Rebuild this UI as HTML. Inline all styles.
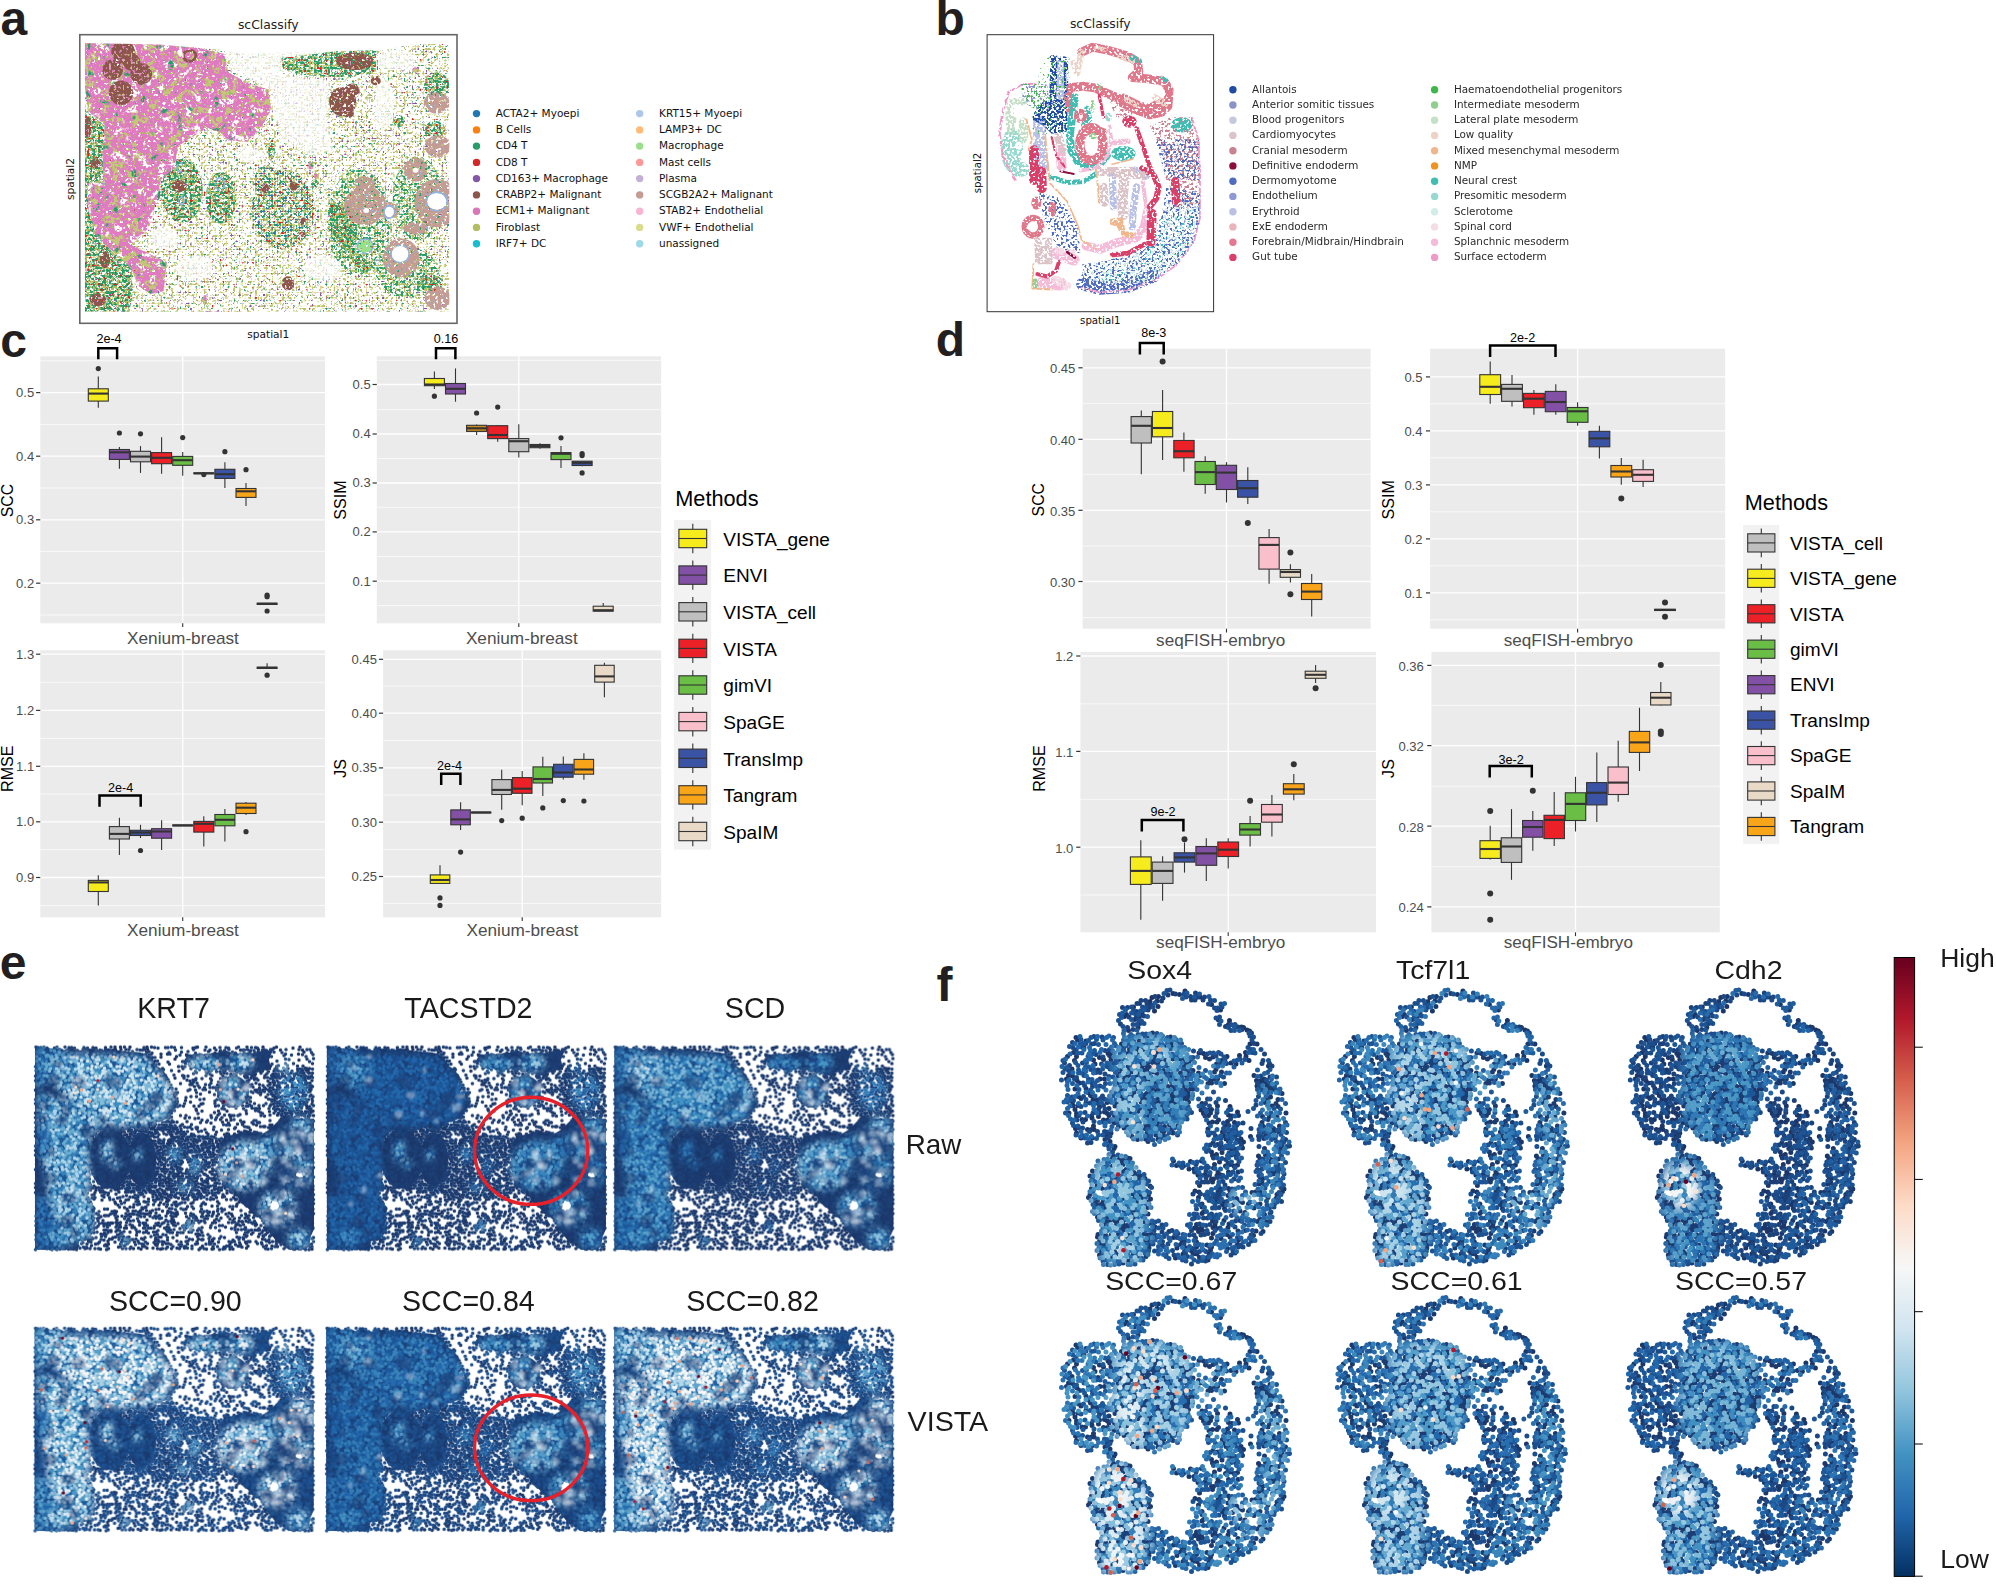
<!DOCTYPE html><html><head><meta charset="utf-8"><title>figure</title><style>html,body{margin:0;padding:0;background:#fff}svg{display:block}</style></head><body>
<svg width="1996" height="1585" viewBox="0 0 1996 1585">
<rect width="1996" height="1585" fill="#fff"/>
<defs><filter id="bl4" x="-30%" y="-30%" width="160%" height="160%"><feGaussianBlur stdDeviation="3"/></filter>
<filter id="bl2" x="-30%" y="-30%" width="160%" height="160%"><feGaussianBlur stdDeviation="1.2"/></filter>
<mask id="eM0" maskUnits="userSpaceOnUse" x="-20" y="-20" width="319" height="243"><g transform="scale(.5)"><path d="M22 5h0m2-2h0m2 2h0m13-2h0m2 3h0m12 2h0m21 0h0m32-2h0m6 2h0m6-2h0m28 1h0m11 0h0m3-6h0m1 5h0m10-5h0m1 5h0m10 0h0m8-5h0m34 0h0m1 4h0m91-2h0m5-1h0m90 5h0m45-6h0m7 7h0m28-1h0m39-6h0m5 6h0m21 9h0m-18-5h0m-11 4h0m-83 5h0m-6-4h0m-33 2h0m-4-5h0m-1 3h0m-11 1h0m-3 3h0m-5-4h0m-4-1h0m-5 2h0m-10 0h0m-2-4h0m-5 3h0m-8-6h0m-7 8h0m-37-1h0m-20 3h0m-18-5h0m-37-5h0m-14 8h0m-4-2h0m-22-1h0m-19-4h0m-3 0h0m-6 5h0m-5 1h0m-9-2h0m-8 5h0m-16-3h0m-7-4h0m-2 2h0m-3-5h0m-3 5h0m-16 0h0m-5 2h0m-11-1h0m-12 0h0m-23 4h0m-4-3h0m0-4h0m-8-2h0m-3 0h0m-8 4h0m-10 4h0m11 2h0m9 5h0m12 3h0m13-8h0m36-1h0m23 0h0m3 4h0m2 6h0m42-9h0m12 0h0m11 1h0m9 0h0m5 4h0m2-5h0m8 6h0m11-2h0m7-4h0m6 1h0m6 0h0m5 7h0m40-4h0m30 5h0m1-9h0m3 1h0m7-1h0m20 1h0m3 5h0m5-7h0m8 2h0m6-2h0m3 4h0m3-3h0m20 4h0m6 0h0m4 2h0m5-2h0m18 2h0m21-2h0m5-1h0m80 3h0m27 7h0m-30 5h0m-54 0h0m-29-5h0m-30 6h0m-8-4h0m-2-5h0m-2 8h0m-3-8h0m-6 0h0m-2 9h0m-3-1h0m-7 0h0m-3-5h0m0 6h0m-6-10h0m-2 9h0m-10 0h0m-6-9h0m-8 4h0m-11 0h0m-3 2h0m-31-6h0m-30 5h0m-28 3h0m-4-4h0m-6 2h0m-5-2h0m-2 4h0m-5-7h0m-7-1h0m-19 6h0m-3 4h0m-8-6h0m-8 5h0m-8-4h0m-3-1h0m-4-3h0m0 7h0m-4-4h0m-3-3h0m-8 9h0m-7-1h0m-7-5h0m-12 0h0m-8 5h0m-6 0h0m-6-9h0m-10 1h0m-10 7h0m-3-2h0m-7-2h0m-8 1h0m-3-5h0m-29 0h0m-11 1h0m-8 3h0m-3 15h0m10-3h0m19 2h0m11-8h0m5 8h0m16-7h0m5 9h0m28 0h0m20-7h0m14 3h0m13-3h0m4 0h0m17 0h0m3 2h0m9 4h0m11-1h0m7-3h0m3 3h0m3-2h0m3 4h0m15-6h0m1 5h0m12-9h0m2 5h0m18-1h0m33 5h0m24-5h0m20-4h0m8 4h0m4-1h0m10-3h0m48 9h0m1-4h0m8-2h0m4 2h0m5 1h0m4-6h0m3 5h0m16-1h0m5 1h0m21-2h0m30 5h0m7-4h0m37 4h0m1-4h0m2 4h0m3-4h0m0 9h0m-17 6h0m-9-5h0m-4 4h0m-7-5h0m-13 6h0m-21 0h0m-2-4h0m-42 4h0m-42-4h0m-14-2h0m-8-3h0m-16 8h0m-56 1h0m-55-5h0m-10-4h0m-1 5h0m-5-2h0m-3 6h0m-10-5h0m-27 5h0m-13-2h0m-2-3h0m-3 5h0m-3-1h0m-3-5h0m-3 6h0m-3-6h0m-18 7h0m-30-1h0m-2-5h0m-6 0h0m-17 6h0m-4-6h0m-14 5h0m-8-4h0m-25-1h0m-6-1h0m-11 0h0m-4 6h0m-11 0h0m6 8h0m2-6h0m13 3h0m1 4h0m10-2h0m14-2h0m10 4h0m8-6h0m15 1h0m13 5h0m28 1h0m10-2h0m7 1h0m11-2h0m30 0h0m5-4h0m2 5h0m3-5h0m16 0h0m5 0h0m11 0h0m2 6h0m20-6h0m23 4h0m44 3h0m11-2h0m64 2h0m40-7h0m85 7h0m1-6h0m4 4h0m2-3h0m10 3h0m13-4h0m1 5h0m13 0h0m-12 8h0m-27 0h0m-10 2h0m-17-1h0m-18-4h0m-14 5h0m-7-2h0m-23-4h0m-61 5h0m-52-3h0m-60-2h0m-9 6h0m-18-6h0m-11-1h0m-3 7h0m-17-2h0m-17-4h0m-29 4h0m-29 0h0m-39-4h0m-10-1h0m-7 0h0m-4 1h0m-5 6h0m-16 0h0m-4-2h0m-14-2h0m-20 13h0m20-6h0m3 6h0m4-2h0m3-2h0m20 3h0m5 1h0m16 0h0m37-2h0m5-4h0m3 9h0m2-9h0m10 1h0m20 4h0m3-5h0m13 5h0m7-5h0m9 5h0m6-1h0m10 2h0m51-5h0m2 3h0m2-3h0m14 4h0m4-4h0m86 0h0m20 3h0m2-3h0m7 4h0m11 0h0m12-3h0m10 5h0m22-1h0m3 3h0m1-3h0m5-4h0m7 4h0m6-2h0m9 3h0m6-2h0m13-4h0m11 0h0m13-1h0m3 1h0m6 0h0m1 8h0m12-4h0m13 0h0m3 0h0m3-6h0m-5 10h0m-13 6h0m-2 4h0m0-8h0m-7 8h0m-3-3h0m-3-2h0m-9-3h0m-30 2h0m-6 3h0m-25-5h0m-26 8h0m-22-1h0m-19-3h0m-18 3h0m-18-8h0m-70 8h0m-1-4h0m-14 5h0m-15-9h0m-21 6h0m-12-6h0m-11 8h0m0-8h0m-2 4h0m-34 2h0m-2-7h0m-35 5h0m-18 1h0m-26 1h0m-8-5h0m-2 4h0m-15-4h0m-9 0h0m-12 0h0m-1 8h0m-27-8h0m-8 5h0m-3-1h0m10 10h0m4 4h0m8-4h0m1-6h0m6 2h0m28 8h0m4-9h0m20 3h0m13-3h0m6 0h0m6 8h0m5 1h0m43-4h0m11-6h0m25 1h0m8 4h0m3 4h0m8-3h0m14-5h0m3 3h0m4 5h0m14 0h0m5-8h0m6 8h0m8-5h0m6 2h0m29 2h0m1-6h0m89 3h0m3 5h0m25-8h0m5 4h0m7-4h0m31-1h0m15 5h0m4-5h0m2 3h0m7-3h0m11-1h0m15 4h0m3-2h0m10 8h0m14 8h0m-12-3h0m-10 0h0m-16-1h0m-10 6h0m-6-6h0m-32 4h0m-33-5h0m-9 5h0m-17 0h0m-12-5h0m-10 0h0m-44 2h0m-14 4h0m-28-1h0m-11-7h0m0 7h0m-16 1h0m-22 1h0m-5-10h0m-17 5h0m-10-1h0m-6-1h0m-3-3h0m-5 5h0m-1 3h0m-11 1h0m-1-9h0m-31 10h0m-29-7h0m-19 6h0m-6 0h0m-16-8h0m-5 8h0m-10-5h0m-12 5h0m-3-4h0m-4-4h0m-8 0h0m-6 9h0m-7-1h0m-1-8h0m-17 13h0m5 0h0m9-4h0m2 5h0m2 4h0m27-1h0m13-4h0m6 0h0m11 1h0m3 5h0m1-7h0m16 7h0m1-5h0m5-1h0m9 4h0m6 0h0m3-3h0m4-2h0m4-3h0m6 0h0m4 0h0m3 4h0m9 5h0m6-4h0m3 2h0m24 1h0m5-4h0m22 5h0m14-2h0m2-2h0m16 2h0m0-4h0m18 1h0m2 4h0m54 0h0m44 1h0m17 0h0m60-5h0m25 6h0m27-1h0m13-1h0m16-5h0m4-3h0m15 3h0m3 1h0m4 3h0m5 2h0m1 9h0m-5-6h0m-6 7h0m-35-6h0m-9 3h0m-15-3h0m-2 4h0m-34-5h0m-62 5h0m-23 0h0m-14 1h0m-50 0h0m-35-5h0m-36 5h0m-1-3h0m-5-1h0m-5 5h0m-8-5h0m-2 4h0m-7-4h0m-9 3h0m-25-3h0m-26-1h0m-18 0h0m-12 4h0m-10 2h0m-12-1h0m-17-5h0m-9 4h0m-4-4h0m-7 6h0m-8-6h0m-26 1h0m-12-2h0m-7 1h0m9 14h0m9-4h0m1 3h0m9-5h0m25 5h0m1-4h0m24 0h0m19 5h0m3 1h0m3-4h0m9 3h0m22 0h0m2-5h0m9 5h0m3-3h0m7 3h0m24-6h0m6 3h0m17-1h0m32 1h0m16-2h0m120 4h0m12 1h0m8-6h0m1 6h0m101-3h0m6-3h0m7 7h0m17 0h0m6 0h0m4-2h0m7 2h0m11 8h0m-5 0h0m-9 4h0m-23-2h0m-9-7h0m-5 0h0m-26 6h0m-4 0h0m-10 3h0m-11-8h0m-6 5h0m-25-6h0m-3 5h0m-10-1h0m-18-2h0m-83-3h0m-20 1h0m-12 1h0m-33 8h0m-4-8h0m-5 0h0m-4 4h0m-17 1h0m-1-5h0m-3 4h0m-15-5h0m0 7h0m-10-6h0m-10 1h0m-24 5h0m-9-7h0m-32 0h0m-3 7h0m-6 0h0m-11-3h0m-3 2h0m-33-1h0m-29 1h0m-1-6h0m-5 0h0m-13 19h0m9-4h0m27-1h0m7 5h0m19-9h0m8 1h0m6-2h0m4 6h0m11 0h0m1 4h0m3-4h0m5 0h0m10-4h0m5-1h0m3 4h0m11-3h0m14-2h0m5 2h0m1 4h0m24 4h0m2-9h0m11 8h0m1-4h0m3-5h0m2 7h0m8 2h0m6-8h0m2 8h0m19-8h0m4 4h0m3-3h0m2 3h0m4 5h0m7-5h0m8-3h0m7 4h0m9 4h0m52-5h0m16 1h0m61-4h0m22 8h0m5-8h0m3 5h0m40-3h0m13-4h0m13 5h0m7 4h0m11-8h0m32 8h0m6 1h0m-9 5h0m-6-1h0m-8-2h0m-6 5h0m-6-2h0m-3 4h0m-20-1h0m-20-2h0m-15 4h0m-1-4h0m-3 3h0m-26-3h0m-46-2h0m-3 6h0m-54 0h0m-26-5h0m-9 1h0m-4-5h0m-14 5h0m-1 3h0m-15-5h0m-22 2h0m-12 3h0m-24-5h0m-10 6h0m-7-4h0m-11-2h0m-7 5h0m-24 0h0m-4 0h0m-3-5h0m-12 0h0m-7 6h0m-19-6h0m-32 0h0m-4 5h0m-59 0h0m5 5h0m3 1h0m21 3h0m19-2h0m5-2h0m3 4h0m2-2h0m7-6h0m18 1h0m19 7h0m15-3h0m2 4h0m11 0h0m1-9h0m4 6h0m1 3h0m9-5h0m3-3h0m17 4h0m3 5h0m2-5h0m14-4h0m4 5h0m16-1h0m3-5h0m8 4h0m15 2h0m5 3h0m3-8h0m28 7h0m12-4h0m17 1h0m49-1h0m4 0h0m5 4h0m26 0h0m8-3h0m7 5h0m5 0h0m11-5h0m26 0h0m29-5h0m1 9h0m8-4h0m28 1h0m4-1h0m2 5h0m21-2h0m8-7h0m7 3h0m7 14h0m-9 0h0m-7 2h0m-3-7h0m-19 6h0m-6-6h0m-16 2h0m-5-4h0m-13 4h0m-1 2h0m-7 1h0m-6 0h0m-1-4h0m-18 1h0m-12 2h0m-17 1h0m-6 1h0m-4 0h0m-12-8h0m0 8h0m-16-2h0m-8-2h0m-1 4h0m-9-5h0m-10 0h0m-4 4h0m-3-5h0m-15-1h0m-12 3h0m-14 0h0m-5 3h0m-22-5h0m-4 4h0m-2-3h0m-13 0h0m-4-1h0m-7 2h0m-31 0h0m-9 3h0m-1-5h0m-3 5h0m-5 1h0m-15-5h0m-5 0h0m-3 4h0m-3-4h0m-22-4h0m-8 8h0m-6-4h0m-4 3h0m-11-6h0m-5 7h0m-1-4h0m-9 5h0m-4-7h0m-3 6h0m-2-3h0m-4 3h0m-10-7h0m-21 7h0m-2-4h0m-3 5h0m-1-9h0m-4 8h0m-18 0h0m-1-3h0m-18-1h0m-3 4h0m0-8h0m-5 18h0m24 0h0m13-4h0m21-1h0m28-1h0m3 5h0m16-3h0m9 3h0m5 1h0m3-5h0m12 0h0m19 6h0m18-5h0m19 5h0m8-5h0m4 5h0m6-1h0m14 0h0m21-5h0m14-1h0m53 6h0m17 0h0m7-5h0m33 5h0m12-1h0m2-3h0m7 0h0m16-1h0m7 4h0m27 1h0m25-6h0m12 6h0m16 0h0m5-5h0m24 5h0m12-6h0m5 7h0m5-1h0m0 9h0m-7-6h0m-14 2h0m-1 4h0m-25-5h0m-2 4h0m-12 0h0m-19-5h0m-11 6h0m-5-3h0m-11-3h0m-10 1h0m-11 0h0m-16 1h0m-19 3h0m-5 2h0m-6 0h0m-10-2h0m-3-4h0m-17 0h0m-14 5h0m-3 1h0m-6 1h0m-17-2h0m-1-4h0m-68 0h0m-2 5h0m-2-4h0m-2 4h0m-5 0h0m-21-4h0m-8 4h0m-8-6h0m-11 7h0m-3-8h0m-15 5h0m-17-3h0m-4 5h0m-13-4h0m-31 5h0m-4-3h0m-13 0h0m-12-3h0m-31 3h0m-7-4h0m-3 4h0m-1-2h0m-10 4h0m-3-7h0m-1 16h0m9-1h0m22 0h0m9-3h0m5-2h0m28 2h0m27-1h0m11 4h0m25 4h0m3-5h0m4-2h0m5-1h0m7 5h0m10-4h0m8 4h0m6-1h0m1-3h0m7 0h0m7 3h0m13-3h0m12-1h0m1 5h0m8-5h0m8 5h0m4-6h0m6 9h0m5-8h0m3 4h0m36 2h0m8-7h0m9 4h0m2 5h0m11-8h0m14 4h0m19-6h0m24 7h0m3-5h0m11 1h0m8 4h0m10-1h0m31-5h0m4 2h0m3 4h0m6-2h0m5 0h0m9-2h0m41-2h0m10 6h0m2-5h0m12 0h0m3 4h0m9 2h0m6-1h0m-16 8h0m-5 1h0m-7-1h0m-9-1h0m-18 3h0m-13-5h0m-27-1h0m-8 4h0m-3-3h0m-11-1h0m-9 0h0m-9 5h0m-10 0h0m-5-4h0m-2 3h0m-2-2h0m-5 0h0m-3 4h0m-6-1h0m-13 4h0m-10-9h0m-12 1h0m-3 3h0m-22 0h0m-18-4h0m-25 4h0m-1 5h0m-22 0h0m-2-4h0m-18 0h0m-2-5h0m-3 5h0m-79-6h0m-28 5h0m-6 0h0m-10 2h0m-8-7h0m-5 2h0m-17-2h0m-5 6h0m-34-6h0m-29 5h0m-3-3h0m0 9h0m3 5h0m6-2h0m1-3h0m9 6h0m3-7h0m3 5h0m2-4h0m7 8h0m5-8h0m1 5h0m10-6h0m8 6h0m6-5h0m11 0h0m45 4h0m8 1h0m11 0h0m21 0h0m5 0h0m3-5h0m23 5h0m10-4h0m15 7h0m1-8h0m11 1h0m7 2h0m11 1h0m7 5h0m22-9h0m19 5h0m13-1h0m15-1h0m2 6h0m8-4h0m13 3h0m12-7h0m22 0h0m0 8h0m25-1h0m23 0h0m14-2h0m3-6h0m17 5h0m5-5h0m11 3h0m4-4h0m6 9h0m6 0h0m1-3h0m4-4h0m3 2h0m14 3h0m15-6h0m14 8h0m3-7h0m-18 18h0m-5-10h0m-29 6h0m-7 0h0m-31 0h0m-3 4h0m-5-10h0m-9 4h0m-2 5h0m-48-8h0m-14 4h0m-8-4h0m-5 7h0m-6 2h0m-3-6h0m-4 4h0m-10-7h0m-12 4h0m-21 4h0m-22 0h0m-7-6h0m-2 6h0m-3-4h0m-13-4h0m-12-1h0m-7 6h0m-11-1h0m-10-1h0m-4 5h0m-3-6h0m-1 6h0m-2-8h0m-11 0h0m-30 3h0m0 6h0m-7-9h0m-1 8h0m-7-3h0m-22 0h0m-34 3h0m-7-8h0m-3 3h0m-38 5h0m-8-1h0m-2-2h0m-11 4h0m-15-4h0m-6-1h0m-12-5h0m-2 8h0m0 11h0m35 0h0m8-1h0m9-5h0m2 6h0m4-4h0m44-2h0m3 2h0m13-5h0m6 7h0m12 1h0m3-5h0m1-2h0m2 6h0m10 2h0m7-6h0m14 7h0m20-7h0m1 4h0m15-3h0m10 1h0m9-4h0m10 8h0m8-6h0m2 5h0m11 2h0m3-7h0m3 5h0m27 0h0m22 2h0m27-1h0m3-6h0m12 4h0m8 0h0m18-2h0m24 3h0m9-5h0m3 6h0m49-5h0m7-1h0m2 5h0m4-4h0m1 4h0m5 1h0m15-6h0m7 6h0m7-1h0m11 1h0m9-1h0m9-5h0m-17 12h0m-2 4h0m-10-2h0m-4-4h0m-6 2h0m-5-1h0m-3 3h0m-26 0h0m-1-7h0m-4 8h0m-2-3h0m-35-1h0m-1 5h0m-3-5h0m-9 3h0m-5 1h0m-8-4h0m-23 0h0m-6 4h0m-14-5h0m-3 6h0m-18-7h0m-21 5h0m-15 1h0m-27-1h0m-6 2h0m-5 0h0m-1-6h0m-6 0h0m-13 1h0m-46-2h0m-9 5h0m-10-7h0m-10 7h0m-6 1h0m-11 0h0m-3-5h0m-36 6h0m-25-5h0m-11 0h0m-12 4h0m-5 0h0m-11-1h0m-11 2h0m-16-9h0m-3 2h0m-23 10h0m12 2h0m3 2h0m17-4h0m10 4h0m6 0h0m1-3h0m18 4h0m33-5h0m21 0h0m0 5h0m5-5h0m6 1h0m5-1h0m25 0h0m3 5h0m3-3h0m14 3h0m11 2h0m35-6h0m17 5h0m17-4h0m2 2h0m17 1h0m16-6h0m15 7h0m20-5h0m3 5h0m11-6h0m26 0h0m7 1h0m39 0h0m5 0h0m3 4h0m7-3h0m14 4h0m2-5h0m2 5h0m5-1h0m9-3h0m6-2h0m17 4h0m9-3h0m3 5h0m2-6h0m12-1h0m12 2h0m5-2h0m2 6h0m9-3h0m10-1h0m3 3h0m-4 6h0m-5 0h0m-41 4h0m-3-5h0m-32 0h0m-8 6h0m-10-1h0m-6-1h0m-2-4h0m-13 6h0m-6 0h0m-13-4h0m-5 3h0m-5 1h0m-2-5h0m-1 4h0m-16-3h0m-19-1h0m-23 0h0m-15 1h0m-19 4h0m-16 0h0m-28-2h0m-24-3h0m-4 4h0m-44-5h0m-55 0h0m-17 1h0m-24 6h0m-1-7h0m-31 5h0m-7 0h0m-4 2h0m-4-1h0m-3-4h0m-12 0h0m-5-2h0m-14 6h0m-4 0h0m17 10h0m34-7h0m8 5h0m7-5h0m26 5h0m15 0h0m52-3h0m1 7h0m16-3h0m9-5h0m10 0h0m21 4h0m10 2h0m15-6h0m15-1h0m5 2h0m33 0h0m19 3h0m33 0h0m8 5h0m32-8h0m4 4h0m9 0h0m1-5h0m21 6h0m45-7h0m21 10h0m11-3h0m9-2h0m5 2h0m6-1h0m6 1h0m3-5h0m5 0h0m14 12h0m-18 2h0m-30-4h0m-7 4h0m-2 3h0m-5-2h0m-1-5h0m-23-2h0m-8 6h0m-2-5h0m-7 1h0m0 2h0m-36-4h0m-10 1h0m-5 8h0m-35-5h0m-14 5h0m-42-5h0m-47-4h0m-14 2h0m-3 5h0m-30-7h0m-57 4h0m-1-3h0m-49 0h0m-6 8h0m-1-9h0m-19 6h0m-10 1h0m-8-6h0m-1 8h0m-31-8h0m-6 8h0m-7-4h0m-5-4h0m-8 1h0m-3 14h0m6-5h0m6 9h0m9-6h0m3 4h0m15 1h0m10-8h0m4 3h0m12 6h0m4-6h0m12-3h0m14 3h0m13 2h0m2 3h0m2-5h0m36 6h0m9 0h0m21-5h0m6-4h0m7 0h0m33 9h0m12-4h0m21-6h0m3 9h0m36-4h0m3-5h0m90 5h0m34-4h0m10 0h0m4 3h0m25-4h0m20 8h0m25-3h0m10-1h0m9 5h0m10-8h0m3 3h0m11 1h0m-4 6h0m-15 7h0m-3-3h0m-9 4h0m-4 0h0m-4-4h0m-53 0h0m-12 5h0m-8-2h0m-14-7h0m-7 8h0m-28 0h0m-2-4h0m-5-2h0m-31-2h0m-1 4h0m-25-5h0m-19 4h0m-9 6h0m-2-7h0m-70 0h0m-6 2h0m-5 0h0m-12 3h0m-1-7h0m-26 9h0m-34-2h0m-24-4h0m-8 4h0m-29-4h0m-3 4h0m-9-4h0m-3-1h0m-8 0h0m-40 7h0m-11-2h0m-2-4h0m-6 10h0m8-1h0m7 4h0m3-2h0m1 3h0m2-3h0m7-1h0m5-1h0m7 5h0m14-5h0m9 5h0m12-5h0m16 6h0m6 0h0m3-1h0m7-5h0m5 5h0m9-4h0m11 4h0m28-1h0m60 0h0m53 0h0m31-3h0m6 5h0m12-1h0m14-4h0m32-1h0m18 2h0m18 4h0m6 1h0m8-1h0m4-6h0m11-1h0m25 5h0m23-4h0m14 5h0m15 0h0m6-1h0m15-3h0m9-1h0m10 6h0m1 4h0m-16 0h0m-2 6h0m-26-2h0m-4-4h0m-1 5h0m-3-4h0m-16 3h0m-4 0h0m-40-1h0m-2-3h0m0 5h0m-34-2h0m-5 1h0m-41-5h0m-47 1h0m-10 5h0m-18-4h0m-7-2h0m-5 1h0m-27 0h0m-52 5h0m-5-2h0m-28-4h0m-7 1h0m-9 0h0m-35 5h0m-8-1h0m-1-3h0m-5-2h0m-17 1h0m-11-1h0m-1 7h0m-5-6h0m-6-1h0m-5 5h0m-9-5h0m-39 1h0m-1 14h0m1-4h0m37 5h0m9-5h0m8-1h0m7-1h0m4 0h0m5 2h0m5 3h0m11-3h0m11 5h0m5-7h0m4 5h0m42 2h0m27-5h0m4 0h0m11-1h0m44 1h0m26-2h0m26 3h0m12-1h0m23 5h0m9-6h0m66 0h0m40 5h0m5 0h0m3-3h0m11-2h0m2 5h0m2-3h0m24 3h0m13 0h0m26 0h0m20 4h0m-22 0h0m-7 2h0m-4-1h0m-6 1h0m-25 3h0m-5 0h0m-6 2h0m-6-6h0m-4 4h0m-42 0h0m-85-4h0m-7 3h0m-19-4h0m-12 1h0m-12 5h0m-9-5h0m-10-2h0m-88 10h0m-25-10h0m-15 6h0m-19-4h0m-11-1h0m-10 0h0m-6 2h0m-8 4h0m-3-6h0m-9 9h0m-21-4h0m-7-5h0m-21 6h0m-10-1h0m-3-6h0m-3 1h0m14 16h0m8-1h0m15-6h0m6 10h0m18-5h0m21 1h0m14-5h0m4 4h0m6 1h0m34 3h0m3-4h0m7-3h0m5-1h0m7 1h0m7 4h0m13-5h0m25 3h0m7-2h0m28 8h0m0-9h0m4 0h0m24 1h0m8 7h0m31-3h0m10-6h0m11 6h0m19 0h0m92-6h0m8 5h0m26-4h0m1 9h0m13-3h0m6-7h0m8 7h0m11-1h0m10 0h0m4 3h0m9-3h0m2-4h0m8 13h0m-30-4h0m-4 0h0m-3 4h0m-5 1h0m-12 0h0m-10-5h0m-15 8h0m-44-9h0m-7 4h0m-12 2h0m-10 0h0m-46-6h0m-54 10h0m-29-4h0m-10-2h0m-21 2h0m-3-4h0m-13 2h0m-8 2h0m-18-5h0m-26 0h0m-26 4h0m-5 1h0m-35-6h0m-26 1h0m-4 4h0m-6-1h0m-37 2h0m-4-5h0m0 4h0m-9 4h0m-7-5h0m-7 2h0m-2 5h0m14 2h0m11 1h0m11 0h0m2-4h0m88 5h0m16-1h0m20-3h0m4-1h0m19 4h0m7 0h0m15 1h0m12-2h0m21 1h0m10 0h0m29-1h0m44 3h0m29-2h0m128-4h0m35 5h0m7-1h0m27 1h0" fill="none" stroke="#fff" stroke-width="7.1" stroke-linecap="round"/></g></mask>
<mask id="eM1" maskUnits="userSpaceOnUse" x="-20" y="-20" width="319" height="243"><g transform="scale(.5)"><path d="M2 1h0m3 7h0m1-6h0m62 0h0m0 5h0m5-5h0m43 0h0m6 1h0m19 4h0m0-5h0m38-1h0m9 5h0m32 0h0m59-4h0m46-1h0m25 6h0m9-4h0m66 3h0m16-4h0m42-1h0m45 5h0m7 10h0m-37 2h0m-68-8h0m-4 5h0m-25 5h0m-10-1h0m-10-6h0m-11-2h0m-5 6h0m-42 0h0m-2-4h0m-53-1h0m-16 3h0m-24 1h0m-5-5h0m-2 6h0m-16-1h0m-5-1h0m-14-2h0m-13 2h0m-19-4h0m-11 2h0m-2 5h0m-10 2h0m0-10h0m-2 5h0m-7-4h0m-2 9h0m-23-5h0m-17 1h0m-2-4h0m-11 0h0m-9 5h0m-25 0h0m-24-1h0m-5 0h0m1 8h0m9-2h0m2 4h0m6 0h0m27 0h0m5 0h0m10-1h0m7-1h0m10 3h0m14-6h0m3 0h0m3 3h0m31 5h0m4-3h0m0 3h0m4-3h0m11-2h0m17 2h0m15 0h0m24-5h0m1 9h0m5-8h0m12 7h0m2-2h0m4-3h0m21-3h0m51 5h0m0 3h0m9-3h0m6-1h0m17 0h0m4 1h0m13-5h0m5 4h0m21 2h0m1-5h0m19-1h0m16 8h0m20 1h0m22-9h0m5 8h0m5-8h0m78 4h0m-27 9h0m-61-4h0m-6 1h0m-5-1h0m-13 6h0m-2 4h0m-1-9h0m-22 0h0m-1 8h0m-17-5h0m-15-4h0m-17 4h0m-8 2h0m-24-5h0m-4 8h0m-9-4h0m-11-1h0m-53 1h0m-26 0h0m-8 5h0m-7-2h0m-22 0h0m0-8h0m-4 8h0m-2-4h0m-14-3h0m-18 8h0m-3-5h0m-5 1h0m-13-5h0m-12 5h0m-8 1h0m-4-1h0m-11-1h0m-10 0h0m-10 5h0m-8-5h0m-11 6h0m-13 0h0m-10-1h0m-22-7h0m-6 8h0m5 4h0m13-3h0m5 8h0m10-8h0m4 3h0m17-1h0m2 6h0m3-9h0m15 5h0m8 4h0m1-9h0m16 1h0m1 3h0m8 4h0m13 1h0m0-6h0m5 6h0m1-5h0m5 6h0m21-1h0m8-5h0m35 5h0m13-6h0m3 6h0m28 0h0m5-1h0m11-2h0m39-2h0m27-1h0m6 3h0m21-2h0m12 0h0m11 0h0m17-1h0m9 0h0m8 5h0m4 1h0m21-3h0m6 3h0m3-8h0m23 4h0m14 4h0m58-1h0m4-5h0m7 17h0m-9-2h0m-4-5h0m-7 4h0m-32-3h0m-1 6h0m-30-6h0m-4 4h0m-19-3h0m-2 3h0m-15 1h0m-5 0h0m-17-1h0m-10-1h0m-8-3h0m-8 5h0m-4-5h0m-9-4h0m-15 0h0m-4 3h0m-38 6h0m-45-1h0m-6-1h0m-6 3h0m-3-1h0m-13-1h0m-4-1h0m-7-4h0m-16 1h0m-19-1h0m-3 0h0m-6 2h0m-26 3h0m-5 0h0m-18-5h0m-14 4h0m-38 1h0m-3-5h0m-3 0h0m-9-3h0m-15 7h0m-11-2h0m-7 3h0m-7-4h0m-11 1h0m-5-1h0m-5 14h0m14-6h0m5 7h0m11-6h0m13-1h0m61 6h0m10 0h0m4-6h0m14 1h0m10 4h0m1-4h0m8 3h0m3-4h0m16 0h0m5 6h0m2-4h0m21 0h0m9 2h0m7-4h0m19 4h0m11 2h0m15 0h0m3-6h0m17 1h0m24 4h0m107 2h0m10-7h0m11 1h0m7 3h0m4-2h0m23 5h0m15-7h0m21 1h0m44 0h0m4 10h0m-6 0h0m-11 0h0m-4-2h0m-15 1h0m-13 1h0m-6-1h0m-11 6h0m-5-6h0m-1 5h0m-2-6h0m-6 5h0m-53 1h0m-21 0h0m-17-4h0m-5 5h0m-1-5h0m-32 3h0m-24-5h0m-3 5h0m-4 0h0m-42-5h0m-19 1h0m-11 1h0m-27-1h0m-4 6h0m-2-5h0m-10 1h0m-19 1h0m-9-4h0m-9 6h0m-14-4h0m-7 5h0m-8-6h0m-6-1h0m-8 5h0m-24-5h0m-4 0h0m-5 6h0m-6-4h0m-14 5h0m-14-6h0m-10 0h0m-26 6h0m-1 5h0m8 4h0m1 3h0m7-8h0m27 1h0m9 2h0m6-4h0m13 0h0m3 2h0m2 4h0m3-6h0m13 5h0m18 1h0m2-6h0m2 5h0m6-1h0m4-3h0m26 0h0m6-1h0m2 7h0m20-7h0m5 9h0m14-3h0m2 3h0m3-3h0m14 3h0m7-4h0m8-4h0m14 4h0m2-3h0m16 0h0m8 2h0m28 1h0m9-6h0m10 2h0m7 4h0m5 0h0m26-4h0m22-2h0m14 3h0m3 2h0m30-4h0m34 2h0m15-1h0m21 0h0m11 8h0m10-3h0m23-5h0m-8 15h0m-2 2h0m-2-8h0m-8 0h0m-19 5h0m-21-4h0m-14 7h0m-25-3h0m-15-4h0m-4-2h0m-10 0h0m-9 4h0m-3-4h0m-139 5h0m-5 0h0m-9 1h0m-4-4h0m-9 3h0m-6 5h0m0-8h0m-6 8h0m-13-6h0m-3 5h0m-4-2h0m-20-1h0m-8 0h0m-19-1h0m-9-5h0m-2 6h0m-7-1h0m-10-1h0m-11 0h0m-16 2h0m-25 3h0m-33-2h0m-7-2h0m-6 2h0m-2-5h0m-6-2h0m-8 7h0m-9-2h0m-5-3h0m-6-1h0m6 18h0m1-9h0m6 1h0m2 5h0m11-2h0m10 2h0m15 3h0m14-3h0m19 3h0m3-3h0m4-2h0m3 5h0m10-8h0m8 4h0m14 4h0m6-9h0m6 10h0m3-5h0m18 5h0m2-5h0m32-1h0m24-3h0m21 9h0m15-6h0m13-3h0m54-1h0m15 5h0m26 1h0m9 2h0m3-4h0m19 2h0m5 3h0m8-5h0m5 1h0m59 1h0m29 3h0m6-9h0m26 6h0m2 3h0m4 2h0m-2 4h0m-39 1h0m-2-5h0m-11 8h0m-37-1h0m-17-8h0m-5 9h0m-49 0h0m-16 0h0m-25-5h0m-8 5h0m-31 0h0m-13-5h0m-6 0h0m-4-3h0m0 7h0m-4 2h0m-13-6h0m-8 4h0m-4-4h0m-6 0h0m-17 5h0m-8-1h0m-3 0h0m-20-5h0m-23 0h0m-2 5h0m-1-3h0m-3 3h0m-3-4h0m-11 1h0m-7-1h0m-12 6h0m-10-9h0m-7 7h0m-3-4h0m-27 4h0m-10-4h0m-1-3h0m-3 8h0m-10-4h0m-10 3h0m-6 2h0m-19-7h0m-3-3h0m-12 5h0m-2 3h0m-5-4h0m2 10h0m26-1h0m1 7h0m3-6h0m4-4h0m12 9h0m11-9h0m10 9h0m38 0h0m4-1h0m4-4h0m45 3h0m16-7h0m5 3h0m8 0h0m4 4h0m6 2h0m3-9h0m1 8h0m13-5h0m23 0h0m35 4h0m2-4h0m45 2h0m52-1h0m48 4h0m12-5h0m6 1h0m9 0h0m19 0h0m11-4h0m23 0h0m22 7h0m9 3h0m8 0h0m8-10h0m1 18h0m-17-1h0m-38 2h0m-1-5h0m-39 0h0m-32 0h0m-13 2h0m-12 2h0m-4 0h0m-68-4h0m-53-1h0m-8 4h0m-3-3h0m-7 0h0m-3-2h0m-18 0h0m-7 6h0m-10-6h0m-12 6h0m-31-5h0m-2 5h0m-9-4h0m-6 3h0m-4-4h0m-2 5h0m-11 0h0m-9-3h0m-11 2h0m-15-5h0m-11 0h0m-7 6h0m-3-4h0m-10 5h0m-19-5h0m-11 4h0m-16 0h0m-4-5h0m-10-1h0m-5 4h0m-8 6h0m7-1h0m5 0h0m13 7h0m5-2h0m7 0h0m12-5h0m9 5h0m23-3h0m8 0h0m1 4h0m37-5h0m11 6h0m22 0h0m7 0h0m6-2h0m4 0h0m19-3h0m1 6h0m29-2h0m16 1h0m22 1h0m35-6h0m20 1h0m7-1h0m36-1h0m155 4h0m37 10h0m-12-5h0m-10 9h0m-26-4h0m-132-5h0m-83 7h0m-51-2h0m-8 1h0m-14-6h0m-22 0h0m-13 5h0m-17 2h0m-3-6h0m-4 4h0m-25-1h0m-8-5h0m-19 6h0m-8-4h0m-6 0h0m-5 0h0m-6 1h0m-9 5h0m-2-5h0m-3 3h0m-9 0h0m-10-4h0m-14 6h0m-11-2h0m-2-4h0m-14 5h0m-7 5h0m16 7h0m2-4h0m3-4h0m23 1h0m3 8h0m3-8h0m4 7h0m15-5h0m13-3h0m2 5h0m14-5h0m6 4h0m17 1h0m4-5h0m3 4h0m5 0h0m4 2h0m17 0h0m9-5h0m7 5h0m25-6h0m4 5h0m12 4h0m0-9h0m4-1h0m1 10h0m51-4h0m3-5h0m4 5h0m2-4h0m3 3h0m4 1h0m42 4h0m30-4h0m30 0h0m70-6h0m15 1h0m4 1h0m5 3h0m13-3h0m7 4h0m3-5h0m17 0h0m3 4h0m9 0h0m6 2h0m12-2h0m2-3h0m-1 17h0m-15-9h0m-4 9h0m-5-3h0m-9 3h0m-8-4h0m-2 4h0m-4 1h0m-5 0h0m-1-8h0m-4 2h0m-5 2h0m-47-2h0m-15-3h0m-16 1h0m-1 4h0m-4-6h0m-5 9h0m-3-4h0m-12 0h0m-26 1h0m-77-2h0m0-2h0m-2 2h0m-15-3h0m-33 1h0m-1 2h0m-4-3h0m-3 5h0m-14 3h0m-22-4h0m-11 2h0m-14-5h0m-10 8h0m-3-10h0m-7 5h0m-7-4h0m-9 5h0m-20 2h0m-5-7h0m-3 8h0m-12-8h0m-15 4h0m-18 5h0m-5-2h0m-6 0h0m-2-2h0m-2-5h0m-8 3h0m-2-3h0m-2 9h0m-4-9h0m-5 5h0m-4-1h0m-3 4h0m-9-3h0m4 4h0m6 6h0m6-6h0m3 5h0m2-1h0m7 1h0m37 0h0m9-5h0m9 5h0m7-4h0m1 9h0m5 0h0m24-7h0m16 2h0m11 0h0m10-1h0m13 5h0m23 1h0m16-2h0m9-3h0m7-5h0m19 6h0m24 3h0m2-5h0m3-3h0m17 0h0m18 5h0m8 3h0m10-1h0m24-2h0m14 0h0m2 3h0m16 1h0m4-10h0m8 3h0m10-3h0m44 9h0m19 0h0m2-9h0m16 1h0m1 4h0m35 5h0m4-6h0m12 4h0m13-4h0m-8 13h0m-13 2h0m-13 1h0m-1-6h0m-6-1h0m-4 5h0m-11-4h0m-3 4h0m-9-4h0m-6 1h0m-2 5h0m-15-7h0m-7-2h0m-9 2h0m-9 1h0m-14-4h0m-1 7h0m-25-3h0m-15 0h0m-4 6h0m-1-6h0m-21 4h0m-16-7h0m-3-1h0m-2 7h0m-11 2h0m-14 1h0m-24-7h0m-8 5h0m-22-5h0m-12 7h0m-19-7h0m-5 0h0m-1 7h0m-1-9h0m-13 3h0m-12-2h0m-7 7h0m-3-5h0m-34-1h0m-10 2h0m-5-2h0m-11 0h0m-4 5h0m-2-3h0m-14 2h0m-1-3h0m-14-3h0m-6 7h0m-12-4h0m-4-4h0m-3 3h0m-16 1h0m-11-1h0m-2 5h0m0-8h0m-18 3h0m-11 9h0m1 7h0m16-7h0m21 5h0m7 1h0m2-5h0m4 5h0m9-1h0m16 2h0m22 0h0m5-2h0m5-5h0m29 7h0m6-2h0m36 0h0m8-2h0m24 0h0m7-5h0m1 3h0m7 1h0m17 3h0m12 1h0m16 0h0m5-2h0m32 2h0m14-4h0m17-1h0m2 5h0m9-4h0m1 3h0m3-5h0m7 0h0m4 3h0m25 4h0m10 0h0m9-6h0m4 4h0m6-3h0m5 5h0m18-6h0m11 0h0m7 5h0m22 1h0m12-1h0m1-4h0m8 3h0m5 1h0m16-5h0m0 4h0m9-5h0m14 7h0m-4 3h0m-1 6h0m-16-1h0m-20-5h0m-12 4h0m-11 2h0m-5-5h0m-4 1h0m-12 2h0m-9-2h0m-3 5h0m-25-6h0m-3 3h0m-5 0h0m-4 0h0m-9-5h0m-3 8h0m-4-5h0m-2 4h0m-11-2h0m-12-5h0m-10 0h0m-19 5h0m-8 0h0m-10 1h0m-23-6h0m-15 6h0m-1-3h0m-6-1h0m-3 5h0m-27-1h0m-16-1h0m-6 1h0m-13-4h0m-8 3h0m-2-4h0m-13 7h0m-10-8h0m-15 2h0m-7 5h0m-5-4h0m-13 2h0m-2-4h0m-20 4h0m-2-2h0m-11-1h0m-9 4h0m-19-4h0m-6 1h0m-3 4h0m-1-7h0m-7 7h0m-22-1h0m-5-5h0m-14 1h0m-14 5h0m27 9h0m11-2h0m2-2h0m9 4h0m3-5h0m6 6h0m7-3h0m7-3h0m5 1h0m5 3h0m0-4h0m17 0h0m15 4h0m7-3h0m4 3h0m1-4h0m24 4h0m14-6h0m23 1h0m8 6h0m4 0h0m25-4h0m13 3h0m16 0h0m4-3h0m5-2h0m2 7h0m9-5h0m2 4h0m17-1h0m9 1h0m4-5h0m7 6h0m9-7h0m29 4h0m9-2h0m27-1h0m8 5h0m16-1h0m17 1h0m46-4h0m3 3h0m5 2h0m14-6h0m8 4h0m9 0h0m17-1h0m14-3h0m0 10h0m-5-2h0m-6 2h0m-15 1h0m-6-1h0m-32-2h0m-9 6h0m-7 0h0m-16 0h0m-5-1h0m-10 1h0m-1-4h0m-9 5h0m-23 0h0m-2 3h0m-21-9h0m-22 1h0m-29 5h0m-19-4h0m-24-2h0m-3 4h0m-11-4h0m-6 0h0m-3 5h0m-19-4h0m-7 3h0m-17 1h0m-4-4h0m-2 4h0m-7-6h0m-12 3h0m-16-3h0m-15 2h0m-2 4h0m-4 3h0m-1-8h0m-1 6h0m-10 2h0m-22-2h0m-15-4h0m-1 2h0m-13 2h0m-5-1h0m-5-1h0m-7 0h0m-14 2h0m-15-1h0m-8 1h0m-15-2h0m-18-2h0m-11 0h0m-3 2h0m56 15h0m5-8h0m8 2h0m6 0h0m12 3h0m26 0h0m3-7h0m7 4h0m41 5h0m6-8h0m9 5h0m3-2h0m4 5h0m1-9h0m2 1h0m13-1h0m17 1h0m3 4h0m6 5h0m17-8h0m13 3h0m11-1h0m18 1h0m0-3h0m22 0h0m6-2h0m11 10h0m5-9h0m29 8h0m10 0h0m21 1h0m6-10h0m5 10h0m2-3h0m9-6h0m3 1h0m7 7h0m3-3h0m5-2h0m5 2h0m4-4h0m21-1h0m6-1h0m7 5h0m20-5h0m2 5h0m4-5h0m28 6h0m8 3h0m5-8h0m7 0h0m1 3h0m2 11h0m-4 4h0m-7-3h0m-30-5h0m-17 7h0m-12-3h0m-9 5h0m-4-5h0m-15 1h0m-3-5h0m-16 8h0m-5 0h0m-9-4h0m-8 4h0m-6-5h0m-7 1h0m-48 0h0m-9 4h0m-21-9h0m-15 4h0m-1 6h0m-27 0h0m-3-6h0m-2 5h0m-31-4h0m-2-5h0m-2 8h0m-22-2h0m-3-5h0m-17 0h0m-4 2h0m-2 7h0m0-9h0m-1 4h0m-4 4h0m-6-9h0m-13 5h0m-8-5h0m-9 8h0m-6-7h0m-5 0h0m-4 3h0m-12-3h0m-11 3h0m-18-4h0m-2 4h0m-17 0h0m-3 0h0m-9 4h0m-3-4h0m-6 0h0m-3-3h0m-18 3h0m-12 6h0m-1-10h0m-8 4h0m-11 0h0m5 12h0m37-1h0m2-4h0m7 8h0m35-4h0m1-4h0m6 7h0m2-4h0m3 4h0m1-7h0m19 2h0m4 6h0m3-4h0m6 3h0m13-5h0m29 2h0m7-4h0m7 9h0m1-7h0m11 1h0m1 6h0m3-5h0m6 3h0m20 1h0m7-5h0m17 2h0m3 3h0m3-5h0m6-4h0m6 8h0m13 0h0m3-8h0m13 1h0m4 8h0m4-9h0m9 3h0m5-3h0m8 5h0m20-1h0m5-1h0m23 0h0m11 1h0m1 4h0m18-3h0m5 4h0m8-5h0m8 4h0m6-5h0m6 2h0m8-2h0m1 5h0m4-4h0m5 1h0m1 3h0m34-1h0m1-3h0m35 5h0m5-4h0m3 0h0m3 3h0m11 2h0m2-9h0m-1 18h0m-6 0h0m-25-5h0m-5 1h0m-8 3h0m-6 1h0m-9-1h0m-10 0h0m-6-1h0m-19-5h0m-24 1h0m-27 4h0m-6 1h0m-6 1h0m-5 0h0m-4-6h0m-3 6h0m-5 0h0m-36-5h0m-11 3h0m-3-2h0m-6-1h0m-15-1h0m-5 1h0m-3 3h0m-10-3h0m-5-1h0m-31 6h0m-8-2h0m-7 2h0m-4 0h0m-11 0h0m-9-6h0m-3 5h0m-2-3h0m-8 4h0m-6-2h0m-20-5h0m-2 7h0m-5-9h0m-9 2h0m-2-2h0m-12 4h0m-40-1h0m-11 4h0m-6 0h0m-5 1h0m-7-1h0m-18-3h0m-43 10h0m4-1h0m9 3h0m4 1h0m10-3h0m6 2h0m5-4h0m23 6h0m9-6h0m6 0h0m49 0h0m17 4h0m29-3h0m30 6h0m7-2h0m4 0h0m6 2h0m7-2h0m6-3h0m9 5h0m9-7h0m3 4h0m7-2h0m6 0h0m18 3h0m22 0h0m14-3h0m30-2h0m5 5h0m11 1h0m9-2h0m5 1h0m24 2h0m22-6h0m16 0h0m9 5h0m8-5h0m7 1h0m3-1h0m8 1h0m17 3h0m12 0h0m14-4h0m2 4h0m5-1h0m5 2h0m-1 9h0m-13-4h0m-15-2h0m-4 6h0m-20-1h0m-9-4h0m-5 2h0m-15 4h0m-5-5h0m-8 0h0m-14 4h0m-1-6h0m-11 1h0m-37-1h0m-16 5h0m-8-4h0m-12 5h0m-8-4h0m-19 5h0m-28-2h0m-3 1h0m-9-4h0m-15 4h0m-14-5h0m-8 4h0m-3-3h0m-19-2h0m-15 4h0m-7-3h0m-25 6h0m-2-7h0m-40 1h0m-7 6h0m-3-7h0m-52 3h0m-3 4h0m-5 0h0m-29-1h0m-9-2h0m-12 2h0m23 9h0m0-5h0m14 5h0m6 0h0m9-3h0m19 3h0m46-5h0m19 5h0m86 0h0m1-5h0m4 4h0m7-4h0m6 1h0m2 8h0m2-5h0m22-2h0m8 0h0m1 2h0m23 1h0m44-4h0m12-1h0m4-1h0m13 6h0m29 1h0m3-6h0m3 9h0m1-9h0m11 8h0m11-7h0m4 6h0m49-2h0m2 4h0m3-9h0m22 0h0m-15 9h0m-9 4h0m-49 6h0m-15-6h0m-10 1h0m-8 4h0m-20-4h0m-63 0h0m-9 4h0m-16-7h0m-16 0h0m-18-1h0m-24 4h0m-60 1h0m-32 1h0m-73-5h0m-5-1h0m-5 1h0m-12-1h0m-6 3h0m-17 0h0m-2-2h0m-2 4h0m-12-1h0m-2-5h0m-13 4h0m-14 6h0m0 10h0m30-5h0m8-5h0m1 5h0m37-4h0m3 4h0m1 5h0m12-10h0m11 10h0m5 0h0m4-9h0m30 4h0m14 4h0m20-7h0m7 7h0m36-8h0m1 7h0m32 1h0m14-5h0m48 0h0m48 5h0m67-3h0m2 4h0m2-6h0m11 0h0m18 1h0m16 4h0m11 1h0m4-6h0m11 0h0m3 4h0m4 1h0m1-9h0m17 1h0m8 5h0m3 3h0m5 1h0m2-5h0m7 9h0m-8 1h0m-24-4h0m-38 7h0m-16-5h0m-17 1h0m-26 4h0m-7-3h0m-39 0h0m-18 4h0m-15-8h0m-2 7h0m-4 1h0m-58-4h0m-1-4h0m-2 8h0m-3-5h0m-14-1h0m-3 6h0m-13-1h0m-9 1h0m-10 0h0m-32-4h0m-24 4h0m-13-5h0m-19 4h0m-3 0h0m-31-3h0m-9 4h0m-4-9h0m-1 9h0m-14-4h0m-2-5h0m-20 0h0m-4 4h0m-19 4h0m-8-3h0m-2-4h0m27 11h0m14-2h0m10 7h0m15-2h0m7-2h0m11 2h0m17 4h0m65-9h0m21 0h0m30 3h0m24 7h0m57-7h0m9 6h0m138-6h0m0 6h0m11-4h0m7 3h0m4-6h0m3 1h0m9 5h0m20-5h0m3 4h0m10 2h0m4-7h0m6 5h0m5-3h0m-34 10h0m-26-2h0m-6 1h0m-15 4h0m-1-5h0m-12 1h0m-6 5h0m-35-2h0m-23-4h0m-25 6h0m-17 0h0m-42-2h0m-7-3h0m-5 5h0m-17 0h0m-27-4h0m-4 5h0m-5-2h0m-26 0h0m-3-4h0m-7 4h0m-27 1h0m-11-6h0m-5 1h0m-2 4h0m-24-3h0m-2 5h0m-3-6h0m-21-2h0m-39 1h0m-2 7h0m-17-1h0m-1-5h0m-8-1h0m-1 5h0m-6 2h0m-7 0h0m-5-2h0m-5 0h0m-4 0h0m-17 1h0m7 4h0m11-1h0m6 1h0m16 1h0m13 5h0m33-1h0m31-5h0m4 0h0m19 5h0m22 0h0m4-5h0m3-1h0m28 1h0m28 1h0m142 5h0m12-7h0m25 5h0m15-4h0m35 6h0m11-2h0m2-4h0m3 6h0m1-6h0m3 4h0m15-3h0m4 3h0m8 0h0m5-4h0m7 5h0m5 0h0m4-5h0m16 2h0m11-1h0m2 4h0m3-4h0m-5 9h0m-2 3h0m-10 5h0m-4-4h0m-2-4h0m-3-1h0m-19 5h0m-19-6h0m-5 6h0m-30 4h0m-3-8h0m-5 3h0m-13-3h0m-3 3h0m-7-4h0m-2 7h0m-94-1h0m-8-2h0m-9-4h0m-28 1h0m-63-1h0m-5 1h0m-8-2h0m-31 0h0m-6 2h0m-4 4h0m-3 1h0m-3-7h0m-20 6h0m-10-1h0m-20-3h0m-21 8h0m-2-3h0m-3-4h0m-15 3h0m-6 4h0m-4-5h0m-2 5h0m-23-5h0m-8-3h0m-3 8h0m-4-9h0m-2 4h0m-9 6h0m28 8h0m18-4h0m27 0h0m17 0h0m54 0h0m14 1h0m11 3h0m5 1h0m0-8h0m12 4h0m21 0h0m24-1h0m1-3h0m4 5h0m19 0h0m59 3h0m3-5h0m6 1h0m25-2h0m21-2h0m38 3h0m25 5h0m41-5h0m1 4h0m3-3h0m4-6h0m7 6h0m6-1h0m12 2h0m22 0h0m9-2h0m10-3h0m-19 13h0m-3 4h0m-6 1h0m-9-6h0m-13 5h0m-54-7h0m-8 2h0m-19 5h0m-5-8h0m-15 8h0m-7-9h0m-9 5h0m-2 4h0m-32 1h0m-4-6h0m-27 0h0m-20 1h0m-47-4h0m-13 3h0m-1 4h0m-29 2h0m-14-4h0m-22 3h0m-8-4h0m-45-1h0m-13 4h0m-9-3h0m-18 4h0m-1-8h0m-1 4h0m-4 4h0m-10-8h0m-3 4h0m-4 0h0m-4 5h0m-2-5h0m-12 0h0m-7 4h0m-7 0h0m-20-8h0m-7-1h0m22 11h0m27 0h0m7 3h0m5-3h0m45 3h0m97-1h0m13-3h0m31 5h0m14-4h0m8 3h0m16 0h0m10-1h0m55 2h0m36 0h0m33-2h0m34-3h0m23 0h0m42 0h0m19 6h0m7 0h0" fill="none" stroke="#fff" stroke-width="7.1" stroke-linecap="round"/></g></mask>
<mask id="eM2" maskUnits="userSpaceOnUse" x="-20" y="-20" width="319" height="243"><g transform="scale(.5)"><path d="M9 7h0m3-5h0m3 4h0m34 0h0m11-5h0m25 7h0m45-1h0m4 1h0m17 0h0m59-1h0m5 0h0m3-5h0m15-1h0m48 6h0m12-5h0m24 4h0m23 1h0m30-5h0m17 1h0m29 4h0m8-6h0m7 7h0m14-5h0m2 3h0m8 1h0m3-1h0m17 0h0m3-3h0m38 0h0m28 3h0m-43 9h0m-30-5h0m-3 5h0m-5 2h0m-2-7h0m-1 5h0m-9-2h0m-5-2h0m-3 6h0m-11 0h0m-11-1h0m-3-3h0m-23-2h0m-11 2h0m-9-1h0m-24 5h0m-22-1h0m-11 2h0m-12-8h0m-72 3h0m-2 3h0m-38 1h0m-15-6h0m0 4h0m-5-2h0m-8 4h0m-19-6h0m-9 0h0m-4 7h0m-8-5h0m-21 7h0m-7-10h0m-5 2h0m-4-1h0m-5 0h0m-11 1h0m-5 5h0m-7-7h0m-4 3h0m-3 3h0m-7-1h0m0-4h0m-8-1h0m-27 1h0m-4 0h0m-5 0h0m11 19h0m9-9h0m33 0h0m2 4h0m8-5h0m2 9h0m6-5h0m4 5h0m6-4h0m9 5h0m3-6h0m10 2h0m11-2h0m24-3h0m6 4h0m2-3h0m3-1h0m5 5h0m29-4h0m16 8h0m43-1h0m61-8h0m2 4h0m20-1h0m4-2h0m4 7h0m1-9h0m13 6h0m21-2h0m3-2h0m12 7h0m25-2h0m3-2h0m5-4h0m5 1h0m1 4h0m9-4h0m2 4h0m16-2h0m5 1h0m27 4h0m65 1h0m-13 9h0m-49-1h0m-13-3h0m-7 4h0m-8-5h0m-7 0h0m-2 6h0m-3-5h0m-13 4h0m-36-5h0m-40-2h0m-9 6h0m-8 2h0m-3-2h0m-6-7h0m-6 8h0m-2-5h0m-3-4h0m-11 8h0m-23 2h0m-21-9h0m-24 5h0m-8-5h0m-5 8h0m-10-1h0m-4-2h0m-6-2h0m-5 2h0m-5 0h0m-20-6h0m-7 4h0m-4-4h0m-26 1h0m-6 4h0m-16-4h0m-9 0h0m-28 0h0m-23 0h0m-10 0h0m-3 4h0m-9-2h0m-6 3h0m-9-6h0m-16 9h0m-1-3h0m-4 12h0m10 1h0m2-8h0m5 8h0m7-4h0m21 1h0m13-2h0m6 5h0m26-4h0m5 1h0m7 2h0m12 0h0m12-7h0m19 7h0m9-3h0m31 3h0m2-5h0m4 1h0m33 1h0m6 0h0m20 3h0m42-8h0m27 9h0m32-1h0m2-5h0m25 6h0m3-5h0m50 4h0m4-3h0m13 4h0m34-1h0m0-3h0m3 4h0m27 0h0m11-4h0m8 4h0m13 3h0m-5 7h0m-3-6h0m-12-3h0m-8 5h0m-8 5h0m-3-5h0m-14-5h0m-41 3h0m-15 2h0m-10-1h0m-5-4h0m-1 5h0m-17-3h0m-9 7h0m-45-4h0m-27-3h0m-105-2h0m-1 7h0m-5 0h0m-1-2h0m-12-3h0m-4 6h0m-14 0h0m-31-4h0m-5 0h0m-19 3h0m-3-3h0m-6-2h0m-12 6h0m-7-3h0m-3 2h0m-5 3h0m-4-6h0m-8-4h0m-6 7h0m-11 1h0m-7-4h0m-5 0h0m-8 6h0m-1-10h0m-6 9h0m-25 0h0m-4 3h0m9 4h0m13-4h0m23 6h0m5-4h0m6 4h0m7-1h0m2-4h0m3 3h0m12-4h0m4 6h0m19-6h0m1 6h0m17 0h0m13-6h0m10 0h0m9 7h0m2-7h0m7 2h0m3 4h0m20-1h0m12 2h0m18 0h0m12-5h0m4-1h0m13 3h0m7 3h0m2-6h0m40 0h0m36 1h0m17 0h0m2 3h0m18-3h0m5 0h0m5-2h0m9 2h0m10-1h0m4 0h0m24 4h0m10-4h0m21-1h0m12 2h0m13 4h0m6-5h0m15 4h0m30-5h0m1 5h0m16 11h0m-11-6h0m-4 5h0m-11 0h0m-39-5h0m-45 1h0m-8 3h0m-12-2h0m-12-1h0m-17-1h0m-3 0h0m-11 5h0m-9 0h0m-18-4h0m-26 5h0m-54-1h0m-13-5h0m-4 4h0m-13-4h0m-1 5h0m-13-1h0m-3 0h0m-6 0h0m-16 0h0m-15-4h0m-2 4h0m-21 1h0m-4-5h0m-4 0h0m-5 4h0m-2-5h0m-8 6h0m-2-3h0m-6-2h0m-3 6h0m-19-7h0m-5 2h0m-6 4h0m-34 1h0m-25-6h0m-14 6h0m0-6h0m-11 6h0m-13-4h0m0 7h0m4 6h0m8-6h0m19 4h0m6 1h0m1-6h0m2 7h0m14-6h0m7 1h0m11 1h0m8 3h0m14-5h0m5 0h0m5 0h0m7 5h0m30-5h0m11 0h0m3 5h0m16 1h0m7-4h0m13 0h0m7 2h0m18-4h0m4 5h0m2-3h0m6-2h0m14 4h0m28 1h0m47 1h0m18-5h0m11 0h0m11 0h0m2 5h0m8-1h0m59-6h0m29 2h0m16 0h0m8 5h0m5-1h0m7 2h0m19-1h0m6-1h0m10-1h0m14-3h0m8 15h0m-2 2h0m-34-4h0m-11 1h0m-10 3h0m-22-4h0m-7 1h0m-60 0h0m-6-1h0m0-3h0m-11 0h0m-11-2h0m-19 6h0m-78-4h0m-18-1h0m-2 5h0m-10 0h0m-3 4h0m-5-9h0m-2 4h0m-6 1h0m-12 0h0m-13 4h0m-2-3h0m-9-6h0m-19 4h0m-5 1h0m-1-6h0m-13 1h0m0 9h0m-3-3h0m-8-5h0m-11-1h0m-10 1h0m-6 0h0m-2 5h0m-9-5h0m-13 5h0m-6-3h0m0-3h0m-11 4h0m-12-4h0m-2 4h0m-19-3h0m-32 5h0m-11 2h0m-5 7h0m4 3h0m3-4h0m14-5h0m10 9h0m5-7h0m9 3h0m9-5h0m4 1h0m12 3h0m3 5h0m5-5h0m21 2h0m12-6h0m9 6h0m2-6h0m5 6h0m5-2h0m0 6h0m5-4h0m9-2h0m6 0h0m2-2h0m16-1h0m5 5h0m32-1h0m1 4h0m10-4h0m2 5h0m5-2h0m14-4h0m1-4h0m17 1h0m3 5h0m13-6h0m86 9h0m10-3h0m8-5h0m4 9h0m3-6h0m36 5h0m6-3h0m40-1h0m13 4h0m6-8h0m4 8h0m4-4h0m11 2h0m17-3h0m4 2h0m21 0h0m8 3h0m-1 6h0m-12 0h0m-17 0h0m-7-5h0m-8 6h0m-19 2h0m-5-7h0m-9 4h0m-5 1h0m-33-2h0m-34 4h0m-38 0h0m-7-4h0m-49-3h0m-39 4h0m-13 4h0m-6 0h0m-2-5h0m-17 1h0m-1 3h0m-3-4h0m-8 1h0m-32 3h0m-9-5h0m-6 3h0m-19 3h0m-6-9h0m-5 1h0m-9 2h0m-3 1h0m-8 1h0m-3-5h0m-6 3h0m-8 7h0m-14-6h0m-4-3h0m0 2h0m-6 3h0m-6-1h0m-14 3h0m-21-8h0m-8 5h0m-24 4h0m-2 8h0m13 2h0m19-6h0m5 1h0m17-1h0m13 2h0m5 3h0m9 0h0m5-4h0m2 4h0m2-4h0m22-1h0m17-1h0m31 3h0m6 0h0m12-2h0m16 1h0m5-1h0m1 6h0m13-2h0m3 2h0m5-5h0m8 4h0m3-1h0m12 2h0m9-6h0m2 6h0m8-6h0m62 6h0m83-5h0m24 4h0m42-3h0m22-3h0m8 7h0m9-6h0m11 0h0m9 10h0m-3 6h0m-3-5h0m-4-1h0m-5 5h0m-1-5h0m-2 5h0m-10-4h0m-1 3h0m-8-4h0m-5 0h0m-41 6h0m-7-1h0m-83-4h0m-10-2h0m-90 5h0m-9 0h0m-6 2h0m-5-1h0m-4-5h0m-5 0h0m-24 6h0m-21-5h0m-10 0h0m-1 4h0m-6 1h0m-10-2h0m-7 2h0m-1-6h0m-13-1h0m-14 7h0m-3-1h0m-8-1h0m-1-4h0m-4-1h0m-8 0h0m-1 5h0m-7-4h0m-3 6h0m-18-2h0m-12-4h0m-21 5h0m-9-1h0m-2-4h0m-8-1h0m-13 5h0m-11 1h0m38 10h0m5-1h0m14-6h0m4 6h0m3-5h0m6-1h0m1 6h0m5 1h0m7-2h0m30 1h0m3-3h0m5 3h0m8-6h0m9 3h0m10 2h0m2-3h0m16-2h0m5 3h0m16-3h0m2 7h0m11-2h0m2-2h0m4 4h0m6 0h0m2-4h0m2 3h0m11 1h0m6 0h0m4-5h0m3 0h0m4 5h0m5-1h0m4-4h0m16-2h0m36 1h0m25 5h0m40-5h0m96 6h0m20 0h0m12-2h0m11 0h0m2-3h0m27 1h0m3 4h0m2-6h0m2 6h0m3 3h0m-4 0h0m-18-1h0m-2 6h0m-2-4h0m0 8h0m-7-9h0m-8 9h0m-1-9h0m-7 5h0m-8 2h0m-9-2h0m-41-4h0m-31 0h0m-25 5h0m-37-4h0m-9-2h0m-12 1h0m-18 4h0m-36-5h0m-10-1h0m-4 7h0m-5 0h0m-4-1h0m-6 1h0m-27 1h0m-6-2h0m-15 1h0m-7 0h0m-9-4h0m-25 0h0m-22 7h0m-9-3h0m-3-1h0m-3-5h0m-12 0h0m-43 0h0m-2 6h0m-9-4h0m-1 3h0m-12 2h0m-3-5h0m-7 3h0m-5-3h0m-21 0h0m-2 4h0m9 5h0m13 5h0m1-7h0m7 1h0m5 0h0m13 4h0m4-2h0m1 3h0m10 4h0m8-3h0m8 3h0m11-8h0m21 8h0m6-8h0m24 4h0m7-4h0m7-1h0m3 4h0m4 2h0m3 3h0m13-6h0m4-3h0m17 6h0m11-1h0m7 0h0m21 0h0m13 3h0m5-7h0m22 0h0m9 3h0m7-4h0m6 9h0m5-9h0m4 4h0m8-3h0m97 7h0m32-9h0m16 2h0m7 5h0m13-6h0m3 6h0m18-1h0m12 3h0m9-4h0m12-2h0m11 12h0m-17-1h0m-10 6h0m-19-5h0m-14-5h0m-5 0h0m-9 8h0m-10-6h0m-20 2h0m-4-2h0m-10 7h0m-48 1h0m-7-4h0m-16-5h0m-17 4h0m-3-3h0m-26 4h0m-3 4h0m-1-5h0m-3 5h0m-12-1h0m0-8h0m-5-1h0m-6 10h0m-17-5h0m-25-3h0m-4 2h0m-18-3h0m-7 4h0m-22 1h0m-2-6h0m-13 1h0m-16 4h0m-4-4h0m-27 0h0m-10 9h0m-3-5h0m-9-4h0m-10 0h0m-10 3h0m-4 1h0m-9-4h0m-4-1h0m-5 4h0m-9 0h0m-6 1h0m-6-1h0m-10 0h0m-11 0h0m-2 6h0m-12-5h0m0-4h0m1 19h0m11-2h0m13-5h0m2-2h0m3 2h0m4 6h0m14 1h0m4-5h0m10 4h0m6-4h0m3 3h0m8-4h0m11-1h0m45 5h0m7 2h0m5-10h0m10 0h0m25 4h0m8 5h0m38 0h0m30-3h0m13-5h0m5 7h0m12 1h0m3-5h0m2 4h0m1-4h0m12 1h0m4 1h0m3 3h0m11-5h0m22-3h0m5 8h0m13 0h0m28-3h0m7 4h0m6-2h0m1-8h0m2 4h0m4-4h0m4 8h0m3-5h0m3 5h0m10-3h0m2-1h0m8 2h0m5-1h0m1 5h0m9-4h0m13 4h0m43-6h0m9 0h0m15 1h0m8 10h0m-31 4h0m-2-4h0m-18-5h0m-1 8h0m-4-6h0m-12 6h0m-21-5h0m-30 4h0m-4 1h0m-9-5h0m-5 0h0m-1 4h0m-3-2h0m-24-2h0m-5 1h0m-16 0h0m-8-2h0m-13 1h0m-2 7h0m-30-5h0m-2-5h0m-1 9h0m-15 1h0m-9-7h0m-2 4h0m-28 2h0m-10 1h0m-10-2h0m-6 1h0m-2-4h0m-3 3h0m-21 1h0m-21-5h0m-7-4h0m-1 9h0m-16-2h0m-2-2h0m-19 3h0m-16-8h0m-11 8h0m-29-5h0m-11 2h0m-2 2h0m-13 2h0m-4-5h0m-18-4h0m-7 4h0m-8 5h0m-4-6h0m-1 6h0m-14-6h0m-4 6h0m11 4h0m13 0h0m8 1h0m10-2h0m6 3h0m12 4h0m12-1h0m5 1h0m14-4h0m1 3h0m7 0h0m2-4h0m24 5h0m3-6h0m4 3h0m5 0h0m8-3h0m4 2h0m5-3h0m4 6h0m3-5h0m2 4h0m16 1h0m2-4h0m7-1h0m7 4h0m10-4h0m4 0h0m2 5h0m5 0h0m5-4h0m16 3h0m7 2h0m8-4h0m16 0h0m10 0h0m8-1h0m2 4h0m10 1h0m19-6h0m3 4h0m15 0h0m8 2h0m20 0h0m9-1h0m19 1h0m11-1h0m6-5h0m27 4h0m1-5h0m5 2h0m9 4h0m1-4h0m18-2h0m2 5h0m12-1h0m8-3h0m13 4h0m2-4h0m6-1h0m6 0h0m30 5h0m1-4h0m6 2h0m-1 6h0m-3 6h0m-6-6h0m-7 3h0m-2 4h0m-31-7h0m-30 5h0m-3-5h0m-1 6h0m-3-4h0m-9 5h0m-8-4h0m-7 3h0m-3-4h0m-2 3h0m-5 1h0m-22 0h0m-18 1h0m0-5h0m-5 0h0m-5 4h0m-13-5h0m-19 4h0m-3-5h0m-4 0h0m-10 5h0m-13-5h0m-35 7h0m-8-6h0m-4 0h0m-3 7h0m-7-3h0m-4 0h0m-12 3h0m-1-6h0m-5 3h0m-7-4h0m-33 2h0m-11-2h0m-11 6h0m-27-5h0m-18 5h0m-28 0h0m-8-1h0m-7 1h0m-24-5h0m-5 0h0m-4 4h0m-8-5h0m-4 6h0m-12-6h0m-5 1h0m-7 4h0m-24 0h0m9 6h0m5-1h0m5 0h0m7 1h0m3 4h0m8-5h0m20 0h0m9 6h0m3-6h0m17 3h0m12 1h0m7-3h0m12-2h0m4 5h0m2-4h0m5 1h0m27-2h0m29 7h0m7-1h0m3-4h0m24 5h0m6-5h0m5 5h0m4-3h0m12 0h0m38 3h0m36-2h0m21 2h0m4-6h0m9 5h0m4 0h0m3-4h0m4-2h0m9 7h0m13-6h0m10 4h0m23-4h0m7-1h0m4 2h0m5 0h0m9 4h0m8 3h0m15-5h0m7-3h0m9 5h0m16 1h0m5 0h0m41-5h0m6-2h0m-11 16h0m-2-6h0m-6 1h0m-4 7h0m-8-2h0m-2-5h0m-6 7h0m0-7h0m-6-2h0m-4 7h0m-11-1h0m-11-4h0m-7 0h0m-2 5h0m-8-5h0m-37 4h0m-4 0h0m-42 1h0m-5-5h0m-7 5h0m-12-5h0m-2 5h0m-9-5h0m-5 5h0m0-6h0m-7 1h0m-3 5h0m-4-6h0m-5-1h0m-7 5h0m-5 2h0m-18-6h0m-4 4h0m-4-4h0m-6 5h0m-12 1h0m-25-5h0m-10-1h0m-11 2h0m-3 3h0m-8-6h0m-1 7h0m-7-2h0m-3 2h0m-5-5h0m-8 3h0m-25 0h0m-12 2h0m-4-5h0m0 3h0m-11-3h0m-8-2h0m-38 2h0m-4 4h0m-9-4h0m-7 3h0m-2-3h0m-12 0h0m-7 3h0m-5 2h0m-14-5h0m-2 8h0m-16 5h0m6-4h0m10 8h0m17-7h0m26-1h0m2 9h0m9 0h0m6-1h0m5-9h0m3 5h0m6 2h0m8 2h0m1-9h0m2 4h0m10 1h0m5-4h0m10 8h0m4-8h0m7 1h0m9 7h0m3-5h0m40-4h0m7 9h0m2-3h0m11-2h0m11 1h0m5 2h0m5-3h0m13 1h0m14 1h0m8-5h0m3 5h0m7-1h0m19 4h0m3 1h0m5-4h0m8-1h0m3-4h0m5 4h0m19-4h0m12 6h0m13-2h0m8 1h0m5 4h0m1-5h0m16 0h0m8 4h0m10-4h0m4 1h0m8-5h0m1 9h0m23-4h0m3-5h0m7 3h0m8 5h0m6-9h0m28 9h0m11-8h0m6 1h0m5 8h0m5-8h0m8 4h0m-31 13h0m-5 1h0m-11-5h0m-5-5h0m-4 9h0m-9-5h0m-7 5h0m-6-9h0m-10 8h0m-6-7h0m-10 3h0m-4 2h0m-6-3h0m-7 5h0m-2-4h0m-9 6h0m-5-2h0m-23 1h0m-1-4h0m-4 5h0m-19-4h0m-17 0h0m-16-2h0m-4 1h0m-20-1h0m-6 0h0m-35 0h0m-14-4h0m-40 10h0m-5-6h0m-22-3h0m-3 3h0m-9 5h0m-6-1h0m-6-4h0m-4-3h0m-2 4h0m-17 1h0m-23 0h0m-21-3h0m-9 6h0m-3 0h0m-10-4h0m-19-4h0m-5 9h0m-2-6h0m-3-3h0m-10 8h0m-12-1h0m0-7h0m-3 9h0m-2-9h0m-2 3h0m3 10h0m4 4h0m3-3h0m3 2h0m3-2h0m16-2h0m3 6h0m8-5h0m14 3h0m2-2h0m4 3h0m3 0h0m9-4h0m2 5h0m5 0h0m5-4h0m12 4h0m28-8h0m24 4h0m8 3h0m3-5h0m16 1h0m28 5h0m5-4h0m11-2h0m4 0h0m10 2h0m5-5h0m22 5h0m9 5h0m7-6h0m6 0h0m17 1h0m4 3h0m9 1h0m2-6h0m15 6h0m23-5h0m12 0h0m23-3h0m2 9h0m1-7h0m8 0h0m16 6h0m4-5h0m14-4h0m0 7h0m6 2h0m8-8h0m12 8h0m23-6h0m30 6h0m3-5h0m27 0h0m1 11h0m-9 4h0m-2-5h0m-4 5h0m-48 0h0m-6-6h0m-13 0h0m-6 7h0m-6-1h0m-9-4h0m-28-1h0m-19-1h0m-24 1h0m-3 1h0m-16-2h0m-20 6h0m-20-5h0m-1 6h0m-21-1h0m-7-2h0m-4 1h0m-23 0h0m-9-5h0m-24 5h0m-3-4h0m-18 3h0m-4-5h0m-10 3h0m-5-1h0m-22 0h0m-25 4h0m-1-4h0m-4 5h0m-7-4h0m-15-5h0m-10 9h0m-30-4h0m-4-1h0m-13 3h0m-9-3h0m-10 0h0m-5-2h0m-27-2h0m0 4h0m-5 3h0m0 11h0m8-1h0m17-5h0m12 1h0m18 4h0m7-4h0m11-1h0m5 2h0m4 2h0m11 1h0m4 1h0m3-6h0m7 2h0m5-1h0m13 4h0m25-5h0m5 2h0m26-1h0m3 5h0m10 0h0m5-5h0m2 4h0m3-5h0m9 5h0m17-6h0m6 1h0m14 5h0m40-4h0m12 1h0m9 0h0m13 5h0m13-3h0m19 0h0m5-2h0m2 3h0m24-3h0m9-2h0m8 0h0m7 5h0m12-5h0m12 2h0m5 3h0m12-3h0m29 2h0m12 1h0m12-1h0m2-4h0m8 6h0m8-1h0m16 6h0m-9 4h0m-20-5h0m-13 4h0m-8-5h0m-1 6h0m-7-1h0m-6 0h0m-2-5h0m-2 6h0m-17 1h0m-8-5h0m-14-1h0m-12-1h0m-3 6h0m-5-2h0m-10-2h0m-45 5h0m-23-7h0m-5 7h0m-2-4h0m-7 1h0m-8-1h0m-5-2h0m-8-1h0m-8 2h0m-18-2h0m-4 0h0m-3 6h0m-11-1h0m-3-3h0m-7 4h0m-7 0h0m-29-5h0m-15-1h0m-30 0h0m-6 4h0m-15-2h0m-1 4h0m-28-1h0m-18-4h0m-10 4h0m-28-4h0m-12-1h0m-11 1h0m-1 3h0m-19-2h0m-13 4h0m-5-5h0m2 18h0m2-4h0m12-1h0m5 1h0m3-4h0m3 0h0m2 5h0m4-6h0m2 6h0m4 3h0m15-10h0m29 1h0m1 6h0m4-6h0m17 1h0m2 5h0m6-4h0m6-1h0m45 1h0m36 0h0m17-3h0m50 7h0m14-6h0m34 0h0m16 2h0m20-1h0m31 4h0m25-6h0m9 7h0m8-2h0m8-3h0m2 3h0m5-4h0m1 4h0m7 1h0m9 1h0m3-6h0m11-1h0m17 2h0m15 0h0m13-2h0m5 0h0m5 2h0m17 8h0m1-4h0m2-3h0m11 3h0m-12 8h0m-7-3h0m-7 0h0m-2 6h0m-3-6h0m-1 8h0m-6-5h0m-28 1h0m-23-4h0m-9 3h0m-8-3h0m-2 8h0m-5-7h0m-9-2h0m-10 6h0m-4 0h0m-84-4h0m-54 7h0m-2-3h0m-3-4h0m-52 4h0m-19-6h0m-2 6h0m-26-4h0m-71 5h0m-6-3h0m-6 2h0m-12 4h0m-4-4h0m-3-5h0m-6 3h0m-14-2h0m-3 4h0m-31 4h0m-12 4h0m8-2h0m3 3h0m16-1h0m2 6h0m6-10h0m15 1h0m5 8h0m8-8h0m13 5h0m10-1h0m2-5h0m13 1h0m99 7h0m3-6h0m1 3h0m5-3h0m15 6h0m13-3h0m26-1h0m23 2h0m17-6h0m19 5h0m5 5h0m28-5h0m24-5h0m49 9h0m11 0h0m12-7h0m9 7h0m28 1h0m4-8h0m19 8h0m30 8h0m-5 1h0m-6-2h0m-28-3h0m-8 4h0m-4-5h0m-3 7h0m-1-7h0m-4 7h0m-13-7h0m-19 6h0m-18-3h0m-4 2h0m-53 2h0m-19-5h0m-32-1h0m-2 6h0m-12 0h0m-4-4h0m-6 2h0m-39 0h0m-1-7h0m-26 9h0m-3-7h0m-23 7h0m-8-6h0m-7 2h0m-15-1h0m-3 3h0m-4-4h0m-17 6h0m-8-6h0m-25 6h0m-21-6h0m-2 6h0m-5-7h0m-13 1h0m-20 4h0m-14 1h0m-10-6h0m-3 1h0m-7-1h0m-16 2h0m-13 4h0m-1-9h0m-5 19h0m10-1h0m7-8h0m16 9h0m6-2h0m3-5h0m3 1h0m10 4h0m4-7h0m27 8h0m16-8h0m7 8h0m7-5h0m10 0h0m34 0h0m45 6h0m46-6h0m9 4h0m10 2h0m2-5h0m3-4h0m28 9h0m16-2h0m24-3h0m14 4h0m9 0h0m28 0h0m3-4h0m10-1h0m11 0h0m35 5h0m4-5h0m9 4h0m10-7h0m31 8h0m20-4h0m14 6h0m12-6h0m-4 15h0m-5-3h0m-24-3h0m-24 6h0m-4-1h0m-13-7h0m-3 7h0m-45-6h0m-18-1h0m-11 3h0m-29 4h0m-20-5h0m-38 0h0m-9 0h0m-13 6h0m-18-2h0m-19-5h0m-16 2h0m-33-2h0m-26 0h0m-13 5h0m-19-4h0m-7 3h0m-15-2h0m-3 5h0m-18-7h0m-13 5h0m-11-5h0m-2 7h0m-21-2h0m-28-4h0m-7 0h0m-6-1h0m-5 1h0m-6 5h0m-1 8h0m8-4h0m9 4h0m4 2h0m2-5h0m3 4h0m4-5h0m9 6h0m4-2h0m10 0h0m7 0h0m5 0h0m14-4h0m5 6h0m6-7h0m3 3h0m2 4h0m10-7h0m32 0h0m57 5h0m15-3h0m15 0h0m14 5h0m21 0h0m1-6h0m3 5h0m26-5h0m2 5h0m7-6h0m10 6h0m77-3h0m29 2h0m11 1h0m69-5h0m9 0h0m7-1h0m14 6h0m1-3h0m9 4h0m-4 4h0m-12 5h0m-7 3h0m-5-4h0m-15-1h0m-6 2h0m-8-5h0m-4 1h0m-59 7h0m-76-4h0m-90 0h0m-11 0h0m-3-5h0m-5 0h0m-33 0h0m-1 6h0m-13-6h0m-51 2h0m-35 3h0m-3-4h0m-3 3h0m-1 5h0m-22-9h0m-20 5h0m-2-5h0m-8 7h0m-4-2h0m-8-3h0m-18-2h0m-13 6h0m0 9h0m5-1h0m8 4h0m2-9h0m7 7h0m15-1h0m9-5h0m3 6h0m2-6h0m10 4h0m13-4h0m2 5h0m3-6h0m13 7h0m12-5h0m10 2h0m17-4h0m39 0h0m30 5h0m39 4h0m24-7h0m37 8h0m7-5h0m95-4h0m12 1h0m44 4h0m3 3h0m5-3h0m19-5h0m19 8h0m1-8h0m47 3h0m0 16h0m-7-4h0m-3-4h0m-1 4h0m-17-1h0m-9 5h0m-12-5h0m-2-3h0m-11 4h0m-23-4h0m-6 6h0m-9-3h0m-28-5h0m-16 9h0m-1-7h0m-16-1h0m-10 8h0m-41-4h0m-7 4h0m-14-4h0m-29-4h0m-25 3h0m-82 0h0m-4 2h0m-21-5h0m-16 8h0m-5-1h0m-10-7h0m-8 4h0m-9-4h0m-16 1h0m-3 2h0m-19 5h0m-4 0h0m-5-8h0m-14 3h0m-9-3h0m-17 0h0m-5 0h0m-3 4h0m-1 4h0m-2 4h0m10 1h0m26 1h0m17 0h0m5-1h0m5 1h0m23-1h0m20 0h0m72-3h0m44 2h0m55-3h0m7 0h0m16 4h0m17-1h0m7 1h0m31 2h0m7-1h0m2-4h0m2 3h0m16 1h0m18-4h0m47 3h0m5 1h0m7-1h0m44 1h0m20-2h0m14-2h0" fill="none" stroke="#fff" stroke-width="7.1" stroke-linecap="round"/></g></mask>
<mask id="eM3" maskUnits="userSpaceOnUse" x="-20" y="-20" width="319" height="243"><g transform="scale(.5)"><path d="M18 1h0m14 6h0m7 1h0m5-7h0m20 6h0m15-4h0m17 3h0m2-4h0m3 4h0m4-3h0m17 3h0m30-5h0m52 5h0m35-4h0m7 1h0m15-1h0m5 0h0m7-1h0m69 0h0m20 6h0m9 1h0m8 0h0m3-6h0m6 4h0m15-3h0m4-2h0m12 6h0m14-5h0m5 6h0m33-2h0m31 0h0m48 0h0m3 6h0m-40 5h0m-19-5h0m-16-1h0m-12 1h0m-4 7h0m-6-7h0m-4 5h0m-4-1h0m-8-3h0m-10 7h0m-19-5h0m-18 1h0m-49 1h0m-11 0h0m-40-6h0m-3 6h0m-20-2h0m-75-5h0m-12 6h0m-24-4h0m-8 6h0m-33-3h0m-13-4h0m-2 5h0m-54-5h0m-7 6h0m-17 0h0m-3 1h0m-5-6h0m-14 8h0m0 9h0m6-4h0m21-5h0m2 5h0m2-5h0m3 6h0m5-2h0m2-2h0m16 0h0m12-1h0m5 0h0m7 1h0m9 5h0m12 2h0m10-8h0m8 5h0m3-5h0m2 5h0m33 0h0m3-4h0m8 4h0m2-5h0m0 8h0m4-5h0m10 1h0m8 5h0m3-6h0m3-3h0m8 6h0m9-7h0m3 5h0m18-3h0m85 0h0m17 8h0m4 0h0m19-1h0m19-2h0m24-7h0m6 2h0m18 5h0m9-6h0m8 0h0m15 3h0m9-4h0m28 5h0m7 1h0m34-6h0m15 4h0m-52 14h0m-4-4h0m-18 6h0m-19-5h0m-8 4h0m-17-8h0m-2 5h0m-12 0h0m-2-4h0m-3 3h0m-4-4h0m-1 3h0m-4 2h0m-18 0h0m-9-2h0m-13 2h0m-3 0h0m-6-2h0m-23 0h0m-22 2h0m-3-6h0m-6 5h0m-13-5h0m-65 2h0m-28 8h0m-6 0h0m-6-9h0m-3 4h0m-17 5h0m-6 0h0m-12-1h0m-1-3h0m-4-5h0m-14 7h0m-8-4h0m-11 5h0m-19-3h0m-1 3h0m-7-5h0m-15-3h0m-17 8h0m-2-4h0m-7-5h0m-2 5h0m-10-4h0m-6 4h0m-5 4h0m-2-4h0m-5-1h0m-7 10h0m12 1h0m8 4h0m2-5h0m12 0h0m4 6h0m16-7h0m5 2h0m13 0h0m6-1h0m1-4h0m1 10h0m4-1h0m13-6h0m7 2h0m9-4h0m14 7h0m3-5h0m20 5h0m6 2h0m4-2h0m6 1h0m4-6h0m4 3h0m34-2h0m13 4h0m14-4h0m11 4h0m18 0h0m27-8h0m14 0h0m50 1h0m12 8h0m1-3h0m13 2h0m5-4h0m0 5h0m23 0h0m1-8h0m25 8h0m0-9h0m9 4h0m2 5h0m4-5h0m21 1h0m17-2h0m6 2h0m2 5h0m24-5h0m4 0h0m22 0h0m0 8h0m-2 6h0m-23-6h0m-28 0h0m-14 6h0m-1-4h0m-4 2h0m-2-3h0m-8 4h0m-6-8h0m-34 4h0m-3-4h0m-14 2h0m-5 2h0m-12 1h0m-57-5h0m0 8h0m-25-4h0m-22 4h0m-17-1h0m-24-3h0m-6 0h0m-8 5h0m-3-4h0m-31 3h0m-3 0h0m-9-3h0m-4 4h0m-22-5h0m-26 5h0m-1-9h0m-2 3h0m-4 1h0m-4 5h0m-10 0h0m-7-7h0m-16 7h0m-6-5h0m-26-2h0m-9 6h0m-7 0h0m-6-4h0m-20 5h0m-6-1h0m11 10h0m8-4h0m2 4h0m6 1h0m13-8h0m16 1h0m3 6h0m7-1h0m8-5h0m4 2h0m4 3h0m3-5h0m11 0h0m9 1h0m6 0h0m35 4h0m31-5h0m2 6h0m16-1h0m14-4h0m1 5h0m11 1h0m10-5h0m4 0h0m63 3h0m6-3h0m59 3h0m27 1h0m16 1h0m22-2h0m19-5h0m10 1h0m2 5h0m8-6h0m13 6h0m9-6h0m17 1h0m5 1h0m3 5h0m17-6h0m6-1h0m-7 16h0m-17-1h0m-10-1h0m-2-3h0m-29 0h0m-24 5h0m-36-1h0m-19 0h0m-9-1h0m-12 0h0m-23-5h0m-18 6h0m-25-4h0m-33 1h0m-24 3h0m-2-6h0m-3 7h0m-12 0h0m-15 0h0m-2-6h0m-11-1h0m-23 2h0m-7 4h0m-8-5h0m-4 6h0m-8-7h0m-1 7h0m-44 0h0m-8-6h0m-7 5h0m-6-1h0m-4-3h0m-4 0h0m-3 4h0m-7 0h0m-10 0h0m-4-1h0m-22-4h0m-1 6h0m-4 0h0m-15-7h0m-9 6h0m-6-6h0m-6 2h0m-4 5h0m-4-2h0m11 10h0m24-4h0m9 1h0m21 4h0m10-1h0m15 0h0m5 1h0m40 1h0m0-6h0m3 5h0m11 1h0m24 2h0m3-9h0m13 7h0m8-6h0m3-1h0m7 1h0m6-1h0m1 5h0m12 0h0m7-6h0m3 7h0m22-1h0m4-5h0m41 7h0m85-2h0m10 1h0m12 0h0m3-5h0m10-2h0m24 7h0m9 3h0m8-3h0m2 3h0m31-4h0m4 1h0m26-5h0m5-1h0m4 2h0m2 4h0m15 13h0m-10-9h0m-38 1h0m-6-1h0m-2 3h0m-13 3h0m-3-6h0m-3 0h0m-7 1h0m-27 0h0m-28 3h0m-3 5h0m-21-8h0m-5 4h0m-6-4h0m-13 8h0m-40-5h0m-8-3h0m-11 8h0m-27-8h0m-3 4h0m-7-5h0m-5 1h0m-10-1h0m-28-1h0m-11 2h0m-25 4h0m-6-4h0m-3 7h0m-4-7h0m-4 7h0m-34-8h0m-2 4h0m-3 5h0m-7-8h0m-3 7h0m-24-8h0m-2 6h0m-2-5h0m-4 0h0m-13-1h0m-9 1h0m-2 8h0m-2-5h0m-10 1h0m-3-6h0m-3 5h0m-22 2h0m-4-1h0m-3-5h0m8 13h0m12-4h0m4 5h0m4 1h0m5 0h0m4 3h0m6-8h0m11 1h0m11-1h0m9 8h0m4-4h0m5 1h0m8-5h0m26 0h0m6-1h0m7 9h0m10-1h0m3-3h0m2 4h0m7-5h0m6-3h0m0 4h0m4 4h0m3-3h0m2 3h0m5-7h0m24 2h0m12 2h0m11 0h0m3-1h0m3 4h0m12-1h0m6 2h0m8-4h0m6-2h0m1 6h0m45-4h0m48 4h0m15-9h0m18 1h0m6 3h0m57 5h0m25-4h0m12-1h0m12-4h0m12 3h0m6 1h0m13 0h0m3 13h0m-13-7h0m-10 8h0m-9 0h0m-11-4h0m-1 5h0m-19-5h0m-11-1h0m-13 5h0m-8-5h0m-29 5h0m-4-3h0m-7 3h0m-27-3h0m-3-1h0m-4 4h0m-1-8h0m-6 4h0m-82-1h0m-33 1h0m-4 1h0m-25 3h0m-11 0h0m-11-8h0m-1 2h0m-15 7h0m-12-6h0m-9-4h0m-25 5h0m-30 4h0m-5 0h0m-12-3h0m-5-3h0m-9 6h0m-5-1h0m-24-5h0m-18 3h0m-5-2h0m-12-1h0m-10 3h0m-4-2h0m-10 13h0m11-7h0m2 10h0m1-6h0m21 5h0m2 0h0m9-6h0m7 1h0m2 5h0m4 1h0m13-1h0m54-2h0m6 1h0m5 0h0m1-4h0m4 4h0m5 1h0m2-5h0m6 0h0m12-4h0m0 9h0m6 0h0m5 0h0m32-5h0m9 0h0m22 0h0m10 0h0m2 3h0m22 1h0m6-8h0m94 5h0m23-2h0m45 6h0m30-5h0m4 5h0m6-4h0m4 4h0m3-4h0m5 0h0m3 2h0m7-3h0m6 0h0m3 5h0m10-1h0m18 2h0m6-6h0m-3 11h0m-27-2h0m-15 6h0m-15-2h0m-14-4h0m-8 4h0m-64 1h0m-27-1h0m-88 1h0m-47-1h0m-6 1h0m-31-6h0m-7 6h0m-10-5h0m-1 5h0m-10-6h0m-34 6h0m-7-4h0m-49-1h0m-12 1h0m-6 5h0m-14-1h0m-6-5h0m-11 1h0m-9 4h0m-10 0h0m-16 9h0m10 1h0m9-4h0m10-3h0m5 2h0m6-2h0m24 6h0m25-4h0m5-2h0m9 6h0m2-3h0m5-3h0m13 7h0m29-5h0m6-2h0m19 6h0m6 0h0m24-6h0m12 1h0m4 2h0m40-1h0m6 5h0m71 0h0m8-6h0m8 4h0m37 0h0m13 2h0m27 0h0m4 0h0m55-2h0m7-5h0m6 1h0m10-1h0m7 0h0m30 8h0m-21 2h0m-3 5h0m-10 2h0m-5-1h0m-26-5h0m0 3h0m-4-2h0m-51 2h0m-3-3h0m-51 5h0m-6-1h0m-82 0h0m-15 2h0m-7 0h0m-3-2h0m-9-5h0m-6 0h0m-15 2h0m-3 3h0m-13 4h0m-2-7h0m-9-2h0m-12 1h0m-25 5h0m0-6h0m-5 5h0m-15 0h0m-2-4h0m-2 6h0m-3-5h0m-6-1h0m-3 5h0m-8-4h0m-14 3h0m-2-4h0m-4 4h0m-20 2h0m-14-5h0m-10 7h0m-7-8h0m-14 1h0m-11-2h0m-20 6h0m-15-5h0m5 14h0m1-4h0m0 8h0m9-5h0m2-3h0m14 5h0m10 0h0m5 0h0m18-2h0m23-3h0m17-1h0m9 6h0m8 3h0m4-1h0m21 1h0m23-10h0m7 7h0m3-6h0m30 4h0m15 1h0m21-4h0m6 4h0m0-4h0m6 3h0m9-4h0m23-1h0m15 2h0m20 0h0m8 7h0m25-8h0m15 6h0m26-3h0m20-4h0m5 1h0m52 9h0m11-5h0m13-4h0m13 4h0m5 0h0m24 4h0m4-2h0m2-6h0m9 5h0m-2 9h0m-7 3h0m-22-7h0m-12 0h0m-4 1h0m-26 4h0m-1-6h0m-11 2h0m-9 2h0m-11 0h0m-6 5h0m-7-8h0m-20 3h0m-4 2h0m-18 3h0m-51 0h0m-10 1h0m-6 0h0m-10-1h0m-25-4h0m-18-5h0m-14 6h0m-15 0h0m-15 3h0m-16 1h0m-6-5h0m-5 0h0m-4 4h0m-4 0h0m-1-8h0m-42 3h0m-3 2h0m-8-5h0m-5 4h0m-13 5h0m-13-6h0m-6 2h0m-1 3h0m-5-4h0m-20 0h0m-20-4h0m-25 0h0m0 8h0m-33 9h0m16 0h0m53-8h0m5 5h0m11-4h0m8 3h0m13 2h0m4-2h0m16 0h0m27 0h0m3 4h0m5 1h0m14-4h0m4-1h0m5 4h0m3 2h0m8-4h0m10 4h0m4-7h0m13 7h0m1-6h0m3 5h0m16-8h0m1 9h0m5-2h0m6 2h0m1-4h0m19 2h0m6 1h0m4-6h0m4 1h0m3 6h0m11-9h0m23 3h0m12 0h0m2-3h0m7 8h0m4-9h0m9 4h0m11 0h0m11 0h0m10-1h0m12 7h0m7-9h0m2 3h0m13 1h0m2-5h0m8 10h0m1-9h0m6 7h0m19-2h0m15-1h0m2-4h0m11 7h0m4-5h0m4 5h0m14 0h0m3-3h0m20 4h0m10 0h0m6 1h0m-2 2h0m-6 1h0m-6 1h0m-9 0h0m-9-4h0m-21 10h0m-18-1h0m-3-9h0m-24 10h0m-1-5h0m-2 3h0m-8 0h0m-12-3h0m-28 0h0m-8 4h0m-10 0h0m-15 0h0m-18-1h0m-18-3h0m-3 3h0m-12 0h0m-12-6h0m-2 8h0m-3-5h0m-27-1h0m-5 5h0m-14-1h0m-21-5h0m-19 2h0m-5 4h0m-36-1h0m-18 2h0m-3-6h0m-3 5h0m-3 0h0m-3-5h0m-16 4h0m-18-3h0m-1-5h0m-30 3h0m-2 6h0m-13 0h0m-22-6h0m-30 5h0m-1 10h0m3-5h0m3 6h0m11-1h0m3-1h0m7-7h0m1 7h0m23-3h0m7-1h0m5-1h0m5 2h0m17-2h0m21 0h0m21 1h0m27 0h0m3 5h0m4 0h0m5-5h0m51 4h0m3 0h0m5-2h0m19 4h0m8-7h0m1 5h0m7-3h0m19-2h0m2 6h0m2-5h0m5 1h0m5-1h0m0 6h0m19-7h0m7 6h0m8-6h0m9 1h0m29-1h0m8 6h0m9-3h0m3-2h0m23 1h0m2 3h0m8-5h0m13 6h0m12 0h0m4 0h0m63-6h0m3 6h0m20-5h0m-16 10h0m-4 3h0m-7-3h0m-4 4h0m-4 1h0m-7-1h0m-2-4h0m-12-1h0m-70 2h0m-37 0h0m-18 3h0m-37-5h0m-9-1h0m-6 1h0m-9 4h0m-1-4h0m-26 4h0m-7-4h0m-4 0h0m-8 1h0m-4 0h0m-13 0h0m-35 3h0m-5 1h0m-14 0h0m-9-6h0m-2 7h0m-18-2h0m-7-3h0m-9 3h0m-2-4h0m-10 0h0m-8 6h0m-6 1h0m-9-7h0m-4 1h0m-6 0h0m-6-1h0m-35 4h0m-9-3h0m-6 3h0m-8 2h0m-21-6h0m-7 9h0m4 5h0m8 0h0m7 1h0m8-5h0m13 6h0m10 0h0m24-5h0m5 2h0m20 3h0m5-1h0m23-2h0m17 3h0m4-2h0m9-3h0m8 2h0m3-2h0m29 4h0m1-6h0m11 0h0m35 2h0m10 0h0m1 4h0m20-6h0m12 1h0m5 0h0m10 0h0m23-1h0m11 0h0m10 0h0m20 5h0m8-4h0m5 8h0m1-2h0m5-3h0m14-4h0m5 1h0m6 1h0m4 3h0m8 1h0m7 0h0m19-6h0m6 1h0m4 0h0m8 5h0m6-1h0m4-5h0m9 2h0m7-2h0m6 1h0m6 4h0m9-3h0m12 0h0m1 3h0m8-4h0m15 15h0m-7-1h0m-36 1h0m-8-6h0m-6 2h0m-10 4h0m-18-6h0m-1 6h0m-19 3h0m-10-4h0m-6-4h0m-8 7h0m-3-6h0m-8-2h0m-3 0h0m-16 5h0m-21 0h0m-2-5h0m-13 5h0m-10 4h0m-78-9h0m-8-1h0m-3 5h0m-8 2h0m-19 3h0m-35-10h0m-6 6h0m-10-5h0m-2 5h0m-3-4h0m-3 4h0m-13-4h0m-25 2h0m-6-2h0m-18 0h0m-4 0h0m-6 8h0m-9-8h0m-24-2h0m-6 7h0m-4-6h0m-12 0h0m-8 1h0m-7-2h0m-3 7h0m-5-1h0m-4-3h0m-2 2h0m-9 0h0m-8 11h0m5-6h0m17 6h0m16-1h0m6 1h0m9-5h0m1 5h0m7-1h0m3 4h0m11 0h0m5-8h0m2 5h0m14-4h0m9 3h0m8-4h0m14-1h0m5 1h0m9 5h0m8-5h0m15 5h0m17-6h0m8 5h0m7 0h0m15 0h0m2-3h0m28 0h0m12 7h0m22 1h0m10-1h0m8-4h0m26 4h0m10-8h0m8 3h0m1-3h0m16 3h0m9 0h0m9 2h0m17 0h0m4-4h0m2 5h0m9-5h0m7 3h0m24-4h0m10 5h0m16 0h0m19 4h0m3-9h0m2 8h0m7-3h0m21-2h0m3 6h0m3-6h0m2 6h0m22-1h0m2-5h0m5 5h0m-3 5h0m-4 5h0m-7-4h0m-19 3h0m-4-4h0m-11 5h0m-13-1h0m-2-4h0m-8 6h0m-20-7h0m-16 0h0m-1-2h0m-23 0h0m-8 3h0m-16 2h0m-3 2h0m-1-3h0m-4 5h0m-15-5h0m-3 0h0m-4-4h0m-36 7h0m-14-3h0m-2-4h0m-8 3h0m-15-3h0m-19 3h0m-4 2h0m-9 4h0m-5-2h0m-16-7h0m-1 9h0m-2-5h0m-18 5h0m-4-6h0m-6 1h0m-22-2h0m-29 6h0m-17-1h0m-9-7h0m-4 3h0m-4 1h0m-3 3h0m-2-8h0m-12 5h0m-14-4h0m-6 8h0m-2-5h0m-14 6h0m-25-5h0m-13 4h0m0-8h0m-2 4h0m-26 9h0m26 1h0m2 3h0m4-5h0m37 2h0m6-1h0m4 4h0m16-8h0m32 1h0m2 4h0m6 0h0m13 3h0m29-3h0m40 3h0m7 2h0m9-3h0m12 2h0m30-6h0m13 5h0m7-3h0m8-2h0m9 1h0m19 4h0m10-3h0m11 2h0m15-3h0m6 4h0m6 0h0m7 2h0m7-6h0m9 4h0m29-4h0m4 5h0m20 0h0m30-4h0m13 4h0m7 0h0m2-6h0m5 2h0m6-2h0m11 2h0m19 4h0m-3 5h0m-11 1h0m-3 3h0m-11 0h0m-26-3h0m-4-1h0m-4 0h0m-12-2h0m-20 2h0m-3 5h0m-8 0h0m-1-7h0m-7 5h0m-12 2h0m-8-4h0m-6 0h0m-15 0h0m-28-1h0m-12 4h0m-6 1h0m-5 0h0m-9-7h0m-23 6h0m0-5h0m-31-1h0m-4 3h0m-6-1h0m-19 4h0m-13-6h0m-7 2h0m-13 4h0m-33 1h0m-1-5h0m-3 3h0m-8-5h0m-15 6h0m-3-4h0m-7 4h0m-13-3h0m-4 5h0m-7-7h0m-16 4h0m-6-3h0m-3 3h0m-1-4h0m-13 0h0m-12 5h0m-10-4h0m-9-1h0m-8 5h0m-4-6h0m-9 7h0m-5-2h0m-1-3h0m-3 6h0m-7-3h0m-3-4h0m-2 4h0m-2-4h0m-2 6h0m-10-5h0m7 8h0m14 6h0m3-1h0m38-4h0m2 5h0m8-7h0m1 6h0m16 0h0m17-1h0m4 1h0m24 1h0m17 0h0m22-5h0m7 1h0m16-1h0m13 4h0m2-4h0m5-1h0m7 2h0m47 0h0m4 2h0m14-4h0m2 5h0m5-1h0m23 1h0m2-6h0m6 0h0m14 1h0m5 6h0m8 0h0m5-4h0m31 5h0m15-2h0m5 0h0m2-6h0m19 6h0m7 2h0m25-1h0m18 0h0m66-6h0m10 14h0m-13 0h0m-3 1h0m-10-5h0m-1 6h0m-3-5h0m-3 2h0m-13 2h0m-2-5h0m-9 0h0m-33 1h0m-31 2h0m-17-4h0m-24 1h0m-35 1h0m-6 0h0m-10 4h0m-26 0h0m-4 0h0m-16-4h0m-14 0h0m-3 3h0m-35-5h0m-12 1h0m-12 0h0m-11 4h0m-6 2h0m-5-1h0m-14-6h0m-48 5h0m-24 1h0m-9-4h0m-3 5h0m-12-6h0m-5 6h0m-1-6h0m-4 6h0m-9-7h0m-3 1h0m-11 0h0m-30 6h0m-4-5h0m-11-1h0m-5 1h0m-4 9h0m5-1h0m3 6h0m1-5h0m6 0h0m22-1h0m7 6h0m2-7h0m5 5h0m13-3h0m8 4h0m6 1h0m14-6h0m1 6h0m3-5h0m2 8h0m33-3h0m15-5h0m1 4h0m26-6h0m6 7h0m8-6h0m15 5h0m22 4h0m9-9h0m18 5h0m25-6h0m21 5h0m6 1h0m14-5h0m6 0h0m12 0h0m6 4h0m7 1h0m52-1h0m16-4h0m26 2h0m10-2h0m9 4h0m3-2h0m3 5h0m11-1h0m3-6h0m6 9h0m2-4h0m2-5h0m2 6h0m3-5h0m12 4h0m28-1h0m11 1h0m2-5h0m2 10h0m-1 8h0m-5-7h0m-1 8h0m-9 0h0m-4-5h0m-11-1h0m-10 1h0m-45 1h0m-21-2h0m-9 0h0m-13-2h0m-29 8h0m-31-1h0m-31-4h0m-40-3h0m-4 2h0m-4 2h0m-12 1h0m-9-1h0m-25-6h0m-3 6h0m-15-5h0m-13 4h0m-7-5h0m-29 4h0m-60 1h0m-23 0h0m-28-4h0m-2 3h0m-10-3h0m-14 6h0m-2 2h0m-6-3h0m-4-5h0m-10 0h0m-5 5h0m-1 3h0m-2-4h0m9 9h0m34 2h0m1-6h0m0 10h0m3-4h0m9 4h0m1-5h0m6 1h0m22-2h0m8 6h0m9-4h0m31-1h0m30-4h0m27 8h0m5 0h0m80-3h0m11-2h0m52 5h0m29-5h0m1 6h0m5-4h0m33 2h0m24-8h0m9 0h0m12 9h0m5-1h0m4 1h0m25-3h0m10 0h0m8-5h0m10 3h0m3-3h0m6 5h0m6 0h0m11 7h0m-7 0h0m-2-3h0m-5 8h0m-2-3h0m-6-1h0m-7 4h0m-6 1h0m-2-4h0m-18 0h0m-4 1h0m-4 4h0m-24-6h0m-9-1h0m-3-3h0m-33 8h0m-59 1h0m-8-5h0m-10 6h0m-22-2h0m-39-5h0m-59 1h0m-22 1h0m-34 3h0m-9-3h0m-23-5h0m-1 7h0m-9-2h0m-23-1h0m-5 4h0m-1-8h0m-13 7h0m-18-2h0m-7 5h0m-6-1h0m-5 0h0m-6-8h0m-3 3h0m-3 5h0m-11-4h0m-4-5h0m-7 4h0m-4 5h0m6 8h0m7-2h0m13 3h0m22 0h0m10 2h0m5-8h0m5 0h0m2 6h0m2-6h0m11 1h0m0 4h0m19-4h0m75 1h0m6 4h0m2-4h0m4 5h0m6-1h0m8-4h0m31-2h0m13 2h0m60 5h0m8-6h0m21 5h0m25-3h0m66 2h0m10 2h0m16-9h0m7 3h0m14 1h0m2 5h0m6 0h0m8 0h0m9-5h0m7-2h0m4 0h0m5 1h0m13 5h0m20 3h0m-5 2h0m-4 6h0m-8-7h0m-1 5h0m-4-3h0m-2 3h0m-5 0h0m-6 1h0m-1-7h0m-17 1h0m-22-1h0m-9 5h0m-3-3h0m-1 5h0m-26-4h0m-9-3h0m-16 7h0m-12-7h0m-12 1h0m-47 0h0m-12 0h0m-13 7h0m-49-3h0m-27 3h0m-14-1h0m-4-5h0m-72 4h0m-29-4h0m-3 5h0m-16 0h0m-9-5h0m-4 6h0m-10-1h0m-40-4h0m-25 2h0m-2-3h0m1 14h0m6 0h0m36-4h0m28 0h0m1 3h0m33 2h0m22-1h0m9 1h0m15-7h0m7 7h0m51-6h0m3 6h0m36-5h0m4 3h0m15 0h0m33 1h0m1-5h0m16 2h0m4 4h0m19-6h0m10 0h0m39 4h0m13 0h0m6-1h0m9 3h0m21-1h0m30-6h0m5 5h0m0-3h0m13-2h0m13 5h0m18-3h0m9 5h0m9-7h0m3 7h0m-7 7h0m-12 1h0m-5 4h0m-4-4h0m-15 0h0m-4-3h0m-6-2h0m-21 1h0m-19 6h0m-35-6h0m-18 0h0m-31 8h0m-22 0h0m-14-2h0m-45-6h0m-21 0h0m-8 5h0m-23 0h0m-7 3h0m-5-7h0m-53 2h0m-28-3h0m-22-1h0m-15 6h0m-14-1h0m-18-1h0m-7-2h0m-3 3h0m-1-4h0m-6 1h0m-11-2h0m-13 9h0m0-7h0m-7 2h0m-21 1h0m-2 5h0m5 4h0m10-4h0m11 0h0m2 5h0m13 0h0m26 0h0m14-4h0m26 0h0m9 0h0m10 4h0m6 1h0m3-7h0m39 5h0m6 1h0m6 0h0m14 3h0m97-8h0m3 8h0m42-5h0m1 6h0m20-6h0m19 6h0m8-3h0m12-1h0m1-4h0m60-2h0m27 2h0m15 8h0m2-9h0m13 5h0m2-6h0m6 2h0m23 8h0m-12 9h0m-5 0h0m-9-4h0m-1-5h0m-19 8h0m-15-7h0m-13 4h0m-8-5h0m-108 1h0m-2 9h0m-6-5h0m-10 0h0m-35 4h0m-21-3h0m-5 0h0m-33 0h0m-1-6h0m-33 1h0m-7 4h0m-6-2h0m-20-2h0m-14 5h0m-99-6h0m-15 1h0m-6 0h0m-5 8h0m-9-3h0m-16-1h0m-21 1h0m-2 10h0m7-3h0m3-2h0m23 5h0m10 0h0m12-2h0m27 2h0m7-3h0m7-2h0m6 0h0m1 2h0m23 1h0m16 2h0m32-2h0m7 0h0m80 0h0m14-4h0m29 3h0m38 2h0m50-4h0m105 3h0m4-4h0m9 3h0m20 2h0" fill="none" stroke="#fff" stroke-width="7.1" stroke-linecap="round"/></g></mask>
<mask id="eMU" maskUnits="userSpaceOnUse" x="-20" y="-20" width="319" height="243">
<path d="M0 0L7.4 .4L14.7 2.2L22.2 1.3L29.5 3.5L37.1 .6L44.3 4L51.8 2.9L59.3 1.4L66.6 4.5L74.1 2.1L81.5 3.8L88.8 5.1L96.2 5.2L103.6 5.8L110.5 7.1L117.5 10.9L120.1 18.6L127.2 22.5L131.6 28.8L133.3 37.2L138.8 41.6L140.7 50.3L143.1 59.8L136.7 64.7L134.6 72.6L126.4 72.8L119.4 76.1L111.1 82.9L103.8 82.5L96.5 80.1L89.4 83.3L82.1 82.1L75 84.6L67.6 83.1L62.1 84.8L55.4 95.1L55.1 102.5L55.6 109.8L56.1 117L55.5 124.4L53.9 131.8L57.8 140.6L49.9 146.1L53.2 154.7L60.1 160.7L59.3 167.9L57.5 175.1L60.5 182.7L56.9 187.8L50.8 193.8L43.2 194L43 203L35.8 203L28.7 203L21.5 203L14.3 203L7.2 203L0 203L0 196L0 189L0 182L0 175L0 168L0 161L0 154L0 147L0 140L0 133L0 126L0 119L0 112L0 105L0 98L0 91L0 84L0 77L0 70L0 63L0 56L0 49L0 42L0 35L0 28L0 21L0 14L0 7Z" fill="#fff"/>
<ellipse cx="75" cy="112" rx="21" ry="30" fill="#fff"/>
<ellipse cx="107" cy="113" rx="14" ry="27" fill="#fff"/>
<path d="M185.1 97.1L190 89L198.4 88.4L205.7 85.4L212.9 84.9L220.2 85.4L228.1 87.4L235.2 82.3L241.4 75.9L249.3 69.7L256.7 71.2L264.1 71.8L271.6 72.6L279 72L279 79.4L279 86.7L279 94.1L279 101.5L279 108.8L279 116.2L279 123.6L279 130.9L279 138.3L279 145.7L279 153L279 160.4L279 167.8L279 175.1L279 182.5L275.9 189.2L274.7 196.6L271 203L262.3 203L253.6 203L248 198.2L241.9 194.1L236.7 188.9L231.8 183.3L229.2 175.8L223.7 170.9L217.1 166.9L212.8 161L205.7 156.5L202.1 148.2L195.3 143.4L188.2 139L186.3 131.8L188.3 124.3L184.8 117.3L185.8 109.8L185.7 102.5Z" fill="#fff"/>
<path d="M149.9 6.7L158.5 8.2L167 8.1L175.5 7.4L183.9 5.7L191.1 4.1L198.6 6.5L205.9 7.1L213.2 5.9L220.6 7L227.7 3.7L237.5 3.9L234 13.1L236.3 23.3L225.6 23.1L215.8 29.1L207.3 26.6L198.7 25.1L190.2 22.7L181.7 22.5L172.8 25.5L164.6 21.2L155.5 22.2L152.7 15.6Z" fill="#fff"/>
<ellipse cx="198" cy="45" rx="16" ry="16" fill="#fff"/>
<ellipse cx="140" cy="38" rx="9" ry="12" fill="#000"/>
<ellipse cx="170" cy="52" rx="8" ry="8" fill="#000"/>
<ellipse cx="228" cy="52" rx="9" ry="7" fill="#000"/>
<ellipse cx="239" cy="159" rx="5" ry="5" fill="#000"/>
<ellipse cx="265" cy="128" rx="4" ry="3" fill="#000"/>
<ellipse cx="128" cy="90" rx="5" ry="3" fill="#000"/>
</mask>
<g id="eTx" filter="url(#bl2)">
<ellipse cx="197" cy="45.2" rx="5.9" ry="3.9" fill="#1e3f78" opacity=".5"/>
<ellipse cx="261.2" cy="128.3" rx="3.9" ry="5.2" fill="#1e3f78" opacity=".5"/>
<ellipse cx="248.1" cy="165.6" rx="5" ry="5.3" fill="#1e3f78" opacity=".5"/>
<ellipse cx="247.4" cy="149" rx="3.1" ry="5.6" fill="#1e3f78" opacity=".5"/>
<ellipse cx="246" cy="122.6" rx="5.2" ry="7.2" fill="#1e3f78" opacity=".5"/>
<ellipse cx="252.9" cy="116.2" rx="3" ry="3.4" fill="#1e3f78" opacity=".5"/>
<ellipse cx="185.5" cy="37.6" rx="6.8" ry="5.6" fill="#1e3f78" opacity=".5"/>
<ellipse cx="246.1" cy="88.3" rx="3.3" ry="3.1" fill="#1e3f78" opacity=".5"/>
<ellipse cx="74.9" cy="79.5" rx="5" ry="3.4" fill="#1e3f78" opacity=".5"/>
<ellipse cx="231.5" cy="168.6" rx="4.7" ry="4.6" fill="#1e3f78" opacity=".5"/>
<ellipse cx="134.7" cy="62.9" rx="3.6" ry="4.2" fill="#1e3f78" opacity=".5"/>
<ellipse cx="248.8" cy="96.9" rx="5.2" ry="4" fill="#1e3f78" opacity=".5"/>
<ellipse cx="253.2" cy="158.9" rx="4.9" ry="5" fill="#1e3f78" opacity=".5"/>
<ellipse cx="43.5" cy="35.6" rx="7.3" ry="6.2" fill="#1e3f78" opacity=".5"/>
<ellipse cx="23.1" cy="17" rx="5.2" ry="3" fill="#1e3f78" opacity=".5"/>
<ellipse cx="256.2" cy="116.3" rx="3.4" ry="3.5" fill="#1e3f78" opacity=".5"/>
<ellipse cx="203.1" cy="116.7" rx="7.8" ry="5.4" fill="#1e3f78" opacity=".5"/>
<ellipse cx="249.6" cy="119.7" rx="6.1" ry="4.6" fill="#1e3f78" opacity=".5"/>
<ellipse cx="51.1" cy="83.7" rx="3.9" ry="6.7" fill="#1e3f78" opacity=".5"/>
<ellipse cx="264.9" cy="92.5" rx="3.5" ry="3.2" fill="#1e3f78" opacity=".5"/>
<ellipse cx="195.9" cy="129.2" rx="4.3" ry="7.1" fill="#1e3f78" opacity=".5"/>
<ellipse cx="261.7" cy="124.8" rx="7.6" ry="7.9" fill="#1e3f78" opacity=".5"/>
<ellipse cx="15.7" cy="131.7" rx="7.3" ry="6.1" fill="#1e3f78" opacity=".5"/>
<ellipse cx="202.9" cy="122.6" rx="3.7" ry="4.8" fill="#1e3f78" opacity=".5"/>
<ellipse cx="243.8" cy="179" rx="5.9" ry="7.6" fill="#1e3f78" opacity=".5"/>
<ellipse cx="276.6" cy="101.4" rx="7.8" ry="3.1" fill="#1e3f78" opacity=".5"/>
<ellipse cx="72.8" cy="33.6" rx="3.2" ry="7.7" fill="#1e3f78" opacity=".5"/>
<ellipse cx="250.7" cy="173.1" rx="7.6" ry="4.8" fill="#1e3f78" opacity=".5"/>
<ellipse cx="242" cy="146" rx="7.3" ry="7.7" fill="#1e3f78" opacity=".5"/>
<ellipse cx="122.5" cy="49" rx="6.1" ry="4.9" fill="#1e3f78" opacity=".5"/>
<ellipse cx="269.7" cy="91.4" rx="6.7" ry="5.9" fill="#1e3f78" opacity=".5"/>
<ellipse cx="259.6" cy="96.3" rx="5.6" ry="5.6" fill="#1e3f78" opacity=".5"/>
<ellipse cx="215.5" cy="118" rx="4.2" ry="6.5" fill="#1e3f78" opacity=".5"/>
<ellipse cx="271.6" cy="100.1" rx="5.4" ry="7.5" fill="#1e3f78" opacity=".5"/>
<ellipse cx="199.3" cy="127.9" rx="4" ry="3.8" fill="#1e3f78" opacity=".5"/>
<ellipse cx="218.6" cy="116.1" rx="7.5" ry="4.6" fill="#1e3f78" opacity=".5"/>
<ellipse cx="233.5" cy="167.1" rx="7" ry="6.8" fill="#1e3f78" opacity=".5"/>
<ellipse cx="31.8" cy="174.7" rx="7.2" ry="6.6" fill="#1e3f78" opacity=".5"/>
<ellipse cx="252.5" cy="85.9" rx="5.1" ry="6.1" fill="#1e3f78" opacity=".5"/>
<ellipse cx="267.5" cy="101.9" rx="7.2" ry="6.1" fill="#1e3f78" opacity=".5"/>
<ellipse cx="201.2" cy="50.3" rx="4.4" ry="4.8" fill="#1e3f78" opacity=".5"/>
<ellipse cx="26.3" cy="74.4" rx="6.8" ry="4.3" fill="#1e3f78" opacity=".5"/>
<ellipse cx="267.3" cy="135.7" rx="7.8" ry="6.4" fill="#1e3f78" opacity=".5"/>
<ellipse cx="51.4" cy="84.7" rx="6.6" ry="6.8" fill="#1e3f78" opacity=".5"/>
<ellipse cx="269.3" cy="111.8" rx="4.4" ry="4.7" fill="#1e3f78" opacity=".5"/>
<ellipse cx="260" cy="162" rx="8" ry="3.8" fill="#1e3f78" opacity=".5"/>
<ellipse cx="67.7" cy="72.9" rx="4.9" ry="5.3" fill="#1e3f78" opacity=".5"/>
<ellipse cx="39.5" cy="186" rx="4.9" ry="5.8" fill="#1e3f78" opacity=".5"/>
<ellipse cx="105.4" cy="67.4" rx="6.2" ry="6.6" fill="#1e3f78" opacity=".5"/>
<ellipse cx="16.5" cy="105.5" rx="3.4" ry="4.5" fill="#1e3f78" opacity=".5"/>
<ellipse cx="211" cy="37.9" rx="6.6" ry="3.1" fill="#1e3f78" opacity=".5"/>
<ellipse cx="247.8" cy="121.8" rx="5.8" ry="6.8" fill="#1e3f78" opacity=".5"/>
<ellipse cx="34" cy="151.4" rx="7.6" ry="5.4" fill="#1e3f78" opacity=".5"/>
<ellipse cx="275.6" cy="124.7" rx="6.4" ry="5.2" fill="#1e3f78" opacity=".5"/>
<ellipse cx="264" cy="101.1" rx="6.8" ry="5.2" fill="#1e3f78" opacity=".5"/>
<ellipse cx="254.9" cy="132.7" rx="6.2" ry="5.6" fill="#1e3f78" opacity=".5"/>
<ellipse cx="210.2" cy="37.7" rx="6.4" ry="7.8" fill="#1e3f78" opacity=".5"/>
<ellipse cx="210" cy="36.2" rx="7.3" ry="7.8" fill="#1e3f78" opacity=".5"/>
<ellipse cx="254.3" cy="123.9" rx="5.1" ry="3.6" fill="#1e3f78" opacity=".5"/>
<ellipse cx="80.4" cy="36" rx="7" ry="5.8" fill="#1e3f78" opacity=".5"/>
<ellipse cx="260.6" cy="140" rx="7" ry="5" fill="#1e3f78" opacity=".5"/>
<ellipse cx="30.4" cy="64.7" rx="5.2" ry="7.1" fill="#1e3f78" opacity=".5"/>
<ellipse cx="261.9" cy="82.5" rx="5.1" ry="3.1" fill="#1e3f78" opacity=".5"/>
<ellipse cx="190" cy="133" rx="3.1" ry="4" fill="#1e3f78" opacity=".5"/>
<ellipse cx="237.5" cy="166.6" rx="3.5" ry="6.7" fill="#1e3f78" opacity=".5"/>
<ellipse cx="121.1" cy="52.8" rx="6.6" ry="6.5" fill="#1e3f78" opacity=".5"/>
<ellipse cx="242.9" cy="99.3" rx="7.1" ry="6.1" fill="#1e3f78" opacity=".5"/>
<ellipse cx="251.9" cy="129" rx="6.2" ry="5.6" fill="#1e3f78" opacity=".5"/>
<ellipse cx="199.3" cy="47.6" rx="3.7" ry="7.6" fill="#1e3f78" opacity=".5"/>
<ellipse cx="215.6" cy="138.5" rx="4" ry="6.9" fill="#1e3f78" opacity=".5"/>
<ellipse cx="10" cy="58.7" rx="4.9" ry="5.2" fill="#1e3f78" opacity=".5"/>
<ellipse cx="262.6" cy="101.6" rx="4" ry="6.1" fill="#1e3f78" opacity=".5"/>
<ellipse cx="237.6" cy="174.2" rx="4.8" ry="6.5" fill="#1e3f78" opacity=".5"/>
<ellipse cx="252.8" cy="162.1" rx="6.4" ry="3.9" fill="#1e3f78" opacity=".5"/>
<ellipse cx="199.6" cy="45.4" rx="5.8" ry="3.7" fill="#1e3f78" opacity=".5"/>
<ellipse cx="8.9" cy="71.7" rx="3.8" ry="4.4" fill="#1e3f78" opacity=".5"/>
<ellipse cx="241.6" cy="172.1" rx="4.6" ry="5.3" fill="#1e3f78" opacity=".5"/>
<ellipse cx="257.1" cy="113" rx="4.9" ry="6.2" fill="#1e3f78" opacity=".5"/>
<ellipse cx="255.7" cy="90.8" rx="7.6" ry="6" fill="#1e3f78" opacity=".5"/>
<ellipse cx="115" cy="58.9" rx="7.3" ry="6.1" fill="#1e3f78" opacity=".5"/>
<ellipse cx="263.6" cy="85.1" rx="5.9" ry="4.7" fill="#1e3f78" opacity=".5"/>
<ellipse cx="190.7" cy="57.3" rx="6.7" ry="6.9" fill="#1e3f78" opacity=".5"/>
<ellipse cx="230.5" cy="128.7" rx="6.8" ry="6.8" fill="#1e3f78" opacity=".5"/>
<ellipse cx="249.9" cy="84.9" rx="7" ry="4.5" fill="#1e3f78" opacity=".5"/>
<ellipse cx="19.3" cy="32.7" rx="6.2" ry="6.1" fill="#1e3f78" opacity=".5"/>
<ellipse cx="201.2" cy="127" rx="3.4" ry="3.3" fill="#eef4f9" opacity=".4"/>
<ellipse cx="261.6" cy="94.9" rx="2.5" ry="2.3" fill="#eef4f9" opacity=".4"/>
<ellipse cx="248.7" cy="114" rx="3.1" ry="3.3" fill="#eef4f9" opacity=".4"/>
<ellipse cx="188.9" cy="41.3" rx="2.2" ry="2.6" fill="#eef4f9" opacity=".4"/>
<ellipse cx="212.7" cy="119.4" rx="4.4" ry="3.4" fill="#eef4f9" opacity=".4"/>
<ellipse cx="95.2" cy="66.7" rx="2.2" ry="3.5" fill="#eef4f9" opacity=".4"/>
<ellipse cx="211.7" cy="41.6" rx="4.3" ry="3" fill="#eef4f9" opacity=".4"/>
<ellipse cx="53.3" cy="129" rx="3.5" ry="3.1" fill="#eef4f9" opacity=".4"/>
<ellipse cx="258" cy="95.9" rx="3.5" ry="2.9" fill="#eef4f9" opacity=".4"/>
<ellipse cx="209.1" cy="107.5" rx="4.3" ry="3.7" fill="#eef4f9" opacity=".4"/>
<ellipse cx="37.1" cy="143.1" rx="3" ry="3.7" fill="#eef4f9" opacity=".4"/>
<ellipse cx="126.6" cy="62.1" rx="2.1" ry="4.5" fill="#eef4f9" opacity=".4"/>
<ellipse cx="269.3" cy="87" rx="3.9" ry="2.1" fill="#eef4f9" opacity=".4"/>
<ellipse cx="131.4" cy="60.2" rx="3.2" ry="4.4" fill="#eef4f9" opacity=".4"/>
<ellipse cx="190.4" cy="51.2" rx="2.1" ry="3" fill="#eef4f9" opacity=".4"/>
<ellipse cx="42.6" cy="9.9" rx="3.3" ry="2.3" fill="#eef4f9" opacity=".4"/>
<ellipse cx="247.3" cy="92.3" rx="3.5" ry="3.6" fill="#eef4f9" opacity=".4"/>
<ellipse cx="239.9" cy="172.6" rx="3.3" ry="4.5" fill="#eef4f9" opacity=".4"/>
<ellipse cx="222.7" cy="105.9" rx="2.3" ry="4.2" fill="#eef4f9" opacity=".4"/>
<ellipse cx="198.2" cy="55.4" rx="2.7" ry="3.5" fill="#eef4f9" opacity=".4"/>
<ellipse cx="245.5" cy="165.5" rx="3.6" ry="3.9" fill="#eef4f9" opacity=".4"/>
<ellipse cx="206" cy="125.2" rx="2.3" ry="3.4" fill="#eef4f9" opacity=".4"/>
<ellipse cx="109.5" cy="74.5" rx="2.4" ry="2.6" fill="#eef4f9" opacity=".4"/>
<ellipse cx="209.1" cy="111.7" rx="2.8" ry="3.2" fill="#eef4f9" opacity=".4"/>
<ellipse cx="72.1" cy="67.7" rx="4.1" ry="3.9" fill="#eef4f9" opacity=".4"/>
<ellipse cx="258.1" cy="87.3" rx="4" ry="2.9" fill="#eef4f9" opacity=".4"/>
<ellipse cx="255.8" cy="165.7" rx="2.7" ry="3.9" fill="#eef4f9" opacity=".4"/>
<ellipse cx="210.6" cy="42.8" rx="2.9" ry="2.2" fill="#eef4f9" opacity=".4"/>
<ellipse cx="264.3" cy="136" rx="3.2" ry="4.1" fill="#eef4f9" opacity=".4"/>
<ellipse cx="27.2" cy="22" rx="3.7" ry="2.2" fill="#eef4f9" opacity=".4"/>
<ellipse cx="209.7" cy="132.2" rx="2.8" ry="4.2" fill="#eef4f9" opacity=".4"/>
<ellipse cx="23.5" cy="157.5" rx="2.9" ry="2.3" fill="#eef4f9" opacity=".4"/>
<ellipse cx="240.8" cy="165.6" rx="4.3" ry="3.7" fill="#eef4f9" opacity=".4"/>
<ellipse cx="206.7" cy="134.2" rx="2.8" ry="2.8" fill="#eef4f9" opacity=".4"/>
<ellipse cx="253.4" cy="118.7" rx="2.9" ry="2.9" fill="#eef4f9" opacity=".4"/>
<ellipse cx="264.2" cy="104.5" rx="3.8" ry="2.9" fill="#eef4f9" opacity=".4"/>
<ellipse cx="262.5" cy="105.8" rx="3.4" ry="2.4" fill="#eef4f9" opacity=".4"/>
<ellipse cx="196.6" cy="55.6" rx="4" ry="2.6" fill="#eef4f9" opacity=".4"/>
<ellipse cx="83.8" cy="48.6" rx="4.4" ry="3.6" fill="#eef4f9" opacity=".4"/>
<ellipse cx="195.7" cy="47.5" rx="2.8" ry="3.4" fill="#eef4f9" opacity=".4"/>
<ellipse cx="187.4" cy="130.9" rx="4.2" ry="2.2" fill="#eef4f9" opacity=".4"/>
<ellipse cx="248.8" cy="146.7" rx="4" ry="3.1" fill="#eef4f9" opacity=".4"/>
<ellipse cx="232.4" cy="172.1" rx="3.3" ry="3.9" fill="#eef4f9" opacity=".4"/>
<ellipse cx="255.3" cy="104.8" rx="2.8" ry="2.3" fill="#eef4f9" opacity=".4"/>
<ellipse cx="262.4" cy="102.1" rx="3.8" ry="4.3" fill="#eef4f9" opacity=".4"/>
<ellipse cx="229.1" cy="134.3" rx="4.1" ry="4.2" fill="#eef4f9" opacity=".4"/>
<ellipse cx="266.8" cy="124.9" rx="3.8" ry="4" fill="#eef4f9" opacity=".4"/>
<ellipse cx="268" cy="89.3" rx="3" ry="3.3" fill="#eef4f9" opacity=".4"/>
<ellipse cx="222.5" cy="109.2" rx="2.4" ry="4.3" fill="#eef4f9" opacity=".4"/>
<ellipse cx="41.9" cy="32.9" rx="3.5" ry="3.5" fill="#eef4f9" opacity=".4"/>
<ellipse cx="264.6" cy="86.2" rx="2.5" ry="2.7" fill="#eef4f9" opacity=".4"/>
<ellipse cx="244.8" cy="174.1" rx="3.2" ry="2.7" fill="#eef4f9" opacity=".4"/>
<ellipse cx="276.7" cy="89.9" rx="3.4" ry="4.4" fill="#eef4f9" opacity=".4"/>
<ellipse cx="274.8" cy="91.8" rx="2.5" ry="2.3" fill="#eef4f9" opacity=".4"/>
<ellipse cx="194.5" cy="45.8" rx="3.3" ry="2.7" fill="#eef4f9" opacity=".4"/>
<ellipse cx="97.6" cy="23.8" rx="2" ry="3.2" fill="#eef4f9" opacity=".4"/>
<ellipse cx="207.3" cy="106.3" rx="3.1" ry="4.2" fill="#eef4f9" opacity=".4"/>
<ellipse cx="248" cy="89.3" rx="2.6" ry="4.2" fill="#eef4f9" opacity=".4"/>
<ellipse cx="249.5" cy="133.2" rx="3.5" ry="3.3" fill="#eef4f9" opacity=".4"/>
<ellipse cx="216.2" cy="120.4" rx="4.2" ry="3.7" fill="#eef4f9" opacity=".4"/>
<ellipse cx="133.6" cy="50" rx="4.1" ry="2.8" fill="#eef4f9" opacity=".4"/>
<ellipse cx="188.6" cy="35.8" rx="3.7" ry="4" fill="#eef4f9" opacity=".4"/>
<ellipse cx="249.9" cy="96.4" rx="3.3" ry="2.4" fill="#eef4f9" opacity=".4"/>
<ellipse cx="211.9" cy="39.5" rx="3" ry="3.4" fill="#eef4f9" opacity=".4"/>
<ellipse cx="267.4" cy="81.1" rx="2.2" ry="2.4" fill="#eef4f9" opacity=".4"/>
<ellipse cx="239" cy="160.5" rx="4.4" ry="4.1" fill="#eef4f9" opacity=".4"/>
<ellipse cx="240.9" cy="175.8" rx="3.8" ry="3.2" fill="#eef4f9" opacity=".4"/>
<ellipse cx="213.5" cy="116.9" rx="2" ry="4.5" fill="#eef4f9" opacity=".4"/>
<ellipse cx="204.6" cy="57" rx="2.4" ry="3.6" fill="#eef4f9" opacity=".4"/>
<ellipse cx="194.8" cy="50" rx="2.6" ry="2.5" fill="#eef4f9" opacity=".4"/>
</g>
</defs>
<g transform="translate(35 1046.6)">
<g mask="url(#eMU)"><rect x="-4" y="-4" width="287" height="211" fill="#1c396d"/><g filter="url(#bl4)">
<path d="M18 6L111 9L138 42L139 60L132 71L110 79L62 81L40 58L18 38Z" fill="#3e8cbf"/>
<path d="M2 45L40 58L62 82L53 96L56 139L50 146L60 160L57 190L43 196L27 200L14 150L5 100Z" fill="#3681b9"/>
<path d="M0 0L30 2L22 30L0 42Z" fill="#2265a8"/>
<ellipse cx="28" cy="25" rx="14" ry="16" fill="#327cb7"/>
<path d="M0 150L14 150L30 203L0 203Z" fill="#1d5494"/>
<ellipse cx="22" cy="190" rx="10" ry="8" fill="#266cae"/>
<ellipse cx="8" cy="95" rx="7" ry="18" fill="#205fa1"/>
<ellipse cx="72" cy="104" rx="6" ry="12" fill="#3783ba"/>
<ellipse cx="80.7" cy="118" rx="4" ry="5" fill="#3e8cbf"/>
<ellipse cx="103" cy="108" rx="5" ry="6" fill="#327cb7"/>
<ellipse cx="140" cy="108" rx="6" ry="8" fill="#2265a8"/>
<ellipse cx="160" cy="118" rx="6" ry="10" fill="#266cae"/>
<ellipse cx="150" cy="140" rx="7" ry="5" fill="#266cae"/>
<ellipse cx="210" cy="119" rx="27" ry="25" fill="#3f8ec0"/>
<ellipse cx="261" cy="95" rx="19" ry="16" fill="#3783ba"/>
<ellipse cx="262" cy="124" rx="17" ry="19" fill="#3783ba"/>
<ellipse cx="243" cy="162" rx="19" ry="19" fill="#3e8cbf"/>
<ellipse cx="264" cy="192" rx="12" ry="10" fill="#327cb7"/>
<ellipse cx="236" cy="100" rx="13" ry="11" fill="#327cb7"/>
<ellipse cx="266" cy="79" rx="11" ry="9" fill="#327cb7"/>
<ellipse cx="170" cy="17" rx="18" ry="8" fill="#3c8abe"/>
<ellipse cx="205" cy="16" rx="14" ry="9" fill="#3c8abe"/>
<ellipse cx="198" cy="45" rx="15" ry="15" fill="#4291c2"/>
<ellipse cx="249" cy="21" rx="6" ry="5" fill="#2c75b3"/>
<ellipse cx="258" cy="45" rx="14" ry="18" fill="#205fa1"/>
<ellipse cx="153.4" cy="179.6" rx="6" ry="6" fill="#3783ba"/>
<ellipse cx="89.4" cy="194" rx="5" ry="5" fill="#2c75b3"/>
</g><use href="#eTx"/></g>
<g mask="url(#eM0)"><rect x="-4" y="-4" width="287" height="211" fill="#1c3667"/><g filter="url(#bl4)">
<path d="M18 6L111 9L138 42L139 60L132 71L110 79L62 81L40 58L18 38Z" fill="#1e5798"/>
<path d="M2 45L40 58L62 82L53 96L56 139L50 146L60 160L57 190L43 196L27 200L14 150L5 100Z" fill="#1d5493"/>
<path d="M0 0L30 2L22 30L0 42Z" fill="#1b4a86"/>
<ellipse cx="28" cy="25" rx="14" ry="16" fill="#1d5291"/>
<path d="M0 150L14 150L30 203L0 203Z" fill="#1b427a"/>
<ellipse cx="22" cy="190" rx="10" ry="8" fill="#1b4c8a"/>
<ellipse cx="8" cy="95" rx="7" ry="18" fill="#1b4782"/>
<ellipse cx="72" cy="104" rx="6" ry="12" fill="#1d5494"/>
<ellipse cx="80.7" cy="118" rx="4" ry="5" fill="#1e5798"/>
<ellipse cx="103" cy="108" rx="5" ry="6" fill="#1d5291"/>
<ellipse cx="140" cy="108" rx="6" ry="8" fill="#1b4a86"/>
<ellipse cx="160" cy="118" rx="6" ry="10" fill="#1b4c8a"/>
<ellipse cx="150" cy="140" rx="7" ry="5" fill="#1b4c8a"/>
<ellipse cx="210" cy="119" rx="27" ry="25" fill="#1e5898"/>
<ellipse cx="261" cy="95" rx="19" ry="16" fill="#1d5494"/>
<ellipse cx="262" cy="124" rx="17" ry="19" fill="#1d5494"/>
<ellipse cx="243" cy="162" rx="19" ry="19" fill="#1e5798"/>
<ellipse cx="264" cy="192" rx="12" ry="10" fill="#1d5291"/>
<ellipse cx="236" cy="100" rx="13" ry="11" fill="#1d5291"/>
<ellipse cx="266" cy="79" rx="11" ry="9" fill="#1d5291"/>
<ellipse cx="170" cy="17" rx="18" ry="8" fill="#1e5797"/>
<ellipse cx="205" cy="16" rx="14" ry="9" fill="#1e5797"/>
<ellipse cx="198" cy="45" rx="15" ry="15" fill="#1f599a"/>
<ellipse cx="249" cy="21" rx="6" ry="5" fill="#1c4f8e"/>
<ellipse cx="258" cy="45" rx="14" ry="18" fill="#1b4782"/>
<ellipse cx="153.4" cy="179.6" rx="6" ry="6" fill="#1d5494"/>
<ellipse cx="89.4" cy="194" rx="5" ry="5" fill="#1c4f8e"/>
</g><use href="#eTx"/></g>
<g mask="url(#eM1)"><rect x="-4" y="-4" width="287" height="211" fill="#1c396d"/><g filter="url(#bl4)">
<path d="M18 6L111 9L138 42L139 60L132 71L110 79L62 81L40 58L18 38Z" fill="#3e8cbf"/>
<path d="M2 45L40 58L62 82L53 96L56 139L50 146L60 160L57 190L43 196L27 200L14 150L5 100Z" fill="#3681b9"/>
<path d="M0 0L30 2L22 30L0 42Z" fill="#2265a8"/>
<ellipse cx="28" cy="25" rx="14" ry="16" fill="#327cb7"/>
<path d="M0 150L14 150L30 203L0 203Z" fill="#1d5494"/>
<ellipse cx="22" cy="190" rx="10" ry="8" fill="#266cae"/>
<ellipse cx="8" cy="95" rx="7" ry="18" fill="#205fa1"/>
<ellipse cx="72" cy="104" rx="6" ry="12" fill="#3783ba"/>
<ellipse cx="80.7" cy="118" rx="4" ry="5" fill="#3e8cbf"/>
<ellipse cx="103" cy="108" rx="5" ry="6" fill="#327cb7"/>
<ellipse cx="140" cy="108" rx="6" ry="8" fill="#2265a8"/>
<ellipse cx="160" cy="118" rx="6" ry="10" fill="#266cae"/>
<ellipse cx="150" cy="140" rx="7" ry="5" fill="#266cae"/>
<ellipse cx="210" cy="119" rx="27" ry="25" fill="#3f8ec0"/>
<ellipse cx="261" cy="95" rx="19" ry="16" fill="#3783ba"/>
<ellipse cx="262" cy="124" rx="17" ry="19" fill="#3783ba"/>
<ellipse cx="243" cy="162" rx="19" ry="19" fill="#3e8cbf"/>
<ellipse cx="264" cy="192" rx="12" ry="10" fill="#327cb7"/>
<ellipse cx="236" cy="100" rx="13" ry="11" fill="#327cb7"/>
<ellipse cx="266" cy="79" rx="11" ry="9" fill="#327cb7"/>
<ellipse cx="170" cy="17" rx="18" ry="8" fill="#3c8abe"/>
<ellipse cx="205" cy="16" rx="14" ry="9" fill="#3c8abe"/>
<ellipse cx="198" cy="45" rx="15" ry="15" fill="#4291c2"/>
<ellipse cx="249" cy="21" rx="6" ry="5" fill="#2c75b3"/>
<ellipse cx="258" cy="45" rx="14" ry="18" fill="#205fa1"/>
<ellipse cx="153.4" cy="179.6" rx="6" ry="6" fill="#3783ba"/>
<ellipse cx="89.4" cy="194" rx="5" ry="5" fill="#2c75b3"/>
</g><use href="#eTx"/></g>
<g mask="url(#eM2)"><rect x="-4" y="-4" width="287" height="211" fill="#1c3c71"/><g filter="url(#bl4)">
<path d="M18 6L111 9L138 42L139 60L132 71L110 79L62 81L40 58L18 38Z" fill="#83bbd9"/>
<path d="M2 45L40 58L62 82L53 96L56 139L50 146L60 160L57 190L43 196L27 200L14 150L5 100Z" fill="#6aacd0"/>
<path d="M0 0L30 2L22 30L0 42Z" fill="#3681b9"/>
<ellipse cx="28" cy="25" rx="14" ry="16" fill="#5ea4cc"/>
<path d="M0 150L14 150L30 203L0 203Z" fill="#2264a7"/>
<ellipse cx="22" cy="190" rx="10" ry="8" fill="#3e8cbf"/>
<ellipse cx="8" cy="95" rx="7" ry="18" fill="#2d76b4"/>
<ellipse cx="72" cy="104" rx="6" ry="12" fill="#6eaed2"/>
<ellipse cx="80.7" cy="118" rx="4" ry="5" fill="#83bbd9"/>
<ellipse cx="103" cy="108" rx="5" ry="6" fill="#5ea4cc"/>
<ellipse cx="140" cy="108" rx="6" ry="8" fill="#3681b9"/>
<ellipse cx="160" cy="118" rx="6" ry="10" fill="#3e8cbf"/>
<ellipse cx="150" cy="140" rx="7" ry="5" fill="#3e8cbf"/>
<ellipse cx="210" cy="119" rx="27" ry="25" fill="#87beda"/>
<ellipse cx="261" cy="95" rx="19" ry="16" fill="#6eaed2"/>
<ellipse cx="262" cy="124" rx="17" ry="19" fill="#6eaed2"/>
<ellipse cx="243" cy="162" rx="19" ry="19" fill="#83bbd9"/>
<ellipse cx="264" cy="192" rx="12" ry="10" fill="#5ea4cc"/>
<ellipse cx="236" cy="100" rx="13" ry="11" fill="#5ea4cc"/>
<ellipse cx="266" cy="79" rx="11" ry="9" fill="#5ea4cc"/>
<ellipse cx="170" cy="17" rx="18" ry="8" fill="#7fb9d7"/>
<ellipse cx="205" cy="16" rx="14" ry="9" fill="#7fb9d7"/>
<ellipse cx="198" cy="45" rx="15" ry="15" fill="#8fc3dd"/>
<ellipse cx="249" cy="21" rx="6" ry="5" fill="#4d99c6"/>
<ellipse cx="258" cy="45" rx="14" ry="18" fill="#2d76b4"/>
<ellipse cx="153.4" cy="179.6" rx="6" ry="6" fill="#6eaed2"/>
<ellipse cx="89.4" cy="194" rx="5" ry="5" fill="#4d99c6"/>
</g><use href="#eTx"/></g>
<g mask="url(#eM3)"><rect x="-4" y="-4" width="287" height="211" fill="#1c4076"/><g filter="url(#bl4)">
<path d="M18 6L111 9L138 42L139 60L132 71L110 79L62 81L40 58L18 38Z" fill="#cee4ef"/>
<path d="M2 45L40 58L62 82L53 96L56 139L50 146L60 160L57 190L43 196L27 200L14 150L5 100Z" fill="#b0d4e7"/>
<path d="M0 0L30 2L22 30L0 42Z" fill="#59a1ca"/>
<ellipse cx="28" cy="25" rx="14" ry="16" fill="#a1cde2"/>
<path d="M0 150L14 150L30 203L0 203Z" fill="#2e77b4"/>
<ellipse cx="22" cy="190" rx="10" ry="8" fill="#70afd2"/>
<ellipse cx="8" cy="95" rx="7" ry="18" fill="#4292c2"/>
<ellipse cx="72" cy="104" rx="6" ry="12" fill="#b5d7e8"/>
<ellipse cx="80.7" cy="118" rx="4" ry="5" fill="#cee4ef"/>
<ellipse cx="103" cy="108" rx="5" ry="6" fill="#a1cde2"/>
<ellipse cx="140" cy="108" rx="6" ry="8" fill="#59a1ca"/>
<ellipse cx="160" cy="118" rx="6" ry="10" fill="#70afd2"/>
<ellipse cx="150" cy="140" rx="7" ry="5" fill="#70afd2"/>
<ellipse cx="210" cy="119" rx="27" ry="25" fill="#d3e6f0"/>
<ellipse cx="261" cy="95" rx="19" ry="16" fill="#b5d7e8"/>
<ellipse cx="262" cy="124" rx="17" ry="19" fill="#b5d7e8"/>
<ellipse cx="243" cy="162" rx="19" ry="19" fill="#cee4ef"/>
<ellipse cx="264" cy="192" rx="12" ry="10" fill="#a1cde2"/>
<ellipse cx="236" cy="100" rx="13" ry="11" fill="#a1cde2"/>
<ellipse cx="266" cy="79" rx="11" ry="9" fill="#a1cde2"/>
<ellipse cx="170" cy="17" rx="18" ry="8" fill="#c9e1ee"/>
<ellipse cx="205" cy="16" rx="14" ry="9" fill="#c9e1ee"/>
<ellipse cx="198" cy="45" rx="15" ry="15" fill="#dbeaf2"/>
<ellipse cx="249" cy="21" rx="6" ry="5" fill="#8cc1dc"/>
<ellipse cx="258" cy="45" rx="14" ry="18" fill="#4292c2"/>
<ellipse cx="153.4" cy="179.6" rx="6" ry="6" fill="#b5d7e8"/>
<ellipse cx="89.4" cy="194" rx="5" ry="5" fill="#8cc1dc"/>
</g><use href="#eTx"/></g>
<circle cx="46.5" cy="43.2" r="1.6" fill="#f4a582"/>
<circle cx="197.6" cy="102.3" r="1.6" fill="#67001f"/>
<circle cx="62.9" cy="34.1" r="1.6" fill="#b2182b"/>
<circle cx="92.9" cy="33.4" r="1.6" fill="#f7f7f7"/>
<circle cx="62.6" cy="42.8" r="1.6" fill="#fddbc7"/>
<circle cx="217.9" cy="13.2" r="1.6" fill="#fddbc7"/>
<circle cx="77.4" cy="50.8" r="1.6" fill="#f4a582"/>
<circle cx="207.3" cy="129.7" r="1.6" fill="#f4a582"/>
<circle cx="183.8" cy="17.9" r="1.6" fill="#f4a582"/>
<circle cx="201.6" cy="116" r="1.6" fill="#f4a582"/>
<circle cx="78.9" cy="10.3" r="1.6" fill="#fddbc7"/>
<circle cx="40.8" cy="40.7" r="1.6" fill="#fddbc7"/>
<circle cx="250.7" cy="166.7" r="1.6" fill="#fddbc7"/>
<circle cx="122.8" cy="29.4" r="1.6" fill="#fddbc7"/>
<circle cx="185.3" cy="43" r="1.6" fill="#f4a582"/>
<circle cx="203.2" cy="42.6" r="1.6" fill="#fbe3d4"/>
<circle cx="190.5" cy="127.5" r="1.6" fill="#fddbc7"/>
<circle cx="54.5" cy="54.7" r="1.6" fill="#f4a582"/>
<circle cx="188.9" cy="54.9" r="1.6" fill="#67001f"/>
<circle cx="197.1" cy="111.6" r="1.6" fill="#fddbc7"/>
<circle cx="40" cy="46.1" r="1.6" fill="#fbe3d4"/>
<circle cx="90.7" cy="56.6" r="1.6" fill="#f4a582"/>
</g>
<g transform="translate(326.9 1046.6)">
<g mask="url(#eMU)"><rect x="-4" y="-4" width="287" height="211" fill="#1c396d"/><g filter="url(#bl4)">
<path d="M18 6L111 9L138 42L139 60L132 71L110 79L62 81L40 58L18 38Z" fill="#1c4e8d"/>
<path d="M2 45L40 58L62 82L53 96L56 139L50 146L60 160L57 190L43 196L27 200L14 150L5 100Z" fill="#1b4d8b"/>
<path d="M0 0L30 2L22 30L0 42Z" fill="#1d5291"/>
<ellipse cx="28" cy="25" rx="14" ry="16" fill="#2265a8"/>
<path d="M0 150L14 150L30 203L0 203Z" fill="#1c4e8d"/>
<ellipse cx="22" cy="190" rx="10" ry="8" fill="#205fa1"/>
<ellipse cx="8" cy="95" rx="7" ry="18" fill="#1c4e8d"/>
<ellipse cx="72" cy="104" rx="6" ry="12" fill="#266cae"/>
<ellipse cx="80.7" cy="118" rx="4" ry="5" fill="#2b73b2"/>
<ellipse cx="103" cy="108" rx="5" ry="6" fill="#266cae"/>
<ellipse cx="140" cy="108" rx="6" ry="8" fill="#1f599a"/>
<ellipse cx="160" cy="118" rx="6" ry="10" fill="#1c4e8d"/>
<ellipse cx="150" cy="140" rx="7" ry="5" fill="#1f599a"/>
<ellipse cx="210" cy="119" rx="27" ry="25" fill="#2368ac"/>
<ellipse cx="261" cy="95" rx="19" ry="16" fill="#2368ac"/>
<ellipse cx="262" cy="124" rx="17" ry="19" fill="#205fa1"/>
<ellipse cx="243" cy="162" rx="19" ry="19" fill="#2368ac"/>
<ellipse cx="264" cy="192" rx="12" ry="10" fill="#2264a7"/>
<ellipse cx="236" cy="100" rx="13" ry="11" fill="#205fa1"/>
<ellipse cx="266" cy="79" rx="11" ry="9" fill="#266cae"/>
<ellipse cx="170" cy="17" rx="18" ry="8" fill="#266cae"/>
<ellipse cx="205" cy="16" rx="14" ry="9" fill="#307ab6"/>
<ellipse cx="198" cy="45" rx="15" ry="15" fill="#2e76b4"/>
<ellipse cx="249" cy="21" rx="6" ry="5" fill="#1c4e8d"/>
<ellipse cx="258" cy="45" rx="14" ry="18" fill="#1f599a"/>
<ellipse cx="153.4" cy="179.6" rx="6" ry="6" fill="#266cae"/>
<ellipse cx="89.4" cy="194" rx="5" ry="5" fill="#2265a8"/>
</g><use href="#eTx"/></g>
<g mask="url(#eM0)"><rect x="-4" y="-4" width="287" height="211" fill="#1c3667"/><g filter="url(#bl4)">
<path d="M18 6L111 9L138 42L139 60L132 71L110 79L62 81L40 58L18 38Z" fill="#1c3f75"/>
<path d="M2 45L40 58L62 82L53 96L56 139L50 146L60 160L57 190L43 196L27 200L14 150L5 100Z" fill="#1c3e74"/>
<path d="M0 0L30 2L22 30L0 42Z" fill="#1b4077"/>
<ellipse cx="28" cy="25" rx="14" ry="16" fill="#1b4a86"/>
<path d="M0 150L14 150L30 203L0 203Z" fill="#1c3f75"/>
<ellipse cx="22" cy="190" rx="10" ry="8" fill="#1b4782"/>
<ellipse cx="8" cy="95" rx="7" ry="18" fill="#1c3f75"/>
<ellipse cx="72" cy="104" rx="6" ry="12" fill="#1b4c8a"/>
<ellipse cx="80.7" cy="118" rx="4" ry="5" fill="#1c4f8d"/>
<ellipse cx="103" cy="108" rx="5" ry="6" fill="#1b4c8a"/>
<ellipse cx="140" cy="108" rx="6" ry="8" fill="#1b447d"/>
<ellipse cx="160" cy="118" rx="6" ry="10" fill="#1c3f75"/>
<ellipse cx="150" cy="140" rx="7" ry="5" fill="#1b447d"/>
<ellipse cx="210" cy="119" rx="27" ry="25" fill="#1b4b88"/>
<ellipse cx="261" cy="95" rx="19" ry="16" fill="#1b4b88"/>
<ellipse cx="262" cy="124" rx="17" ry="19" fill="#1b4782"/>
<ellipse cx="243" cy="162" rx="19" ry="19" fill="#1b4b88"/>
<ellipse cx="264" cy="192" rx="12" ry="10" fill="#1b4985"/>
<ellipse cx="236" cy="100" rx="13" ry="11" fill="#1b4782"/>
<ellipse cx="266" cy="79" rx="11" ry="9" fill="#1b4c8a"/>
<ellipse cx="170" cy="17" rx="18" ry="8" fill="#1b4c8a"/>
<ellipse cx="205" cy="16" rx="14" ry="9" fill="#1c5190"/>
<ellipse cx="198" cy="45" rx="15" ry="15" fill="#1c508f"/>
<ellipse cx="249" cy="21" rx="6" ry="5" fill="#1c3f75"/>
<ellipse cx="258" cy="45" rx="14" ry="18" fill="#1b447d"/>
<ellipse cx="153.4" cy="179.6" rx="6" ry="6" fill="#1b4c8a"/>
<ellipse cx="89.4" cy="194" rx="5" ry="5" fill="#1b4a86"/>
</g><use href="#eTx"/></g>
<g mask="url(#eM1)"><rect x="-4" y="-4" width="287" height="211" fill="#1c396d"/><g filter="url(#bl4)">
<path d="M18 6L111 9L138 42L139 60L132 71L110 79L62 81L40 58L18 38Z" fill="#1c4e8d"/>
<path d="M2 45L40 58L62 82L53 96L56 139L50 146L60 160L57 190L43 196L27 200L14 150L5 100Z" fill="#1b4d8b"/>
<path d="M0 0L30 2L22 30L0 42Z" fill="#1d5291"/>
<ellipse cx="28" cy="25" rx="14" ry="16" fill="#2265a8"/>
<path d="M0 150L14 150L30 203L0 203Z" fill="#1c4e8d"/>
<ellipse cx="22" cy="190" rx="10" ry="8" fill="#205fa1"/>
<ellipse cx="8" cy="95" rx="7" ry="18" fill="#1c4e8d"/>
<ellipse cx="72" cy="104" rx="6" ry="12" fill="#266cae"/>
<ellipse cx="80.7" cy="118" rx="4" ry="5" fill="#2b73b2"/>
<ellipse cx="103" cy="108" rx="5" ry="6" fill="#266cae"/>
<ellipse cx="140" cy="108" rx="6" ry="8" fill="#1f599a"/>
<ellipse cx="160" cy="118" rx="6" ry="10" fill="#1c4e8d"/>
<ellipse cx="150" cy="140" rx="7" ry="5" fill="#1f599a"/>
<ellipse cx="210" cy="119" rx="27" ry="25" fill="#2368ac"/>
<ellipse cx="261" cy="95" rx="19" ry="16" fill="#2368ac"/>
<ellipse cx="262" cy="124" rx="17" ry="19" fill="#205fa1"/>
<ellipse cx="243" cy="162" rx="19" ry="19" fill="#2368ac"/>
<ellipse cx="264" cy="192" rx="12" ry="10" fill="#2264a7"/>
<ellipse cx="236" cy="100" rx="13" ry="11" fill="#205fa1"/>
<ellipse cx="266" cy="79" rx="11" ry="9" fill="#266cae"/>
<ellipse cx="170" cy="17" rx="18" ry="8" fill="#266cae"/>
<ellipse cx="205" cy="16" rx="14" ry="9" fill="#307ab6"/>
<ellipse cx="198" cy="45" rx="15" ry="15" fill="#2e76b4"/>
<ellipse cx="249" cy="21" rx="6" ry="5" fill="#1c4e8d"/>
<ellipse cx="258" cy="45" rx="14" ry="18" fill="#1f599a"/>
<ellipse cx="153.4" cy="179.6" rx="6" ry="6" fill="#266cae"/>
<ellipse cx="89.4" cy="194" rx="5" ry="5" fill="#2265a8"/>
</g><use href="#eTx"/></g>
<g mask="url(#eM2)"><rect x="-4" y="-4" width="287" height="211" fill="#1c3c71"/><g filter="url(#bl4)">
<path d="M18 6L111 9L138 42L139 60L132 71L110 79L62 81L40 58L18 38Z" fill="#1f5a9c"/>
<path d="M2 45L40 58L62 82L53 96L56 139L50 146L60 160L57 190L43 196L27 200L14 150L5 100Z" fill="#1e5899"/>
<path d="M0 0L30 2L22 30L0 42Z" fill="#205fa1"/>
<ellipse cx="28" cy="25" rx="14" ry="16" fill="#3681b9"/>
<path d="M0 150L14 150L30 203L0 203Z" fill="#1f5a9c"/>
<ellipse cx="22" cy="190" rx="10" ry="8" fill="#2d76b4"/>
<ellipse cx="8" cy="95" rx="7" ry="18" fill="#1f5a9c"/>
<ellipse cx="72" cy="104" rx="6" ry="12" fill="#3e8cbf"/>
<ellipse cx="80.7" cy="118" rx="4" ry="5" fill="#4997c5"/>
<ellipse cx="103" cy="108" rx="5" ry="6" fill="#3e8cbf"/>
<ellipse cx="140" cy="108" rx="6" ry="8" fill="#256bae"/>
<ellipse cx="160" cy="118" rx="6" ry="10" fill="#1f5a9c"/>
<ellipse cx="150" cy="140" rx="7" ry="5" fill="#256bae"/>
<ellipse cx="210" cy="119" rx="27" ry="25" fill="#3a87bc"/>
<ellipse cx="261" cy="95" rx="19" ry="16" fill="#3a87bc"/>
<ellipse cx="262" cy="124" rx="17" ry="19" fill="#2d76b4"/>
<ellipse cx="243" cy="162" rx="19" ry="19" fill="#3a87bc"/>
<ellipse cx="264" cy="192" rx="12" ry="10" fill="#347eb8"/>
<ellipse cx="236" cy="100" rx="13" ry="11" fill="#2d76b4"/>
<ellipse cx="266" cy="79" rx="11" ry="9" fill="#3e8cbf"/>
<ellipse cx="170" cy="17" rx="18" ry="8" fill="#3e8cbf"/>
<ellipse cx="205" cy="16" rx="14" ry="9" fill="#5aa1cb"/>
<ellipse cx="198" cy="45" rx="15" ry="15" fill="#519cc8"/>
<ellipse cx="249" cy="21" rx="6" ry="5" fill="#1f5a9c"/>
<ellipse cx="258" cy="45" rx="14" ry="18" fill="#256bae"/>
<ellipse cx="153.4" cy="179.6" rx="6" ry="6" fill="#3e8cbf"/>
<ellipse cx="89.4" cy="194" rx="5" ry="5" fill="#3681b9"/>
</g><use href="#eTx"/></g>
<g mask="url(#eM3)"><rect x="-4" y="-4" width="287" height="211" fill="#1c4076"/><g filter="url(#bl4)">
<path d="M18 6L111 9L138 42L139 60L132 71L110 79L62 81L40 58L18 38Z" fill="#2368ac"/>
<path d="M2 45L40 58L62 82L53 96L56 139L50 146L60 160L57 190L43 196L27 200L14 150L5 100Z" fill="#2265a8"/>
<path d="M0 0L30 2L22 30L0 42Z" fill="#2970b0"/>
<ellipse cx="28" cy="25" rx="14" ry="16" fill="#59a1ca"/>
<path d="M0 150L14 150L30 203L0 203Z" fill="#2368ac"/>
<ellipse cx="22" cy="190" rx="10" ry="8" fill="#4292c2"/>
<ellipse cx="8" cy="95" rx="7" ry="18" fill="#2368ac"/>
<ellipse cx="72" cy="104" rx="6" ry="12" fill="#70afd2"/>
<ellipse cx="80.7" cy="118" rx="4" ry="5" fill="#87beda"/>
<ellipse cx="103" cy="108" rx="5" ry="6" fill="#70afd2"/>
<ellipse cx="140" cy="108" rx="6" ry="8" fill="#3783ba"/>
<ellipse cx="160" cy="118" rx="6" ry="10" fill="#2368ac"/>
<ellipse cx="150" cy="140" rx="7" ry="5" fill="#3783ba"/>
<ellipse cx="210" cy="119" rx="27" ry="25" fill="#64a8ce"/>
<ellipse cx="261" cy="95" rx="19" ry="16" fill="#64a8ce"/>
<ellipse cx="262" cy="124" rx="17" ry="19" fill="#4292c2"/>
<ellipse cx="243" cy="162" rx="19" ry="19" fill="#64a8ce"/>
<ellipse cx="264" cy="192" rx="12" ry="10" fill="#539dc8"/>
<ellipse cx="236" cy="100" rx="13" ry="11" fill="#4292c2"/>
<ellipse cx="266" cy="79" rx="11" ry="9" fill="#70afd2"/>
<ellipse cx="170" cy="17" rx="18" ry="8" fill="#70afd2"/>
<ellipse cx="205" cy="16" rx="14" ry="9" fill="#9ccae1"/>
<ellipse cx="198" cy="45" rx="15" ry="15" fill="#92c5de"/>
<ellipse cx="249" cy="21" rx="6" ry="5" fill="#2368ac"/>
<ellipse cx="258" cy="45" rx="14" ry="18" fill="#3783ba"/>
<ellipse cx="153.4" cy="179.6" rx="6" ry="6" fill="#70afd2"/>
<ellipse cx="89.4" cy="194" rx="5" ry="5" fill="#59a1ca"/>
</g><use href="#eTx"/></g>
</g>
<g transform="translate(614.4 1046.6)">
<g mask="url(#eMU)"><rect x="-4" y="-4" width="287" height="211" fill="#1c396d"/><g filter="url(#bl4)">
<path d="M18 6L111 9L138 42L139 60L132 71L110 79L62 81L40 58L18 38Z" fill="#286fb0"/>
<path d="M2 45L40 58L62 82L53 96L56 139L50 146L60 160L57 190L43 196L27 200L14 150L5 100Z" fill="#2265a8"/>
<path d="M0 0L30 2L22 30L0 42Z" fill="#205c9d"/>
<ellipse cx="28" cy="25" rx="14" ry="16" fill="#3885bb"/>
<path d="M0 150L14 150L30 203L0 203Z" fill="#1e5898"/>
<ellipse cx="22" cy="190" rx="10" ry="8" fill="#2265a8"/>
<ellipse cx="8" cy="95" rx="7" ry="18" fill="#1b4b89"/>
<ellipse cx="72" cy="104" rx="6" ry="12" fill="#1e5898"/>
<ellipse cx="80.7" cy="118" rx="4" ry="5" fill="#1e5898"/>
<ellipse cx="103" cy="108" rx="5" ry="6" fill="#205fa1"/>
<ellipse cx="140" cy="108" rx="6" ry="8" fill="#1d5291"/>
<ellipse cx="160" cy="118" rx="6" ry="10" fill="#1b4680"/>
<ellipse cx="150" cy="140" rx="7" ry="5" fill="#1b447e"/>
<ellipse cx="210" cy="119" rx="27" ry="25" fill="#2f78b5"/>
<ellipse cx="261" cy="95" rx="19" ry="16" fill="#327cb7"/>
<ellipse cx="262" cy="124" rx="17" ry="19" fill="#286fb0"/>
<ellipse cx="243" cy="162" rx="19" ry="19" fill="#2c75b3"/>
<ellipse cx="264" cy="192" rx="12" ry="10" fill="#2c75b3"/>
<ellipse cx="236" cy="100" rx="13" ry="11" fill="#266cae"/>
<ellipse cx="266" cy="79" rx="11" ry="9" fill="#327cb7"/>
<ellipse cx="170" cy="17" rx="18" ry="8" fill="#2160a3"/>
<ellipse cx="205" cy="16" rx="14" ry="9" fill="#2160a3"/>
<ellipse cx="198" cy="45" rx="15" ry="15" fill="#307ab6"/>
<ellipse cx="249" cy="21" rx="6" ry="5" fill="#1e5898"/>
<ellipse cx="258" cy="45" rx="14" ry="18" fill="#1e5898"/>
<ellipse cx="153.4" cy="179.6" rx="6" ry="6" fill="#1d5291"/>
<ellipse cx="89.4" cy="194" rx="5" ry="5" fill="#2265a8"/>
</g><use href="#eTx"/></g>
<g mask="url(#eM0)"><rect x="-4" y="-4" width="287" height="211" fill="#1c3667"/><g filter="url(#bl4)">
<path d="M18 6L111 9L138 42L139 60L132 71L110 79L62 81L40 58L18 38Z" fill="#1b4e8c"/>
<path d="M2 45L40 58L62 82L53 96L56 139L50 146L60 160L57 190L43 196L27 200L14 150L5 100Z" fill="#1b4a86"/>
<path d="M0 0L30 2L22 30L0 42Z" fill="#1b457f"/>
<ellipse cx="28" cy="25" rx="14" ry="16" fill="#1e5595"/>
<path d="M0 150L14 150L30 203L0 203Z" fill="#1b437c"/>
<ellipse cx="22" cy="190" rx="10" ry="8" fill="#1b4a86"/>
<ellipse cx="8" cy="95" rx="7" ry="18" fill="#1c3d73"/>
<ellipse cx="72" cy="104" rx="6" ry="12" fill="#1b437c"/>
<ellipse cx="80.7" cy="118" rx="4" ry="5" fill="#1b437c"/>
<ellipse cx="103" cy="108" rx="5" ry="6" fill="#1b4782"/>
<ellipse cx="140" cy="108" rx="6" ry="8" fill="#1b4077"/>
<ellipse cx="160" cy="118" rx="6" ry="10" fill="#1c3b6f"/>
<ellipse cx="150" cy="140" rx="7" ry="5" fill="#1c3a6e"/>
<ellipse cx="210" cy="119" rx="27" ry="25" fill="#1c5190"/>
<ellipse cx="261" cy="95" rx="19" ry="16" fill="#1d5291"/>
<ellipse cx="262" cy="124" rx="17" ry="19" fill="#1b4e8c"/>
<ellipse cx="243" cy="162" rx="19" ry="19" fill="#1c4f8e"/>
<ellipse cx="264" cy="192" rx="12" ry="10" fill="#1c4f8e"/>
<ellipse cx="236" cy="100" rx="13" ry="11" fill="#1b4c8a"/>
<ellipse cx="266" cy="79" rx="11" ry="9" fill="#1d5291"/>
<ellipse cx="170" cy="17" rx="18" ry="8" fill="#1b4783"/>
<ellipse cx="205" cy="16" rx="14" ry="9" fill="#1b4783"/>
<ellipse cx="198" cy="45" rx="15" ry="15" fill="#1c5190"/>
<ellipse cx="249" cy="21" rx="6" ry="5" fill="#1b437c"/>
<ellipse cx="258" cy="45" rx="14" ry="18" fill="#1b437c"/>
<ellipse cx="153.4" cy="179.6" rx="6" ry="6" fill="#1b4077"/>
<ellipse cx="89.4" cy="194" rx="5" ry="5" fill="#1b4a86"/>
</g><use href="#eTx"/></g>
<g mask="url(#eM1)"><rect x="-4" y="-4" width="287" height="211" fill="#1c396d"/><g filter="url(#bl4)">
<path d="M18 6L111 9L138 42L139 60L132 71L110 79L62 81L40 58L18 38Z" fill="#286fb0"/>
<path d="M2 45L40 58L62 82L53 96L56 139L50 146L60 160L57 190L43 196L27 200L14 150L5 100Z" fill="#2265a8"/>
<path d="M0 0L30 2L22 30L0 42Z" fill="#205c9d"/>
<ellipse cx="28" cy="25" rx="14" ry="16" fill="#3885bb"/>
<path d="M0 150L14 150L30 203L0 203Z" fill="#1e5898"/>
<ellipse cx="22" cy="190" rx="10" ry="8" fill="#2265a8"/>
<ellipse cx="8" cy="95" rx="7" ry="18" fill="#1b4b89"/>
<ellipse cx="72" cy="104" rx="6" ry="12" fill="#1e5898"/>
<ellipse cx="80.7" cy="118" rx="4" ry="5" fill="#1e5898"/>
<ellipse cx="103" cy="108" rx="5" ry="6" fill="#205fa1"/>
<ellipse cx="140" cy="108" rx="6" ry="8" fill="#1d5291"/>
<ellipse cx="160" cy="118" rx="6" ry="10" fill="#1b4680"/>
<ellipse cx="150" cy="140" rx="7" ry="5" fill="#1b447e"/>
<ellipse cx="210" cy="119" rx="27" ry="25" fill="#2f78b5"/>
<ellipse cx="261" cy="95" rx="19" ry="16" fill="#327cb7"/>
<ellipse cx="262" cy="124" rx="17" ry="19" fill="#286fb0"/>
<ellipse cx="243" cy="162" rx="19" ry="19" fill="#2c75b3"/>
<ellipse cx="264" cy="192" rx="12" ry="10" fill="#2c75b3"/>
<ellipse cx="236" cy="100" rx="13" ry="11" fill="#266cae"/>
<ellipse cx="266" cy="79" rx="11" ry="9" fill="#327cb7"/>
<ellipse cx="170" cy="17" rx="18" ry="8" fill="#2160a3"/>
<ellipse cx="205" cy="16" rx="14" ry="9" fill="#2160a3"/>
<ellipse cx="198" cy="45" rx="15" ry="15" fill="#307ab6"/>
<ellipse cx="249" cy="21" rx="6" ry="5" fill="#1e5898"/>
<ellipse cx="258" cy="45" rx="14" ry="18" fill="#1e5898"/>
<ellipse cx="153.4" cy="179.6" rx="6" ry="6" fill="#1d5291"/>
<ellipse cx="89.4" cy="194" rx="5" ry="5" fill="#2265a8"/>
</g><use href="#eTx"/></g>
<g mask="url(#eM2)"><rect x="-4" y="-4" width="287" height="211" fill="#1c3c71"/><g filter="url(#bl4)">
<path d="M18 6L111 9L138 42L139 60L132 71L110 79L62 81L40 58L18 38Z" fill="#4292c2"/>
<path d="M2 45L40 58L62 82L53 96L56 139L50 146L60 160L57 190L43 196L27 200L14 150L5 100Z" fill="#3681b9"/>
<path d="M0 0L30 2L22 30L0 42Z" fill="#2971b1"/>
<ellipse cx="28" cy="25" rx="14" ry="16" fill="#72b1d3"/>
<path d="M0 150L14 150L30 203L0 203Z" fill="#2368ac"/>
<ellipse cx="22" cy="190" rx="10" ry="8" fill="#3681b9"/>
<ellipse cx="8" cy="95" rx="7" ry="18" fill="#1e5696"/>
<ellipse cx="72" cy="104" rx="6" ry="12" fill="#2368ac"/>
<ellipse cx="80.7" cy="118" rx="4" ry="5" fill="#2368ac"/>
<ellipse cx="103" cy="108" rx="5" ry="6" fill="#2d76b4"/>
<ellipse cx="140" cy="108" rx="6" ry="8" fill="#205fa1"/>
<ellipse cx="160" cy="118" rx="6" ry="10" fill="#1c4f8e"/>
<ellipse cx="150" cy="140" rx="7" ry="5" fill="#1b4d8b"/>
<ellipse cx="210" cy="119" rx="27" ry="25" fill="#559fc9"/>
<ellipse cx="261" cy="95" rx="19" ry="16" fill="#5ea4cc"/>
<ellipse cx="262" cy="124" rx="17" ry="19" fill="#4292c2"/>
<ellipse cx="243" cy="162" rx="19" ry="19" fill="#4d99c6"/>
<ellipse cx="264" cy="192" rx="12" ry="10" fill="#4d99c6"/>
<ellipse cx="236" cy="100" rx="13" ry="11" fill="#3e8cbf"/>
<ellipse cx="266" cy="79" rx="11" ry="9" fill="#5ea4cc"/>
<ellipse cx="170" cy="17" rx="18" ry="8" fill="#3079b5"/>
<ellipse cx="205" cy="16" rx="14" ry="9" fill="#3079b5"/>
<ellipse cx="198" cy="45" rx="15" ry="15" fill="#5aa1cb"/>
<ellipse cx="249" cy="21" rx="6" ry="5" fill="#2368ac"/>
<ellipse cx="258" cy="45" rx="14" ry="18" fill="#2368ac"/>
<ellipse cx="153.4" cy="179.6" rx="6" ry="6" fill="#205fa1"/>
<ellipse cx="89.4" cy="194" rx="5" ry="5" fill="#3681b9"/>
</g><use href="#eTx"/></g>
<g mask="url(#eM3)"><rect x="-4" y="-4" width="287" height="211" fill="#1c4076"/><g filter="url(#bl4)">
<path d="M18 6L111 9L138 42L139 60L132 71L110 79L62 81L40 58L18 38Z" fill="#7bb6d6"/>
<path d="M2 45L40 58L62 82L53 96L56 139L50 146L60 160L57 190L43 196L27 200L14 150L5 100Z" fill="#59a1ca"/>
<path d="M0 0L30 2L22 30L0 42Z" fill="#3d8abe"/>
<ellipse cx="28" cy="25" rx="14" ry="16" fill="#bad9ea"/>
<path d="M0 150L14 150L30 203L0 203Z" fill="#347fb8"/>
<ellipse cx="22" cy="190" rx="10" ry="8" fill="#59a1ca"/>
<ellipse cx="8" cy="95" rx="7" ry="18" fill="#2162a4"/>
<ellipse cx="72" cy="104" rx="6" ry="12" fill="#347fb8"/>
<ellipse cx="80.7" cy="118" rx="4" ry="5" fill="#347fb8"/>
<ellipse cx="103" cy="108" rx="5" ry="6" fill="#4292c2"/>
<ellipse cx="140" cy="108" rx="6" ry="8" fill="#2970b0"/>
<ellipse cx="160" cy="118" rx="6" ry="10" fill="#1e5899"/>
<ellipse cx="150" cy="140" rx="7" ry="5" fill="#1e5595"/>
<ellipse cx="210" cy="119" rx="27" ry="25" fill="#97c8df"/>
<ellipse cx="261" cy="95" rx="19" ry="16" fill="#a1cde2"/>
<ellipse cx="262" cy="124" rx="17" ry="19" fill="#7bb6d6"/>
<ellipse cx="243" cy="162" rx="19" ry="19" fill="#8cc1dc"/>
<ellipse cx="264" cy="192" rx="12" ry="10" fill="#8cc1dc"/>
<ellipse cx="236" cy="100" rx="13" ry="11" fill="#70afd2"/>
<ellipse cx="266" cy="79" rx="11" ry="9" fill="#a1cde2"/>
<ellipse cx="170" cy="17" rx="18" ry="8" fill="#4796c4"/>
<ellipse cx="205" cy="16" rx="14" ry="9" fill="#4796c4"/>
<ellipse cx="198" cy="45" rx="15" ry="15" fill="#9ccae1"/>
<ellipse cx="249" cy="21" rx="6" ry="5" fill="#347fb8"/>
<ellipse cx="258" cy="45" rx="14" ry="18" fill="#347fb8"/>
<ellipse cx="153.4" cy="179.6" rx="6" ry="6" fill="#2970b0"/>
<ellipse cx="89.4" cy="194" rx="5" ry="5" fill="#59a1ca"/>
</g><use href="#eTx"/></g>
</g>
<g transform="translate(34.6 1327.8)">
<g mask="url(#eMU)"><rect x="-4" y="-4" width="287" height="211" fill="#1b427b"/><g filter="url(#bl4)">
<path d="M18 6L111 9L138 42L139 60L132 71L110 79L62 81L40 58L18 38Z" fill="#539dc9"/>
<path d="M2 45L40 58L62 82L53 96L56 139L50 146L60 160L57 190L43 196L27 200L14 150L5 100Z" fill="#4896c5"/>
<path d="M0 0L30 2L22 30L0 42Z" fill="#327cb7"/>
<ellipse cx="28" cy="25" rx="14" ry="16" fill="#4e9ac7"/>
<path d="M0 150L14 150L30 203L0 203Z" fill="#2265a8"/>
<ellipse cx="22" cy="190" rx="10" ry="8" fill="#3e8cbf"/>
<ellipse cx="8" cy="95" rx="7" ry="18" fill="#205fa1"/>
<ellipse cx="72" cy="104" rx="6" ry="12" fill="#3e8cbf"/>
<ellipse cx="80.7" cy="118" rx="4" ry="5" fill="#3e8cbf"/>
<ellipse cx="103" cy="108" rx="5" ry="6" fill="#3783ba"/>
<ellipse cx="140" cy="108" rx="6" ry="8" fill="#2c75b3"/>
<ellipse cx="160" cy="118" rx="6" ry="10" fill="#2c75b3"/>
<ellipse cx="150" cy="140" rx="7" ry="5" fill="#2c75b3"/>
<ellipse cx="210" cy="119" rx="27" ry="25" fill="#539dc9"/>
<ellipse cx="261" cy="95" rx="19" ry="16" fill="#4896c5"/>
<ellipse cx="262" cy="124" rx="17" ry="19" fill="#4896c5"/>
<ellipse cx="243" cy="162" rx="19" ry="19" fill="#4e9ac7"/>
<ellipse cx="264" cy="192" rx="12" ry="10" fill="#3783ba"/>
<ellipse cx="236" cy="100" rx="13" ry="11" fill="#3e8cbf"/>
<ellipse cx="266" cy="79" rx="11" ry="9" fill="#5ba2cb"/>
<ellipse cx="170" cy="17" rx="18" ry="8" fill="#4291c2"/>
<ellipse cx="205" cy="16" rx="14" ry="9" fill="#4e9ac7"/>
<ellipse cx="198" cy="45" rx="15" ry="15" fill="#509cc8"/>
<ellipse cx="249" cy="21" rx="6" ry="5" fill="#2c75b3"/>
<ellipse cx="258" cy="45" rx="14" ry="18" fill="#2265a8"/>
<ellipse cx="153.4" cy="179.6" rx="6" ry="6" fill="#3e8cbf"/>
<ellipse cx="89.4" cy="194" rx="5" ry="5" fill="#3783ba"/>
</g><use href="#eTx"/></g>
<g mask="url(#eM0)"><rect x="-4" y="-4" width="287" height="211" fill="#1c3a6d"/><g filter="url(#bl4)">
<path d="M18 6L111 9L138 42L139 60L132 71L110 79L62 81L40 58L18 38Z" fill="#205d9f"/>
<path d="M2 45L40 58L62 82L53 96L56 139L50 146L60 160L57 190L43 196L27 200L14 150L5 100Z" fill="#1f5b9c"/>
<path d="M0 0L30 2L22 30L0 42Z" fill="#1d5291"/>
<ellipse cx="28" cy="25" rx="14" ry="16" fill="#205c9d"/>
<path d="M0 150L14 150L30 203L0 203Z" fill="#1b4a86"/>
<ellipse cx="22" cy="190" rx="10" ry="8" fill="#1e5798"/>
<ellipse cx="8" cy="95" rx="7" ry="18" fill="#1b4782"/>
<ellipse cx="72" cy="104" rx="6" ry="12" fill="#1e5798"/>
<ellipse cx="80.7" cy="118" rx="4" ry="5" fill="#1e5798"/>
<ellipse cx="103" cy="108" rx="5" ry="6" fill="#1d5494"/>
<ellipse cx="140" cy="108" rx="6" ry="8" fill="#1c4f8e"/>
<ellipse cx="160" cy="118" rx="6" ry="10" fill="#1c4f8e"/>
<ellipse cx="150" cy="140" rx="7" ry="5" fill="#1c4f8e"/>
<ellipse cx="210" cy="119" rx="27" ry="25" fill="#205d9f"/>
<ellipse cx="261" cy="95" rx="19" ry="16" fill="#1f5b9c"/>
<ellipse cx="262" cy="124" rx="17" ry="19" fill="#1f5b9c"/>
<ellipse cx="243" cy="162" rx="19" ry="19" fill="#205c9d"/>
<ellipse cx="264" cy="192" rx="12" ry="10" fill="#1d5494"/>
<ellipse cx="236" cy="100" rx="13" ry="11" fill="#1e5798"/>
<ellipse cx="266" cy="79" rx="11" ry="9" fill="#205fa1"/>
<ellipse cx="170" cy="17" rx="18" ry="8" fill="#1f599a"/>
<ellipse cx="205" cy="16" rx="14" ry="9" fill="#205c9d"/>
<ellipse cx="198" cy="45" rx="15" ry="15" fill="#205d9e"/>
<ellipse cx="249" cy="21" rx="6" ry="5" fill="#1c4f8e"/>
<ellipse cx="258" cy="45" rx="14" ry="18" fill="#1b4a86"/>
<ellipse cx="153.4" cy="179.6" rx="6" ry="6" fill="#1e5798"/>
<ellipse cx="89.4" cy="194" rx="5" ry="5" fill="#1d5494"/>
</g><use href="#eTx"/></g>
<g mask="url(#eM1)"><rect x="-4" y="-4" width="287" height="211" fill="#1b427b"/><g filter="url(#bl4)">
<path d="M18 6L111 9L138 42L139 60L132 71L110 79L62 81L40 58L18 38Z" fill="#539dc9"/>
<path d="M2 45L40 58L62 82L53 96L56 139L50 146L60 160L57 190L43 196L27 200L14 150L5 100Z" fill="#4896c5"/>
<path d="M0 0L30 2L22 30L0 42Z" fill="#327cb7"/>
<ellipse cx="28" cy="25" rx="14" ry="16" fill="#4e9ac7"/>
<path d="M0 150L14 150L30 203L0 203Z" fill="#2265a8"/>
<ellipse cx="22" cy="190" rx="10" ry="8" fill="#3e8cbf"/>
<ellipse cx="8" cy="95" rx="7" ry="18" fill="#205fa1"/>
<ellipse cx="72" cy="104" rx="6" ry="12" fill="#3e8cbf"/>
<ellipse cx="80.7" cy="118" rx="4" ry="5" fill="#3e8cbf"/>
<ellipse cx="103" cy="108" rx="5" ry="6" fill="#3783ba"/>
<ellipse cx="140" cy="108" rx="6" ry="8" fill="#2c75b3"/>
<ellipse cx="160" cy="118" rx="6" ry="10" fill="#2c75b3"/>
<ellipse cx="150" cy="140" rx="7" ry="5" fill="#2c75b3"/>
<ellipse cx="210" cy="119" rx="27" ry="25" fill="#539dc9"/>
<ellipse cx="261" cy="95" rx="19" ry="16" fill="#4896c5"/>
<ellipse cx="262" cy="124" rx="17" ry="19" fill="#4896c5"/>
<ellipse cx="243" cy="162" rx="19" ry="19" fill="#4e9ac7"/>
<ellipse cx="264" cy="192" rx="12" ry="10" fill="#3783ba"/>
<ellipse cx="236" cy="100" rx="13" ry="11" fill="#3e8cbf"/>
<ellipse cx="266" cy="79" rx="11" ry="9" fill="#5ba2cb"/>
<ellipse cx="170" cy="17" rx="18" ry="8" fill="#4291c2"/>
<ellipse cx="205" cy="16" rx="14" ry="9" fill="#4e9ac7"/>
<ellipse cx="198" cy="45" rx="15" ry="15" fill="#509cc8"/>
<ellipse cx="249" cy="21" rx="6" ry="5" fill="#2c75b3"/>
<ellipse cx="258" cy="45" rx="14" ry="18" fill="#2265a8"/>
<ellipse cx="153.4" cy="179.6" rx="6" ry="6" fill="#3e8cbf"/>
<ellipse cx="89.4" cy="194" rx="5" ry="5" fill="#3783ba"/>
</g><use href="#eTx"/></g>
<g mask="url(#eM2)"><rect x="-4" y="-4" width="287" height="211" fill="#1b4a87"/><g filter="url(#bl4)">
<path d="M18 6L111 9L138 42L139 60L132 71L110 79L62 81L40 58L18 38Z" fill="#a9d1e5"/>
<path d="M2 45L40 58L62 82L53 96L56 139L50 146L60 160L57 190L43 196L27 200L14 150L5 100Z" fill="#9bc9e0"/>
<path d="M0 0L30 2L22 30L0 42Z" fill="#5ea4cc"/>
<ellipse cx="28" cy="25" rx="14" ry="16" fill="#a2cde2"/>
<path d="M0 150L14 150L30 203L0 203Z" fill="#3681b9"/>
<ellipse cx="22" cy="190" rx="10" ry="8" fill="#83bbd9"/>
<ellipse cx="8" cy="95" rx="7" ry="18" fill="#2d76b4"/>
<ellipse cx="72" cy="104" rx="6" ry="12" fill="#83bbd9"/>
<ellipse cx="80.7" cy="118" rx="4" ry="5" fill="#83bbd9"/>
<ellipse cx="103" cy="108" rx="5" ry="6" fill="#6eaed2"/>
<ellipse cx="140" cy="108" rx="6" ry="8" fill="#4d99c6"/>
<ellipse cx="160" cy="118" rx="6" ry="10" fill="#4d99c6"/>
<ellipse cx="150" cy="140" rx="7" ry="5" fill="#4d99c6"/>
<ellipse cx="210" cy="119" rx="27" ry="25" fill="#a9d1e5"/>
<ellipse cx="261" cy="95" rx="19" ry="16" fill="#9bc9e0"/>
<ellipse cx="262" cy="124" rx="17" ry="19" fill="#9bc9e0"/>
<ellipse cx="243" cy="162" rx="19" ry="19" fill="#a2cde2"/>
<ellipse cx="264" cy="192" rx="12" ry="10" fill="#6eaed2"/>
<ellipse cx="236" cy="100" rx="13" ry="11" fill="#83bbd9"/>
<ellipse cx="266" cy="79" rx="11" ry="9" fill="#b4d6e8"/>
<ellipse cx="170" cy="17" rx="18" ry="8" fill="#8fc3dd"/>
<ellipse cx="205" cy="16" rx="14" ry="9" fill="#a2cde2"/>
<ellipse cx="198" cy="45" rx="15" ry="15" fill="#a5cfe4"/>
<ellipse cx="249" cy="21" rx="6" ry="5" fill="#4d99c6"/>
<ellipse cx="258" cy="45" rx="14" ry="18" fill="#3681b9"/>
<ellipse cx="153.4" cy="179.6" rx="6" ry="6" fill="#83bbd9"/>
<ellipse cx="89.4" cy="194" rx="5" ry="5" fill="#6eaed2"/>
</g><use href="#eTx"/></g>
<g mask="url(#eM3)"><rect x="-4" y="-4" width="287" height="211" fill="#1d5291"/><g filter="url(#bl4)">
<path d="M18 6L111 9L138 42L139 60L132 71L110 79L62 81L40 58L18 38Z" fill="#f5f6f7"/>
<path d="M2 45L40 58L62 82L53 96L56 139L50 146L60 160L57 190L43 196L27 200L14 150L5 100Z" fill="#e6eff4"/>
<path d="M0 0L30 2L22 30L0 42Z" fill="#a1cde2"/>
<ellipse cx="28" cy="25" rx="14" ry="16" fill="#eef2f5"/>
<path d="M0 150L14 150L30 203L0 203Z" fill="#59a1ca"/>
<ellipse cx="22" cy="190" rx="10" ry="8" fill="#cee4ef"/>
<ellipse cx="8" cy="95" rx="7" ry="18" fill="#4292c2"/>
<ellipse cx="72" cy="104" rx="6" ry="12" fill="#cee4ef"/>
<ellipse cx="80.7" cy="118" rx="4" ry="5" fill="#cee4ef"/>
<ellipse cx="103" cy="108" rx="5" ry="6" fill="#b5d7e8"/>
<ellipse cx="140" cy="108" rx="6" ry="8" fill="#8cc1dc"/>
<ellipse cx="160" cy="118" rx="6" ry="10" fill="#8cc1dc"/>
<ellipse cx="150" cy="140" rx="7" ry="5" fill="#8cc1dc"/>
<ellipse cx="210" cy="119" rx="27" ry="25" fill="#f5f6f7"/>
<ellipse cx="261" cy="95" rx="19" ry="16" fill="#e6eff4"/>
<ellipse cx="262" cy="124" rx="17" ry="19" fill="#e6eff4"/>
<ellipse cx="243" cy="162" rx="19" ry="19" fill="#eef2f5"/>
<ellipse cx="264" cy="192" rx="12" ry="10" fill="#b5d7e8"/>
<ellipse cx="236" cy="100" rx="13" ry="11" fill="#cee4ef"/>
<ellipse cx="266" cy="79" rx="11" ry="9" fill="#f7f7f7"/>
<ellipse cx="170" cy="17" rx="18" ry="8" fill="#dbeaf2"/>
<ellipse cx="205" cy="16" rx="14" ry="9" fill="#eef2f5"/>
<ellipse cx="198" cy="45" rx="15" ry="15" fill="#f1f4f6"/>
<ellipse cx="249" cy="21" rx="6" ry="5" fill="#8cc1dc"/>
<ellipse cx="258" cy="45" rx="14" ry="18" fill="#59a1ca"/>
<ellipse cx="153.4" cy="179.6" rx="6" ry="6" fill="#cee4ef"/>
<ellipse cx="89.4" cy="194" rx="5" ry="5" fill="#b5d7e8"/>
</g><use href="#eTx"/></g>
<circle cx="63.4" cy="62.5" r="1.6" fill="#d6604d"/>
<circle cx="89.1" cy="12.2" r="1.6" fill="#fbe3d4"/>
<circle cx="84.6" cy="43.8" r="1.6" fill="#67001f"/>
<circle cx="73.1" cy="78.9" r="1.6" fill="#fddbc7"/>
<circle cx="37.6" cy="195.2" r="1.6" fill="#f4a582"/>
<circle cx="82.8" cy="58.9" r="1.6" fill="#fddbc7"/>
<circle cx="90.3" cy="42.8" r="1.6" fill="#fddbc7"/>
<circle cx="219" cy="138.7" r="1.6" fill="#fddbc7"/>
<circle cx="264.6" cy="82.3" r="1.6" fill="#fddbc7"/>
<circle cx="16" cy="83.5" r="1.6" fill="#fddbc7"/>
<circle cx="32.6" cy="82.3" r="1.6" fill="#f4a582"/>
<circle cx="219.9" cy="113.3" r="1.6" fill="#d6604d"/>
<circle cx="98.6" cy="71.4" r="1.6" fill="#f4a582"/>
<circle cx="29.5" cy="45.2" r="1.6" fill="#f7f7f7"/>
<circle cx="27.9" cy="10.3" r="1.6" fill="#67001f"/>
<circle cx="28.8" cy="165.2" r="1.6" fill="#67001f"/>
<circle cx="192" cy="115" r="1.6" fill="#f4a582"/>
<circle cx="6.5" cy="61.9" r="1.6" fill="#d6604d"/>
<circle cx="263" cy="108.2" r="1.6" fill="#fddbc7"/>
<circle cx="51.2" cy="119.9" r="1.6" fill="#d6604d"/>
<circle cx="34.7" cy="78.2" r="1.6" fill="#fbe3d4"/>
<circle cx="196.8" cy="139.3" r="1.6" fill="#f4a582"/>
<circle cx="197.9" cy="42.8" r="1.6" fill="#fbe3d4"/>
<circle cx="95.1" cy="15.6" r="1.6" fill="#fddbc7"/>
<circle cx="254.6" cy="94.9" r="1.6" fill="#fddbc7"/>
<circle cx="19.6" cy="95.1" r="1.6" fill="#fddbc7"/>
<circle cx="57.1" cy="48.1" r="1.6" fill="#f7f7f7"/>
<circle cx="202.4" cy="8.8" r="1.6" fill="#67001f"/>
<circle cx="169.4" cy="17.2" r="1.6" fill="#fddbc7"/>
<circle cx="51.2" cy="190.7" r="1.6" fill="#fbe3d4"/>
<circle cx="52" cy="113.9" r="1.6" fill="#b2182b"/>
<circle cx="67.5" cy="41" r="1.6" fill="#d6604d"/>
<circle cx="244.6" cy="90.7" r="1.6" fill="#f4a582"/>
<circle cx="9.9" cy="120.7" r="1.6" fill="#f4a582"/>
<circle cx="31.2" cy="127.1" r="1.6" fill="#f4a582"/>
<circle cx="138.8" cy="56.9" r="1.6" fill="#f4a582"/>
<circle cx="70.8" cy="112.6" r="1.6" fill="#fddbc7"/>
<circle cx="256.6" cy="82.3" r="1.6" fill="#fddbc7"/>
<circle cx="50.2" cy="94.9" r="1.6" fill="#67001f"/>
<circle cx="93.7" cy="49.5" r="1.6" fill="#fddbc7"/>
</g>
<g transform="translate(326.2 1327.8)">
<g mask="url(#eMU)"><rect x="-4" y="-4" width="287" height="211" fill="#1b4178"/><g filter="url(#bl4)">
<path d="M18 6L111 9L138 42L139 60L132 71L110 79L62 81L40 58L18 38Z" fill="#1f599a"/>
<path d="M2 45L40 58L62 82L53 96L56 139L50 146L60 160L57 190L43 196L27 200L14 150L5 100Z" fill="#1e5696"/>
<path d="M0 0L30 2L22 30L0 42Z" fill="#1f5a9c"/>
<ellipse cx="28" cy="25" rx="14" ry="16" fill="#266cae"/>
<path d="M0 150L14 150L30 203L0 203Z" fill="#1d5494"/>
<ellipse cx="22" cy="190" rx="10" ry="8" fill="#2160a3"/>
<ellipse cx="8" cy="95" rx="7" ry="18" fill="#1c4e8d"/>
<ellipse cx="72" cy="104" rx="6" ry="12" fill="#266cae"/>
<ellipse cx="80.7" cy="118" rx="4" ry="5" fill="#266cae"/>
<ellipse cx="103" cy="108" rx="5" ry="6" fill="#266cae"/>
<ellipse cx="140" cy="108" rx="6" ry="8" fill="#1f5a9c"/>
<ellipse cx="160" cy="118" rx="6" ry="10" fill="#1d5494"/>
<ellipse cx="150" cy="140" rx="7" ry="5" fill="#1f5a9c"/>
<ellipse cx="210" cy="119" rx="27" ry="25" fill="#2e76b4"/>
<ellipse cx="261" cy="95" rx="19" ry="16" fill="#2b73b2"/>
<ellipse cx="262" cy="124" rx="17" ry="19" fill="#266cae"/>
<ellipse cx="243" cy="162" rx="19" ry="19" fill="#2b73b2"/>
<ellipse cx="264" cy="192" rx="12" ry="10" fill="#2265a8"/>
<ellipse cx="236" cy="100" rx="13" ry="11" fill="#2368ac"/>
<ellipse cx="266" cy="79" rx="11" ry="9" fill="#307ab6"/>
<ellipse cx="170" cy="17" rx="18" ry="8" fill="#276daf"/>
<ellipse cx="205" cy="16" rx="14" ry="9" fill="#307ab6"/>
<ellipse cx="198" cy="45" rx="15" ry="15" fill="#337eb8"/>
<ellipse cx="249" cy="21" rx="6" ry="5" fill="#1d5494"/>
<ellipse cx="258" cy="45" rx="14" ry="18" fill="#2160a3"/>
<ellipse cx="153.4" cy="179.6" rx="6" ry="6" fill="#266cae"/>
<ellipse cx="89.4" cy="194" rx="5" ry="5" fill="#2265a8"/>
</g><use href="#eTx"/></g>
<g mask="url(#eM0)"><rect x="-4" y="-4" width="287" height="211" fill="#1c396c"/><g filter="url(#bl4)">
<path d="M18 6L111 9L138 42L139 60L132 71L110 79L62 81L40 58L18 38Z" fill="#1b447d"/>
<path d="M2 45L40 58L62 82L53 96L56 139L50 146L60 160L57 190L43 196L27 200L14 150L5 100Z" fill="#1b427b"/>
<path d="M0 0L30 2L22 30L0 42Z" fill="#1b457e"/>
<ellipse cx="28" cy="25" rx="14" ry="16" fill="#1b4c8a"/>
<path d="M0 150L14 150L30 203L0 203Z" fill="#1b427a"/>
<ellipse cx="22" cy="190" rx="10" ry="8" fill="#1b4783"/>
<ellipse cx="8" cy="95" rx="7" ry="18" fill="#1c3f75"/>
<ellipse cx="72" cy="104" rx="6" ry="12" fill="#1b4c8a"/>
<ellipse cx="80.7" cy="118" rx="4" ry="5" fill="#1b4c8a"/>
<ellipse cx="103" cy="108" rx="5" ry="6" fill="#1b4c8a"/>
<ellipse cx="140" cy="108" rx="6" ry="8" fill="#1b457e"/>
<ellipse cx="160" cy="118" rx="6" ry="10" fill="#1b427a"/>
<ellipse cx="150" cy="140" rx="7" ry="5" fill="#1b457e"/>
<ellipse cx="210" cy="119" rx="27" ry="25" fill="#1c508f"/>
<ellipse cx="261" cy="95" rx="19" ry="16" fill="#1c4f8d"/>
<ellipse cx="262" cy="124" rx="17" ry="19" fill="#1b4c8a"/>
<ellipse cx="243" cy="162" rx="19" ry="19" fill="#1c4f8d"/>
<ellipse cx="264" cy="192" rx="12" ry="10" fill="#1b4a86"/>
<ellipse cx="236" cy="100" rx="13" ry="11" fill="#1b4b88"/>
<ellipse cx="266" cy="79" rx="11" ry="9" fill="#1c5190"/>
<ellipse cx="170" cy="17" rx="18" ry="8" fill="#1b4d8b"/>
<ellipse cx="205" cy="16" rx="14" ry="9" fill="#1c5190"/>
<ellipse cx="198" cy="45" rx="15" ry="15" fill="#1d5292"/>
<ellipse cx="249" cy="21" rx="6" ry="5" fill="#1b427a"/>
<ellipse cx="258" cy="45" rx="14" ry="18" fill="#1b4783"/>
<ellipse cx="153.4" cy="179.6" rx="6" ry="6" fill="#1b4c8a"/>
<ellipse cx="89.4" cy="194" rx="5" ry="5" fill="#1b4a86"/>
</g><use href="#eTx"/></g>
<g mask="url(#eM1)"><rect x="-4" y="-4" width="287" height="211" fill="#1b4178"/><g filter="url(#bl4)">
<path d="M18 6L111 9L138 42L139 60L132 71L110 79L62 81L40 58L18 38Z" fill="#1f599a"/>
<path d="M2 45L40 58L62 82L53 96L56 139L50 146L60 160L57 190L43 196L27 200L14 150L5 100Z" fill="#1e5696"/>
<path d="M0 0L30 2L22 30L0 42Z" fill="#1f5a9c"/>
<ellipse cx="28" cy="25" rx="14" ry="16" fill="#266cae"/>
<path d="M0 150L14 150L30 203L0 203Z" fill="#1d5494"/>
<ellipse cx="22" cy="190" rx="10" ry="8" fill="#2160a3"/>
<ellipse cx="8" cy="95" rx="7" ry="18" fill="#1c4e8d"/>
<ellipse cx="72" cy="104" rx="6" ry="12" fill="#266cae"/>
<ellipse cx="80.7" cy="118" rx="4" ry="5" fill="#266cae"/>
<ellipse cx="103" cy="108" rx="5" ry="6" fill="#266cae"/>
<ellipse cx="140" cy="108" rx="6" ry="8" fill="#1f5a9c"/>
<ellipse cx="160" cy="118" rx="6" ry="10" fill="#1d5494"/>
<ellipse cx="150" cy="140" rx="7" ry="5" fill="#1f5a9c"/>
<ellipse cx="210" cy="119" rx="27" ry="25" fill="#2e76b4"/>
<ellipse cx="261" cy="95" rx="19" ry="16" fill="#2b73b2"/>
<ellipse cx="262" cy="124" rx="17" ry="19" fill="#266cae"/>
<ellipse cx="243" cy="162" rx="19" ry="19" fill="#2b73b2"/>
<ellipse cx="264" cy="192" rx="12" ry="10" fill="#2265a8"/>
<ellipse cx="236" cy="100" rx="13" ry="11" fill="#2368ac"/>
<ellipse cx="266" cy="79" rx="11" ry="9" fill="#307ab6"/>
<ellipse cx="170" cy="17" rx="18" ry="8" fill="#276daf"/>
<ellipse cx="205" cy="16" rx="14" ry="9" fill="#307ab6"/>
<ellipse cx="198" cy="45" rx="15" ry="15" fill="#337eb8"/>
<ellipse cx="249" cy="21" rx="6" ry="5" fill="#1d5494"/>
<ellipse cx="258" cy="45" rx="14" ry="18" fill="#2160a3"/>
<ellipse cx="153.4" cy="179.6" rx="6" ry="6" fill="#266cae"/>
<ellipse cx="89.4" cy="194" rx="5" ry="5" fill="#2265a8"/>
</g><use href="#eTx"/></g>
<g mask="url(#eM2)"><rect x="-4" y="-4" width="287" height="211" fill="#1b4783"/><g filter="url(#bl4)">
<path d="M18 6L111 9L138 42L139 60L132 71L110 79L62 81L40 58L18 38Z" fill="#256bae"/>
<path d="M2 45L40 58L62 82L53 96L56 139L50 146L60 160L57 190L43 196L27 200L14 150L5 100Z" fill="#2266aa"/>
<path d="M0 0L30 2L22 30L0 42Z" fill="#276eaf"/>
<ellipse cx="28" cy="25" rx="14" ry="16" fill="#3e8cbf"/>
<path d="M0 150L14 150L30 203L0 203Z" fill="#2264a7"/>
<ellipse cx="22" cy="190" rx="10" ry="8" fill="#3079b5"/>
<ellipse cx="8" cy="95" rx="7" ry="18" fill="#1f5a9c"/>
<ellipse cx="72" cy="104" rx="6" ry="12" fill="#3e8cbf"/>
<ellipse cx="80.7" cy="118" rx="4" ry="5" fill="#3e8cbf"/>
<ellipse cx="103" cy="108" rx="5" ry="6" fill="#3e8cbf"/>
<ellipse cx="140" cy="108" rx="6" ry="8" fill="#276eaf"/>
<ellipse cx="160" cy="118" rx="6" ry="10" fill="#2264a7"/>
<ellipse cx="150" cy="140" rx="7" ry="5" fill="#276eaf"/>
<ellipse cx="210" cy="119" rx="27" ry="25" fill="#519cc8"/>
<ellipse cx="261" cy="95" rx="19" ry="16" fill="#4997c5"/>
<ellipse cx="262" cy="124" rx="17" ry="19" fill="#3e8cbf"/>
<ellipse cx="243" cy="162" rx="19" ry="19" fill="#4997c5"/>
<ellipse cx="264" cy="192" rx="12" ry="10" fill="#3681b9"/>
<ellipse cx="236" cy="100" rx="13" ry="11" fill="#3a87bc"/>
<ellipse cx="266" cy="79" rx="11" ry="9" fill="#5aa1cb"/>
<ellipse cx="170" cy="17" rx="18" ry="8" fill="#408fc1"/>
<ellipse cx="205" cy="16" rx="14" ry="9" fill="#5aa1cb"/>
<ellipse cx="198" cy="45" rx="15" ry="15" fill="#62a7ce"/>
<ellipse cx="249" cy="21" rx="6" ry="5" fill="#2264a7"/>
<ellipse cx="258" cy="45" rx="14" ry="18" fill="#3079b5"/>
<ellipse cx="153.4" cy="179.6" rx="6" ry="6" fill="#3e8cbf"/>
<ellipse cx="89.4" cy="194" rx="5" ry="5" fill="#3681b9"/>
</g><use href="#eTx"/></g>
<g mask="url(#eM3)"><rect x="-4" y="-4" width="287" height="211" fill="#1c4e8d"/><g filter="url(#bl4)">
<path d="M18 6L111 9L138 42L139 60L132 71L110 79L62 81L40 58L18 38Z" fill="#3783ba"/>
<path d="M2 45L40 58L62 82L53 96L56 139L50 146L60 160L57 190L43 196L27 200L14 150L5 100Z" fill="#317bb6"/>
<path d="M0 0L30 2L22 30L0 42Z" fill="#3a87bc"/>
<ellipse cx="28" cy="25" rx="14" ry="16" fill="#70afd2"/>
<path d="M0 150L14 150L30 203L0 203Z" fill="#2e77b4"/>
<ellipse cx="22" cy="190" rx="10" ry="8" fill="#4796c4"/>
<ellipse cx="8" cy="95" rx="7" ry="18" fill="#2368ac"/>
<ellipse cx="72" cy="104" rx="6" ry="12" fill="#70afd2"/>
<ellipse cx="80.7" cy="118" rx="4" ry="5" fill="#70afd2"/>
<ellipse cx="103" cy="108" rx="5" ry="6" fill="#70afd2"/>
<ellipse cx="140" cy="108" rx="6" ry="8" fill="#3a87bc"/>
<ellipse cx="160" cy="118" rx="6" ry="10" fill="#2e77b4"/>
<ellipse cx="150" cy="140" rx="7" ry="5" fill="#3a87bc"/>
<ellipse cx="210" cy="119" rx="27" ry="25" fill="#92c5de"/>
<ellipse cx="261" cy="95" rx="19" ry="16" fill="#87beda"/>
<ellipse cx="262" cy="124" rx="17" ry="19" fill="#70afd2"/>
<ellipse cx="243" cy="162" rx="19" ry="19" fill="#87beda"/>
<ellipse cx="264" cy="192" rx="12" ry="10" fill="#59a1ca"/>
<ellipse cx="236" cy="100" rx="13" ry="11" fill="#64a8ce"/>
<ellipse cx="266" cy="79" rx="11" ry="9" fill="#9ccae1"/>
<ellipse cx="170" cy="17" rx="18" ry="8" fill="#75b3d4"/>
<ellipse cx="205" cy="16" rx="14" ry="9" fill="#9ccae1"/>
<ellipse cx="198" cy="45" rx="15" ry="15" fill="#a6cfe4"/>
<ellipse cx="249" cy="21" rx="6" ry="5" fill="#2e77b4"/>
<ellipse cx="258" cy="45" rx="14" ry="18" fill="#4796c4"/>
<ellipse cx="153.4" cy="179.6" rx="6" ry="6" fill="#70afd2"/>
<ellipse cx="89.4" cy="194" rx="5" ry="5" fill="#59a1ca"/>
</g><use href="#eTx"/></g>
</g>
<g transform="translate(614.2 1327.8)">
<g mask="url(#eMU)"><rect x="-4" y="-4" width="287" height="211" fill="#1b427b"/><g filter="url(#bl4)">
<path d="M18 6L111 9L138 42L139 60L132 71L110 79L62 81L40 58L18 38Z" fill="#5ea4cc"/>
<path d="M2 45L40 58L62 82L53 96L56 139L50 146L60 160L57 190L43 196L27 200L14 150L5 100Z" fill="#69abd0"/>
<path d="M0 0L30 2L22 30L0 42Z" fill="#3885bb"/>
<ellipse cx="28" cy="25" rx="14" ry="16" fill="#3f8ec0"/>
<path d="M0 150L14 150L30 203L0 203Z" fill="#276daf"/>
<ellipse cx="22" cy="190" rx="10" ry="8" fill="#3f8ec0"/>
<ellipse cx="8" cy="95" rx="7" ry="18" fill="#2e76b4"/>
<ellipse cx="72" cy="104" rx="6" ry="12" fill="#337eb8"/>
<ellipse cx="80.7" cy="118" rx="4" ry="5" fill="#337eb8"/>
<ellipse cx="103" cy="108" rx="5" ry="6" fill="#276daf"/>
<ellipse cx="140" cy="108" rx="6" ry="8" fill="#2366aa"/>
<ellipse cx="160" cy="118" rx="6" ry="10" fill="#205fa1"/>
<ellipse cx="150" cy="140" rx="7" ry="5" fill="#1f599a"/>
<ellipse cx="210" cy="119" rx="27" ry="25" fill="#4e9ac7"/>
<ellipse cx="261" cy="95" rx="19" ry="16" fill="#4896c5"/>
<ellipse cx="262" cy="124" rx="17" ry="19" fill="#4896c5"/>
<ellipse cx="243" cy="162" rx="19" ry="19" fill="#4695c4"/>
<ellipse cx="264" cy="192" rx="12" ry="10" fill="#3885bb"/>
<ellipse cx="236" cy="100" rx="13" ry="11" fill="#3885bb"/>
<ellipse cx="266" cy="79" rx="11" ry="9" fill="#539dc9"/>
<ellipse cx="170" cy="17" rx="18" ry="8" fill="#266cae"/>
<ellipse cx="205" cy="16" rx="14" ry="9" fill="#3885bb"/>
<ellipse cx="198" cy="45" rx="15" ry="15" fill="#509cc8"/>
<ellipse cx="249" cy="21" rx="6" ry="5" fill="#2366aa"/>
<ellipse cx="258" cy="45" rx="14" ry="18" fill="#2366aa"/>
<ellipse cx="153.4" cy="179.6" rx="6" ry="6" fill="#337eb8"/>
<ellipse cx="89.4" cy="194" rx="5" ry="5" fill="#337eb8"/>
</g><use href="#eTx"/></g>
<g mask="url(#eM0)"><rect x="-4" y="-4" width="287" height="211" fill="#1c3a6d"/><g filter="url(#bl4)">
<path d="M18 6L111 9L138 42L139 60L132 71L110 79L62 81L40 58L18 38Z" fill="#2160a2"/>
<path d="M2 45L40 58L62 82L53 96L56 139L50 146L60 160L57 190L43 196L27 200L14 150L5 100Z" fill="#2162a5"/>
<path d="M0 0L30 2L22 30L0 42Z" fill="#1e5595"/>
<ellipse cx="28" cy="25" rx="14" ry="16" fill="#1e5898"/>
<path d="M0 150L14 150L30 203L0 203Z" fill="#1b4d8b"/>
<ellipse cx="22" cy="190" rx="10" ry="8" fill="#1e5898"/>
<ellipse cx="8" cy="95" rx="7" ry="18" fill="#1c508f"/>
<ellipse cx="72" cy="104" rx="6" ry="12" fill="#1d5292"/>
<ellipse cx="80.7" cy="118" rx="4" ry="5" fill="#1d5292"/>
<ellipse cx="103" cy="108" rx="5" ry="6" fill="#1b4d8b"/>
<ellipse cx="140" cy="108" rx="6" ry="8" fill="#1b4a87"/>
<ellipse cx="160" cy="118" rx="6" ry="10" fill="#1b4782"/>
<ellipse cx="150" cy="140" rx="7" ry="5" fill="#1b447d"/>
<ellipse cx="210" cy="119" rx="27" ry="25" fill="#205c9d"/>
<ellipse cx="261" cy="95" rx="19" ry="16" fill="#1f5b9c"/>
<ellipse cx="262" cy="124" rx="17" ry="19" fill="#1f5b9c"/>
<ellipse cx="243" cy="162" rx="19" ry="19" fill="#1f5a9b"/>
<ellipse cx="264" cy="192" rx="12" ry="10" fill="#1e5595"/>
<ellipse cx="236" cy="100" rx="13" ry="11" fill="#1e5595"/>
<ellipse cx="266" cy="79" rx="11" ry="9" fill="#205d9f"/>
<ellipse cx="170" cy="17" rx="18" ry="8" fill="#1b4c8a"/>
<ellipse cx="205" cy="16" rx="14" ry="9" fill="#1e5595"/>
<ellipse cx="198" cy="45" rx="15" ry="15" fill="#205d9e"/>
<ellipse cx="249" cy="21" rx="6" ry="5" fill="#1b4a87"/>
<ellipse cx="258" cy="45" rx="14" ry="18" fill="#1b4a87"/>
<ellipse cx="153.4" cy="179.6" rx="6" ry="6" fill="#1d5292"/>
<ellipse cx="89.4" cy="194" rx="5" ry="5" fill="#1d5292"/>
</g><use href="#eTx"/></g>
<g mask="url(#eM1)"><rect x="-4" y="-4" width="287" height="211" fill="#1b427b"/><g filter="url(#bl4)">
<path d="M18 6L111 9L138 42L139 60L132 71L110 79L62 81L40 58L18 38Z" fill="#5ea4cc"/>
<path d="M2 45L40 58L62 82L53 96L56 139L50 146L60 160L57 190L43 196L27 200L14 150L5 100Z" fill="#69abd0"/>
<path d="M0 0L30 2L22 30L0 42Z" fill="#3885bb"/>
<ellipse cx="28" cy="25" rx="14" ry="16" fill="#3f8ec0"/>
<path d="M0 150L14 150L30 203L0 203Z" fill="#276daf"/>
<ellipse cx="22" cy="190" rx="10" ry="8" fill="#3f8ec0"/>
<ellipse cx="8" cy="95" rx="7" ry="18" fill="#2e76b4"/>
<ellipse cx="72" cy="104" rx="6" ry="12" fill="#337eb8"/>
<ellipse cx="80.7" cy="118" rx="4" ry="5" fill="#337eb8"/>
<ellipse cx="103" cy="108" rx="5" ry="6" fill="#276daf"/>
<ellipse cx="140" cy="108" rx="6" ry="8" fill="#2366aa"/>
<ellipse cx="160" cy="118" rx="6" ry="10" fill="#205fa1"/>
<ellipse cx="150" cy="140" rx="7" ry="5" fill="#1f599a"/>
<ellipse cx="210" cy="119" rx="27" ry="25" fill="#4e9ac7"/>
<ellipse cx="261" cy="95" rx="19" ry="16" fill="#4896c5"/>
<ellipse cx="262" cy="124" rx="17" ry="19" fill="#4896c5"/>
<ellipse cx="243" cy="162" rx="19" ry="19" fill="#4695c4"/>
<ellipse cx="264" cy="192" rx="12" ry="10" fill="#3885bb"/>
<ellipse cx="236" cy="100" rx="13" ry="11" fill="#3885bb"/>
<ellipse cx="266" cy="79" rx="11" ry="9" fill="#539dc9"/>
<ellipse cx="170" cy="17" rx="18" ry="8" fill="#266cae"/>
<ellipse cx="205" cy="16" rx="14" ry="9" fill="#3885bb"/>
<ellipse cx="198" cy="45" rx="15" ry="15" fill="#509cc8"/>
<ellipse cx="249" cy="21" rx="6" ry="5" fill="#2366aa"/>
<ellipse cx="258" cy="45" rx="14" ry="18" fill="#2366aa"/>
<ellipse cx="153.4" cy="179.6" rx="6" ry="6" fill="#337eb8"/>
<ellipse cx="89.4" cy="194" rx="5" ry="5" fill="#337eb8"/>
</g><use href="#eTx"/></g>
<g mask="url(#eM2)"><rect x="-4" y="-4" width="287" height="211" fill="#1b4a87"/><g filter="url(#bl4)">
<path d="M18 6L111 9L138 42L139 60L132 71L110 79L62 81L40 58L18 38Z" fill="#b7d8e9"/>
<path d="M2 45L40 58L62 82L53 96L56 139L50 146L60 160L57 190L43 196L27 200L14 150L5 100Z" fill="#c6dfed"/>
<path d="M0 0L30 2L22 30L0 42Z" fill="#72b1d3"/>
<ellipse cx="28" cy="25" rx="14" ry="16" fill="#87beda"/>
<path d="M0 150L14 150L30 203L0 203Z" fill="#408fc1"/>
<ellipse cx="22" cy="190" rx="10" ry="8" fill="#87beda"/>
<ellipse cx="8" cy="95" rx="7" ry="18" fill="#519cc8"/>
<ellipse cx="72" cy="104" rx="6" ry="12" fill="#62a7ce"/>
<ellipse cx="80.7" cy="118" rx="4" ry="5" fill="#62a7ce"/>
<ellipse cx="103" cy="108" rx="5" ry="6" fill="#408fc1"/>
<ellipse cx="140" cy="108" rx="6" ry="8" fill="#3884bb"/>
<ellipse cx="160" cy="118" rx="6" ry="10" fill="#2d76b4"/>
<ellipse cx="150" cy="140" rx="7" ry="5" fill="#256bae"/>
<ellipse cx="210" cy="119" rx="27" ry="25" fill="#a2cde2"/>
<ellipse cx="261" cy="95" rx="19" ry="16" fill="#9bc9e0"/>
<ellipse cx="262" cy="124" rx="17" ry="19" fill="#9bc9e0"/>
<ellipse cx="243" cy="162" rx="19" ry="19" fill="#97c7df"/>
<ellipse cx="264" cy="192" rx="12" ry="10" fill="#72b1d3"/>
<ellipse cx="236" cy="100" rx="13" ry="11" fill="#72b1d3"/>
<ellipse cx="266" cy="79" rx="11" ry="9" fill="#a9d1e5"/>
<ellipse cx="170" cy="17" rx="18" ry="8" fill="#3e8cbf"/>
<ellipse cx="205" cy="16" rx="14" ry="9" fill="#72b1d3"/>
<ellipse cx="198" cy="45" rx="15" ry="15" fill="#a5cfe4"/>
<ellipse cx="249" cy="21" rx="6" ry="5" fill="#3884bb"/>
<ellipse cx="258" cy="45" rx="14" ry="18" fill="#3884bb"/>
<ellipse cx="153.4" cy="179.6" rx="6" ry="6" fill="#62a7ce"/>
<ellipse cx="89.4" cy="194" rx="5" ry="5" fill="#62a7ce"/>
</g><use href="#eTx"/></g>
<g mask="url(#eM3)"><rect x="-4" y="-4" width="287" height="211" fill="#1d5291"/><g filter="url(#bl4)">
<path d="M18 6L111 9L138 42L139 60L132 71L110 79L62 81L40 58L18 38Z" fill="#f7f7f7"/>
<path d="M2 45L40 58L62 82L53 96L56 139L50 146L60 160L57 190L43 196L27 200L14 150L5 100Z" fill="#f7f7f7"/>
<path d="M0 0L30 2L22 30L0 42Z" fill="#bad9ea"/>
<ellipse cx="28" cy="25" rx="14" ry="16" fill="#d3e6f0"/>
<path d="M0 150L14 150L30 203L0 203Z" fill="#75b3d4"/>
<ellipse cx="22" cy="190" rx="10" ry="8" fill="#d3e6f0"/>
<ellipse cx="8" cy="95" rx="7" ry="18" fill="#92c5de"/>
<ellipse cx="72" cy="104" rx="6" ry="12" fill="#a6cfe4"/>
<ellipse cx="80.7" cy="118" rx="4" ry="5" fill="#a6cfe4"/>
<ellipse cx="103" cy="108" rx="5" ry="6" fill="#75b3d4"/>
<ellipse cx="140" cy="108" rx="6" ry="8" fill="#5ea4cc"/>
<ellipse cx="160" cy="118" rx="6" ry="10" fill="#4292c2"/>
<ellipse cx="150" cy="140" rx="7" ry="5" fill="#3783ba"/>
<ellipse cx="210" cy="119" rx="27" ry="25" fill="#eef2f5"/>
<ellipse cx="261" cy="95" rx="19" ry="16" fill="#e6eff4"/>
<ellipse cx="262" cy="124" rx="17" ry="19" fill="#e6eff4"/>
<ellipse cx="243" cy="162" rx="19" ry="19" fill="#e2edf3"/>
<ellipse cx="264" cy="192" rx="12" ry="10" fill="#bad9ea"/>
<ellipse cx="236" cy="100" rx="13" ry="11" fill="#bad9ea"/>
<ellipse cx="266" cy="79" rx="11" ry="9" fill="#f5f6f7"/>
<ellipse cx="170" cy="17" rx="18" ry="8" fill="#70afd2"/>
<ellipse cx="205" cy="16" rx="14" ry="9" fill="#bad9ea"/>
<ellipse cx="198" cy="45" rx="15" ry="15" fill="#f1f4f6"/>
<ellipse cx="249" cy="21" rx="6" ry="5" fill="#5ea4cc"/>
<ellipse cx="258" cy="45" rx="14" ry="18" fill="#5ea4cc"/>
<ellipse cx="153.4" cy="179.6" rx="6" ry="6" fill="#a6cfe4"/>
<ellipse cx="89.4" cy="194" rx="5" ry="5" fill="#a6cfe4"/>
</g><use href="#eTx"/></g>
<circle cx="186.5" cy="36.3" r="1.6" fill="#fbe3d4"/>
<circle cx="52.1" cy="140.8" r="1.6" fill="#f4a582"/>
<circle cx="207.9" cy="49.9" r="1.6" fill="#f4a582"/>
<circle cx="50.6" cy="74.1" r="1.6" fill="#b2182b"/>
<circle cx="37.1" cy="69.6" r="1.6" fill="#fddbc7"/>
<circle cx="42.4" cy="120.3" r="1.6" fill="#fddbc7"/>
<circle cx="85.9" cy="12.9" r="1.6" fill="#fddbc7"/>
<circle cx="58.1" cy="80.6" r="1.6" fill="#f4a582"/>
<circle cx="8.9" cy="84.5" r="1.6" fill="#d6604d"/>
<circle cx="222.5" cy="136.1" r="1.6" fill="#fddbc7"/>
<circle cx="78.2" cy="45.1" r="1.6" fill="#f7f7f7"/>
<circle cx="14.3" cy="127.4" r="1.6" fill="#d6604d"/>
<circle cx="106.9" cy="56.6" r="1.6" fill="#fddbc7"/>
<circle cx="137.1" cy="50.1" r="1.6" fill="#d6604d"/>
<circle cx="111.7" cy="24.7" r="1.6" fill="#f7f7f7"/>
<circle cx="207.9" cy="120.6" r="1.6" fill="#f4a582"/>
<circle cx="91.3" cy="13" r="1.6" fill="#fddbc7"/>
<circle cx="21.6" cy="88.2" r="1.6" fill="#67001f"/>
<circle cx="258.7" cy="171.4" r="1.6" fill="#d6604d"/>
<circle cx="65.4" cy="33.4" r="1.6" fill="#f4a582"/>
<circle cx="33.9" cy="43.3" r="1.6" fill="#f7f7f7"/>
<circle cx="54.5" cy="54.7" r="1.6" fill="#d6604d"/>
<circle cx="111.8" cy="71.2" r="1.6" fill="#fddbc7"/>
<circle cx="31.3" cy="61.7" r="1.6" fill="#fbe3d4"/>
<circle cx="36.9" cy="87.6" r="1.6" fill="#f4a582"/>
<circle cx="29.2" cy="181" r="1.6" fill="#b2182b"/>
<circle cx="192.4" cy="43.2" r="1.6" fill="#fbe3d4"/>
<circle cx="22" cy="84.8" r="1.6" fill="#f4a582"/>
<circle cx="230.7" cy="169.3" r="1.6" fill="#fddbc7"/>
<circle cx="244.7" cy="143.1" r="1.6" fill="#fddbc7"/>
<circle cx="78.5" cy="26.3" r="1.6" fill="#fddbc7"/>
<circle cx="24.2" cy="97.2" r="1.6" fill="#f4a582"/>
<circle cx="98.5" cy="43.4" r="1.6" fill="#f7f7f7"/>
<circle cx="91.7" cy="59.4" r="1.6" fill="#b2182b"/>
<circle cx="194.4" cy="40.2" r="1.6" fill="#fbe3d4"/>
<circle cx="76.2" cy="10.6" r="1.6" fill="#f4a582"/>
<circle cx="53.6" cy="185.4" r="1.6" fill="#f7f7f7"/>
<circle cx="206" cy="103.3" r="1.6" fill="#f4a582"/>
<circle cx="105.1" cy="21.6" r="1.6" fill="#67001f"/>
<circle cx="60.8" cy="80.8" r="1.6" fill="#fddbc7"/>
<circle cx="122.9" cy="53.2" r="1.6" fill="#fddbc7"/>
<circle cx="53.6" cy="139.5" r="1.6" fill="#67001f"/>
<circle cx="205.6" cy="95" r="1.6" fill="#67001f"/>
<circle cx="84.3" cy="48.6" r="1.6" fill="#67001f"/>
<circle cx="20.4" cy="173.6" r="1.6" fill="#b2182b"/>
<circle cx="209.6" cy="141.6" r="1.6" fill="#fddbc7"/>
<circle cx="123.9" cy="27.2" r="1.6" fill="#f7f7f7"/>
<circle cx="65.2" cy="63.7" r="1.6" fill="#f4a582"/>
<circle cx="19.5" cy="53.2" r="1.6" fill="#f7f7f7"/>
<circle cx="60.8" cy="75.3" r="1.6" fill="#f4a582"/>
<circle cx="16.5" cy="59.8" r="1.6" fill="#fddbc7"/>
<circle cx="17.9" cy="66.3" r="1.6" fill="#fbe3d4"/>
<circle cx="254.2" cy="134.7" r="1.6" fill="#d6604d"/>
<circle cx="107" cy="62" r="1.6" fill="#f4a582"/>
<circle cx="77" cy="75.9" r="1.6" fill="#f4a582"/>
<circle cx="62.9" cy="10.5" r="1.6" fill="#d6604d"/>
<circle cx="83.8" cy="68.7" r="1.6" fill="#fddbc7"/>
<circle cx="258.3" cy="92.5" r="1.6" fill="#fddbc7"/>
<circle cx="216.8" cy="99.1" r="1.6" fill="#f4a582"/>
<circle cx="127.4" cy="38" r="1.6" fill="#f4a582"/>
</g>
<ellipse cx="531.2" cy="1150.8" rx="56.6" ry="53.6" fill="none" stroke="#E8202A" stroke-width="3.4"/>
<ellipse cx="531.2" cy="1447.8" rx="56.6" ry="52.8" fill="none" stroke="#E8202A" stroke-width="3.4"/>
<defs><filter id="bl5" x="-30%" y="-30%" width="160%" height="160%"><feGaussianBlur stdDeviation="4"/></filter>
<mask id="fM0" maskUnits="userSpaceOnUse" x="-20" y="-20" width="280" height="326"><g transform="scale(.5)"><path d="M256 10h0m-11 7h0m-13-2h0m-42 8h0m13-2h0m83 1h0m23 15h0m-109-7h0m-14 1h0m-33 11h0m34 0h0m15-1h0m125 7h0m-132 2h0m-25 4h0m-31 3h0m-4 4h0m20 6h0m10-6h0m158 7h0m22 1h0m-2 8h0m-200 12h0m19-6h0m207-1h0m4 1h0m7 5h0m5 2h0m-194 4h0m-9 6h0m-144 3h0m3 5h0m123 1h0m63-7h0m173 14h0m-14 0h0m-157-1h0m-57 1h0m-9 4h0m-34-4h0m-71-6h0m-4 13h0m79 0h0m12 4h0m15 1h0m12-1h0m29-4h0m14-2h0m17 0h0m145 12h0m-12 6h0m-72-4h0m-9-1h0m-84 0h0m-5 6h0m-33-4h0m-20-1h0m-31-2h0m-6 6h0m-3-4h0m-69-2h0m-12 8h0m14 8h0m4-8h0m34 7h0m12-5h0m8 4h0m15 0h0m17 0h0m55-7h0m13 6h0m14 1h0m10 1h0m15-2h0m14 0h0m9 0h0m42-3h0m8 3h0m7-4h0m17 7h0m11-8h0m38 0h0m6 8h0m39 11h0m-65-4h0m-10-2h0m-29 2h0m-55-3h0m-6 0h0m-54 1h0m-6-1h0m-7 0h0m-9 0h0m-3 6h0m-14-5h0m-89 2h0m-46 10h0m52 2h0m46-2h0m14-5h0m0 5h0m28-5h0m5 8h0m5-2h0m4-5h0m10-1h0m19 8h0m9-9h0m32 0h0m5 8h0m13 1h0m46-2h0m76 12h0m-65-7h0m-14 0h0m-29 7h0m-3-5h0m-22-2h0m-2 8h0m-12-6h0m-24 1h0m-8-1h0m-15 2h0m-8-4h0m-30 1h0m-13-1h0m-6 7h0m-8 1h0m-9-5h0m-72 1h0m-31 3h0m-4 7h0m12-6h0m9 9h0m46-3h0m9 0h0m27-6h0m10 8h0m23 1h0m4-8h0m15 0h0m2 6h0m9 0h0m25-1h0m18-6h0m10 9h0m68 0h0m9-3h0m6 0h0m78 3h0m9 0h0m6-3h0m12-4h0m-6 17h0m-3-7h0m-9 1h0m-8 7h0m-65-5h0m-26-1h0m-7 1h0m-38 1h0m-11 3h0m-22 0h0m-34-5h0m-52-1h0m-24 1h0m-76 0h0m-9 12h0m22-1h0m71 4h0m26-7h0m5 4h0m31-1h0m8 4h0m6-2h0m17-6h0m14 5h0m21 1h0m10-1h0m5 0h0m152-1h0m5-3h0m4 5h0m17 8h0m-188-1h0m-3 5h0m-25 1h0m-2-6h0m-6 6h0m-11-7h0m-36 2h0m-6 4h0m-19-5h0m-11 6h0m-76-1h0m-5-6h0m-19 8h0m5 4h0m24 2h0m8 1h0m47-7h0m5 5h0m17-6h0m22 6h0m8 1h0m22-1h0m29 2h0m23-3h0m7 2h0m4-5h0m157 3h0m6-3h0m15 5h0m-4 8h0m-22-2h0m-126 2h0m-27-3h0m-28 2h0m-8-1h0m-24 0h0m-6 1h0m-29-2h0m-13 8h0m-36-5h0m-3 5h0m-16-7h0m-42 1h0m-16 5h0m-10 0h0m-1-7h0m5 15h0m49-5h0m19 3h0m62 1h0m14 0h0m8 2h0m22-7h0m0 7h0m78 0h0m16 0h0m5-1h0m12-7h0m25 1h0m84-1h0m12 1h0m16 13h0m-95 5h0m-2-7h0m-11 8h0m-7-2h0m-36-4h0m-4 5h0m-10-4h0m-69-2h0m-7 0h0m-14 5h0m-17-3h0m-22-4h0m-16 4h0m-44 4h0m-3-4h0m-6-3h0m-10 1h0m-46 2h0m-15-1h0m15 6h0m11 7h0m7 0h0m12-7h0m1 4h0m13-3h0m10 7h0m8 0h0m14-8h0m11 6h0m13-1h0m41-4h0m12 7h0m131 0h0m88-7h0m11 6h0m3-6h0m15 1h0m5 18h0m-35-7h0m-51 6h0m-4-6h0m-14-2h0m-5 8h0m-16-7h0m-9 0h0m-7 2h0m-63 6h0m-16-2h0m-21-7h0m-4 8h0m-23 0h0m-63-5h0m-41 6h0m-36 5h0m24 2h0m8 0h0m5 0h0m49-6h0m11 3h0m7-4h0m34 5h0m10-5h0m30 1h0m14 6h0m73-1h0m111-5h0m20 4h0m11 7h0m-10 0h0m-16 7h0m-87-7h0m-99 2h0m-18-3h0m-1 9h0m-3-9h0m-12 7h0m-18-4h0m-72 0h0m-9 4h0m-60-4h0m9 10h0m23 0h0m25 3h0m54-6h0m11 6h0m16-1h0m6-5h0m19 6h0m133-7h0m3 6h0m6-1h0m24 1h0m19-5h0m27 4h0m22-1h0m21 3h0m-84 5h0m-52 5h0m-9-3h0m-130-3h0m-76 0h0m8 14h0m2-4h0m233 6h0m22-3h0m44 1h0m32 0h0m3-5h0m-33 18h0m-14 2h0m-73-7h0m-11 4h0m-8 2h0m-2-7h0m-196 8h0m-2 4h0m14 2h0m8-1h0m8-1h0m5 1h0m212-5h0m48 5h0m22 2h0m15-1h0m0 12h0m-16-6h0m-66 6h0m-7 2h0m-8-3h0m-21-5h0m-10 5h0m-26-7h0m-22 1h0m-28 8h0m-6-9h0m-101 7h0m-2-6h0m-19 9h0m-13-8h0m-5 6h0m45 9h0m115-7h0m11 6h0m10 0h0m39-2h0m24-4h0m99 12h0m-4 4h0m-3-4h0m-67 0h0m-19 0h0m-15 6h0m-6-6h0m-2 7h0m-24-2h0m-14 1h0m-123-1h0m-5-4h0m-2 3h0m-19-5h0m-35 8h0m-27-9h0m-5 10h0m22 6h0m29-3h0m24 3h0m23-1h0m3-5h0m9 5h0m133 1h0m4 0h0m94 0h0m5-1h0m28 7h0m-30 1h0m-6 3h0m-93-4h0m-26 7h0m-99 1h0m-43-9h0m-13 0h0m-23 2h0m-12 5h0m-15 1h0m-11 6h0m22 0h0m16-2h0m43 2h0m176 0h0m17 0h0m63 5h0m48-4h0m-3 5h0m-11 6h0m-43-5h0m-7 1h0m-44-3h0m-4 9h0m-20-7h0m-38 0h0m-8-2h0m-93 8h0m-16 1h0m-15-3h0m-86 1h0m-3 6h0m12 6h0m6 0h0m53-4h0m21 0h0m16-1h0m16 2h0m96-3h0m76 2h0m63-2h0m16 2h0m-32 11h0m-23 0h0m-12-3h0m-5-3h0m-15 8h0m-16-6h0m-4 5h0m-13-5h0m-28 4h0m-108-4h0m-22 0h0m-44 7h0m-23-1h0m-1-6h0m-4 5h0m-9 0h0m18 8h0m37 4h0m14 0h0m33-6h0m109-1h0m45 3h0m31 5h0m28-6h0m21 13h0m-39-4h0m-83-1h0m-3 3h0m-108 1h0m-25-6h0m-7 8h0m-69 4h0m19 0h0m15 7h0m10-6h0m6 2h0m3 3h0m21-5h0m179 6h0m32 0h0m40-3h0m13 6h0m-18-1h0m-57 5h0m-28 1h0m-5-7h0m-32 7h0m-95-2h0m-8-3h0m-36 7h0m-8-3h0m-10-5h0m-4 7h0m-13-7h0m-7 0h0m-5 6h0m36 6h0m4 5h0m2-3h0m7-1h0m54-2h0m79 2h0m5 1h0m9-2h0m2 6h0m21-6h0m7 2h0m23-2h0m20 7h0m14-1h0m22 1h0m14 1h0m-19 8h0m-53-2h0m-28-2h0m-29-4h0m-59 0h0m-36 5h0m-7 2h0m-7-2h0m-19-5h0m-13 7h0m-19-2h0m-15 2h0m-11 0h0m-15-1h0m-1 5h0m60 0h0m33 8h0m8-2h0m51-5h0m17 6h0m6 0h0m53-5h0m19 1h0m18-3h0m17 6h0m-2 9h0m-61 1h0m-21-6h0m-32 5h0m-37 0h0m-25 0h0m-39 1h0m-51 0h0m-8-3h0m-2-4h0m3 18h0m96-5h0m56 0h0m18 0h0m21-2h0m28 6h0m2-6h0m32 3h0m-37 10h0m-24 1h0m-8 0h0m-3-6h0m-17 6h0m-34 2h0m-66 0h0m-31-2h0m-6-5h0m-30 7h0m24 6h0m52-3h0m17 0h0m59 3h0m48-1h0m17 5h0m-159 2h0m-11 4h0" fill="none" stroke="#fff" stroke-width="10" stroke-linecap="round"/></g></mask>
<mask id="fM1" maskUnits="userSpaceOnUse" x="-20" y="-20" width="280" height="326"><g transform="scale(.5)"><path d="M277 14h0m-40 2h0m-15 2h0m-54 11h0m9 0h0m19-8h0m16 3h0m55-3h0m2 7h0m7 0h0m6-6h0m10 6h0m3-6h0m-86 8h0m-21 8h0m-8-2h0m-15-1h0m-5 0h0m-29 8h0m10 0h0m41 5h0m-23 3h0m-15 11h0m15 0h0m15-2h0m-8 15h0m-39 1h0m14 7h0m11 4h0m185-6h0m25 1h0m8 5h0m19 7h0m-189 1h0m-22 1h0m-7 0h0m-9 1h0m-88 4h0m16 1h0m63 8h0m23-8h0m20 1h0m25 0h0m173 12h0m-145 0h0m-8-2h0m-20 1h0m-10 3h0m-8-2h0m-14 1h0m-9 0h0m-35 0h0m-7 4h0m-63-5h0m-6 1h0m-11-1h0m-27-2h0m1 10h0m6 5h0m11-6h0m47 7h0m9-2h0m24-1h0m5 4h0m15-8h0m39 7h0m39-3h0m46 4h0m142 6h0m-115 0h0m-67 4h0m-2-4h0m-23-1h0m-22 1h0m-38-1h0m-22-1h0m-48 3h0m14 5h0m26 7h0m15-3h0m21 2h0m3-7h0m5 8h0m9 0h0m13 0h0m17 0h0m41-9h0m27 7h0m3-4h0m46-3h0m94 9h0m13 6h0m-15 0h0m-71 0h0m-13-1h0m-108 2h0m-4 4h0m-54-4h0m-10-2h0m-31-1h0m-6 2h0m-24 1h0m-38-2h0m-26 5h0m-10-5h0m1 12h0m7 3h0m45-2h0m32-6h0m6 5h0m15 1h0m28-4h0m5-2h0m46 1h0m4 5h0m3-7h0m33 7h0m12-1h0m13 0h0m32 3h0m133-9h0m-103 19h0m-57-4h0m-5 5h0m-15 0h0m-19-5h0m-10 4h0m-36-4h0m-68-2h0m-21 3h0m-10-3h0m-8 0h0m-24 6h0m-27-5h0m8 12h0m4-3h0m24 3h0m41-5h0m8 1h0m37 6h0m3-6h0m15-1h0m5 7h0m51-2h0m30 3h0m8-3h0m72-4h0m75-2h0m11 8h0m20-6h0m-12 12h0m-26 0h0m-82-1h0m-46 2h0m-4 4h0m-21-4h0m-9 4h0m-10-7h0m-27 8h0m-34-5h0m-11-2h0m-10 6h0m-11-5h0m-8-2h0m-31 3h0m-27-1h0m-15 5h0m-3-5h0m19 7h0m15-1h0m40 2h0m11 4h0m28 3h0m20-7h0m9-2h0m56 8h0m155-7h0m6 7h0m24-8h0m5 8h0m-19 6h0m-108-2h0m-58 3h0m-8-3h0m-25 3h0m-8 4h0m-27-6h0m-19 2h0m-1 4h0m-42-5h0m-9 0h0m-4 6h0m-21 0h0m-61 2h0m3 7h0m20-8h0m34 4h0m8 1h0m23 2h0m21-3h0m50-3h0m5 6h0m47-8h0m7 0h0m53 6h0m36 3h0m66-8h0m-5 17h0m-80-5h0m-21 2h0m-73 4h0m-12-6h0m-18 6h0m-5-5h0m-32 1h0m-13-1h0m-37-2h0m-14 7h0m-11-4h0m-16-1h0m-18 7h0m35 5h0m13 0h0m46 1h0m16-2h0m4-4h0m14-1h0m20 6h0m33 2h0m19-6h0m2 6h0m8-2h0m4-5h0m172 4h0m13 1h0m-19 8h0m-108-1h0m-24 7h0m-27-7h0m-10 5h0m-24 1h0m-80-5h0m-23-2h0m-5 8h0m-4-8h0m-13 2h0m-38 0h0m-16-1h0m-12 6h0m-4 9h0m135-7h0m50-1h0m5 6h0m9 0h0m21 0h0m87 0h0m110 7h0m-85 1h0m-28 5h0m-134-7h0m-45 0h0m-7 0h0m-6 1h0m-30 2h0m-31-3h0m-17-1h0m-22 1h0m-21 2h0m13 10h0m7 0h0m130 4h0m6-1h0m17-1h0m3-5h0m5 6h0m23-3h0m153 1h0m53 3h0m5-2h0m13 7h0m-11 4h0m-21-5h0m-14 0h0m-10 8h0m-47-1h0m-12-4h0m-27 5h0m-14-2h0m-62 0h0m-16-5h0m-5 7h0m-32-1h0m-27-6h0m-61-1h0m-5-1h0m-14 0h0m-16 0h0m37 13h0m4-4h0m78 7h0m8 1h0m16-4h0m152 4h0m44-1h0m5-7h0m20 7h0m24 6h0m-4-2h0m-10 0h0m-70 8h0m-5-7h0m-21-1h0m-37 7h0m-203 2h0m-35-7h0m-7 1h0m265 11h0m3-5h0m13 4h0m15 2h0m47-5h0m56 0h0m5-1h0m-16 20h0m-4-8h0m-96 6h0m-227 0h0m-11-6h0m202 12h0m25 3h0m74-1h0m45 7h0m-19 6h0m-96-5h0m-64 3h0m-31 2h0m-103-7h0m-40 0h0m-3 7h0m-3 6h0m47 0h0m153 5h0m103-3h0m9-1h0m30-1h0m7 1h0m7 10h0m-12-2h0m-19-3h0m-19 8h0m-99-1h0m-30-6h0m-101 5h0m-10-5h0m-34 7h0m-21-6h0m-5 6h0m-2-6h0m-11 4h0m-20 6h0m27 7h0m11-5h0m16 1h0m173-3h0m23 0h0m33 3h0m77 14h0m-7-9h0m-10 8h0m-78-1h0m-4-7h0m-30 1h0m-7 0h0m-5 0h0m-107-2h0m-4 6h0m-11-3h0m-6 4h0m-4-7h0m-4 9h0m-3-6h0m-31-2h0m-5 1h0m-4 7h0m-11 0h0m-24-8h0m24 15h0m13 0h0m76-3h0m139 7h0m22-4h0m21-3h0m45 1h0m32-1h0m-4 10h0m-36 5h0m-31-6h0m-6 7h0m-46 0h0m-5-2h0m-33-1h0m-15 0h0m-87-3h0m-6-3h0m-15 2h0m-9-1h0m-36 7h0m-2-8h0m-2 8h0m-43-7h0m1 15h0m7-3h0m21 0h0m15 0h0m11 6h0m50-6h0m138 0h0m6 2h0m30-1h0m68 6h0m30 1h0m-14 5h0m-15 2h0m-21-1h0m-13-5h0m-46-1h0m-162 5h0m-10 2h0m-29 1h0m-19-9h0m-48 7h0m3 7h0m14 0h0m23-1h0m6 6h0m1-6h0m24 0h0m15 2h0m166-2h0m13 6h0m88-5h0m9-2h0m-6 10h0m-2 3h0m-53 3h0m-19-8h0m-5 9h0m-40-3h0m-136 2h0m-11-8h0m-17 6h0m-9 0h0m-12-6h0m-39 9h0m-2 10h0m10-4h0m68-1h0m10-2h0m104 2h0m18 0h0m8 0h0m56 6h0m30-1h0m7 0h0m32 2h0m-51 7h0m-57-7h0m-12 6h0m-21-1h0m-75 2h0m-18-2h0m-37 3h0m-2-7h0m-5 4h0m-45 2h0m-11 6h0m9 5h0m16 0h0m6 0h0m27-5h0m15-2h0m12 7h0m17 0h0m36 0h0m39 0h0m57-5h0m30-2h0m35 7h0m17 6h0m-20 3h0m-86-3h0m-7 2h0m-7 1h0m-14 0h0m-9 0h0m-23-3h0m-32-3h0m-14 6h0m-45-2h0m-21 0h0m-36 9h0m9-1h0m22-1h0m4 7h0m32-7h0m25-1h0m15 0h0m13-1h0m26 2h0m37 1h0m84-1h0m28 7h0m-6 7h0m-16 1h0m-21-3h0m-92 1h0m-32 0h0m-11-5h0m-19 5h0m-13 1h0m-15-2h0m-4-4h0m-20 5h0m-6-5h0m-22 0h0m-12 0h0m-10 13h0m8 0h0m3 4h0m18-6h0m29 7h0m10-5h0m3 5h0m9-1h0m8 1h0m17 1h0m18-9h0m18 8h0m40-4h0m34-4h0m47 8h0m11-7h0m9 0h0m-16 12h0m-8 4h0m-50-7h0m-13 0h0m-8 0h0m-20 3h0m-2-3h0m-21 7h0m-51-8h0m-7 4h0m-18 2h0m-16 1h0m-28 0h0m-22-1h0m7 12h0m50-5h0m20 1h0m3 4h0m89-7h0m36 9h0m3-7h0m-31 13h0m-113 0h0m-29-6h0m-3 6h0m-4-5h0m-19 6h0m-9-7h0" fill="none" stroke="#fff" stroke-width="10" stroke-linecap="round"/></g></mask>
<mask id="fM2" maskUnits="userSpaceOnUse" x="-20" y="-20" width="280" height="326"><g transform="scale(.5)"><path d="M220 9h0m6-1h0m28 8h0m4 6h0m49 6h0m8 1h0m13 7h0m-25 0h0m-154 6h0m4 7h0m18-7h0m7 1h0m14-1h0m123 2h0m5 5h0m1-5h0m9-2h0m-174 13h0m-31 2h0m-2 12h0m40-1h0m6 2h0m149-6h0m7-2h0m31 15h0m-8 0h0m-23 0h0m-151-2h0m-15 2h0m-7 0h0m-20 4h0m28 7h0m183-5h0m5 6h0m36 5h0m-173 6h0m-63-3h0m-100 10h0m15 2h0m5-6h0m11 4h0m13 1h0m21-5h0m20 5h0m8 1h0m4-8h0m4 9h0m4-9h0m25 7h0m8 1h0m8-3h0m14 2h0m9 0h0m6 1h0m9-1h0m6-1h0m148-7h0m4 8h0m3-6h0m-228 15h0m-7-1h0m-43-1h0m-32 2h0m-29-2h0m-8 1h0m-21 5h0m50 8h0m43-9h0m32 8h0m5-5h0m14-3h0m12 8h0m3-6h0m12 4h0m14-4h0m13-2h0m16 1h0m3 9h0m5-8h0m8 1h0m32 6h0m95-6h0m6 4h0m20 0h0m-12 7h0m-6-1h0m-62 3h0m-5-3h0m-10 1h0m-7 0h0m-59 1h0m-7-1h0m-17 1h0m-44 0h0m-13 5h0m-33-4h0m-62 0h0m-21-2h0m-8 0h0m-30 15h0m50-8h0m77 8h0m49-7h0m22 1h0m17-3h0m12 7h0m28-4h0m67-1h0m2 5h0m30-1h0m10 1h0m47 2h0m-173 5h0m-76 1h0m-45-1h0m-24 1h0m-5-1h0m-41-1h0m-17 6h0m-5-6h0m-18 10h0m24 5h0m14-6h0m7 0h0m10 5h0m17-1h0m17-3h0m4 4h0m4-4h0m16-1h0m19 4h0m7 1h0m9 2h0m54-1h0m5-2h0m19-4h0m39 1h0m38-2h0m104 6h0m-5 6h0m-82 1h0m-65 5h0m-65-6h0m-68 0h0m-13 6h0m-80-5h0m-5 0h0m-31-1h0m-3 15h0m61-1h0m11 2h0m36-2h0m23 1h0m49-6h0m13 7h0m27-1h0m6-7h0m10 6h0m23-1h0m15 3h0m12-7h0m4 3h0m20-3h0m110 4h0m10 8h0m-163 5h0m-16 0h0m-48-5h0m-6 2h0m-54-2h0m-18 5h0m-18 0h0m-1-6h0m-9 2h0m-30-1h0m-45 1h0m13 12h0m23 1h0m13-7h0m13 1h0m45-1h0m15 5h0m19 0h0m5-6h0m5 6h0m30 0h0m16 2h0m14-3h0m38 2h0m121 0h0m45-1h0m-2 8h0m-16-1h0m-157 6h0m-61-7h0m-8 3h0m-10 0h0m-28-3h0m-18 2h0m-10 5h0m-3-5h0m-11 5h0m-101 0h0m6 8h0m31 0h0m18-7h0m24 8h0m8 0h0m75-7h0m2 7h0m38-3h0m24 2h0m36-1h0m23 0h0m92 3h0m20-9h0m32 7h0m7 8h0m-213-2h0m-25 1h0m-38-2h0m-10 8h0m-60-7h0m-22 0h0m-68-1h0m107 16h0m48-2h0m8-5h0m32 0h0m3 6h0m15-1h0m7 0h0m13-5h0m11 6h0m26-7h0m4 5h0m10-5h0m38 8h0m5-1h0m45-2h0m52 9h0m-38 0h0m-25-3h0m-120 4h0m-21 4h0m-2-7h0m-7 1h0m-22 7h0m-16-9h0m-5 8h0m-10-6h0m-40 0h0m-4 7h0m-118-6h0m102 14h0m1-7h0m13 4h0m11-5h0m5 1h0m6 7h0m5-7h0m1 6h0m18 0h0m6 1h0m13-7h0m2 6h0m47-2h0m7 1h0m63-5h0m98 5h0m13 14h0m-5-2h0m-16 1h0m-44-4h0m-30-1h0m-91-3h0m-9 1h0m-15 0h0m-23 2h0m-5 0h0m-8-3h0m-28 7h0m-17-4h0m-6 5h0m-26-8h0m-72 8h0m9 1h0m68 1h0m33 5h0m5-5h0m3 3h0m41-3h0m29 6h0m23-2h0m89 0h0m17 3h0m7-1h0m47 0h0m18 4h0m-17 2h0m-41 5h0m-2-4h0m-26-3h0m-22 3h0m-6 0h0m-68 1h0m-41-4h0m-7 0h0m-6 1h0m-10 8h0m-27-9h0m-57 7h0m-9 0h0m-32 1h0m-13-1h0m18 6h0m23 1h0m249 0h0m91-1h0m6-4h0m13 0h0m14 4h0m-6 13h0m-118-3h0m-12 5h0m-121-2h0m-91 9h0m199 1h0m30-2h0m105-4h0m1 3h0m-15 14h0m-3-6h0m-59 5h0m-3-5h0m-15 2h0m-45-3h0m-205 16h0m7-1h0m11 4h0m3-4h0m22-5h0m193 4h0m29-1h0m62 0h0m16 1h0m-18 7h0m-6 5h0m-6 0h0m-5-5h0m-2 6h0m-36-7h0m-15 1h0m-49 8h0m-20-8h0m-28 2h0m-101 0h0m-2 5h0m-7 1h0m-4-8h0m-15 7h0m-41-9h0m10 14h0m12 3h0m46-2h0m100-2h0m38 1h0m9-1h0m6 0h0m53 0h0m13 7h0m55-4h0m8 0h0m-6 12h0m-17 0h0m-3-5h0m-8-2h0m-46 1h0m-5 5h0m-4 0h0m-11 2h0m-43 0h0m-149-7h0m-3 6h0m-15-1h0m-26-6h0m-8 1h0m-15 7h0m22 6h0m18-5h0m33 6h0m26 0h0m157-3h0m10 0h0m24 6h0m56-5h0m24 3h0m9-3h0m1 14h0m-6-6h0m-11 5h0m-17 0h0m-15-7h0m-8 7h0m-115-4h0m-133 4h0m-12-5h0m-3 7h0m-17 0h0m-31-1h0m-1-5h0m-16-3h0m6 16h0m9-2h0m40-1h0m23 0h0m210 3h0m7-3h0m39 3h0m46 11h0m-32 1h0m-14-1h0m-24 1h0m-66-2h0m-10 2h0m-6 0h0m-124-5h0m-13 7h0m-16-2h0m-36-2h0m-31 3h0m-10-8h0m19 13h0m8 0h0m16 1h0m16 0h0m21 0h0m17 0h0m141 4h0m2-5h0m23 2h0m17 0h0m97-2h0m-3 8h0m-101 6h0m-14-6h0m-9 4h0m-30 1h0m-123 2h0m-10-9h0m-5 9h0m-4-6h0m-6-2h0m-7 6h0m-26-7h0m-6 3h0m-16 11h0m4 5h0m78-5h0m114 2h0m32-2h0m6 0h0m28 5h0m19-5h0m16-1h0m8-1h0m15 0h0m9 3h0m7 1h0m-6 4h0m-2 6h0m-92 2h0m-14 0h0m-25-1h0m-6-1h0m-108 0h0m-24-6h0m-13 8h0m-17-1h0m-7 0h0m-7-1h0m-3-4h0m-20 3h0m33 8h0m10 1h0m20 1h0m4 4h0m34-4h0m27 5h0m68-4h0m43-3h0m46 0h0m10 0h0m7 0h0m3 6h0m2-3h0m32-2h0m-30 14h0m-14-7h0m-72 8h0m-37-1h0m-65-6h0m-6-2h0m-10 8h0m-56 1h0m-33-9h0m-2 20h0m7-5h0m10-2h0m35 6h0m7-1h0m26-6h0m6 3h0m6 4h0m17-5h0m9 0h0m88 5h0m16 0h0m65-1h0m-30 9h0m-99 0h0m-16-1h0m-17 0h0m-54 0h0m-55-4h0m-21 3h0m28 9h0m14 0h0m12 4h0m4-5h0m4 6h0m2-6h0m16 0h0m10 2h0m17 3h0m28-4h0m2 5h0m20-4h0m9-1h0m19 5h0m45 0h0m49-5h0m17 0h0m4 0h0m-16 8h0m-58 3h0m-30 2h0m-8 0h0m-39 0h0m-48-6h0m-19 4h0m-15 0h0m-23 2h0m-10-2h0m-15-1h0m-6 3h0m-22-2h0m4 8h0m9 6h0m13-5h0m27 4h0m1-4h0m31 0h0m11-2h0m26 7h0m1-8h0m62 0h0m28 7h0m57-4h0m5-2h0m-16 9h0m-28 5h0m-69 2h0m-60-1h0m-28-6h0m-14-1h0m-2 4h0m-34 2h0m0 12h0m9 1h0m19-5h0m7-3h0m12 8h0m15-1h0m52-7h0m6 4h0m27 3h0m7 2h0m16-2h0m16 1h0m15-7h0m-23 9h0m-135 6h0m-5 0h0m-27 0h0" fill="none" stroke="#fff" stroke-width="10" stroke-linecap="round"/></g></mask>
<mask id="fM3" maskUnits="userSpaceOnUse" x="-20" y="-20" width="280" height="326"><g transform="scale(.5)"><path d="M285 16h0m-25-2h0m-46 1h0m37 10h0m24-3h0m29-1h0m31 14h0m-139-1h0m-59 14h0m37 0h0m-7 2h0m-4 7h0m-14-3h0m-18 0h0m-2 9h0m20 4h0m32-6h0m147 9h0m-194 19h0m220-8h0m1 8h0m10 0h0m-157 8h0m-23-1h0m-52-1h0m-87 6h0m35 0h0m18 2h0m5-3h0m7 8h0m24-6h0m23 1h0m7-2h0m7 8h0m17-8h0m11 7h0m4-7h0m31 2h0m12 5h0m-10 9h0m-39-2h0m-47-1h0m-16 2h0m-37 1h0m-62-2h0m7 7h0m11 5h0m11-4h0m2 6h0m22-2h0m20-5h0m3 8h0m11-2h0m1-5h0m43 7h0m10-7h0m14-1h0m14 5h0m8 0h0m6 1h0m17-2h0m13 4h0m7-3h0m7 0h0m130 0h0m-10 6h0m-123 4h0m-8-4h0m-32 7h0m-3-6h0m-12 6h0m-12-7h0m-23 3h0m-14-2h0m-22 5h0m-19-5h0m-29-1h0m-22 3h0m-38 0h0m-9 10h0m40 3h0m9-3h0m1-5h0m47 1h0m8 0h0m6 0h0m16-2h0m4 7h0m2-5h0m25 0h0m5 4h0m43 3h0m25-9h0m10 3h0m2 5h0m21-6h0m41 6h0m32 2h0m7-2h0m9 6h0m-35-1h0m-4 7h0m-56-7h0m-8 6h0m-26-5h0m-2 6h0m-3-4h0m-10 0h0m-15-1h0m-67-1h0m-7-1h0m-11 7h0m-34-1h0m-20 0h0m-62 2h0m44 6h0m4 3h0m78-2h0m26-8h0m29 8h0m4 1h0m35-7h0m4 5h0m28-5h0m51-2h0m41 2h0m47 6h0m14 7h0m-70-1h0m-39-1h0m-15 3h0m-11 3h0m-24-4h0m-19 0h0m-58 1h0m-9 0h0m-13-3h0m-24 2h0m-60-1h0m-41-1h0m-8 15h0m35-8h0m44 6h0m23 2h0m36-1h0m21-4h0m8 5h0m6-5h0m9-1h0m5-2h0m6 7h0m24-6h0m37 6h0m32-6h0m91 0h0m30-1h0m0 16h0m-20 3h0m-83 0h0m-1-4h0m-38-3h0m-9 3h0m-21-1h0m-13 5h0m-4-5h0m-8 0h0m-16-2h0m-4 7h0m-25-4h0m-7 0h0m-8 1h0m-112-4h0m-22 7h0m-19-7h0m-1 7h0m2 8h0m60 1h0m16 0h0m16-2h0m6 0h0m25 2h0m19-6h0m6 0h0m38-1h0m11 7h0m81-6h0m117 5h0m21 6h0m-23 0h0m-11 1h0m-114 0h0m-19 1h0m-33-1h0m-17 5h0m-15-1h0m-8 0h0m-60-3h0m-29-3h0m-4 8h0m-34-7h0m-13-1h0m-16 3h0m-23 12h0m17-6h0m88 7h0m22-3h0m10 3h0m2-7h0m4 7h0m48-2h0m6-1h0m23 3h0m31-3h0m53 1h0m89 1h0m11 5h0m-2 7h0m-13-4h0m-150 0h0m-8-1h0m-20 5h0m-28 0h0m-28-7h0m-21 3h0m-7 4h0m-8-1h0m-2-5h0m-8 1h0m-54 1h0m-1 4h0m-16-1h0m-14-3h0m-17 5h0m-12-8h0m7 13h0m53 2h0m49-1h0m1-6h0m8 2h0m4 5h0m16 0h0m54-1h0m33-5h0m45-1h0m36 8h0m91 0h0m13-3h0m14 8h0m-5 7h0m-13-5h0m-19 5h0m-45 0h0m-17-7h0m-40-2h0m-45 1h0m-4 6h0m-2-5h0m-40 1h0m-8-2h0m-29 0h0m-3 6h0m-51-4h0m-37 0h0m-33 0h0m-24 5h0m4 7h0m7 2h0m27-8h0m49 7h0m39 1h0m23 0h0m35-1h0m7-1h0m6-6h0m4 6h0m75 2h0m139-1h0m5 1h0m10-3h0m7 13h0m-28-6h0m-183 0h0m-16 8h0m-5-5h0m-52-3h0m-13 7h0m-18-6h0m-16 0h0m-32 1h0m-1 6h0m-11-7h0m23 15h0m12-2h0m40-1h0m7 0h0m2-4h0m28 4h0m48-4h0m62-1h0m13 7h0m22-1h0m12-5h0m55 6h0m10-1h0m6 2h0m28-7h0m0 4h0m0 6h0m-19 7h0m-66-5h0m-13 0h0m-7 4h0m-21 3h0m-26-8h0m-56 0h0m-39 6h0m-36-5h0m-4 5h0m-6 2h0m-6-9h0m-11 7h0m-4-6h0m-80 6h0m-11-7h0m-1 10h0m16 5h0m6-5h0m84 5h0m16 0h0m47 1h0m7-3h0m91 3h0m7-2h0m20-4h0m10 4h0m39 2h0m74 5h0m-41 2h0m-66 0h0m-10-2h0m-48 6h0m-94-7h0m-96 8h0m-11-5h0m-3 3h0m200 8h0m43-5h0m6 0h0m7 1h0m13 3h0m70 2h0m22-1h0m5 9h0m-8-2h0m-15-1h0m-5 7h0m-20-6h0m-62 2h0m-10 5h0m-212 1h0m-25-3h0m127 9h0m60 0h0m30-2h0m22 0h0m26 0h0m83 2h0m-2 13h0m-12-6h0m-6-2h0m-23 0h0m-115 2h0m-22 0h0m-10 5h0m-18-4h0m-14 4h0m-109-6h0m-6 6h0m-23-4h0m-6 3h0m-7 3h0m3 6h0m30 1h0m10-1h0m6-3h0m30 0h0m121 3h0m37-1h0m11 1h0m13-3h0m77 1h0m6-4h0m30 7h0m-1 5h0m-11 7h0m-83 0h0m-52-6h0m-22 0h0m-136 1h0m-4 6h0m-20-10h0m-6 2h0m-37 5h0m-2-7h0m2 13h0m20 3h0m31-1h0m24-1h0m130 0h0m81 0h0m70 2h0m6 11h0m-12-6h0m-82-1h0m-25 2h0m-1 6h0m-150-6h0m-1 6h0m-32 0h0m-14 0h0m-36-8h0m-20 7h0m57 9h0m7 3h0m3-5h0m12 5h0m11-5h0m5-1h0m8 2h0m136 2h0m9-3h0m16 1h0m76-1h0m22-1h0m-3 8h0m-6 8h0m-8-6h0m-21 5h0m-38-2h0m-5-5h0m-4 6h0m-14-1h0m-26-4h0m-6 0h0m-126 5h0m-34-6h0m-6 8h0m-5 0h0m-3-7h0m-17-2h0m-8 2h0m-3 6h0m-5-5h0m-26 16h0m45 0h0m26-6h0m143 6h0m17-5h0m70 2h0m15-3h0m24 3h0m25 3h0m-4 9h0m-35-6h0m-34 4h0m-4-4h0m-10 7h0m-35-8h0m-33 8h0m-7-8h0m-87 5h0m-9-5h0m-7 1h0m-12 6h0m-30 0h0m-17-2h0m-7 3h0m2 6h0m4 5h0m21-7h0m6 2h0m16-1h0m22-1h0m15 0h0m107 0h0m111 9h0m-2 6h0m-24-2h0m-22-5h0m-2 6h0m-30 0h0m-27-6h0m-34 6h0m-88-5h0m-6-1h0m-13 6h0m-37 1h0m-21-7h0m-8 7h0m-13-7h0m-8 0h0m14 11h0m63 0h0m19 8h0m116-7h0m23 0h0m16 1h0m16-1h0m84 0h0m8-1h0m-10 16h0m-5-2h0m-6-5h0m-3 7h0m-15-1h0m-40 1h0m-1-6h0m-19 3h0m-39 3h0m-25-2h0m-49 1h0m-37-6h0m-13 7h0m-6-1h0m-3-7h0m-30 2h0m-21 5h0m-19 1h0m24 4h0m6 3h0m38-1h0m4 5h0m9-1h0m21-6h0m75 0h0m63 6h0m8 1h0m35-7h0m37 0h0m-39 10h0m-8 4h0m-19-5h0m-10 6h0m-6 1h0m-71 0h0m-17-7h0m-36 8h0m-44-2h0m-22 1h0m-24-1h0m-17-6h0m-9 13h0m5 6h0m16-6h0m60 4h0m23-5h0m17 0h0m113-2h0m14 9h0m14-1h0m6 1h0m23 0h0m18-1h0m-57 9h0m-8-3h0m-8 2h0m-16 1h0m-16 0h0m-28-8h0m-58 2h0m-83-1h0m-7 6h0m-9-6h0m-26 18h0m33-6h0m13 7h0m4-6h0m15-1h0m6 1h0m56 4h0m11 0h0m1-4h0m32-1h0m10 5h0m29-4h0m37 0h0m7-2h0m25 9h0m-34 7h0m-5-1h0m-98-6h0m-9 6h0m-10-1h0m-37 0h0m-39 2h0m-17-6h0m-12 3h0m-12 9h0m6-1h0m10-2h0m14 1h0m10 0h0m8 7h0m22-6h0m3 5h0m86-5h0m9 0h0m15-1h0m23 0h0m23-1h0m5 1h0m-213 16h0m-14-1h0" fill="none" stroke="#fff" stroke-width="10" stroke-linecap="round"/></g></mask>
</defs>
<g transform="translate(1057 986)">
<g mask="url(#fM0)"><rect x="-4" y="-4" width="248" height="294" fill="#1c3769"/><g filter="url(#bl5)">
<path d="M68.8 49.8L94.5 45.5L120.2 49.8L133.1 64.8L137.4 92.7L133.1 127L120.2 148.4L98.8 157L77.4 154.9L60.2 139.9L53.8 114.1L54.8 84.1L58.1 62.6Z" fill="#1c3b6f"/>
<ellipse cx="72" cy="110" rx="14" ry="40" fill="#1c3e74"/>
<ellipse cx="95" cy="70" rx="20" ry="16" fill="#1c3e74"/>
<path d="M13 54L38.8 45.5L58 49.8L56 84L54.8 114L60.2 139.9L53.8 152.7L25.9 157L10.9 135.6L4.4 103.4L5.5 71.2Z" fill="#1c386a"/>
<path d="M53.8 167.7L73.1 169.9L88.1 189.2L94.5 210.6L90.2 232.1L94.5 253.5L90.2 275L73.1 280.3L47.3 279.3L38.8 264.2L43 238.5L34.5 225.6L29.1 206.3L34.5 189.2L40.9 174.2Z" fill="#1c3d72"/>
<ellipse cx="55" cy="200" rx="18" ry="20" fill="#1c3e74"/>
<ellipse cx="68" cy="262" rx="16" ry="16" fill="#1c3f75"/>
<path d="M215 100L218 157L212 205L195 240" fill="none" stroke="#1c3a6d" stroke-width="22" stroke-linecap="round" stroke-linejoin="round"/>
<path d="M185 250L150 264L112 258" fill="none" stroke="#1c386a" stroke-width="20" stroke-linecap="round" stroke-linejoin="round"/>
<path d="M150 118L168 140L160 175L150 200L150 240" fill="none" stroke="#1c3768" stroke-width="18" stroke-linecap="round" stroke-linejoin="round"/>
<ellipse cx="185" cy="215" rx="14" ry="14" fill="#1c3d72"/>
<path d="M70 35L109.5 5.5L154.6 14.8L163 30" fill="none" stroke="#1c3667" stroke-width="10" stroke-linecap="round" stroke-linejoin="round"/>
<path d="M171.7 39L193 56L176 75.5L141.7 64.8" fill="none" stroke="#1c3667" stroke-width="10" stroke-linecap="round" stroke-linejoin="round"/>
<ellipse cx="152" cy="90" rx="18" ry="20" fill="#1c3a6d"/>
</g></g>
<g mask="url(#fM1)"><rect x="-4" y="-4" width="248" height="294" fill="#1b457f"/><g filter="url(#bl5)">
<path d="M68.8 49.8L94.5 45.5L120.2 49.8L133.1 64.8L137.4 92.7L133.1 127L120.2 148.4L98.8 157L77.4 154.9L60.2 139.9L53.8 114.1L54.8 84.1L58.1 62.6Z" fill="#205c9d"/>
<ellipse cx="72" cy="110" rx="14" ry="40" fill="#2469ad"/>
<ellipse cx="95" cy="70" rx="20" ry="16" fill="#2469ad"/>
<path d="M13 54L38.8 45.5L58 49.8L56 84L54.8 114L60.2 139.9L53.8 152.7L25.9 157L10.9 135.6L4.4 103.4L5.5 71.2Z" fill="#1b4a86"/>
<path d="M53.8 167.7L73.1 169.9L88.1 189.2L94.5 210.6L90.2 232.1L94.5 253.5L90.2 275L73.1 280.3L47.3 279.3L38.8 264.2L43 238.5L34.5 225.6L29.1 206.3L34.5 189.2L40.9 174.2Z" fill="#2266a9"/>
<ellipse cx="55" cy="200" rx="18" ry="20" fill="#2469ad"/>
<ellipse cx="68" cy="262" rx="16" ry="16" fill="#286fb0"/>
<path d="M215 100L218 157L212 205L195 240" fill="none" stroke="#1d5493" stroke-width="22" stroke-linecap="round" stroke-linejoin="round"/>
<path d="M185 250L150 264L112 258" fill="none" stroke="#1b4c8a" stroke-width="20" stroke-linecap="round" stroke-linejoin="round"/>
<path d="M150 118L168 140L160 175L150 200L150 240" fill="none" stroke="#1b447d" stroke-width="18" stroke-linecap="round" stroke-linejoin="round"/>
<ellipse cx="185" cy="215" rx="14" ry="14" fill="#2266a9"/>
<path d="M70 35L109.5 5.5L154.6 14.8L163 30" fill="none" stroke="#1b4179" stroke-width="10" stroke-linecap="round" stroke-linejoin="round"/>
<path d="M171.7 39L193 56L176 75.5L141.7 64.8" fill="none" stroke="#1b4179" stroke-width="10" stroke-linecap="round" stroke-linejoin="round"/>
<ellipse cx="152" cy="90" rx="18" ry="20" fill="#1d5493"/>
</g></g>
<g mask="url(#fM2)"><rect x="-4" y="-4" width="248" height="294" fill="#1d5292"/><g filter="url(#bl5)">
<path d="M68.8 49.8L94.5 45.5L120.2 49.8L133.1 64.8L137.4 92.7L133.1 127L120.2 148.4L98.8 157L77.4 154.9L60.2 139.9L53.8 114.1L54.8 84.1L58.1 62.6Z" fill="#337eb8"/>
<ellipse cx="72" cy="110" rx="14" ry="40" fill="#4e9ac7"/>
<ellipse cx="95" cy="70" rx="20" ry="16" fill="#4e9ac7"/>
<path d="M13 54L38.8 45.5L58 49.8L56 84L54.8 114L60.2 139.9L53.8 152.7L25.9 157L10.9 135.6L4.4 103.4L5.5 71.2Z" fill="#1f599a"/>
<path d="M53.8 167.7L73.1 169.9L88.1 189.2L94.5 210.6L90.2 232.1L94.5 253.5L90.2 275L73.1 280.3L47.3 279.3L38.8 264.2L43 238.5L34.5 225.6L29.1 206.3L34.5 189.2L40.9 174.2Z" fill="#4393c3"/>
<ellipse cx="55" cy="200" rx="18" ry="20" fill="#4e9ac7"/>
<ellipse cx="68" cy="262" rx="16" ry="16" fill="#5ea4cc"/>
<path d="M215 100L218 157L212 205L195 240" fill="none" stroke="#256bae" stroke-width="22" stroke-linecap="round" stroke-linejoin="round"/>
<path d="M185 250L150 264L112 258" fill="none" stroke="#205d9f" stroke-width="20" stroke-linecap="round" stroke-linejoin="round"/>
<path d="M150 118L168 140L160 175L150 200L150 240" fill="none" stroke="#1c508f" stroke-width="18" stroke-linecap="round" stroke-linejoin="round"/>
<ellipse cx="185" cy="215" rx="14" ry="14" fill="#4393c3"/>
<path d="M70 35L109.5 5.5L154.6 14.8L163 30" fill="none" stroke="#1b4c8a" stroke-width="10" stroke-linecap="round" stroke-linejoin="round"/>
<path d="M171.7 39L193 56L176 75.5L141.7 64.8" fill="none" stroke="#1b4c8a" stroke-width="10" stroke-linecap="round" stroke-linejoin="round"/>
<ellipse cx="152" cy="90" rx="18" ry="20" fill="#256bae"/>
</g></g>
<g mask="url(#fM3)"><rect x="-4" y="-4" width="248" height="294" fill="#205ea0"/><g filter="url(#bl5)">
<path d="M68.8 49.8L94.5 45.5L120.2 49.8L133.1 64.8L137.4 92.7L133.1 127L120.2 148.4L98.8 157L77.4 154.9L60.2 139.9L53.8 114.1L54.8 84.1L58.1 62.6Z" fill="#59a1ca"/>
<ellipse cx="72" cy="110" rx="14" ry="40" fill="#97c8df"/>
<ellipse cx="95" cy="70" rx="20" ry="16" fill="#97c8df"/>
<path d="M13 54L38.8 45.5L58 49.8L56 84L54.8 114L60.2 139.9L53.8 152.7L25.9 157L10.9 135.6L4.4 103.4L5.5 71.2Z" fill="#2368ac"/>
<path d="M53.8 167.7L73.1 169.9L88.1 189.2L94.5 210.6L90.2 232.1L94.5 253.5L90.2 275L73.1 280.3L47.3 279.3L38.8 264.2L43 238.5L34.5 225.6L29.1 206.3L34.5 189.2L40.9 174.2Z" fill="#87beda"/>
<ellipse cx="55" cy="200" rx="18" ry="20" fill="#97c8df"/>
<ellipse cx="68" cy="262" rx="16" ry="16" fill="#abd2e5"/>
<path d="M215 100L218 157L212 205L195 240" fill="none" stroke="#3a87bc" stroke-width="22" stroke-linecap="round" stroke-linejoin="round"/>
<path d="M185 250L150 264L112 258" fill="none" stroke="#2970b0" stroke-width="20" stroke-linecap="round" stroke-linejoin="round"/>
<path d="M150 118L168 140L160 175L150 200L150 240" fill="none" stroke="#1f5b9c" stroke-width="18" stroke-linecap="round" stroke-linejoin="round"/>
<ellipse cx="185" cy="215" rx="14" ry="14" fill="#87beda"/>
<path d="M70 35L109.5 5.5L154.6 14.8L163 30" fill="none" stroke="#1e5595" stroke-width="10" stroke-linecap="round" stroke-linejoin="round"/>
<path d="M171.7 39L193 56L176 75.5L141.7 64.8" fill="none" stroke="#1e5595" stroke-width="10" stroke-linecap="round" stroke-linejoin="round"/>
<ellipse cx="152" cy="90" rx="18" ry="20" fill="#3a87bc"/>
</g></g>
<circle cx="61.1" cy="188.6" r="2.3" fill="#b2182b"/>
<circle cx="77.2" cy="80.4" r="2.3" fill="#fbe3d4"/>
<circle cx="96.4" cy="66.4" r="2.3" fill="#fddbc7"/>
<circle cx="47.7" cy="199.1" r="2.3" fill="#fbe3d4"/>
<circle cx="76" cy="136.3" r="2.3" fill="#fbe3d4"/>
<circle cx="65.3" cy="252.1" r="2.3" fill="#fbe3d4"/>
<circle cx="57.4" cy="195.9" r="2.3" fill="#f4a582"/>
<circle cx="102.4" cy="63.6" r="2.3" fill="#f4a582"/>
<circle cx="66.5" cy="264.2" r="2.3" fill="#b2182b"/>
<circle cx="97.1" cy="80.6" r="2.3" fill="#fddbc7"/>
</g>
<g transform="translate(1334.9 986)">
<g mask="url(#fM0)"><rect x="-4" y="-4" width="248" height="294" fill="#1c386a"/><g filter="url(#bl5)">
<path d="M68.8 49.8L94.5 45.5L120.2 49.8L133.1 64.8L137.4 92.7L133.1 127L120.2 148.4L98.8 157L77.4 154.9L60.2 139.9L53.8 114.1L54.8 84.1L58.1 62.6Z" fill="#1c3e73"/>
<ellipse cx="72" cy="110" rx="14" ry="40" fill="#1c3f76"/>
<ellipse cx="95" cy="70" rx="20" ry="16" fill="#1c3f75"/>
<path d="M13 54L38.8 45.5L58 49.8L56 84L54.8 114L60.2 139.9L53.8 152.7L25.9 157L10.9 135.6L4.4 103.4L5.5 71.2Z" fill="#1c3a6d"/>
<path d="M53.8 167.7L73.1 169.9L88.1 189.2L94.5 210.6L90.2 232.1L94.5 253.5L90.2 275L73.1 280.3L47.3 279.3L38.8 264.2L43 238.5L34.5 225.6L29.1 206.3L34.5 189.2L40.9 174.2Z" fill="#1c3f75"/>
<ellipse cx="55" cy="200" rx="18" ry="20" fill="#1b4078"/>
<ellipse cx="68" cy="262" rx="16" ry="16" fill="#1c3e74"/>
<path d="M215 100L218 157L212 205L195 240" fill="none" stroke="#1c3c71" stroke-width="22" stroke-linecap="round" stroke-linejoin="round"/>
<path d="M185 250L150 264L112 258" fill="none" stroke="#1c3a6d" stroke-width="20" stroke-linecap="round" stroke-linejoin="round"/>
<path d="M150 118L168 140L160 175L150 200L150 240" fill="none" stroke="#1c3a6d" stroke-width="18" stroke-linecap="round" stroke-linejoin="round"/>
<ellipse cx="185" cy="215" rx="14" ry="14" fill="#1c3c71"/>
<path d="M70 35L109.5 5.5L154.6 14.8L163 30" fill="none" stroke="#1c3a6d" stroke-width="10" stroke-linecap="round" stroke-linejoin="round"/>
<path d="M171.7 39L193 56L176 75.5L141.7 64.8" fill="none" stroke="#1c3a6d" stroke-width="10" stroke-linecap="round" stroke-linejoin="round"/>
<ellipse cx="152" cy="90" rx="18" ry="20" fill="#1c3b70"/>
</g></g>
<g mask="url(#fM1)"><rect x="-4" y="-4" width="248" height="294" fill="#1b4c8a"/><g filter="url(#bl5)">
<path d="M68.8 49.8L94.5 45.5L120.2 49.8L133.1 64.8L137.4 92.7L133.1 127L120.2 148.4L98.8 157L77.4 154.9L60.2 139.9L53.8 114.1L54.8 84.1L58.1 62.6Z" fill="#2368ac"/>
<ellipse cx="72" cy="110" rx="14" ry="40" fill="#2a72b1"/>
<ellipse cx="95" cy="70" rx="20" ry="16" fill="#286fb0"/>
<path d="M13 54L38.8 45.5L58 49.8L56 84L54.8 114L60.2 139.9L53.8 152.7L25.9 157L10.9 135.6L4.4 103.4L5.5 71.2Z" fill="#1e5595"/>
<path d="M53.8 167.7L73.1 169.9L88.1 189.2L94.5 210.6L90.2 232.1L94.5 253.5L90.2 275L73.1 280.3L47.3 279.3L38.8 264.2L43 238.5L34.5 225.6L29.1 206.3L34.5 189.2L40.9 174.2Z" fill="#286fb0"/>
<ellipse cx="55" cy="200" rx="18" ry="20" fill="#3079b5"/>
<ellipse cx="68" cy="262" rx="16" ry="16" fill="#266cae"/>
<path d="M215 100L218 157L212 205L195 240" fill="none" stroke="#2160a2" stroke-width="22" stroke-linecap="round" stroke-linejoin="round"/>
<path d="M185 250L150 264L112 258" fill="none" stroke="#1e5595" stroke-width="20" stroke-linecap="round" stroke-linejoin="round"/>
<path d="M150 118L168 140L160 175L150 200L150 240" fill="none" stroke="#1e5595" stroke-width="18" stroke-linecap="round" stroke-linejoin="round"/>
<ellipse cx="185" cy="215" rx="14" ry="14" fill="#2162a5"/>
<path d="M70 35L109.5 5.5L154.6 14.8L163 30" fill="none" stroke="#1e5595" stroke-width="10" stroke-linecap="round" stroke-linejoin="round"/>
<path d="M171.7 39L193 56L176 75.5L141.7 64.8" fill="none" stroke="#1e5595" stroke-width="10" stroke-linecap="round" stroke-linejoin="round"/>
<ellipse cx="152" cy="90" rx="18" ry="20" fill="#205d9f"/>
</g></g>
<g mask="url(#fM2)"><rect x="-4" y="-4" width="248" height="294" fill="#205d9f"/><g filter="url(#bl5)">
<path d="M68.8 49.8L94.5 45.5L120.2 49.8L133.1 64.8L137.4 92.7L133.1 127L120.2 148.4L98.8 157L77.4 154.9L60.2 139.9L53.8 114.1L54.8 84.1L58.1 62.6Z" fill="#4a98c5"/>
<ellipse cx="72" cy="110" rx="14" ry="40" fill="#66a9cf"/>
<ellipse cx="95" cy="70" rx="20" ry="16" fill="#5ea4cc"/>
<path d="M13 54L38.8 45.5L58 49.8L56 84L54.8 114L60.2 139.9L53.8 152.7L25.9 157L10.9 135.6L4.4 103.4L5.5 71.2Z" fill="#276eaf"/>
<path d="M53.8 167.7L73.1 169.9L88.1 189.2L94.5 210.6L90.2 232.1L94.5 253.5L90.2 275L73.1 280.3L47.3 279.3L38.8 264.2L43 238.5L34.5 225.6L29.1 206.3L34.5 189.2L40.9 174.2Z" fill="#5ea4cc"/>
<ellipse cx="55" cy="200" rx="18" ry="20" fill="#7ab6d6"/>
<ellipse cx="68" cy="262" rx="16" ry="16" fill="#569fca"/>
<path d="M215 100L218 157L212 205L195 240" fill="none" stroke="#3985bc" stroke-width="22" stroke-linecap="round" stroke-linejoin="round"/>
<path d="M185 250L150 264L112 258" fill="none" stroke="#276eaf" stroke-width="20" stroke-linecap="round" stroke-linejoin="round"/>
<path d="M150 118L168 140L160 175L150 200L150 240" fill="none" stroke="#276eaf" stroke-width="18" stroke-linecap="round" stroke-linejoin="round"/>
<ellipse cx="185" cy="215" rx="14" ry="14" fill="#3d8bbf"/>
<path d="M70 35L109.5 5.5L154.6 14.8L163 30" fill="none" stroke="#276eaf" stroke-width="10" stroke-linecap="round" stroke-linejoin="round"/>
<path d="M171.7 39L193 56L176 75.5L141.7 64.8" fill="none" stroke="#276eaf" stroke-width="10" stroke-linecap="round" stroke-linejoin="round"/>
<ellipse cx="152" cy="90" rx="18" ry="20" fill="#3580b9"/>
</g></g>
<g mask="url(#fM3)"><rect x="-4" y="-4" width="248" height="294" fill="#2970b0"/><g filter="url(#bl5)">
<path d="M68.8 49.8L94.5 45.5L120.2 49.8L133.1 64.8L137.4 92.7L133.1 127L120.2 148.4L98.8 157L77.4 154.9L60.2 139.9L53.8 114.1L54.8 84.1L58.1 62.6Z" fill="#92c5de"/>
<ellipse cx="72" cy="110" rx="14" ry="40" fill="#b5d7e8"/>
<ellipse cx="95" cy="70" rx="20" ry="16" fill="#abd2e5"/>
<path d="M13 54L38.8 45.5L58 49.8L56 84L54.8 114L60.2 139.9L53.8 152.7L25.9 157L10.9 135.6L4.4 103.4L5.5 71.2Z" fill="#3d8abe"/>
<path d="M53.8 167.7L73.1 169.9L88.1 189.2L94.5 210.6L90.2 232.1L94.5 253.5L90.2 275L73.1 280.3L47.3 279.3L38.8 264.2L43 238.5L34.5 225.6L29.1 206.3L34.5 189.2L40.9 174.2Z" fill="#abd2e5"/>
<ellipse cx="55" cy="200" rx="18" ry="20" fill="#cee4ef"/>
<ellipse cx="68" cy="262" rx="16" ry="16" fill="#a1cde2"/>
<path d="M215 100L218 157L212 205L195 240" fill="none" stroke="#6aacd0" stroke-width="22" stroke-linecap="round" stroke-linejoin="round"/>
<path d="M185 250L150 264L112 258" fill="none" stroke="#3d8abe" stroke-width="20" stroke-linecap="round" stroke-linejoin="round"/>
<path d="M150 118L168 140L160 175L150 200L150 240" fill="none" stroke="#3d8abe" stroke-width="18" stroke-linecap="round" stroke-linejoin="round"/>
<ellipse cx="185" cy="215" rx="14" ry="14" fill="#75b3d4"/>
<path d="M70 35L109.5 5.5L154.6 14.8L163 30" fill="none" stroke="#3d8abe" stroke-width="10" stroke-linecap="round" stroke-linejoin="round"/>
<path d="M171.7 39L193 56L176 75.5L141.7 64.8" fill="none" stroke="#3d8abe" stroke-width="10" stroke-linecap="round" stroke-linejoin="round"/>
<ellipse cx="152" cy="90" rx="18" ry="20" fill="#5ea4cc"/>
</g></g>
<circle cx="63.8" cy="83" r="2.3" fill="#f4a582"/>
<circle cx="50.6" cy="264.2" r="2.3" fill="#f4a582"/>
<circle cx="121" cy="64.8" r="2.3" fill="#f7f7f7"/>
<circle cx="120.9" cy="96.8" r="2.3" fill="#f7f7f7"/>
<circle cx="79" cy="261.8" r="2.3" fill="#fbe3d4"/>
<circle cx="94.2" cy="123.9" r="2.3" fill="#f4a582"/>
<circle cx="100" cy="67" r="2.3" fill="#f4a582"/>
<circle cx="43.1" cy="178.4" r="2.3" fill="#d6604d"/>
<circle cx="46.2" cy="275" r="2.3" fill="#d6604d"/>
<circle cx="61.4" cy="201.4" r="2.3" fill="#f4a582"/>
<circle cx="86.7" cy="109.3" r="2.3" fill="#f4a582"/>
<circle cx="111.3" cy="67.6" r="2.3" fill="#b2182b"/>
<circle cx="69.6" cy="132.3" r="2.3" fill="#fbe3d4"/>
<circle cx="90" cy="123.2" r="2.3" fill="#f4a582"/>
<circle cx="117.6" cy="142.1" r="2.3" fill="#f4a582"/>
<circle cx="103.5" cy="140.6" r="2.3" fill="#fddbc7"/>
<circle cx="86.2" cy="58" r="2.3" fill="#f7f7f7"/>
<circle cx="66.6" cy="107.2" r="2.3" fill="#f7f7f7"/>
<circle cx="114.9" cy="81" r="2.3" fill="#f4a582"/>
<circle cx="51.6" cy="252.2" r="2.3" fill="#f7f7f7"/>
<circle cx="55.9" cy="174.9" r="2.3" fill="#fddbc7"/>
<circle cx="132.5" cy="123.4" r="2.3" fill="#d6604d"/>
</g>
<g transform="translate(1625.8 986)">
<g mask="url(#fM0)"><rect x="-4" y="-4" width="248" height="294" fill="#1c3668"/><g filter="url(#bl5)">
<path d="M68.8 49.8L94.5 45.5L120.2 49.8L133.1 64.8L137.4 92.7L133.1 127L120.2 148.4L98.8 157L77.4 154.9L60.2 139.9L53.8 114.1L54.8 84.1L58.1 62.6Z" fill="#1c3a6e"/>
<ellipse cx="72" cy="110" rx="14" ry="40" fill="#1c3b6f"/>
<ellipse cx="95" cy="70" rx="20" ry="16" fill="#1c3c71"/>
<path d="M13 54L38.8 45.5L58 49.8L56 84L54.8 114L60.2 139.9L53.8 152.7L25.9 157L10.9 135.6L4.4 103.4L5.5 71.2Z" fill="#1c3667"/>
<path d="M53.8 167.7L73.1 169.9L88.1 189.2L94.5 210.6L90.2 232.1L94.5 253.5L90.2 275L73.1 280.3L47.3 279.3L38.8 264.2L43 238.5L34.5 225.6L29.1 206.3L34.5 189.2L40.9 174.2Z" fill="#1c3b70"/>
<ellipse cx="55" cy="200" rx="18" ry="20" fill="#1b437c"/>
<ellipse cx="68" cy="262" rx="16" ry="16" fill="#1c3a6e"/>
<path d="M215 100L218 157L212 205L195 240" fill="none" stroke="#1c3769" stroke-width="22" stroke-linecap="round" stroke-linejoin="round"/>
<path d="M185 250L150 264L112 258" fill="none" stroke="#1c3768" stroke-width="20" stroke-linecap="round" stroke-linejoin="round"/>
<path d="M150 118L168 140L160 175L150 200L150 240" fill="none" stroke="#1c3667" stroke-width="18" stroke-linecap="round" stroke-linejoin="round"/>
<ellipse cx="185" cy="215" rx="14" ry="14" fill="#1c386a"/>
<path d="M70 35L109.5 5.5L154.6 14.8L163 30" fill="none" stroke="#1c386b" stroke-width="10" stroke-linecap="round" stroke-linejoin="round"/>
<path d="M171.7 39L193 56L176 75.5L141.7 64.8" fill="none" stroke="#1c386a" stroke-width="10" stroke-linecap="round" stroke-linejoin="round"/>
<ellipse cx="152" cy="90" rx="18" ry="20" fill="#1c386a"/>
</g></g>
<g mask="url(#fM1)"><rect x="-4" y="-4" width="248" height="294" fill="#1b427b"/><g filter="url(#bl5)">
<path d="M68.8 49.8L94.5 45.5L120.2 49.8L133.1 64.8L137.4 92.7L133.1 127L120.2 148.4L98.8 157L77.4 154.9L60.2 139.9L53.8 114.1L54.8 84.1L58.1 62.6Z" fill="#1f5899"/>
<ellipse cx="72" cy="110" rx="14" ry="40" fill="#1f5b9c"/>
<ellipse cx="95" cy="70" rx="20" ry="16" fill="#2160a2"/>
<path d="M13 54L38.8 45.5L58 49.8L56 84L54.8 114L60.2 139.9L53.8 152.7L25.9 157L10.9 135.6L4.4 103.4L5.5 71.2Z" fill="#1b4179"/>
<path d="M53.8 167.7L73.1 169.9L88.1 189.2L94.5 210.6L90.2 232.1L94.5 253.5L90.2 275L73.1 280.3L47.3 279.3L38.8 264.2L43 238.5L34.5 225.6L29.1 206.3L34.5 189.2L40.9 174.2Z" fill="#205d9f"/>
<ellipse cx="55" cy="200" rx="18" ry="20" fill="#3a88bd"/>
<ellipse cx="68" cy="262" rx="16" ry="16" fill="#1e5798"/>
<path d="M215 100L218 157L212 205L195 240" fill="none" stroke="#1b4782" stroke-width="22" stroke-linecap="round" stroke-linejoin="round"/>
<path d="M185 250L150 264L112 258" fill="none" stroke="#1b447d" stroke-width="20" stroke-linecap="round" stroke-linejoin="round"/>
<path d="M150 118L168 140L160 175L150 200L150 240" fill="none" stroke="#1c3e74" stroke-width="18" stroke-linecap="round" stroke-linejoin="round"/>
<ellipse cx="185" cy="215" rx="14" ry="14" fill="#1b4a86"/>
<path d="M70 35L109.5 5.5L154.6 14.8L163 30" fill="none" stroke="#1b4e8c" stroke-width="10" stroke-linecap="round" stroke-linejoin="round"/>
<path d="M171.7 39L193 56L176 75.5L141.7 64.8" fill="none" stroke="#1b4a86" stroke-width="10" stroke-linecap="round" stroke-linejoin="round"/>
<ellipse cx="152" cy="90" rx="18" ry="20" fill="#1b4c8a"/>
</g></g>
<g mask="url(#fM2)"><rect x="-4" y="-4" width="248" height="294" fill="#1c4e8c"/><g filter="url(#bl5)">
<path d="M68.8 49.8L94.5 45.5L120.2 49.8L133.1 64.8L137.4 92.7L133.1 127L120.2 148.4L98.8 157L77.4 154.9L60.2 139.9L53.8 114.1L54.8 84.1L58.1 62.6Z" fill="#2d76b3"/>
<ellipse cx="72" cy="110" rx="14" ry="40" fill="#317bb6"/>
<ellipse cx="95" cy="70" rx="20" ry="16" fill="#3985bc"/>
<path d="M13 54L38.8 45.5L58 49.8L56 84L54.8 114L60.2 139.9L53.8 152.7L25.9 157L10.9 135.6L4.4 103.4L5.5 71.2Z" fill="#1b4c8a"/>
<path d="M53.8 167.7L73.1 169.9L88.1 189.2L94.5 210.6L90.2 232.1L94.5 253.5L90.2 275L73.1 280.3L47.3 279.3L38.8 264.2L43 238.5L34.5 225.6L29.1 206.3L34.5 189.2L40.9 174.2Z" fill="#3580b9"/>
<ellipse cx="55" cy="200" rx="18" ry="20" fill="#9fcce2"/>
<ellipse cx="68" cy="262" rx="16" ry="16" fill="#2b73b2"/>
<path d="M215 100L218 157L212 205L195 240" fill="none" stroke="#1d5594" stroke-width="22" stroke-linecap="round" stroke-linejoin="round"/>
<path d="M185 250L150 264L112 258" fill="none" stroke="#1c508f" stroke-width="20" stroke-linecap="round" stroke-linejoin="round"/>
<path d="M150 118L168 140L160 175L150 200L150 240" fill="none" stroke="#1b4681" stroke-width="18" stroke-linecap="round" stroke-linejoin="round"/>
<ellipse cx="185" cy="215" rx="14" ry="14" fill="#1f599a"/>
<path d="M70 35L109.5 5.5L154.6 14.8L163 30" fill="none" stroke="#2160a2" stroke-width="10" stroke-linecap="round" stroke-linejoin="round"/>
<path d="M171.7 39L193 56L176 75.5L141.7 64.8" fill="none" stroke="#1f599a" stroke-width="10" stroke-linecap="round" stroke-linejoin="round"/>
<ellipse cx="152" cy="90" rx="18" ry="20" fill="#205d9f"/>
</g></g>
<g mask="url(#fM3)"><rect x="-4" y="-4" width="248" height="294" fill="#1e5899"/><g filter="url(#bl5)">
<path d="M68.8 49.8L94.5 45.5L120.2 49.8L133.1 64.8L137.4 92.7L133.1 127L120.2 148.4L98.8 157L77.4 154.9L60.2 139.9L53.8 114.1L54.8 84.1L58.1 62.6Z" fill="#4796c4"/>
<ellipse cx="72" cy="110" rx="14" ry="40" fill="#539dc8"/>
<ellipse cx="95" cy="70" rx="20" ry="16" fill="#6aacd0"/>
<path d="M13 54L38.8 45.5L58 49.8L56 84L54.8 114L60.2 139.9L53.8 152.7L25.9 157L10.9 135.6L4.4 103.4L5.5 71.2Z" fill="#1e5595"/>
<path d="M53.8 167.7L73.1 169.9L88.1 189.2L94.5 210.6L90.2 232.1L94.5 253.5L90.2 275L73.1 280.3L47.3 279.3L38.8 264.2L43 238.5L34.5 225.6L29.1 206.3L34.5 189.2L40.9 174.2Z" fill="#5ea4cc"/>
<ellipse cx="55" cy="200" rx="18" ry="20" fill="#f5f6f7"/>
<ellipse cx="68" cy="262" rx="16" ry="16" fill="#4292c2"/>
<path d="M215 100L218 157L212 205L195 240" fill="none" stroke="#2162a4" stroke-width="22" stroke-linecap="round" stroke-linejoin="round"/>
<path d="M185 250L150 264L112 258" fill="none" stroke="#1f5b9c" stroke-width="20" stroke-linecap="round" stroke-linejoin="round"/>
<path d="M150 118L168 140L160 175L150 200L150 240" fill="none" stroke="#1c4e8d" stroke-width="18" stroke-linecap="round" stroke-linejoin="round"/>
<ellipse cx="185" cy="215" rx="14" ry="14" fill="#2368ac"/>
<path d="M70 35L109.5 5.5L154.6 14.8L163 30" fill="none" stroke="#2c73b2" stroke-width="10" stroke-linecap="round" stroke-linejoin="round"/>
<path d="M171.7 39L193 56L176 75.5L141.7 64.8" fill="none" stroke="#2368ac" stroke-width="10" stroke-linecap="round" stroke-linejoin="round"/>
<ellipse cx="152" cy="90" rx="18" ry="20" fill="#2970b0"/>
</g></g>
<circle cx="58.2" cy="219.7" r="2.3" fill="#fddbc7"/>
<circle cx="68.4" cy="189.2" r="2.3" fill="#f4a582"/>
<circle cx="70.4" cy="205.5" r="2.3" fill="#fbe3d4"/>
<circle cx="42.6" cy="199.1" r="2.3" fill="#f4a582"/>
<circle cx="60.2" cy="195.6" r="2.3" fill="#67001f"/>
<circle cx="47.6" cy="192.4" r="2.3" fill="#fddbc7"/>
</g>
<g transform="translate(1057 1293.5)">
<g mask="url(#fM0)"><rect x="-4" y="-4" width="248" height="294" fill="#1c396c"/><g filter="url(#bl5)">
<path d="M68.8 49.8L94.5 45.5L120.2 49.8L133.1 64.8L137.4 92.7L133.1 127L120.2 148.4L98.8 157L77.4 154.9L60.2 139.9L53.8 114.1L54.8 84.1L58.1 62.6Z" fill="#1c3f75"/>
<ellipse cx="72" cy="110" rx="14" ry="40" fill="#1b427a"/>
<ellipse cx="95" cy="70" rx="20" ry="16" fill="#1b4178"/>
<path d="M13 54L38.8 45.5L58 49.8L56 84L54.8 114L60.2 139.9L53.8 152.7L25.9 157L10.9 135.6L4.4 103.4L5.5 71.2Z" fill="#1c3a6e"/>
<path d="M53.8 167.7L73.1 169.9L88.1 189.2L94.5 210.6L90.2 232.1L94.5 253.5L90.2 275L73.1 280.3L47.3 279.3L38.8 264.2L43 238.5L34.5 225.6L29.1 206.3L34.5 189.2L40.9 174.2Z" fill="#1b4179"/>
<ellipse cx="55" cy="200" rx="18" ry="20" fill="#1b437b"/>
<ellipse cx="68" cy="262" rx="16" ry="16" fill="#1b437b"/>
<path d="M215 100L218 157L212 205L195 240" fill="none" stroke="#1c3c71" stroke-width="22" stroke-linecap="round" stroke-linejoin="round"/>
<path d="M185 250L150 264L112 258" fill="none" stroke="#1c3b6f" stroke-width="20" stroke-linecap="round" stroke-linejoin="round"/>
<path d="M150 118L168 140L160 175L150 200L150 240" fill="none" stroke="#1c3a6e" stroke-width="18" stroke-linecap="round" stroke-linejoin="round"/>
<ellipse cx="185" cy="215" rx="14" ry="14" fill="#1c3e74"/>
<path d="M70 35L109.5 5.5L154.6 14.8L163 30" fill="none" stroke="#1c3a6e" stroke-width="10" stroke-linecap="round" stroke-linejoin="round"/>
<path d="M171.7 39L193 56L176 75.5L141.7 64.8" fill="none" stroke="#1c3a6d" stroke-width="10" stroke-linecap="round" stroke-linejoin="round"/>
<ellipse cx="152" cy="90" rx="18" ry="20" fill="#1c3c71"/>
</g></g>
<g mask="url(#fM1)"><rect x="-4" y="-4" width="248" height="294" fill="#1c508f"/><g filter="url(#bl5)">
<path d="M68.8 49.8L94.5 45.5L120.2 49.8L133.1 64.8L137.4 92.7L133.1 127L120.2 148.4L98.8 157L77.4 154.9L60.2 139.9L53.8 114.1L54.8 84.1L58.1 62.6Z" fill="#276eaf"/>
<ellipse cx="72" cy="110" rx="14" ry="40" fill="#3580b9"/>
<ellipse cx="95" cy="70" rx="20" ry="16" fill="#317bb6"/>
<path d="M13 54L38.8 45.5L58 49.8L56 84L54.8 114L60.2 139.9L53.8 152.7L25.9 157L10.9 135.6L4.4 103.4L5.5 71.2Z" fill="#1f5899"/>
<path d="M53.8 167.7L73.1 169.9L88.1 189.2L94.5 210.6L90.2 232.1L94.5 253.5L90.2 275L73.1 280.3L47.3 279.3L38.8 264.2L43 238.5L34.5 225.6L29.1 206.3L34.5 189.2L40.9 174.2Z" fill="#337eb8"/>
<ellipse cx="55" cy="200" rx="18" ry="20" fill="#3986bc"/>
<ellipse cx="68" cy="262" rx="16" ry="16" fill="#3986bc"/>
<path d="M215 100L218 157L212 205L195 240" fill="none" stroke="#2161a3" stroke-width="22" stroke-linecap="round" stroke-linejoin="round"/>
<path d="M185 250L150 264L112 258" fill="none" stroke="#1f5a9b" stroke-width="20" stroke-linecap="round" stroke-linejoin="round"/>
<path d="M150 118L168 140L160 175L150 200L150 240" fill="none" stroke="#1f5899" stroke-width="18" stroke-linecap="round" stroke-linejoin="round"/>
<ellipse cx="185" cy="215" rx="14" ry="14" fill="#256bae"/>
<path d="M70 35L109.5 5.5L154.6 14.8L163 30" fill="none" stroke="#1f5899" stroke-width="10" stroke-linecap="round" stroke-linejoin="round"/>
<path d="M171.7 39L193 56L176 75.5L141.7 64.8" fill="none" stroke="#1d5493" stroke-width="10" stroke-linecap="round" stroke-linejoin="round"/>
<ellipse cx="152" cy="90" rx="18" ry="20" fill="#2161a3"/>
</g></g>
<g mask="url(#fM2)"><rect x="-4" y="-4" width="248" height="294" fill="#2264a7"/><g filter="url(#bl5)">
<path d="M68.8 49.8L94.5 45.5L120.2 49.8L133.1 64.8L137.4 92.7L133.1 127L120.2 148.4L98.8 157L77.4 154.9L60.2 139.9L53.8 114.1L54.8 84.1L58.1 62.6Z" fill="#5aa2cb"/>
<ellipse cx="72" cy="110" rx="14" ry="40" fill="#8dc2dc"/>
<ellipse cx="95" cy="70" rx="20" ry="16" fill="#7eb8d7"/>
<path d="M13 54L38.8 45.5L58 49.8L56 84L54.8 114L60.2 139.9L53.8 152.7L25.9 157L10.9 135.6L4.4 103.4L5.5 71.2Z" fill="#2d76b3"/>
<path d="M53.8 167.7L73.1 169.9L88.1 189.2L94.5 210.6L90.2 232.1L94.5 253.5L90.2 275L73.1 280.3L47.3 279.3L38.8 264.2L43 238.5L34.5 225.6L29.1 206.3L34.5 189.2L40.9 174.2Z" fill="#85bdda"/>
<ellipse cx="55" cy="200" rx="18" ry="20" fill="#9ccae1"/>
<ellipse cx="68" cy="262" rx="16" ry="16" fill="#9ccae1"/>
<path d="M215 100L218 157L212 205L195 240" fill="none" stroke="#3b88bd" stroke-width="22" stroke-linecap="round" stroke-linejoin="round"/>
<path d="M185 250L150 264L112 258" fill="none" stroke="#2f78b5" stroke-width="20" stroke-linecap="round" stroke-linejoin="round"/>
<path d="M150 118L168 140L160 175L150 200L150 240" fill="none" stroke="#2d76b3" stroke-width="18" stroke-linecap="round" stroke-linejoin="round"/>
<ellipse cx="185" cy="215" rx="14" ry="14" fill="#529dc8"/>
<path d="M70 35L109.5 5.5L154.6 14.8L163 30" fill="none" stroke="#2d76b3" stroke-width="10" stroke-linecap="round" stroke-linejoin="round"/>
<path d="M171.7 39L193 56L176 75.5L141.7 64.8" fill="none" stroke="#256bae" stroke-width="10" stroke-linecap="round" stroke-linejoin="round"/>
<ellipse cx="152" cy="90" rx="18" ry="20" fill="#3b88bd"/>
</g></g>
<g mask="url(#fM3)"><rect x="-4" y="-4" width="248" height="294" fill="#317bb6"/><g filter="url(#bl5)">
<path d="M68.8 49.8L94.5 45.5L120.2 49.8L133.1 64.8L137.4 92.7L133.1 127L120.2 148.4L98.8 157L77.4 154.9L60.2 139.9L53.8 114.1L54.8 84.1L58.1 62.6Z" fill="#a6cfe4"/>
<ellipse cx="72" cy="110" rx="14" ry="40" fill="#e2edf3"/>
<ellipse cx="95" cy="70" rx="20" ry="16" fill="#d3e6f0"/>
<path d="M13 54L38.8 45.5L58 49.8L56 84L54.8 114L60.2 139.9L53.8 152.7L25.9 157L10.9 135.6L4.4 103.4L5.5 71.2Z" fill="#4796c4"/>
<path d="M53.8 167.7L73.1 169.9L88.1 189.2L94.5 210.6L90.2 232.1L94.5 253.5L90.2 275L73.1 280.3L47.3 279.3L38.8 264.2L43 238.5L34.5 225.6L29.1 206.3L34.5 189.2L40.9 174.2Z" fill="#dbeaf2"/>
<ellipse cx="55" cy="200" rx="18" ry="20" fill="#f1f4f6"/>
<ellipse cx="68" cy="262" rx="16" ry="16" fill="#f1f4f6"/>
<path d="M215 100L218 157L212 205L195 240" fill="none" stroke="#70afd2" stroke-width="22" stroke-linecap="round" stroke-linejoin="round"/>
<path d="M185 250L150 264L112 258" fill="none" stroke="#4d99c6" stroke-width="20" stroke-linecap="round" stroke-linejoin="round"/>
<path d="M150 118L168 140L160 175L150 200L150 240" fill="none" stroke="#4796c4" stroke-width="18" stroke-linecap="round" stroke-linejoin="round"/>
<ellipse cx="185" cy="215" rx="14" ry="14" fill="#9ccae1"/>
<path d="M70 35L109.5 5.5L154.6 14.8L163 30" fill="none" stroke="#4796c4" stroke-width="10" stroke-linecap="round" stroke-linejoin="round"/>
<path d="M171.7 39L193 56L176 75.5L141.7 64.8" fill="none" stroke="#3a87bc" stroke-width="10" stroke-linecap="round" stroke-linejoin="round"/>
<ellipse cx="152" cy="90" rx="18" ry="20" fill="#70afd2"/>
</g></g>
<circle cx="76.7" cy="54.9" r="2.3" fill="#fddbc7"/>
<circle cx="66.4" cy="185.6" r="2.3" fill="#b2182b"/>
<circle cx="56.2" cy="221.7" r="2.3" fill="#d6604d"/>
<circle cx="83" cy="267.9" r="2.3" fill="#f4a582"/>
<circle cx="57.7" cy="265.7" r="2.3" fill="#fddbc7"/>
<circle cx="127.9" cy="63.7" r="2.3" fill="#67001f"/>
<circle cx="69.2" cy="60" r="2.3" fill="#67001f"/>
<circle cx="60.8" cy="235.6" r="2.3" fill="#f7f7f7"/>
<circle cx="78.9" cy="222.5" r="2.3" fill="#67001f"/>
<circle cx="83.7" cy="84.3" r="2.3" fill="#f4a582"/>
<circle cx="95.6" cy="102.6" r="2.3" fill="#fddbc7"/>
<circle cx="74" cy="244.2" r="2.3" fill="#d6604d"/>
<circle cx="53.7" cy="278.9" r="2.3" fill="#d6604d"/>
<circle cx="79.7" cy="274.1" r="2.3" fill="#67001f"/>
<circle cx="100.9" cy="94.5" r="2.3" fill="#67001f"/>
<circle cx="73.8" cy="186.8" r="2.3" fill="#fddbc7"/>
<circle cx="63.2" cy="199" r="2.3" fill="#fddbc7"/>
<circle cx="77.4" cy="94.6" r="2.3" fill="#fddbc7"/>
<circle cx="63.3" cy="206.1" r="2.3" fill="#fddbc7"/>
<circle cx="86.2" cy="58" r="2.3" fill="#fddbc7"/>
<circle cx="95.9" cy="86.2" r="2.3" fill="#fddbc7"/>
<circle cx="71.7" cy="275" r="2.3" fill="#f7f7f7"/>
<circle cx="60.6" cy="175.8" r="2.3" fill="#f4a582"/>
<circle cx="75.9" cy="123.3" r="2.3" fill="#f7f7f7"/>
<circle cx="92.5" cy="48.2" r="2.3" fill="#f4a582"/>
<circle cx="98.3" cy="97.2" r="2.3" fill="#d6604d"/>
<circle cx="52" cy="189.4" r="2.3" fill="#fddbc7"/>
<circle cx="80.1" cy="142.5" r="2.3" fill="#f4a582"/>
<circle cx="62.6" cy="212.4" r="2.3" fill="#67001f"/>
<circle cx="95.2" cy="137.2" r="2.3" fill="#f4a582"/>
<circle cx="49.5" cy="273.9" r="2.3" fill="#b2182b"/>
<circle cx="76.7" cy="251.7" r="2.3" fill="#fddbc7"/>
<circle cx="119.7" cy="99.5" r="2.3" fill="#f4a582"/>
<circle cx="52" cy="176" r="2.3" fill="#fbe3d4"/>
<circle cx="129.3" cy="97.2" r="2.3" fill="#fddbc7"/>
<circle cx="81.3" cy="219.4" r="2.3" fill="#f4a582"/>
<circle cx="52.3" cy="215" r="2.3" fill="#b2182b"/>
<circle cx="79.3" cy="90.7" r="2.3" fill="#d6604d"/>
<circle cx="83.8" cy="254.2" r="2.3" fill="#fddbc7"/>
<circle cx="99.9" cy="133.4" r="2.3" fill="#fddbc7"/>
</g>
<g transform="translate(1332.9 1293.5)">
<g mask="url(#fM0)"><rect x="-4" y="-4" width="248" height="294" fill="#1c386a"/><g filter="url(#bl5)">
<path d="M68.8 49.8L94.5 45.5L120.2 49.8L133.1 64.8L137.4 92.7L133.1 127L120.2 148.4L98.8 157L77.4 154.9L60.2 139.9L53.8 114.1L54.8 84.1L58.1 62.6Z" fill="#1c3e73"/>
<ellipse cx="72" cy="110" rx="14" ry="40" fill="#1c3e74"/>
<ellipse cx="95" cy="70" rx="20" ry="16" fill="#1c3f75"/>
<path d="M13 54L38.8 45.5L58 49.8L56 84L54.8 114L60.2 139.9L53.8 152.7L25.9 157L10.9 135.6L4.4 103.4L5.5 71.2Z" fill="#1c3a6d"/>
<path d="M53.8 167.7L73.1 169.9L88.1 189.2L94.5 210.6L90.2 232.1L94.5 253.5L90.2 275L73.1 280.3L47.3 279.3L38.8 264.2L43 238.5L34.5 225.6L29.1 206.3L34.5 189.2L40.9 174.2Z" fill="#1c3f75"/>
<ellipse cx="55" cy="200" rx="18" ry="20" fill="#1b4178"/>
<ellipse cx="68" cy="262" rx="16" ry="16" fill="#1c3f75"/>
<path d="M215 100L218 157L212 205L195 240" fill="none" stroke="#1c3a6e" stroke-width="22" stroke-linecap="round" stroke-linejoin="round"/>
<path d="M185 250L150 264L112 258" fill="none" stroke="#1c3a6d" stroke-width="20" stroke-linecap="round" stroke-linejoin="round"/>
<path d="M150 118L168 140L160 175L150 200L150 240" fill="none" stroke="#1c386a" stroke-width="18" stroke-linecap="round" stroke-linejoin="round"/>
<ellipse cx="185" cy="215" rx="14" ry="14" fill="#1c3b6f"/>
<path d="M70 35L109.5 5.5L154.6 14.8L163 30" fill="none" stroke="#1c3a6d" stroke-width="10" stroke-linecap="round" stroke-linejoin="round"/>
<path d="M171.7 39L193 56L176 75.5L141.7 64.8" fill="none" stroke="#1c396b" stroke-width="10" stroke-linecap="round" stroke-linejoin="round"/>
<ellipse cx="152" cy="90" rx="18" ry="20" fill="#1c3a6e"/>
</g></g>
<g mask="url(#fM1)"><rect x="-4" y="-4" width="248" height="294" fill="#1b4b88"/><g filter="url(#bl5)">
<path d="M68.8 49.8L94.5 45.5L120.2 49.8L133.1 64.8L137.4 92.7L133.1 127L120.2 148.4L98.8 157L77.4 154.9L60.2 139.9L53.8 114.1L54.8 84.1L58.1 62.6Z" fill="#2368ac"/>
<ellipse cx="72" cy="110" rx="14" ry="40" fill="#256bae"/>
<ellipse cx="95" cy="70" rx="20" ry="16" fill="#2971b1"/>
<path d="M13 54L38.8 45.5L58 49.8L56 84L54.8 114L60.2 139.9L53.8 152.7L25.9 157L10.9 135.6L4.4 103.4L5.5 71.2Z" fill="#1d5493"/>
<path d="M53.8 167.7L73.1 169.9L88.1 189.2L94.5 210.6L90.2 232.1L94.5 253.5L90.2 275L73.1 280.3L47.3 279.3L38.8 264.2L43 238.5L34.5 225.6L29.1 206.3L34.5 189.2L40.9 174.2Z" fill="#2971b1"/>
<ellipse cx="55" cy="200" rx="18" ry="20" fill="#317bb6"/>
<ellipse cx="68" cy="262" rx="16" ry="16" fill="#2971b1"/>
<path d="M215 100L218 157L212 205L195 240" fill="none" stroke="#1f5899" stroke-width="22" stroke-linecap="round" stroke-linejoin="round"/>
<path d="M185 250L150 264L112 258" fill="none" stroke="#1d5493" stroke-width="20" stroke-linecap="round" stroke-linejoin="round"/>
<path d="M150 118L168 140L160 175L150 200L150 240" fill="none" stroke="#1b4c8a" stroke-width="18" stroke-linecap="round" stroke-linejoin="round"/>
<ellipse cx="185" cy="215" rx="14" ry="14" fill="#205c9d"/>
<path d="M70 35L109.5 5.5L154.6 14.8L163 30" fill="none" stroke="#1d5493" stroke-width="10" stroke-linecap="round" stroke-linejoin="round"/>
<path d="M171.7 39L193 56L176 75.5L141.7 64.8" fill="none" stroke="#1c4f8d" stroke-width="10" stroke-linecap="round" stroke-linejoin="round"/>
<ellipse cx="152" cy="90" rx="18" ry="20" fill="#1f5899"/>
</g></g>
<g mask="url(#fM2)"><rect x="-4" y="-4" width="248" height="294" fill="#1f5b9c"/><g filter="url(#bl5)">
<path d="M68.8 49.8L94.5 45.5L120.2 49.8L133.1 64.8L137.4 92.7L133.1 127L120.2 148.4L98.8 157L77.4 154.9L60.2 139.9L53.8 114.1L54.8 84.1L58.1 62.6Z" fill="#4a98c5"/>
<ellipse cx="72" cy="110" rx="14" ry="40" fill="#529dc8"/>
<ellipse cx="95" cy="70" rx="20" ry="16" fill="#62a7ce"/>
<path d="M13 54L38.8 45.5L58 49.8L56 84L54.8 114L60.2 139.9L53.8 152.7L25.9 157L10.9 135.6L4.4 103.4L5.5 71.2Z" fill="#256bae"/>
<path d="M53.8 167.7L73.1 169.9L88.1 189.2L94.5 210.6L90.2 232.1L94.5 253.5L90.2 275L73.1 280.3L47.3 279.3L38.8 264.2L43 238.5L34.5 225.6L29.1 206.3L34.5 189.2L40.9 174.2Z" fill="#62a7ce"/>
<ellipse cx="55" cy="200" rx="18" ry="20" fill="#7eb8d7"/>
<ellipse cx="68" cy="262" rx="16" ry="16" fill="#62a7ce"/>
<path d="M215 100L218 157L212 205L195 240" fill="none" stroke="#2d76b3" stroke-width="22" stroke-linecap="round" stroke-linejoin="round"/>
<path d="M185 250L150 264L112 258" fill="none" stroke="#256bae" stroke-width="20" stroke-linecap="round" stroke-linejoin="round"/>
<path d="M150 118L168 140L160 175L150 200L150 240" fill="none" stroke="#205d9f" stroke-width="18" stroke-linecap="round" stroke-linejoin="round"/>
<ellipse cx="185" cy="215" rx="14" ry="14" fill="#337eb8"/>
<path d="M70 35L109.5 5.5L154.6 14.8L163 30" fill="none" stroke="#256bae" stroke-width="10" stroke-linecap="round" stroke-linejoin="round"/>
<path d="M171.7 39L193 56L176 75.5L141.7 64.8" fill="none" stroke="#2162a4" stroke-width="10" stroke-linecap="round" stroke-linejoin="round"/>
<ellipse cx="152" cy="90" rx="18" ry="20" fill="#2d76b3"/>
</g></g>
<g mask="url(#fM3)"><rect x="-4" y="-4" width="248" height="294" fill="#266cae"/><g filter="url(#bl5)">
<path d="M68.8 49.8L94.5 45.5L120.2 49.8L133.1 64.8L137.4 92.7L133.1 127L120.2 148.4L98.8 157L77.4 154.9L60.2 139.9L53.8 114.1L54.8 84.1L58.1 62.6Z" fill="#92c5de"/>
<ellipse cx="72" cy="110" rx="14" ry="40" fill="#9ccae1"/>
<ellipse cx="95" cy="70" rx="20" ry="16" fill="#b0d4e7"/>
<path d="M13 54L38.8 45.5L58 49.8L56 84L54.8 114L60.2 139.9L53.8 152.7L25.9 157L10.9 135.6L4.4 103.4L5.5 71.2Z" fill="#3a87bc"/>
<path d="M53.8 167.7L73.1 169.9L88.1 189.2L94.5 210.6L90.2 232.1L94.5 253.5L90.2 275L73.1 280.3L47.3 279.3L38.8 264.2L43 238.5L34.5 225.6L29.1 206.3L34.5 189.2L40.9 174.2Z" fill="#b0d4e7"/>
<ellipse cx="55" cy="200" rx="18" ry="20" fill="#d3e6f0"/>
<ellipse cx="68" cy="262" rx="16" ry="16" fill="#b0d4e7"/>
<path d="M215 100L218 157L212 205L195 240" fill="none" stroke="#4796c4" stroke-width="22" stroke-linecap="round" stroke-linejoin="round"/>
<path d="M185 250L150 264L112 258" fill="none" stroke="#3a87bc" stroke-width="20" stroke-linecap="round" stroke-linejoin="round"/>
<path d="M150 118L168 140L160 175L150 200L150 240" fill="none" stroke="#2970b0" stroke-width="18" stroke-linecap="round" stroke-linejoin="round"/>
<ellipse cx="185" cy="215" rx="14" ry="14" fill="#59a1ca"/>
<path d="M70 35L109.5 5.5L154.6 14.8L163 30" fill="none" stroke="#3a87bc" stroke-width="10" stroke-linecap="round" stroke-linejoin="round"/>
<path d="M171.7 39L193 56L176 75.5L141.7 64.8" fill="none" stroke="#2e77b4" stroke-width="10" stroke-linecap="round" stroke-linejoin="round"/>
<ellipse cx="152" cy="90" rx="18" ry="20" fill="#4796c4"/>
</g></g>
<circle cx="120.6" cy="56.6" r="2.3" fill="#b2182b"/>
<circle cx="47.9" cy="245.3" r="2.3" fill="#fddbc7"/>
<circle cx="100" cy="126.1" r="2.3" fill="#fbe3d4"/>
<circle cx="120.2" cy="83.7" r="2.3" fill="#fddbc7"/>
<circle cx="125.9" cy="82.9" r="2.3" fill="#fbe3d4"/>
<circle cx="63" cy="219" r="2.3" fill="#f7f7f7"/>
<circle cx="68" cy="116.5" r="2.3" fill="#fddbc7"/>
<circle cx="92.6" cy="114" r="2.3" fill="#f7f7f7"/>
</g>
<g transform="translate(1623.4 1293.5)">
<g mask="url(#fM0)"><rect x="-4" y="-4" width="248" height="294" fill="#1c3769"/><g filter="url(#bl5)">
<path d="M68.8 49.8L94.5 45.5L120.2 49.8L133.1 64.8L137.4 92.7L133.1 127L120.2 148.4L98.8 157L77.4 154.9L60.2 139.9L53.8 114.1L54.8 84.1L58.1 62.6Z" fill="#1c3c71"/>
<ellipse cx="72" cy="110" rx="14" ry="40" fill="#1c3d72"/>
<ellipse cx="95" cy="70" rx="20" ry="16" fill="#1c3d73"/>
<path d="M13 54L38.8 45.5L58 49.8L56 84L54.8 114L60.2 139.9L53.8 152.7L25.9 157L10.9 135.6L4.4 103.4L5.5 71.2Z" fill="#1c386a"/>
<path d="M53.8 167.7L73.1 169.9L88.1 189.2L94.5 210.6L90.2 232.1L94.5 253.5L90.2 275L73.1 280.3L47.3 279.3L38.8 264.2L43 238.5L34.5 225.6L29.1 206.3L34.5 189.2L40.9 174.2Z" fill="#1c3e74"/>
<ellipse cx="55" cy="200" rx="18" ry="20" fill="#1b427b"/>
<ellipse cx="68" cy="262" rx="16" ry="16" fill="#1c3d72"/>
<path d="M215 100L218 157L212 205L195 240" fill="none" stroke="#1c396b" stroke-width="22" stroke-linecap="round" stroke-linejoin="round"/>
<path d="M185 250L150 264L112 258" fill="none" stroke="#1c396b" stroke-width="20" stroke-linecap="round" stroke-linejoin="round"/>
<path d="M150 118L168 140L160 175L150 200L150 240" fill="none" stroke="#1c386a" stroke-width="18" stroke-linecap="round" stroke-linejoin="round"/>
<ellipse cx="185" cy="215" rx="14" ry="14" fill="#1c396c"/>
<path d="M70 35L109.5 5.5L154.6 14.8L163 30" fill="none" stroke="#1c396c" stroke-width="10" stroke-linecap="round" stroke-linejoin="round"/>
<path d="M171.7 39L193 56L176 75.5L141.7 64.8" fill="none" stroke="#1c396c" stroke-width="10" stroke-linecap="round" stroke-linejoin="round"/>
<ellipse cx="152" cy="90" rx="18" ry="20" fill="#1c396c"/>
</g></g>
<g mask="url(#fM1)"><rect x="-4" y="-4" width="248" height="294" fill="#1b4884"/><g filter="url(#bl5)">
<path d="M68.8 49.8L94.5 45.5L120.2 49.8L133.1 64.8L137.4 92.7L133.1 127L120.2 148.4L98.8 157L77.4 154.9L60.2 139.9L53.8 114.1L54.8 84.1L58.1 62.6Z" fill="#2162a5"/>
<ellipse cx="72" cy="110" rx="14" ry="40" fill="#2264a8"/>
<ellipse cx="95" cy="70" rx="20" ry="16" fill="#2367ab"/>
<path d="M13 54L38.8 45.5L58 49.8L56 84L54.8 114L60.2 139.9L53.8 152.7L25.9 157L10.9 135.6L4.4 103.4L5.5 71.2Z" fill="#1b4a86"/>
<path d="M53.8 167.7L73.1 169.9L88.1 189.2L94.5 210.6L90.2 232.1L94.5 253.5L90.2 275L73.1 280.3L47.3 279.3L38.8 264.2L43 238.5L34.5 225.6L29.1 206.3L34.5 189.2L40.9 174.2Z" fill="#2469ad"/>
<ellipse cx="55" cy="200" rx="18" ry="20" fill="#3885bb"/>
<ellipse cx="68" cy="262" rx="16" ry="16" fill="#2264a8"/>
<path d="M215 100L218 157L212 205L195 240" fill="none" stroke="#1c4f8d" stroke-width="22" stroke-linecap="round" stroke-linejoin="round"/>
<path d="M185 250L150 264L112 258" fill="none" stroke="#1c4f8d" stroke-width="20" stroke-linecap="round" stroke-linejoin="round"/>
<path d="M150 118L168 140L160 175L150 200L150 240" fill="none" stroke="#1b4a86" stroke-width="18" stroke-linecap="round" stroke-linejoin="round"/>
<ellipse cx="185" cy="215" rx="14" ry="14" fill="#1d5292"/>
<path d="M70 35L109.5 5.5L154.6 14.8L163 30" fill="none" stroke="#1d5292" stroke-width="10" stroke-linecap="round" stroke-linejoin="round"/>
<path d="M171.7 39L193 56L176 75.5L141.7 64.8" fill="none" stroke="#1d5292" stroke-width="10" stroke-linecap="round" stroke-linejoin="round"/>
<ellipse cx="152" cy="90" rx="18" ry="20" fill="#1d5292"/>
</g></g>
<g mask="url(#fM2)"><rect x="-4" y="-4" width="248" height="294" fill="#1e5797"/><g filter="url(#bl5)">
<path d="M68.8 49.8L94.5 45.5L120.2 49.8L133.1 64.8L137.4 92.7L133.1 127L120.2 148.4L98.8 157L77.4 154.9L60.2 139.9L53.8 114.1L54.8 84.1L58.1 62.6Z" fill="#3d8bbf"/>
<ellipse cx="72" cy="110" rx="14" ry="40" fill="#4190c1"/>
<ellipse cx="95" cy="70" rx="20" ry="16" fill="#4695c4"/>
<path d="M13 54L38.8 45.5L58 49.8L56 84L54.8 114L60.2 139.9L53.8 152.7L25.9 157L10.9 135.6L4.4 103.4L5.5 71.2Z" fill="#1f599a"/>
<path d="M53.8 167.7L73.1 169.9L88.1 189.2L94.5 210.6L90.2 232.1L94.5 253.5L90.2 275L73.1 280.3L47.3 279.3L38.8 264.2L43 238.5L34.5 225.6L29.1 206.3L34.5 189.2L40.9 174.2Z" fill="#4e9ac7"/>
<ellipse cx="55" cy="200" rx="18" ry="20" fill="#98c8e0"/>
<ellipse cx="68" cy="262" rx="16" ry="16" fill="#4190c1"/>
<path d="M215 100L218 157L212 205L195 240" fill="none" stroke="#2162a4" stroke-width="22" stroke-linecap="round" stroke-linejoin="round"/>
<path d="M185 250L150 264L112 258" fill="none" stroke="#2162a4" stroke-width="20" stroke-linecap="round" stroke-linejoin="round"/>
<path d="M150 118L168 140L160 175L150 200L150 240" fill="none" stroke="#1f599a" stroke-width="18" stroke-linecap="round" stroke-linejoin="round"/>
<ellipse cx="185" cy="215" rx="14" ry="14" fill="#2368ac"/>
<path d="M70 35L109.5 5.5L154.6 14.8L163 30" fill="none" stroke="#2368ac" stroke-width="10" stroke-linecap="round" stroke-linejoin="round"/>
<path d="M171.7 39L193 56L176 75.5L141.7 64.8" fill="none" stroke="#2368ac" stroke-width="10" stroke-linecap="round" stroke-linejoin="round"/>
<ellipse cx="152" cy="90" rx="18" ry="20" fill="#2368ac"/>
</g></g>
<g mask="url(#fM3)"><rect x="-4" y="-4" width="248" height="294" fill="#2265a8"/><g filter="url(#bl5)">
<path d="M68.8 49.8L94.5 45.5L120.2 49.8L133.1 64.8L137.4 92.7L133.1 127L120.2 148.4L98.8 157L77.4 154.9L60.2 139.9L53.8 114.1L54.8 84.1L58.1 62.6Z" fill="#75b3d4"/>
<ellipse cx="72" cy="110" rx="14" ry="40" fill="#81bad8"/>
<ellipse cx="95" cy="70" rx="20" ry="16" fill="#8cc1dc"/>
<path d="M13 54L38.8 45.5L58 49.8L56 84L54.8 114L60.2 139.9L53.8 152.7L25.9 157L10.9 135.6L4.4 103.4L5.5 71.2Z" fill="#2368ac"/>
<path d="M53.8 167.7L73.1 169.9L88.1 189.2L94.5 210.6L90.2 232.1L94.5 253.5L90.2 275L73.1 280.3L47.3 279.3L38.8 264.2L43 238.5L34.5 225.6L29.1 206.3L34.5 189.2L40.9 174.2Z" fill="#97c8df"/>
<ellipse cx="55" cy="200" rx="18" ry="20" fill="#eef2f5"/>
<ellipse cx="68" cy="262" rx="16" ry="16" fill="#81bad8"/>
<path d="M215 100L218 157L212 205L195 240" fill="none" stroke="#2e77b4" stroke-width="22" stroke-linecap="round" stroke-linejoin="round"/>
<path d="M185 250L150 264L112 258" fill="none" stroke="#2e77b4" stroke-width="20" stroke-linecap="round" stroke-linejoin="round"/>
<path d="M150 118L168 140L160 175L150 200L150 240" fill="none" stroke="#2368ac" stroke-width="18" stroke-linecap="round" stroke-linejoin="round"/>
<ellipse cx="185" cy="215" rx="14" ry="14" fill="#3783ba"/>
<path d="M70 35L109.5 5.5L154.6 14.8L163 30" fill="none" stroke="#3783ba" stroke-width="10" stroke-linecap="round" stroke-linejoin="round"/>
<path d="M171.7 39L193 56L176 75.5L141.7 64.8" fill="none" stroke="#3783ba" stroke-width="10" stroke-linecap="round" stroke-linejoin="round"/>
<ellipse cx="152" cy="90" rx="18" ry="20" fill="#3783ba"/>
</g></g>
<circle cx="50.9" cy="186.6" r="2.3" fill="#f4a582"/>
<circle cx="46.2" cy="275" r="2.3" fill="#67001f"/>
<circle cx="39.9" cy="211.4" r="2.3" fill="#d6604d"/>
</g>
<defs><filter id="Fn1r20" x="0" y="0" width="100%" height="100%" color-interpolation-filters="sRGB"><feTurbulence type="fractalNoise" baseFrequency="0.37" numOctaves="1" seed="1"/><feColorMatrix type="matrix" values="0 0 0 0 1 0 0 0 0 1 0 0 0 0 1 14 0 0 0 -8.05"/></filter><mask id="n1r20" maskUnits="userSpaceOnUse" x="-5" y="-5" width="390" height="300"><rect x="-5" y="-5" width="390" height="300" filter="url(#Fn1r20)"/></mask><filter id="Fn1g6" x="0" y="0" width="100%" height="100%" color-interpolation-filters="sRGB"><feTurbulence type="fractalNoise" baseFrequency="0.37" numOctaves="1" seed="1"/><feColorMatrix type="matrix" values="0 0 0 0 1 0 0 0 0 1 0 0 0 0 1 0 14 0 0 -9.24"/></filter><mask id="n1g6" maskUnits="userSpaceOnUse" x="-5" y="-5" width="390" height="300"><rect x="-5" y="-5" width="390" height="300" filter="url(#Fn1g6)"/></mask><filter id="Fn1b6" x="0" y="0" width="100%" height="100%" color-interpolation-filters="sRGB"><feTurbulence type="fractalNoise" baseFrequency="0.37" numOctaves="1" seed="1"/><feColorMatrix type="matrix" values="0 0 0 0 1 0 0 0 0 1 0 0 0 0 1 0 0 14 0 -9.24"/></filter><mask id="n1b6" maskUnits="userSpaceOnUse" x="-5" y="-5" width="390" height="300"><rect x="-5" y="-5" width="390" height="300" filter="url(#Fn1b6)"/></mask><filter id="Fn1a3" x="0" y="0" width="100%" height="100%" color-interpolation-filters="sRGB"><feTurbulence type="fractalNoise" baseFrequency="0.37" numOctaves="1" seed="1"/><feColorMatrix type="matrix" values="0 0 0 0 1 0 0 0 0 1 0 0 0 0 1 0 0 0 14 -9.66"/></filter><mask id="n1a3" maskUnits="userSpaceOnUse" x="-5" y="-5" width="390" height="300"><rect x="-5" y="-5" width="390" height="300" filter="url(#Fn1a3)"/></mask><filter id="Fn2r10" x="0" y="0" width="100%" height="100%" color-interpolation-filters="sRGB"><feTurbulence type="fractalNoise" baseFrequency="0.37" numOctaves="1" seed="2"/><feColorMatrix type="matrix" values="0 0 0 0 1 0 0 0 0 1 0 0 0 0 1 14 0 0 0 -8.82"/></filter><mask id="n2r10" maskUnits="userSpaceOnUse" x="-5" y="-5" width="390" height="300"><rect x="-5" y="-5" width="390" height="300" filter="url(#Fn2r10)"/></mask><filter id="Fn2g26" x="0" y="0" width="100%" height="100%" color-interpolation-filters="sRGB"><feTurbulence type="fractalNoise" baseFrequency="0.37" numOctaves="1" seed="2"/><feColorMatrix type="matrix" values="0 0 0 0 1 0 0 0 0 1 0 0 0 0 1 0 14 0 0 -7.70"/></filter><mask id="n2g26" maskUnits="userSpaceOnUse" x="-5" y="-5" width="390" height="300"><rect x="-5" y="-5" width="390" height="300" filter="url(#Fn2g26)"/></mask><filter id="Fn2b26" x="0" y="0" width="100%" height="100%" color-interpolation-filters="sRGB"><feTurbulence type="fractalNoise" baseFrequency="0.37" numOctaves="1" seed="2"/><feColorMatrix type="matrix" values="0 0 0 0 1 0 0 0 0 1 0 0 0 0 1 0 0 14 0 -7.70"/></filter><mask id="n2b26" maskUnits="userSpaceOnUse" x="-5" y="-5" width="390" height="300"><rect x="-5" y="-5" width="390" height="300" filter="url(#Fn2b26)"/></mask><filter id="Fn2a10" x="0" y="0" width="100%" height="100%" color-interpolation-filters="sRGB"><feTurbulence type="fractalNoise" baseFrequency="0.37" numOctaves="1" seed="2"/><feColorMatrix type="matrix" values="0 0 0 0 1 0 0 0 0 1 0 0 0 0 1 0 0 0 14 -8.82"/></filter><mask id="n2a10" maskUnits="userSpaceOnUse" x="-5" y="-5" width="390" height="300"><rect x="-5" y="-5" width="390" height="300" filter="url(#Fn2a10)"/></mask><filter id="Fn3r10" x="0" y="0" width="100%" height="100%" color-interpolation-filters="sRGB"><feTurbulence type="fractalNoise" baseFrequency="0.37" numOctaves="1" seed="3"/><feColorMatrix type="matrix" values="0 0 0 0 1 0 0 0 0 1 0 0 0 0 1 14 0 0 0 -8.82"/></filter><mask id="n3r10" maskUnits="userSpaceOnUse" x="-5" y="-5" width="390" height="300"><rect x="-5" y="-5" width="390" height="300" filter="url(#Fn3r10)"/></mask><filter id="Fn2g35" x="0" y="0" width="100%" height="100%" color-interpolation-filters="sRGB"><feTurbulence type="fractalNoise" baseFrequency="0.37" numOctaves="1" seed="2"/><feColorMatrix type="matrix" values="0 0 0 0 1 0 0 0 0 1 0 0 0 0 1 0 14 0 0 -7.35"/></filter><mask id="n2g35" maskUnits="userSpaceOnUse" x="-5" y="-5" width="390" height="300"><rect x="-5" y="-5" width="390" height="300" filter="url(#Fn2g35)"/></mask><filter id="Fn2b20" x="0" y="0" width="100%" height="100%" color-interpolation-filters="sRGB"><feTurbulence type="fractalNoise" baseFrequency="0.37" numOctaves="1" seed="2"/><feColorMatrix type="matrix" values="0 0 0 0 1 0 0 0 0 1 0 0 0 0 1 0 0 14 0 -8.05"/></filter><mask id="n2b20" maskUnits="userSpaceOnUse" x="-5" y="-5" width="390" height="300"><rect x="-5" y="-5" width="390" height="300" filter="url(#Fn2b20)"/></mask><filter id="Fn3g55" x="0" y="0" width="100%" height="100%" color-interpolation-filters="sRGB"><feTurbulence type="fractalNoise" baseFrequency="0.37" numOctaves="1" seed="3"/><feColorMatrix type="matrix" values="0 0 0 0 1 0 0 0 0 1 0 0 0 0 1 0 14 0 0 -6.55"/></filter><mask id="n3g55" maskUnits="userSpaceOnUse" x="-5" y="-5" width="390" height="300"><rect x="-5" y="-5" width="390" height="300" filter="url(#Fn3g55)"/></mask><filter id="Fn3b26" x="0" y="0" width="100%" height="100%" color-interpolation-filters="sRGB"><feTurbulence type="fractalNoise" baseFrequency="0.37" numOctaves="1" seed="3"/><feColorMatrix type="matrix" values="0 0 0 0 1 0 0 0 0 1 0 0 0 0 1 0 0 14 0 -7.70"/></filter><mask id="n3b26" maskUnits="userSpaceOnUse" x="-5" y="-5" width="390" height="300"><rect x="-5" y="-5" width="390" height="300" filter="url(#Fn3b26)"/></mask><filter id="Fn3a10" x="0" y="0" width="100%" height="100%" color-interpolation-filters="sRGB"><feTurbulence type="fractalNoise" baseFrequency="0.37" numOctaves="1" seed="3"/><feColorMatrix type="matrix" values="0 0 0 0 1 0 0 0 0 1 0 0 0 0 1 0 0 0 14 -8.82"/></filter><mask id="n3a10" maskUnits="userSpaceOnUse" x="-5" y="-5" width="390" height="300"><rect x="-5" y="-5" width="390" height="300" filter="url(#Fn3a10)"/></mask><filter id="Fn4r85" x="0" y="0" width="100%" height="100%" color-interpolation-filters="sRGB"><feTurbulence type="fractalNoise" baseFrequency="0.37" numOctaves="1" seed="4"/><feColorMatrix type="matrix" values="0 0 0 0 1 0 0 0 0 1 0 0 0 0 1 14 0 0 0 -5.25"/></filter><mask id="n4r85" maskUnits="userSpaceOnUse" x="-5" y="-5" width="390" height="300"><rect x="-5" y="-5" width="390" height="300" filter="url(#Fn4r85)"/></mask><filter id="Fn4a6" x="0" y="0" width="100%" height="100%" color-interpolation-filters="sRGB"><feTurbulence type="fractalNoise" baseFrequency="0.37" numOctaves="1" seed="4"/><feColorMatrix type="matrix" values="0 0 0 0 1 0 0 0 0 1 0 0 0 0 1 0 0 0 14 -9.24"/></filter><mask id="n4a6" maskUnits="userSpaceOnUse" x="-5" y="-5" width="390" height="300"><rect x="-5" y="-5" width="390" height="300" filter="url(#Fn4a6)"/></mask><filter id="Fn4g90" x="0" y="0" width="100%" height="100%" color-interpolation-filters="sRGB"><feTurbulence type="fractalNoise" baseFrequency="0.37" numOctaves="1" seed="4"/><feColorMatrix type="matrix" values="0 0 0 0 1 0 0 0 0 1 0 0 0 0 1 0 14 0 0 -4.97"/></filter><mask id="n4g90" maskUnits="userSpaceOnUse" x="-5" y="-5" width="390" height="300"><rect x="-5" y="-5" width="390" height="300" filter="url(#Fn4g90)"/></mask><filter id="Fn4b85" x="0" y="0" width="100%" height="100%" color-interpolation-filters="sRGB"><feTurbulence type="fractalNoise" baseFrequency="0.37" numOctaves="1" seed="4"/><feColorMatrix type="matrix" values="0 0 0 0 1 0 0 0 0 1 0 0 0 0 1 0 0 14 0 -5.25"/></filter><mask id="n4b85" maskUnits="userSpaceOnUse" x="-5" y="-5" width="390" height="300"><rect x="-5" y="-5" width="390" height="300" filter="url(#Fn4b85)"/></mask><filter id="Fn5r88" x="0" y="0" width="100%" height="100%" color-interpolation-filters="sRGB"><feTurbulence type="fractalNoise" baseFrequency="0.37" numOctaves="1" seed="5"/><feColorMatrix type="matrix" values="0 0 0 0 1 0 0 0 0 1 0 0 0 0 1 14 0 0 0 -5.11"/></filter><mask id="n5r88" maskUnits="userSpaceOnUse" x="-5" y="-5" width="390" height="300"><rect x="-5" y="-5" width="390" height="300" filter="url(#Fn5r88)"/></mask><filter id="Fn7r26f11" x="0" y="0" width="100%" height="100%" color-interpolation-filters="sRGB"><feTurbulence type="fractalNoise" baseFrequency="0.11" numOctaves="1" seed="7"/><feColorMatrix type="matrix" values="0 0 0 0 1 0 0 0 0 1 0 0 0 0 1 14 0 0 0 -7.70"/></filter><mask id="n7r26f11" maskUnits="userSpaceOnUse" x="-5" y="-5" width="390" height="300"><rect x="-5" y="-5" width="390" height="300" filter="url(#Fn7r26f11)"/></mask><filter id="Fn7g15f11" x="0" y="0" width="100%" height="100%" color-interpolation-filters="sRGB"><feTurbulence type="fractalNoise" baseFrequency="0.11" numOctaves="1" seed="7"/><feColorMatrix type="matrix" values="0 0 0 0 1 0 0 0 0 1 0 0 0 0 1 0 14 0 0 -8.40"/></filter><mask id="n7g15f11" maskUnits="userSpaceOnUse" x="-5" y="-5" width="390" height="300"><rect x="-5" y="-5" width="390" height="300" filter="url(#Fn7g15f11)"/></mask><filter id="Fn7b6f11" x="0" y="0" width="100%" height="100%" color-interpolation-filters="sRGB"><feTurbulence type="fractalNoise" baseFrequency="0.11" numOctaves="1" seed="7"/><feColorMatrix type="matrix" values="0 0 0 0 1 0 0 0 0 1 0 0 0 0 1 0 0 14 0 -9.24"/></filter><mask id="n7b6f11" maskUnits="userSpaceOnUse" x="-5" y="-5" width="390" height="300"><rect x="-5" y="-5" width="390" height="300" filter="url(#Fn7b6f11)"/></mask><filter id="Fn5g35" x="0" y="0" width="100%" height="100%" color-interpolation-filters="sRGB"><feTurbulence type="fractalNoise" baseFrequency="0.37" numOctaves="1" seed="5"/><feColorMatrix type="matrix" values="0 0 0 0 1 0 0 0 0 1 0 0 0 0 1 0 14 0 0 -7.35"/></filter><mask id="n5g35" maskUnits="userSpaceOnUse" x="-5" y="-5" width="390" height="300"><rect x="-5" y="-5" width="390" height="300" filter="url(#Fn5g35)"/></mask><filter id="Fn5b10" x="0" y="0" width="100%" height="100%" color-interpolation-filters="sRGB"><feTurbulence type="fractalNoise" baseFrequency="0.37" numOctaves="1" seed="5"/><feColorMatrix type="matrix" values="0 0 0 0 1 0 0 0 0 1 0 0 0 0 1 0 0 14 0 -8.82"/></filter><mask id="n5b10" maskUnits="userSpaceOnUse" x="-5" y="-5" width="390" height="300"><rect x="-5" y="-5" width="390" height="300" filter="url(#Fn5b10)"/></mask><filter id="Fn6r90" x="0" y="0" width="100%" height="100%" color-interpolation-filters="sRGB"><feTurbulence type="fractalNoise" baseFrequency="0.37" numOctaves="1" seed="6"/><feColorMatrix type="matrix" values="0 0 0 0 1 0 0 0 0 1 0 0 0 0 1 14 0 0 0 -4.97"/></filter><mask id="n6r90" maskUnits="userSpaceOnUse" x="-5" y="-5" width="390" height="300"><rect x="-5" y="-5" width="390" height="300" filter="url(#Fn6r90)"/></mask><filter id="Fn6g90" x="0" y="0" width="100%" height="100%" color-interpolation-filters="sRGB"><feTurbulence type="fractalNoise" baseFrequency="0.37" numOctaves="1" seed="6"/><feColorMatrix type="matrix" values="0 0 0 0 1 0 0 0 0 1 0 0 0 0 1 0 14 0 0 -4.97"/></filter><mask id="n6g90" maskUnits="userSpaceOnUse" x="-5" y="-5" width="390" height="300"><rect x="-5" y="-5" width="390" height="300" filter="url(#Fn6g90)"/></mask><filter id="Fn6b10" x="0" y="0" width="100%" height="100%" color-interpolation-filters="sRGB"><feTurbulence type="fractalNoise" baseFrequency="0.37" numOctaves="1" seed="6"/><feColorMatrix type="matrix" values="0 0 0 0 1 0 0 0 0 1 0 0 0 0 1 0 0 14 0 -8.82"/></filter><mask id="n6b10" maskUnits="userSpaceOnUse" x="-5" y="-5" width="390" height="300"><rect x="-5" y="-5" width="390" height="300" filter="url(#Fn6b10)"/></mask><clipPath id="aC"><rect x="0" y="0" width="364.5" height="268.8"/></clipPath></defs>
<g transform="translate(84.8 43)"><g clip-path="url(#aC)"><g mask="url(#n1r20)" fill="#bcc46c"><rect x="0" y="0" width="364.5" height="268.8"/></g><g mask="url(#n1g6)" fill="#8556a8"><rect x="0" y="0" width="364.5" height="268.8"/></g><g mask="url(#n1b6)" fill="#279e68"><rect x="0" y="0" width="364.5" height="268.8"/></g><g mask="url(#n1a3)" fill="#d62728"><rect x="0" y="0" width="364.5" height="268.8"/></g><g mask="url(#n2r10)" fill="#dbdb8d"><rect x="0" y="0" width="364.5" height="268.8"/></g><g fill="#fff" opacity=".7" filter="url(#bl2)"><path d="M185.6 1.8L248.8 1.8L246.7 10.7L198.3 14.9L198.3 31.7L244.6 38L242.5 78L248.8 107.5L223.5 111.7L198.3 94.8L187.7 67.5L185.6 46.4L147.8 27.5L143.6 11.7Z"/><ellipse cx="299.3" cy="61.2" rx="10.5" ry="25.3"/><ellipse cx="79.4" cy="194.8" rx="14.7" ry="10.5"/><ellipse cx="109.9" cy="225.3" rx="18.9" ry="12.6"/><ellipse cx="238.2" cy="225.3" rx="18.9" ry="12.6"/><ellipse cx="311.9" cy="17" rx="18.9" ry="10.5"/><ellipse cx="164.6" cy="111.7" rx="12.6" ry="8.4"/></g><g mask="url(#n2g26)" fill="#279e68"><ellipse cx="198.3" cy="166.4" rx="31.6" ry="40"/><ellipse cx="181.4" cy="141.1" rx="12.6" ry="18.9"/></g><g mask="url(#n2b26)" fill="#b5bd61"><ellipse cx="198.3" cy="166.4" rx="31.6" ry="40"/><ellipse cx="181.4" cy="141.1" rx="12.6" ry="18.9"/></g><g mask="url(#n2a10)" fill="#d62728"><ellipse cx="198.3" cy="166.4" rx="31.6" ry="40"/><ellipse cx="181.4" cy="141.1" rx="12.6" ry="18.9"/></g><g mask="url(#n3r10)" fill="#1f77b4"><ellipse cx="198.3" cy="166.4" rx="31.6" ry="40"/><ellipse cx="181.4" cy="141.1" rx="12.6" ry="18.9"/></g><g mask="url(#n2g35)" fill="#279e68"><ellipse cx="274" cy="179" rx="31.6" ry="52.6"/><ellipse cx="332.9" cy="155.9" rx="25.3" ry="42.1"/><ellipse cx="322.4" cy="229.5" rx="31.6" ry="25.3"/></g><g mask="url(#n2b20)" fill="#b5bd61"><ellipse cx="274" cy="179" rx="31.6" ry="52.6"/><ellipse cx="332.9" cy="155.9" rx="25.3" ry="42.1"/><ellipse cx="322.4" cy="229.5" rx="31.6" ry="25.3"/></g><g mask="url(#n3g55)" fill="#279e68"><path d="M196.2 15.3L248.8 8.6L291.3 1.8L291.3 29.6L259.3 34.2L217.2 32.1L198.3 25.8Z"/><path d="M0 67.5L19.8 82.2L18.3 111.7L19.8 166.4L4.7 166.4L11 191.6L27.8 208.5L46.7 225.3L47.8 250.6L44.6 268.5L0 268.5Z"/><ellipse cx="97.3" cy="147.9" rx="20.6" ry="32"/><ellipse cx="136.2" cy="155" rx="15.2" ry="25.7"/><path d="M243.5 155.9L269.8 166.4L270.9 208.5L290.9 225.3L278.2 230.6L265.6 215.8L245.6 187.4Z"/><ellipse cx="351.9" cy="42.2" rx="12.6" ry="12.6"/><ellipse cx="186.7" cy="107.5" rx="3.4" ry="8.8"/><ellipse cx="230.3" cy="140.3" rx="3.8" ry="3.8"/><ellipse cx="72" cy="149.6" rx="3.8" ry="8.4"/><ellipse cx="349.8" cy="86.4" rx="10.5" ry="8.4"/><ellipse cx="314" cy="78" rx="5.3" ry="6.3"/><ellipse cx="345.6" cy="240" rx="12.6" ry="8.4"/></g><g mask="url(#n3b26)" fill="#b5bd61"><path d="M196.2 15.3L248.8 8.6L291.3 1.8L291.3 29.6L259.3 34.2L217.2 32.1L198.3 25.8Z"/><path d="M0 67.5L19.8 82.2L18.3 111.7L19.8 166.4L4.7 166.4L11 191.6L27.8 208.5L46.7 225.3L47.8 250.6L44.6 268.5L0 268.5Z"/><ellipse cx="97.3" cy="147.9" rx="20.6" ry="32"/><ellipse cx="136.2" cy="155" rx="15.2" ry="25.7"/><path d="M243.5 155.9L269.8 166.4L270.9 208.5L290.9 225.3L278.2 230.6L265.6 215.8L245.6 187.4Z"/><ellipse cx="351.9" cy="42.2" rx="12.6" ry="12.6"/><ellipse cx="186.7" cy="107.5" rx="3.4" ry="8.8"/><ellipse cx="230.3" cy="140.3" rx="3.8" ry="3.8"/><ellipse cx="72" cy="149.6" rx="3.8" ry="8.4"/><ellipse cx="349.8" cy="86.4" rx="10.5" ry="8.4"/><ellipse cx="314" cy="78" rx="5.3" ry="6.3"/><ellipse cx="345.6" cy="240" rx="12.6" ry="8.4"/></g><g mask="url(#n3a10)" fill="#d62728"><path d="M196.2 15.3L248.8 8.6L291.3 1.8L291.3 29.6L259.3 34.2L217.2 32.1L198.3 25.8Z"/><path d="M0 67.5L19.8 82.2L18.3 111.7L19.8 166.4L4.7 166.4L11 191.6L27.8 208.5L46.7 225.3L47.8 250.6L44.6 268.5L0 268.5Z"/><ellipse cx="97.3" cy="147.9" rx="20.6" ry="32"/><ellipse cx="136.2" cy="155" rx="15.2" ry="25.7"/><path d="M243.5 155.9L269.8 166.4L270.9 208.5L290.9 225.3L278.2 230.6L265.6 215.8L245.6 187.4Z"/><ellipse cx="351.9" cy="42.2" rx="12.6" ry="12.6"/><ellipse cx="186.7" cy="107.5" rx="3.4" ry="8.8"/><ellipse cx="230.3" cy="140.3" rx="3.8" ry="3.8"/><ellipse cx="72" cy="149.6" rx="3.8" ry="8.4"/><ellipse cx="349.8" cy="86.4" rx="10.5" ry="8.4"/><ellipse cx="314" cy="78" rx="5.3" ry="6.3"/><ellipse cx="345.6" cy="240" rx="12.6" ry="8.4"/></g><g mask="url(#n4r85)" fill="#c49c94"><ellipse cx="330.8" cy="126.8" rx="12.2" ry="11.8"/><ellipse cx="351.9" cy="160.1" rx="22.1" ry="24.2"/><ellipse cx="280.3" cy="162.6" rx="21" ry="19.4"/><ellipse cx="303.5" cy="167.4" rx="10.5" ry="8.4"/><ellipse cx="316.1" cy="214.8" rx="18.5" ry="19.4"/><ellipse cx="351.9" cy="60.1" rx="13" ry="10.5"/><ellipse cx="352.9" cy="103.3" rx="13" ry="10.9"/><ellipse cx="352.9" cy="255.2" rx="13" ry="11.8"/><ellipse cx="330.8" cy="185.3" rx="12.6" ry="6.3"/><ellipse cx="280.3" cy="141.1" rx="10.5" ry="8.4"/></g><g mask="url(#n4a6)" fill="#8fb4e0"><ellipse cx="330.8" cy="126.8" rx="12.2" ry="11.8"/><ellipse cx="351.9" cy="160.1" rx="22.1" ry="24.2"/><ellipse cx="280.3" cy="162.6" rx="21" ry="19.4"/><ellipse cx="303.5" cy="167.4" rx="10.5" ry="8.4"/><ellipse cx="316.1" cy="214.8" rx="18.5" ry="19.4"/><ellipse cx="351.9" cy="60.1" rx="13" ry="10.5"/><ellipse cx="352.9" cy="103.3" rx="13" ry="10.9"/><ellipse cx="352.9" cy="255.2" rx="13" ry="11.8"/><ellipse cx="330.8" cy="185.3" rx="12.6" ry="6.3"/><ellipse cx="280.3" cy="141.1" rx="10.5" ry="8.4"/></g><g fill="#fff"><ellipse cx="351.9" cy="158.4" rx="9.7" ry="8.4"/><ellipse cx="315.3" cy="211" rx="8.4" ry="8"/><ellipse cx="304.5" cy="168.9" rx="4.6" ry="5.5"/><ellipse cx="330.8" cy="127.3" rx="2.9" ry="2.5"/><ellipse cx="281.4" cy="167.4" rx="2.9" ry="2.5"/></g><g mask="url(#n4g90)" fill="#98df8a"><ellipse cx="280.3" cy="203.2" rx="7.2" ry="6.3"/></g><g mask="url(#n4b85)" fill="none" stroke="#8fb4e0" stroke-width="1.6"><ellipse cx="351.9" cy="158.4" rx="10.5" ry="9.3"/><ellipse cx="315.3" cy="211" rx="9.3" ry="8.8"/><ellipse cx="304.5" cy="168.9" rx="5.5" ry="6.3"/><ellipse cx="280.3" cy="203.2" rx="8" ry="7.2"/><ellipse cx="95.1" cy="124.3" rx="2.9" ry="4.6"/><ellipse cx="135.1" cy="141.1" rx="4.6" ry="6.3"/><ellipse cx="96.8" cy="158" rx="2.5" ry="3.4"/></g><g mask="url(#n5r88)" fill="#e07ac2"><path d="M0 -.3L93 .1L109.9 3.9L139.3 11.1L143.6 29.6L162.5 40.1L183.5 46.4L186.1 65.4L176.2 86.4L161.4 98.6L143.6 97.4L135.1 89L122.5 84.7L105.7 94.8L93 103.3L89.9 124.3L76.2 136.9L70.3 162.2L65.7 179L44.6 179.4L19.8 166.4L17.7 111.7L20.4 82.2L3 67.5L0 40.1Z"/><path d="M2.6 140.1L69.9 139L65.7 179L61.5 187.4L46.7 202.2L63.6 210.6L81.9 219L78.7 248L65.7 251L53.1 242.6L46.7 225.3L27.8 208.5L11 191.6L3.6 166.4Z"/><ellipse cx="330.8" cy="26.9" rx="3.4" ry="2.5"/><ellipse cx="226" cy="122.6" rx="2.5" ry="3.8"/><ellipse cx="120" cy="256.9" rx="1.9" ry="4.6"/><ellipse cx="230.9" cy="132.7" rx="1.7" ry="2.9"/></g><g mask="url(#n7r26f11)" fill="#c3c878"><path d="M0 -.3L93 .1L109.9 3.9L139.3 11.1L143.6 29.6L162.5 40.1L183.5 46.4L186.1 65.4L176.2 86.4L161.4 98.6L143.6 97.4L135.1 89L122.5 84.7L105.7 94.8L93 103.3L89.9 124.3L76.2 136.9L70.3 162.2L65.7 179L44.6 179.4L19.8 166.4L17.7 111.7L20.4 82.2L3 67.5L0 40.1Z"/><path d="M2.6 140.1L69.9 139L65.7 179L61.5 187.4L46.7 202.2L63.6 210.6L81.9 219L78.7 248L65.7 251L53.1 242.6L46.7 225.3L27.8 208.5L11 191.6L3.6 166.4Z"/><ellipse cx="330.8" cy="26.9" rx="3.4" ry="2.5"/><ellipse cx="226" cy="122.6" rx="2.5" ry="3.8"/><ellipse cx="120" cy="256.9" rx="1.9" ry="4.6"/><ellipse cx="230.9" cy="132.7" rx="1.7" ry="2.9"/></g><g mask="url(#n7g15f11)" fill="#ffffff"><path d="M0 -.3L93 .1L109.9 3.9L139.3 11.1L143.6 29.6L162.5 40.1L183.5 46.4L186.1 65.4L176.2 86.4L161.4 98.6L143.6 97.4L135.1 89L122.5 84.7L105.7 94.8L93 103.3L89.9 124.3L76.2 136.9L70.3 162.2L65.7 179L44.6 179.4L19.8 166.4L17.7 111.7L20.4 82.2L3 67.5L0 40.1Z"/><path d="M2.6 140.1L69.9 139L65.7 179L61.5 187.4L46.7 202.2L63.6 210.6L81.9 219L78.7 248L65.7 251L53.1 242.6L46.7 225.3L27.8 208.5L11 191.6L3.6 166.4Z"/><ellipse cx="330.8" cy="26.9" rx="3.4" ry="2.5"/><ellipse cx="226" cy="122.6" rx="2.5" ry="3.8"/><ellipse cx="120" cy="256.9" rx="1.9" ry="4.6"/><ellipse cx="230.9" cy="132.7" rx="1.7" ry="2.9"/></g><g mask="url(#n7b6f11)" fill="#279e68"><path d="M0 -.3L93 .1L109.9 3.9L139.3 11.1L143.6 29.6L162.5 40.1L183.5 46.4L186.1 65.4L176.2 86.4L161.4 98.6L143.6 97.4L135.1 89L122.5 84.7L105.7 94.8L93 103.3L89.9 124.3L76.2 136.9L70.3 162.2L65.7 179L44.6 179.4L19.8 166.4L17.7 111.7L20.4 82.2L3 67.5L0 40.1Z"/><path d="M2.6 140.1L69.9 139L65.7 179L61.5 187.4L46.7 202.2L63.6 210.6L81.9 219L78.7 248L65.7 251L53.1 242.6L46.7 225.3L27.8 208.5L11 191.6L3.6 166.4Z"/><ellipse cx="330.8" cy="26.9" rx="3.4" ry="2.5"/><ellipse cx="226" cy="122.6" rx="2.5" ry="3.8"/><ellipse cx="120" cy="256.9" rx="1.9" ry="4.6"/><ellipse cx="230.9" cy="132.7" rx="1.7" ry="2.9"/></g><g mask="url(#n5g35)" fill="#e07ac2"><path d="M0 -.3L93 .1L109.9 3.9L139.3 11.1L143.6 29.6L162.5 40.1L183.5 46.4L186.1 65.4L176.2 86.4L161.4 98.6L143.6 97.4L135.1 89L122.5 84.7L105.7 94.8L93 103.3L89.9 124.3L76.2 136.9L70.3 162.2L65.7 179L44.6 179.4L19.8 166.4L17.7 111.7L20.4 82.2L3 67.5L0 40.1Z"/><path d="M2.6 140.1L69.9 139L65.7 179L61.5 187.4L46.7 202.2L63.6 210.6L81.9 219L78.7 248L65.7 251L53.1 242.6L46.7 225.3L27.8 208.5L11 191.6L3.6 166.4Z"/><ellipse cx="330.8" cy="26.9" rx="3.4" ry="2.5"/><ellipse cx="226" cy="122.6" rx="2.5" ry="3.8"/><ellipse cx="120" cy="256.9" rx="1.9" ry="4.6"/><ellipse cx="230.9" cy="132.7" rx="1.7" ry="2.9"/></g><g mask="url(#n5b10)" fill="#b5bd61"><path d="M0 -.3L93 .1L109.9 3.9L139.3 11.1L143.6 29.6L162.5 40.1L183.5 46.4L186.1 65.4L176.2 86.4L161.4 98.6L143.6 97.4L135.1 89L122.5 84.7L105.7 94.8L93 103.3L89.9 124.3L76.2 136.9L70.3 162.2L65.7 179L44.6 179.4L19.8 166.4L17.7 111.7L20.4 82.2L3 67.5L0 40.1Z"/><path d="M2.6 140.1L69.9 139L65.7 179L61.5 187.4L46.7 202.2L63.6 210.6L81.9 219L78.7 248L65.7 251L53.1 242.6L46.7 225.3L27.8 208.5L11 191.6L3.6 166.4Z"/><ellipse cx="330.8" cy="26.9" rx="3.4" ry="2.5"/><ellipse cx="226" cy="122.6" rx="2.5" ry="3.8"/><ellipse cx="120" cy="256.9" rx="1.9" ry="4.6"/><ellipse cx="230.9" cy="132.7" rx="1.7" ry="2.9"/></g><g mask="url(#n6r90)" fill="#8c564b"><ellipse cx="38.3" cy="9" rx="11.8" ry="11.8"/><ellipse cx="27.8" cy="26.7" rx="10.5" ry="10.5"/><ellipse cx="56.4" cy="30.9" rx="10.9" ry="10.9"/><ellipse cx="36.2" cy="49.8" rx="12.2" ry="12.2"/><ellipse cx="46.7" cy="19.1" rx="8.8" ry="8.8"/><ellipse cx="269.8" cy="18.2" rx="18.5" ry="8.8"/><ellipse cx="257.8" cy="58.6" rx="13.5" ry="14.7"/><ellipse cx="267.3" cy="48.1" rx="7.6" ry="7.6"/><ellipse cx="263.9" cy="70" rx="5.1" ry="5.1"/><ellipse cx="290.9" cy="38" rx="5.1" ry="4.2"/><ellipse cx="3.2" cy="84.3" rx="3.4" ry="10.9"/><ellipse cx="94.3" cy="143.2" rx="7.6" ry="5.9"/><ellipse cx="203.1" cy="240.5" rx="6.3" ry="7.2"/><ellipse cx="208.8" cy="143.2" rx="4.2" ry="4.2"/><ellipse cx="20.2" cy="216.9" rx="5.1" ry="8.4"/><ellipse cx="10.6" cy="120.5" rx="5.1" ry="5.1"/><ellipse cx="180.4" cy="145.4" rx="3.8" ry="5.1"/><ellipse cx="13.1" cy="256.9" rx="8.4" ry="6.3"/><ellipse cx="218.3" cy="179" rx="2.5" ry="4.6"/><ellipse cx="218.3" cy="191.6" rx="2.5" ry="2.5"/></g><g mask="url(#n6g90)" fill="none" stroke="#8c564b" stroke-width="3"><ellipse cx="104.8" cy="12.8" rx="6.3" ry="5.5"/></g><g mask="url(#n6b10)" fill="#d9a0c0"><ellipse cx="38.3" cy="9" rx="11.8" ry="11.8"/><ellipse cx="27.8" cy="26.7" rx="10.5" ry="10.5"/><ellipse cx="56.4" cy="30.9" rx="10.9" ry="10.9"/><ellipse cx="36.2" cy="49.8" rx="12.2" ry="12.2"/><ellipse cx="46.7" cy="19.1" rx="8.8" ry="8.8"/><ellipse cx="269.8" cy="18.2" rx="18.5" ry="8.8"/><ellipse cx="257.8" cy="58.6" rx="13.5" ry="14.7"/><ellipse cx="267.3" cy="48.1" rx="7.6" ry="7.6"/><ellipse cx="263.9" cy="70" rx="5.1" ry="5.1"/><ellipse cx="290.9" cy="38" rx="5.1" ry="4.2"/><ellipse cx="3.2" cy="84.3" rx="3.4" ry="10.9"/><ellipse cx="94.3" cy="143.2" rx="7.6" ry="5.9"/><ellipse cx="203.1" cy="240.5" rx="6.3" ry="7.2"/><ellipse cx="208.8" cy="143.2" rx="4.2" ry="4.2"/><ellipse cx="20.2" cy="216.9" rx="5.1" ry="8.4"/><ellipse cx="10.6" cy="120.5" rx="5.1" ry="5.1"/><ellipse cx="180.4" cy="145.4" rx="3.8" ry="5.1"/><ellipse cx="13.1" cy="256.9" rx="8.4" ry="6.3"/><ellipse cx="218.3" cy="179" rx="2.5" ry="4.6"/><ellipse cx="218.3" cy="191.6" rx="2.5" ry="2.5"/></g><path d="M-1 -1H366V1L330 1L300 7L180 10L150 10L138 7L75 1.5L-1 0Z" fill="#fff"/></g></g>
<defs><filter id="Fn20r35f43" x="0" y="0" width="100%" height="100%" color-interpolation-filters="sRGB"><feTurbulence type="fractalNoise" baseFrequency="0.43" numOctaves="1" seed="20"/><feColorMatrix type="matrix" values="0 0 0 0 1 0 0 0 0 1 0 0 0 0 1 14 0 0 0 -7.35"/></filter><mask id="n20r35f43" maskUnits="userSpaceOnUse" x="-5" y="-5" width="240" height="290"><rect x="-5" y="-5" width="240" height="290" filter="url(#Fn20r35f43)"/></mask><filter id="Fn20g35f43" x="0" y="0" width="100%" height="100%" color-interpolation-filters="sRGB"><feTurbulence type="fractalNoise" baseFrequency="0.43" numOctaves="1" seed="20"/><feColorMatrix type="matrix" values="0 0 0 0 1 0 0 0 0 1 0 0 0 0 1 0 14 0 0 -7.35"/></filter><mask id="n20g35f43" maskUnits="userSpaceOnUse" x="-5" y="-5" width="240" height="290"><rect x="-5" y="-5" width="240" height="290" filter="url(#Fn20g35f43)"/></mask><filter id="Fn20b55f43" x="0" y="0" width="100%" height="100%" color-interpolation-filters="sRGB"><feTurbulence type="fractalNoise" baseFrequency="0.43" numOctaves="1" seed="20"/><feColorMatrix type="matrix" values="0 0 0 0 1 0 0 0 0 1 0 0 0 0 1 0 0 14 0 -6.55"/></filter><mask id="n20b55f43" maskUnits="userSpaceOnUse" x="-5" y="-5" width="240" height="290"><rect x="-5" y="-5" width="240" height="290" filter="url(#Fn20b55f43)"/></mask><filter id="Fn20a26f43" x="0" y="0" width="100%" height="100%" color-interpolation-filters="sRGB"><feTurbulence type="fractalNoise" baseFrequency="0.43" numOctaves="1" seed="20"/><feColorMatrix type="matrix" values="0 0 0 0 1 0 0 0 0 1 0 0 0 0 1 0 0 0 14 -7.70"/></filter><mask id="n20a26f43" maskUnits="userSpaceOnUse" x="-5" y="-5" width="240" height="290"><rect x="-5" y="-5" width="240" height="290" filter="url(#Fn20a26f43)"/></mask><filter id="Fn21r10f43" x="0" y="0" width="100%" height="100%" color-interpolation-filters="sRGB"><feTurbulence type="fractalNoise" baseFrequency="0.43" numOctaves="1" seed="21"/><feColorMatrix type="matrix" values="0 0 0 0 1 0 0 0 0 1 0 0 0 0 1 14 0 0 0 -8.82"/></filter><mask id="n21r10f43" maskUnits="userSpaceOnUse" x="-5" y="-5" width="240" height="290"><rect x="-5" y="-5" width="240" height="290" filter="url(#Fn21r10f43)"/></mask><filter id="Fn21g70f43" x="0" y="0" width="100%" height="100%" color-interpolation-filters="sRGB"><feTurbulence type="fractalNoise" baseFrequency="0.43" numOctaves="1" seed="21"/><feColorMatrix type="matrix" values="0 0 0 0 1 0 0 0 0 1 0 0 0 0 1 0 14 0 0 -5.99"/></filter><mask id="n21g70f43" maskUnits="userSpaceOnUse" x="-5" y="-5" width="240" height="290"><rect x="-5" y="-5" width="240" height="290" filter="url(#Fn21g70f43)"/></mask><filter id="Fn21b70f43" x="0" y="0" width="100%" height="100%" color-interpolation-filters="sRGB"><feTurbulence type="fractalNoise" baseFrequency="0.43" numOctaves="1" seed="21"/><feColorMatrix type="matrix" values="0 0 0 0 1 0 0 0 0 1 0 0 0 0 1 0 0 14 0 -5.99"/></filter><mask id="n21b70f43" maskUnits="userSpaceOnUse" x="-5" y="-5" width="240" height="290"><rect x="-5" y="-5" width="240" height="290" filter="url(#Fn21b70f43)"/></mask><filter id="Fn21a96f43" x="0" y="0" width="100%" height="100%" color-interpolation-filters="sRGB"><feTurbulence type="fractalNoise" baseFrequency="0.43" numOctaves="1" seed="21"/><feColorMatrix type="matrix" values="0 0 0 0 1 0 0 0 0 1 0 0 0 0 1 0 0 0 14 -4.20"/></filter><mask id="n21a96f43" maskUnits="userSpaceOnUse" x="-5" y="-5" width="240" height="290"><rect x="-5" y="-5" width="240" height="290" filter="url(#Fn21a96f43)"/></mask><filter id="Fn22r70f43" x="0" y="0" width="100%" height="100%" color-interpolation-filters="sRGB"><feTurbulence type="fractalNoise" baseFrequency="0.43" numOctaves="1" seed="22"/><feColorMatrix type="matrix" values="0 0 0 0 1 0 0 0 0 1 0 0 0 0 1 14 0 0 0 -5.99"/></filter><mask id="n22r70f43" maskUnits="userSpaceOnUse" x="-5" y="-5" width="240" height="290"><rect x="-5" y="-5" width="240" height="290" filter="url(#Fn22r70f43)"/></mask><filter id="Fn22g20f43" x="0" y="0" width="100%" height="100%" color-interpolation-filters="sRGB"><feTurbulence type="fractalNoise" baseFrequency="0.43" numOctaves="1" seed="22"/><feColorMatrix type="matrix" values="0 0 0 0 1 0 0 0 0 1 0 0 0 0 1 0 14 0 0 -8.05"/></filter><mask id="n22g20f43" maskUnits="userSpaceOnUse" x="-5" y="-5" width="240" height="290"><rect x="-5" y="-5" width="240" height="290" filter="url(#Fn22g20f43)"/></mask><filter id="Fn22b20f43" x="0" y="0" width="100%" height="100%" color-interpolation-filters="sRGB"><feTurbulence type="fractalNoise" baseFrequency="0.43" numOctaves="1" seed="22"/><feColorMatrix type="matrix" values="0 0 0 0 1 0 0 0 0 1 0 0 0 0 1 0 0 14 0 -8.05"/></filter><mask id="n22b20f43" maskUnits="userSpaceOnUse" x="-5" y="-5" width="240" height="290"><rect x="-5" y="-5" width="240" height="290" filter="url(#Fn22b20f43)"/></mask><filter id="Fn22a78f43" x="0" y="0" width="100%" height="100%" color-interpolation-filters="sRGB"><feTurbulence type="fractalNoise" baseFrequency="0.43" numOctaves="1" seed="22"/><feColorMatrix type="matrix" values="0 0 0 0 1 0 0 0 0 1 0 0 0 0 1 0 0 0 14 -5.60"/></filter><mask id="n22a78f43" maskUnits="userSpaceOnUse" x="-5" y="-5" width="240" height="290"><rect x="-5" y="-5" width="240" height="290" filter="url(#Fn22a78f43)"/></mask><filter id="Fn23r62f43" x="0" y="0" width="100%" height="100%" color-interpolation-filters="sRGB"><feTurbulence type="fractalNoise" baseFrequency="0.43" numOctaves="1" seed="23"/><feColorMatrix type="matrix" values="0 0 0 0 1 0 0 0 0 1 0 0 0 0 1 14 0 0 0 -6.30"/></filter><mask id="n23r62f43" maskUnits="userSpaceOnUse" x="-5" y="-5" width="240" height="290"><rect x="-5" y="-5" width="240" height="290" filter="url(#Fn23r62f43)"/></mask><filter id="Fn23g10f43" x="0" y="0" width="100%" height="100%" color-interpolation-filters="sRGB"><feTurbulence type="fractalNoise" baseFrequency="0.43" numOctaves="1" seed="23"/><feColorMatrix type="matrix" values="0 0 0 0 1 0 0 0 0 1 0 0 0 0 1 0 14 0 0 -8.82"/></filter><mask id="n23g10f43" maskUnits="userSpaceOnUse" x="-5" y="-5" width="240" height="290"><rect x="-5" y="-5" width="240" height="290" filter="url(#Fn23g10f43)"/></mask><filter id="Fn23b85f43" x="0" y="0" width="100%" height="100%" color-interpolation-filters="sRGB"><feTurbulence type="fractalNoise" baseFrequency="0.43" numOctaves="1" seed="23"/><feColorMatrix type="matrix" values="0 0 0 0 1 0 0 0 0 1 0 0 0 0 1 0 0 14 0 -5.25"/></filter><mask id="n23b85f43" maskUnits="userSpaceOnUse" x="-5" y="-5" width="240" height="290"><rect x="-5" y="-5" width="240" height="290" filter="url(#Fn23b85f43)"/></mask><filter id="Fn23a70f43" x="0" y="0" width="100%" height="100%" color-interpolation-filters="sRGB"><feTurbulence type="fractalNoise" baseFrequency="0.43" numOctaves="1" seed="23"/><feColorMatrix type="matrix" values="0 0 0 0 1 0 0 0 0 1 0 0 0 0 1 0 0 0 14 -5.99"/></filter><mask id="n23a70f43" maskUnits="userSpaceOnUse" x="-5" y="-5" width="240" height="290"><rect x="-5" y="-5" width="240" height="290" filter="url(#Fn23a70f43)"/></mask><filter id="Fn24r85f43" x="0" y="0" width="100%" height="100%" color-interpolation-filters="sRGB"><feTurbulence type="fractalNoise" baseFrequency="0.43" numOctaves="1" seed="24"/><feColorMatrix type="matrix" values="0 0 0 0 1 0 0 0 0 1 0 0 0 0 1 14 0 0 0 -5.25"/></filter><mask id="n24r85f43" maskUnits="userSpaceOnUse" x="-5" y="-5" width="240" height="290"><rect x="-5" y="-5" width="240" height="290" filter="url(#Fn24r85f43)"/></mask><filter id="Fn24g80f43" x="0" y="0" width="100%" height="100%" color-interpolation-filters="sRGB"><feTurbulence type="fractalNoise" baseFrequency="0.43" numOctaves="1" seed="24"/><feColorMatrix type="matrix" values="0 0 0 0 1 0 0 0 0 1 0 0 0 0 1 0 14 0 0 -5.49"/></filter><mask id="n24g80f43" maskUnits="userSpaceOnUse" x="-5" y="-5" width="240" height="290"><rect x="-5" y="-5" width="240" height="290" filter="url(#Fn24g80f43)"/></mask><filter id="Fn24b80f43" x="0" y="0" width="100%" height="100%" color-interpolation-filters="sRGB"><feTurbulence type="fractalNoise" baseFrequency="0.43" numOctaves="1" seed="24"/><feColorMatrix type="matrix" values="0 0 0 0 1 0 0 0 0 1 0 0 0 0 1 0 0 14 0 -5.49"/></filter><mask id="n24b80f43" maskUnits="userSpaceOnUse" x="-5" y="-5" width="240" height="290"><rect x="-5" y="-5" width="240" height="290" filter="url(#Fn24b80f43)"/></mask><filter id="Fn24a85f43" x="0" y="0" width="100%" height="100%" color-interpolation-filters="sRGB"><feTurbulence type="fractalNoise" baseFrequency="0.43" numOctaves="1" seed="24"/><feColorMatrix type="matrix" values="0 0 0 0 1 0 0 0 0 1 0 0 0 0 1 0 0 0 14 -5.25"/></filter><mask id="n24a85f43" maskUnits="userSpaceOnUse" x="-5" y="-5" width="240" height="290"><rect x="-5" y="-5" width="240" height="290" filter="url(#Fn24a85f43)"/></mask><filter id="Fn25r96f43" x="0" y="0" width="100%" height="100%" color-interpolation-filters="sRGB"><feTurbulence type="fractalNoise" baseFrequency="0.43" numOctaves="1" seed="25"/><feColorMatrix type="matrix" values="0 0 0 0 1 0 0 0 0 1 0 0 0 0 1 14 0 0 0 -4.20"/></filter><mask id="n25r96f43" maskUnits="userSpaceOnUse" x="-5" y="-5" width="240" height="290"><rect x="-5" y="-5" width="240" height="290" filter="url(#Fn25r96f43)"/></mask><filter id="Fn25g62f43" x="0" y="0" width="100%" height="100%" color-interpolation-filters="sRGB"><feTurbulence type="fractalNoise" baseFrequency="0.43" numOctaves="1" seed="25"/><feColorMatrix type="matrix" values="0 0 0 0 1 0 0 0 0 1 0 0 0 0 1 0 14 0 0 -6.30"/></filter><mask id="n25g62f43" maskUnits="userSpaceOnUse" x="-5" y="-5" width="240" height="290"><rect x="-5" y="-5" width="240" height="290" filter="url(#Fn25g62f43)"/></mask><filter id="Fn25b85f43" x="0" y="0" width="100%" height="100%" color-interpolation-filters="sRGB"><feTurbulence type="fractalNoise" baseFrequency="0.43" numOctaves="1" seed="25"/><feColorMatrix type="matrix" values="0 0 0 0 1 0 0 0 0 1 0 0 0 0 1 0 0 14 0 -5.25"/></filter><mask id="n25b85f43" maskUnits="userSpaceOnUse" x="-5" y="-5" width="240" height="290"><rect x="-5" y="-5" width="240" height="290" filter="url(#Fn25b85f43)"/></mask><filter id="Fn25a80f43" x="0" y="0" width="100%" height="100%" color-interpolation-filters="sRGB"><feTurbulence type="fractalNoise" baseFrequency="0.43" numOctaves="1" seed="25"/><feColorMatrix type="matrix" values="0 0 0 0 1 0 0 0 0 1 0 0 0 0 1 0 0 0 14 -5.49"/></filter><mask id="n25a80f43" maskUnits="userSpaceOnUse" x="-5" y="-5" width="240" height="290"><rect x="-5" y="-5" width="240" height="290" filter="url(#Fn25a80f43)"/></mask><filter id="Fn26r88f43" x="0" y="0" width="100%" height="100%" color-interpolation-filters="sRGB"><feTurbulence type="fractalNoise" baseFrequency="0.43" numOctaves="1" seed="26"/><feColorMatrix type="matrix" values="0 0 0 0 1 0 0 0 0 1 0 0 0 0 1 14 0 0 0 -5.11"/></filter><mask id="n26r88f43" maskUnits="userSpaceOnUse" x="-5" y="-5" width="240" height="290"><rect x="-5" y="-5" width="240" height="290" filter="url(#Fn26r88f43)"/></mask><filter id="Fn26g85f43" x="0" y="0" width="100%" height="100%" color-interpolation-filters="sRGB"><feTurbulence type="fractalNoise" baseFrequency="0.43" numOctaves="1" seed="26"/><feColorMatrix type="matrix" values="0 0 0 0 1 0 0 0 0 1 0 0 0 0 1 0 14 0 0 -5.25"/></filter><mask id="n26g85f43" maskUnits="userSpaceOnUse" x="-5" y="-5" width="240" height="290"><rect x="-5" y="-5" width="240" height="290" filter="url(#Fn26g85f43)"/></mask><filter id="Fn26b88f43" x="0" y="0" width="100%" height="100%" color-interpolation-filters="sRGB"><feTurbulence type="fractalNoise" baseFrequency="0.43" numOctaves="1" seed="26"/><feColorMatrix type="matrix" values="0 0 0 0 1 0 0 0 0 1 0 0 0 0 1 0 0 14 0 -5.11"/></filter><mask id="n26b88f43" maskUnits="userSpaceOnUse" x="-5" y="-5" width="240" height="290"><rect x="-5" y="-5" width="240" height="290" filter="url(#Fn26b88f43)"/></mask><filter id="Fn26a96f43" x="0" y="0" width="100%" height="100%" color-interpolation-filters="sRGB"><feTurbulence type="fractalNoise" baseFrequency="0.43" numOctaves="1" seed="26"/><feColorMatrix type="matrix" values="0 0 0 0 1 0 0 0 0 1 0 0 0 0 1 0 0 0 14 -4.20"/></filter><mask id="n26a96f43" maskUnits="userSpaceOnUse" x="-5" y="-5" width="240" height="290"><rect x="-5" y="-5" width="240" height="290" filter="url(#Fn26a96f43)"/></mask><filter id="Fn27r75f43" x="0" y="0" width="100%" height="100%" color-interpolation-filters="sRGB"><feTurbulence type="fractalNoise" baseFrequency="0.43" numOctaves="1" seed="27"/><feColorMatrix type="matrix" values="0 0 0 0 1 0 0 0 0 1 0 0 0 0 1 14 0 0 0 -5.74"/></filter><mask id="n27r75f43" maskUnits="userSpaceOnUse" x="-5" y="-5" width="240" height="290"><rect x="-5" y="-5" width="240" height="290" filter="url(#Fn27r75f43)"/></mask><filter id="Fn27g90f43" x="0" y="0" width="100%" height="100%" color-interpolation-filters="sRGB"><feTurbulence type="fractalNoise" baseFrequency="0.43" numOctaves="1" seed="27"/><feColorMatrix type="matrix" values="0 0 0 0 1 0 0 0 0 1 0 0 0 0 1 0 14 0 0 -4.97"/></filter><mask id="n27g90f43" maskUnits="userSpaceOnUse" x="-5" y="-5" width="240" height="290"><rect x="-5" y="-5" width="240" height="290" filter="url(#Fn27g90f43)"/></mask><filter id="Fn27b85f43" x="0" y="0" width="100%" height="100%" color-interpolation-filters="sRGB"><feTurbulence type="fractalNoise" baseFrequency="0.43" numOctaves="1" seed="27"/><feColorMatrix type="matrix" values="0 0 0 0 1 0 0 0 0 1 0 0 0 0 1 0 0 14 0 -5.25"/></filter><mask id="n27b85f43" maskUnits="userSpaceOnUse" x="-5" y="-5" width="240" height="290"><rect x="-5" y="-5" width="240" height="290" filter="url(#Fn27b85f43)"/></mask><filter id="Fn27a80f43" x="0" y="0" width="100%" height="100%" color-interpolation-filters="sRGB"><feTurbulence type="fractalNoise" baseFrequency="0.43" numOctaves="1" seed="27"/><feColorMatrix type="matrix" values="0 0 0 0 1 0 0 0 0 1 0 0 0 0 1 0 0 0 14 -5.49"/></filter><mask id="n27a80f43" maskUnits="userSpaceOnUse" x="-5" y="-5" width="240" height="290"><rect x="-5" y="-5" width="240" height="290" filter="url(#Fn27a80f43)"/></mask><filter id="Fn28r70f43" x="0" y="0" width="100%" height="100%" color-interpolation-filters="sRGB"><feTurbulence type="fractalNoise" baseFrequency="0.43" numOctaves="1" seed="28"/><feColorMatrix type="matrix" values="0 0 0 0 1 0 0 0 0 1 0 0 0 0 1 14 0 0 0 -5.99"/></filter><mask id="n28r70f43" maskUnits="userSpaceOnUse" x="-5" y="-5" width="240" height="290"><rect x="-5" y="-5" width="240" height="290" filter="url(#Fn28r70f43)"/></mask></defs>
<g transform="translate(987 35)"><g mask="url(#n20r35f43)" fill="#c9828f"><path d="M162.8 91L183.8 82.2L204.7 82.2L212.4 104.2L212.4 145L179.3 145L174.9 115.2Z"/><path d="M118.7 60.1L140.8 62.3L146.3 82.2L129.7 82.2Z"/><path d="M179.3 130L213.5 130L213.5 171.9L190.4 176.3L183.8 157.6Z"/></g><g mask="url(#n20g35f43)" fill="#4f6cc0"><path d="M179.3 152L213.5 157.6L213.5 185.1L206.9 207.2L190.4 229.2L168.3 244.6L140.8 254.5L113.2 256.7L94.5 252.3L94.5 229.2L113.2 227L135.3 221.5L157.3 213.8L170.5 201.6L174.9 179.6Z"/><path d="M51.5 157.6L73.5 163.1L91.2 191.7L93.4 218.2L73.5 220.4L64.7 200.5L55.9 182.9Z"/><path d="M168.3 104.2L212.4 104.2L212.4 145L179.3 145Z"/></g><g mask="url(#n20b55f43)" fill="#4f6cc0"><path d="M95.6 249L113.2 253.4L140.8 251.2L166.1 241.3" fill="none" stroke="#4f6cc0" stroke-width="12.9" stroke-linecap="round" stroke-linejoin="round"/></g><g mask="url(#n20a26f43)" fill="#d2ece8"><path d="M179.3 163.1L213.5 168.6L206.9 207.2L190.4 229.2L168.3 244.6L140.8 251.2L102.2 245.7L100 231.4L135.3 223.7L157.3 216L172.7 201.6Z"/></g><g mask="url(#n21r10f43)" fill="#3fbdb3"><path d="M168.3 185.1L206.9 174.1L201.4 218.2L168.3 240.2L113.2 251.2L113.2 234.7L157.3 218.2Z"/></g><g mask="url(#n21g70f43)" fill="#97d9cf"><ellipse cx="25" cy="115.2" rx="11" ry="22"/><ellipse cx="32.8" cy="134.4" rx="9.9" ry="7.7"/></g><g mask="url(#n21b70f43)" fill="#c5e0c6"><ellipse cx="23.9" cy="82.2" rx="5.5" ry="18.7"/><ellipse cx="36.1" cy="95.4" rx="5.5" ry="13.2"/><ellipse cx="31.7" cy="66.7" rx="8.8" ry="4.4"/></g><g mask="url(#n21a96f43)" fill="#ffffff"><ellipse cx="29.5" cy="75.5" rx="6.1" ry="6.6"/><ellipse cx="31.7" cy="110.8" rx="3.3" ry="4.4"/><ellipse cx="36.1" cy="121.8" rx="2.8" ry="3.3"/></g><g mask="url(#n22r70f43)" fill="#ee9ac6"><path d="M21.7 56.8L15.7 76.6L12.4 98.7L16.2 120.7L23.4 137.3L28.3 145" fill="none" stroke="#ee9ac6" stroke-width="2.6" stroke-linecap="round" stroke-linejoin="round"/><path d="M21.7 56.8L36.1 49.1L49.3 49.1" fill="none" stroke="#ee9ac6" stroke-width="2" stroke-linecap="round" stroke-linejoin="round"/></g><g mask="url(#n22g20f43)" fill="#3fb54a"><path d="M33.9 49.1L60.3 49.1L62.5 71.1L49.3 75.5L36.1 66.7Z"/></g><g mask="url(#n22b20f43)" fill="#8a93c9"><path d="M33.9 49.1L60.3 49.1L62.5 71.1L49.3 75.5L36.1 66.7Z"/></g><g mask="url(#n22a78f43)" fill="#b9c0e6"><path d="M73.5 30.3L74.6 62.3" fill="none" stroke="#b9c0e6" stroke-width="11.5" stroke-linecap="round" stroke-linejoin="round"/><path d="M52.6 86.6L52.6 115.2L55.9 131.7" fill="none" stroke="#b9c0e6" stroke-width="12.9" stroke-linecap="round" stroke-linejoin="round"/><path d="M149.6 152L146.3 174.1L145.2 191.7" fill="none" stroke="#b9c0e6" stroke-width="7.2" stroke-linecap="round" stroke-linejoin="round"/><path d="M125.3 137.7L126.4 171.9" fill="none" stroke="#b9c0e6" stroke-width="7.2" stroke-linecap="round" stroke-linejoin="round"/><path d="M148.5 134.4L159.5 142.1" fill="none" stroke="#b9c0e6" stroke-width="5.7" stroke-linecap="round" stroke-linejoin="round"/></g><g mask="url(#n23r62f43)" fill="#1f4ba5"><path d="M66.9 23.7L65.8 64.5" fill="none" stroke="#1f4ba5" stroke-width="7.2" stroke-linecap="round" stroke-linejoin="round"/><path d="M79 27L79 62.3" fill="none" stroke="#1f4ba5" stroke-width="4.3" stroke-linecap="round" stroke-linejoin="round"/><path d="M55.9 66.7L80.2 62.3L80.7 96.5L64.7 98.7L55.9 89.9L44.9 84.4L47.1 77.7Z"/><path d="M64.7 22.6L77.9 23.7" fill="none" stroke="#1f4ba5" stroke-width="4.3" stroke-linecap="round" stroke-linejoin="round"/></g><g mask="url(#n23g10f43)" fill="#3fb54a"><path d="M55.9 22.6L82.4 22.6L82.4 98.7L44.9 98.7L44.9 66.7Z"/></g><g mask="url(#n23b85f43)" fill="#e0788c"><path d="M94.5 17.1L105.5 12.2L122 15.5L140.8 21L150.7 27L151.8 37L145.2 42.5L159.5 43.6L177.1 46.3L182.1 54.6L181 71.1L174.9 77.2L162.8 79.9L151.8 75.5L140.8 68.9L129.7 62.3L118.7 57.9L107.7 52.9L96.7 51.3L84.6 52.4" fill="none" stroke="#e0788c" stroke-width="8.9" stroke-linecap="round" stroke-linejoin="round"/><path d="M83.5 52.4L80.7 62.3L82.9 75.5" fill="none" stroke="#e0788c" stroke-width="7.2" stroke-linecap="round" stroke-linejoin="round"/><path d="M135.3 65.1L151.8 73.3L162.8 75.5L174.9 70" fill="none" stroke="#e0788c" stroke-width="13.6" stroke-linecap="round" stroke-linejoin="round"/></g><g mask="url(#n23a70f43)" fill="#ecd3c7"><path d="M86.8 28.1L90.1 38.1L94.5 17.1" fill="none" stroke="#ecd3c7" stroke-width="6.4" stroke-linecap="round" stroke-linejoin="round"/><path d="M133.1 21.5L145.2 25.9" fill="none" stroke="#ecd3c7" stroke-width="5.7" stroke-linecap="round" stroke-linejoin="round"/><path d="M139.7 64.5L149.6 70" fill="none" stroke="#ecd3c7" stroke-width="5.7" stroke-linecap="round" stroke-linejoin="round"/><path d="M168.3 62.3L178.2 68.9" fill="none" stroke="#ecd3c7" stroke-width="6.4" stroke-linecap="round" stroke-linejoin="round"/><path d="M108.8 12.7L118.7 14.9" fill="none" stroke="#ecd3c7" stroke-width="4.3" stroke-linecap="round" stroke-linejoin="round"/></g><g mask="url(#n24r85f43)" fill="#3fbdb3"><path d="M145.2 22.6L151.8 25.9" fill="none" stroke="#3fbdb3" stroke-width="5.7" stroke-linecap="round" stroke-linejoin="round"/><path d="M174.9 42.5L179.3 45.8" fill="none" stroke="#3fbdb3" stroke-width="3.6" stroke-linecap="round" stroke-linejoin="round"/></g><g mask="url(#n24g80f43)" fill="#3fbdb3"><path d="M87.9 62.3L85.1 82.2L82.9 99.8L84 115.2L91.2 127.3L102.2 131.7L113.2 128.4L119.8 120.7" fill="none" stroke="#3fbdb3" stroke-width="7.9" stroke-linecap="round" stroke-linejoin="round"/><path d="M100 73.3L102.7 84.4L96.7 89.9" fill="none" stroke="#3fbdb3" stroke-width="5.2" stroke-linecap="round" stroke-linejoin="round"/><ellipse cx="136.4" cy="118.5" rx="12.1" ry="7.5"/><ellipse cx="194.8" cy="89.9" rx="10.5" ry="7.7"/><path d="M64.7 142.1L80.2 147.6L96.7 146.5L108.8 138.8" fill="none" stroke="#3fbdb3" stroke-width="5" stroke-linecap="round" stroke-linejoin="round"/></g><g mask="url(#n24b80f43)" fill="#97d9cf"><ellipse cx="121.5" cy="82.2" rx="3.3" ry="4.4"/></g><g mask="url(#n24a85f43)" fill="#e0788c"><path d="M116 109.2L115.6 113.4L114.4 117.4L112.6 120.8L110.2 123.5L107.4 125.1L104.4 125.7L101.4 125.1L98.6 123.5L96.2 120.8L94.4 117.4L93.2 113.4L92.8 109.2L93.2 104.9L94.4 100.9L96.2 97.5L98.6 94.8L101.4 93.2L104.4 92.6L107.4 93.2L110.2 94.8L112.6 97.5L114.4 100.9L115.6 104.9L116 109.2" fill="none" stroke="#e0788c" stroke-width="9.4" stroke-linecap="round" stroke-linejoin="round"/><ellipse cx="93.4" cy="81" rx="6.6" ry="7.2"/><path d="M97.8 98.7L108.8 93.2L117.6 96.5" fill="none" stroke="#e0788c" stroke-width="5.7" stroke-linecap="round" stroke-linejoin="round"/></g><g mask="url(#n25r96f43)" fill="#ffffff"><ellipse cx="103.3" cy="108.1" rx="3.5" ry="5"/><ellipse cx="93.9" cy="81" rx="2" ry="2.8"/></g><g mask="url(#n25g62f43)" fill="#8fd08e"><ellipse cx="105.5" cy="100.9" rx="4.4" ry="3.3"/><ellipse cx="112.1" cy="51.3" rx="2.8" ry="3.3"/><ellipse cx="105.5" cy="71.1" rx="2.2" ry="6.6"/></g><g mask="url(#n25b85f43)" fill="#f5bcd9"><path d="M122.6 91L124.2 104.2L120.4 120.7L108.8 132.9L93.4 135.6" fill="none" stroke="#f5bcd9" stroke-width="3.7" stroke-linecap="round" stroke-linejoin="round"/><path d="M73.5 115.2L74.6 131.7" fill="none" stroke="#f5bcd9" stroke-width="10" stroke-linecap="round" stroke-linejoin="round"/><path d="M127.5 107.5L140.8 106.4" fill="none" stroke="#f5bcd9" stroke-width="5.7" stroke-linecap="round" stroke-linejoin="round"/><path d="M160.6 176.3L157.3 191.7L149.6 202.7L129.7 207.7L113.2 214.3L98.9 211" fill="none" stroke="#f5bcd9" stroke-width="8.9" stroke-linecap="round" stroke-linejoin="round"/><path d="M155.7 146.5L157.9 163.1L160.1 176.3" fill="none" stroke="#f5bcd9" stroke-width="4" stroke-linecap="round" stroke-linejoin="round"/><path d="M55.9 247.9L73.5 249" fill="none" stroke="#f5bcd9" stroke-width="12.9" stroke-linecap="round" stroke-linejoin="round"/><path d="M69.1 218.2L86.8 224.8" fill="none" stroke="#f5bcd9" stroke-width="11.5" stroke-linecap="round" stroke-linejoin="round"/></g><g mask="url(#n25a80f43)" fill="#f5dde8"><path d="M69.1 244.6L80.2 251.2" fill="none" stroke="#f5dde8" stroke-width="8.6" stroke-linecap="round" stroke-linejoin="round"/><path d="M71.3 216L86.8 218.2" fill="none" stroke="#f5dde8" stroke-width="7.2" stroke-linecap="round" stroke-linejoin="round"/></g><g mask="url(#n26r88f43)" fill="#d93f68"><path d="M47.1 115.2L47.1 145" fill="none" stroke="#d93f68" stroke-width="10" stroke-linecap="round" stroke-linejoin="round"/><ellipse cx="142.4" cy="86.6" rx="7.2" ry="6.1"/><path d="M149.6 93.2L157.3 115.2L162.8 131.7L168.3 145" fill="none" stroke="#d93f68" stroke-width="4.6" stroke-linecap="round" stroke-linejoin="round"/><path d="M112.1 60.1L116.5 82.2" fill="none" stroke="#d93f68" stroke-width="3.2" stroke-linecap="round" stroke-linejoin="round"/><path d="M64.7 102L69.1 120.7L77.9 131.7" fill="none" stroke="#d93f68" stroke-width="2.3" stroke-linecap="round" stroke-linejoin="round"/><path d="M54.3 136.6L54.8 153.1" fill="none" stroke="#d93f68" stroke-width="10" stroke-linecap="round" stroke-linejoin="round"/><path d="M50.4 239.1L60.3 241.5L69.1 235.8L71.9 227" fill="none" stroke="#d93f68" stroke-width="4" stroke-linecap="round" stroke-linejoin="round"/><path d="M155.1 133.3L167.2 141L171.6 152L169.4 163.1L162.8 171.9" fill="none" stroke="#d93f68" stroke-width="6" stroke-linecap="round" stroke-linejoin="round"/><path d="M165 178.5L163.9 207.2" fill="none" stroke="#d93f68" stroke-width="9.3" stroke-linecap="round" stroke-linejoin="round"/><path d="M125.3 219.8L140.8 218.2L157.3 209.4" fill="none" stroke="#d93f68" stroke-width="4.9" stroke-linecap="round" stroke-linejoin="round"/><path d="M188.2 146.5L189.3 167.5" fill="none" stroke="#d93f68" stroke-width="8.6" stroke-linecap="round" stroke-linejoin="round"/></g><g mask="url(#n26g85f43)" fill="#8e0c3c"><path d="M80.2 217.1L87.9 222.6" fill="none" stroke="#8e0c3c" stroke-width="2.6" stroke-linecap="round" stroke-linejoin="round"/><path d="M73.5 136.2L86.8 138.9" fill="none" stroke="#8e0c3c" stroke-width="2" stroke-linecap="round" stroke-linejoin="round"/></g><g mask="url(#n26b88f43)" fill="#e0788c"><path d="M54.3 191.7L53.8 194.4L52.7 196.9L50.8 198.9L48.5 200.1L46 200.5L43.4 200.1L41.1 198.9L39.3 196.9L38.1 194.4L37.7 191.7L38.1 189L39.3 186.5L41.1 184.6L43.4 183.3L46 182.9L48.5 183.3L50.8 184.6L52.7 186.5L53.8 189L54.3 191.7" fill="none" stroke="#e0788c" stroke-width="6.4" stroke-linecap="round" stroke-linejoin="round"/><ellipse cx="49.3" cy="168" rx="5" ry="6.6"/><ellipse cx="65.3" cy="174.1" rx="3.9" ry="7.7"/></g><g mask="url(#n26a96f43)" fill="#ffffff"><ellipse cx="45.4" cy="191.7" rx="5.3" ry="4.4"/></g><g mask="url(#n27r75f43)" fill="#dcc3c8"><path d="M47.1 202.7L64.7 202.7L65.8 229.2L48.2 229.2Z"/><path d="M113.2 136.6L146.3 136.1" fill="none" stroke="#dcc3c8" stroke-width="8.6" stroke-linecap="round" stroke-linejoin="round"/><path d="M137.5 141L135.3 163.1L136.4 179.6" fill="none" stroke="#dcc3c8" stroke-width="10.7" stroke-linecap="round" stroke-linejoin="round"/><path d="M116.5 152L117.6 167.5" fill="none" stroke="#dcc3c8" stroke-width="8.6" stroke-linecap="round" stroke-linejoin="round"/><path d="M113.2 136.2L157.3 140.6" fill="none" stroke="#dcc3c8" stroke-width="8.6" stroke-linecap="round" stroke-linejoin="round"/><path d="M71.3 102L75.7 115.2" fill="none" stroke="#dcc3c8" stroke-width="8.6" stroke-linecap="round" stroke-linejoin="round"/></g><g mask="url(#n27g90f43)" fill="#ffffff"><ellipse cx="55.9" cy="207.2" rx="2.2" ry="2.8"/><ellipse cx="58.1" cy="217.1" rx="2" ry="2.2"/></g><g mask="url(#n27b85f43)" fill="#f0b78c"><path d="M123.1 184L135.3 181.8L138.6 196.1L148.5 198.3L145.2 203.3L135.3 201.6L129.7 191.7L123.1 189.5Z"/><path d="M108.8 134.4L111 152L112.1 167.5" fill="none" stroke="#f0b78c" stroke-width="2" stroke-linecap="round" stroke-linejoin="round"/><path d="M62.5 147.6L80.2 166.4L91.2 191.7L94.5 204.9L108.8 213.8" fill="none" stroke="#f0b78c" stroke-width="1.7" stroke-linecap="round" stroke-linejoin="round"/><path d="M39.4 84.4L44.9 104.2L41.6 115.2" fill="none" stroke="#f0b78c" stroke-width="2" stroke-linecap="round" stroke-linejoin="round"/><path d="M58.1 99.8L60.3 126.2L62.5 145" fill="none" stroke="#f0b78c" stroke-width="2" stroke-linecap="round" stroke-linejoin="round"/><path d="M46.5 229.2L45.4 253.4L64.7 254.5" fill="none" stroke="#f0b78c" stroke-width="2" stroke-linecap="round" stroke-linejoin="round"/><path d="M124.2 129.5L146.3 124" fill="none" stroke="#f0b78c" stroke-width="1.7" stroke-linecap="round" stroke-linejoin="round"/></g><g mask="url(#n27a80f43)" fill="#8fd08e"><ellipse cx="48.2" cy="248.5" rx="2.8" ry="5"/></g><g mask="url(#n28r70f43)" fill="#ee9ac6"><path d="M204.7 82.2L211.3 104.2L213 145" fill="none" stroke="#ee9ac6" stroke-width="2" stroke-linecap="round" stroke-linejoin="round"/><path d="M213 130L213 182.9L206.9 207.2L190.4 229.2L168.3 245.2L140.8 255.1L113.2 257.3L94.5 252.9" fill="none" stroke="#ee9ac6" stroke-width="1.7" stroke-linecap="round" stroke-linejoin="round"/></g></g>
<text x="0.5" y="35.3" font-size="48" fill="#231F20" style="font-family:'Liberation Sans',sans-serif" font-weight="bold">a</text>
<text x="935.5" y="35.3" font-size="48" fill="#231F20" style="font-family:'Liberation Sans',sans-serif" font-weight="bold">b</text>
<text x="0.2" y="357.3" font-size="48" fill="#231F20" style="font-family:'Liberation Sans',sans-serif" font-weight="bold">c</text>
<text x="935.8" y="356.3" font-size="48" fill="#231F20" style="font-family:'Liberation Sans',sans-serif" font-weight="bold">d</text>
<text x="-0.3" y="979.3" font-size="48" fill="#231F20" style="font-family:'Liberation Sans',sans-serif" font-weight="bold">e</text>
<text x="936.5" y="1001.2" font-size="48" fill="#231F20" style="font-family:'Liberation Sans',sans-serif" font-weight="bold">f</text>
<rect x="40.3" y="356.3" width="284.7" height="267" fill="#EBEBEB"/><path d="M40.3 360.8H325" stroke="#fff" stroke-width="0.7"/><path d="M40.3 424.4H325" stroke="#fff" stroke-width="0.7"/><path d="M40.3 488H325" stroke="#fff" stroke-width="0.7"/><path d="M40.3 551.5H325" stroke="#fff" stroke-width="0.7"/><path d="M40.3 615H325" stroke="#fff" stroke-width="0.7"/><path d="M40.3 392.6H325" stroke="#fff" stroke-width="1.3"/><path d="M40.3 456.2H325" stroke="#fff" stroke-width="1.3"/><path d="M40.3 519.8H325" stroke="#fff" stroke-width="1.3"/><path d="M40.3 583.2H325" stroke="#fff" stroke-width="1.3"/><path d="M182.7 356.3V623.3" stroke="#fff" stroke-width="1.3"/><path d="M36.1 392.6H40.3" stroke="#333" stroke-width="1.2"/><text x="34.2" y="397" font-size="12.3" fill="#4D4D4D" style="font-family:'Liberation Sans',sans-serif" text-anchor="end" textLength="18.1" lengthAdjust="spacingAndGlyphs">0.5</text><path d="M36.1 456.2H40.3" stroke="#333" stroke-width="1.2"/><text x="34.2" y="460.6" font-size="12.3" fill="#4D4D4D" style="font-family:'Liberation Sans',sans-serif" text-anchor="end" textLength="18.1" lengthAdjust="spacingAndGlyphs">0.4</text><path d="M36.1 519.8H40.3" stroke="#333" stroke-width="1.2"/><text x="34.2" y="524.2" font-size="12.3" fill="#4D4D4D" style="font-family:'Liberation Sans',sans-serif" text-anchor="end" textLength="18.1" lengthAdjust="spacingAndGlyphs">0.3</text><path d="M36.1 583.2H40.3" stroke="#333" stroke-width="1.2"/><text x="34.2" y="587.6" font-size="12.3" fill="#4D4D4D" style="font-family:'Liberation Sans',sans-serif" text-anchor="end" textLength="18.1" lengthAdjust="spacingAndGlyphs">0.2</text><path d="M182.7 623.3V627.1" stroke="#333" stroke-width="1.1"/>
<path d="M98.3 376.4V388.8" stroke="#333333" stroke-width="1.1"/><path d="M98.3 401.1V407.7" stroke="#333333" stroke-width="1.1"/><rect x="88.3" y="388.8" width="20" height="12.3" fill="#F6EB1C" stroke="#333333" stroke-width="1.1"/><path d="M88.3 393.6H108.3" stroke="#333333" stroke-width="2.1"/><circle cx="98.3" cy="368.6" r="2.6" fill="#333333"/>
<path d="M119.4 447.1V449.5" stroke="#333333" stroke-width="1.1"/><path d="M119.4 459.4V468.7" stroke="#333333" stroke-width="1.1"/><rect x="109.4" y="449.5" width="20" height="9.9" fill="#8250A4" stroke="#333333" stroke-width="1.1"/><path d="M109.4 452.3H129.4" stroke="#333333" stroke-width="2.1"/><circle cx="119.4" cy="433" r="2.6" fill="#333333"/>
<path d="M140.5 446.1V451.3" stroke="#333333" stroke-width="1.1"/><path d="M140.5 461.8V472.9" stroke="#333333" stroke-width="1.1"/><rect x="130.5" y="451.3" width="20" height="10.5" fill="#BFBFBF" stroke="#333333" stroke-width="1.1"/><path d="M130.5 456.6H150.5" stroke="#333333" stroke-width="2.1"/><circle cx="140.5" cy="433.8" r="2.6" fill="#333333"/>
<path d="M161.6 437.2V452.6" stroke="#333333" stroke-width="1.1"/><path d="M161.6 463.7V473.8" stroke="#333333" stroke-width="1.1"/><rect x="151.6" y="452.6" width="20" height="11.1" fill="#EC2027" stroke="#333333" stroke-width="1.1"/><path d="M151.6 457.8H171.6" stroke="#333333" stroke-width="2.1"/>
<path d="M182.7 452.1V456.4" stroke="#333333" stroke-width="1.1"/><path d="M182.7 465.3V475.8" stroke="#333333" stroke-width="1.1"/><rect x="172.7" y="456.4" width="20" height="8.9" fill="#6ABD45" stroke="#333333" stroke-width="1.1"/><path d="M172.7 460.2H192.7" stroke="#333333" stroke-width="2.1"/><circle cx="182.7" cy="437.6" r="2.6" fill="#333333"/>
<rect x="193.8" y="472.9" width="20" height="0.8" fill="#F9BFCB" stroke="#333333" stroke-width="1.1"/><path d="M193.8 473.3H213.8" stroke="#333333" stroke-width="2.1"/><circle cx="203.8" cy="474.6" r="2.6" fill="#333333"/>
<path d="M224.9 462.2V469.3" stroke="#333333" stroke-width="1.1"/><path d="M224.9 478.4V487.9" stroke="#333333" stroke-width="1.1"/><rect x="214.9" y="469.3" width="20" height="9.1" fill="#3A53A4" stroke="#333333" stroke-width="1.1"/><path d="M214.9 474.2H234.9" stroke="#333333" stroke-width="2.1"/><circle cx="224.9" cy="451.7" r="2.6" fill="#333333"/>
<path d="M246 483V488.5" stroke="#333333" stroke-width="1.1"/><path d="M246 497.4V505.9" stroke="#333333" stroke-width="1.1"/><rect x="236" y="488.5" width="20" height="8.9" fill="#F9A51A" stroke="#333333" stroke-width="1.1"/><path d="M236 491.3H256" stroke="#333333" stroke-width="2.1"/><circle cx="246" cy="469.7" r="2.6" fill="#333333"/>
<rect x="257.1" y="603.2" width="20" height="1.2" fill="#E9D9C7" stroke="#333333" stroke-width="1.1"/><path d="M257.1 603.8H277.1" stroke="#333333" stroke-width="2.1"/><circle cx="267.1" cy="595.1" r="2.6" fill="#333333"/><circle cx="267.1" cy="596.7" r="2.6" fill="#333333"/><circle cx="267.1" cy="611" r="2.6" fill="#333333"/>
<path d="M98.3 359.3V348.2H117.1V359.3" fill="none" stroke="#000" stroke-width="2.5"/><text x="109" y="342.6" font-size="12" fill="#000" style="font-family:'Liberation Sans',sans-serif" text-anchor="middle" textLength="25.2" lengthAdjust="spacingAndGlyphs">2e-4</text>
<text x="12.6" y="500.6" font-size="15.8" fill="#000" style="font-family:'Liberation Sans',sans-serif" text-anchor="middle" transform="rotate(-90 12.6 500.6)">SCC</text>
<text x="183" y="644.2" font-size="16.6" fill="#4D4D4D" style="font-family:'Liberation Sans',sans-serif" text-anchor="middle" textLength="111.8" lengthAdjust="spacingAndGlyphs">Xenium-breast</text>
<rect x="376.8" y="356.3" width="284.3" height="267" fill="#EBEBEB"/><path d="M376.8 360.3H661.1" stroke="#fff" stroke-width="0.7"/><path d="M376.8 409.7H661.1" stroke="#fff" stroke-width="0.7"/><path d="M376.8 458.6H661.1" stroke="#fff" stroke-width="0.7"/><path d="M376.8 507.3H661.1" stroke="#fff" stroke-width="0.7"/><path d="M376.8 556.5H661.1" stroke="#fff" stroke-width="0.7"/><path d="M376.8 605.6H661.1" stroke="#fff" stroke-width="0.7"/><path d="M376.8 384.5H661.1" stroke="#fff" stroke-width="1.3"/><path d="M376.8 434H661.1" stroke="#fff" stroke-width="1.3"/><path d="M376.8 483H661.1" stroke="#fff" stroke-width="1.3"/><path d="M376.8 531.9H661.1" stroke="#fff" stroke-width="1.3"/><path d="M376.8 581.2H661.1" stroke="#fff" stroke-width="1.3"/><path d="M518.8 356.3V623.3" stroke="#fff" stroke-width="1.3"/><path d="M372.6 384.5H376.8" stroke="#333" stroke-width="1.2"/><text x="370.7" y="388.9" font-size="12.3" fill="#4D4D4D" style="font-family:'Liberation Sans',sans-serif" text-anchor="end" textLength="18.1" lengthAdjust="spacingAndGlyphs">0.5</text><path d="M372.6 434H376.8" stroke="#333" stroke-width="1.2"/><text x="370.7" y="438.4" font-size="12.3" fill="#4D4D4D" style="font-family:'Liberation Sans',sans-serif" text-anchor="end" textLength="18.1" lengthAdjust="spacingAndGlyphs">0.4</text><path d="M372.6 483H376.8" stroke="#333" stroke-width="1.2"/><text x="370.7" y="487.4" font-size="12.3" fill="#4D4D4D" style="font-family:'Liberation Sans',sans-serif" text-anchor="end" textLength="18.1" lengthAdjust="spacingAndGlyphs">0.3</text><path d="M372.6 531.9H376.8" stroke="#333" stroke-width="1.2"/><text x="370.7" y="536.3" font-size="12.3" fill="#4D4D4D" style="font-family:'Liberation Sans',sans-serif" text-anchor="end" textLength="18.1" lengthAdjust="spacingAndGlyphs">0.2</text><path d="M372.6 581.2H376.8" stroke="#333" stroke-width="1.2"/><text x="370.7" y="585.6" font-size="12.3" fill="#4D4D4D" style="font-family:'Liberation Sans',sans-serif" text-anchor="end" textLength="18.1" lengthAdjust="spacingAndGlyphs">0.1</text><path d="M518.8 623.3V627.1" stroke="#333" stroke-width="1.1"/>
<path d="M434.4 371.4V378.5" stroke="#333333" stroke-width="1.1"/><path d="M434.4 385.7V389" stroke="#333333" stroke-width="1.1"/><rect x="424.4" y="378.5" width="20" height="7.2" fill="#F6EB1C" stroke="#333333" stroke-width="1.1"/><path d="M424.4 384.5H444.4" stroke="#333333" stroke-width="2.1"/><circle cx="434.4" cy="396.2" r="2.6" fill="#333333"/>
<path d="M455.5 368.4V383.5" stroke="#333333" stroke-width="1.1"/><path d="M455.5 394V401.7" stroke="#333333" stroke-width="1.1"/><rect x="445.5" y="383.5" width="20" height="10.5" fill="#8250A4" stroke="#333333" stroke-width="1.1"/><path d="M445.5 388.8H465.5" stroke="#333333" stroke-width="2.1"/>
<path d="M476.6 424.5V425.3" stroke="#333333" stroke-width="1.1"/><path d="M476.6 431.4V435" stroke="#333333" stroke-width="1.1"/><rect x="466.6" y="425.3" width="20" height="6.1" fill="#C98A1E" stroke="#333333" stroke-width="1.1"/><path d="M466.6 428.3H486.6" stroke="#333333" stroke-width="2.1"/><circle cx="476.6" cy="413" r="2.6" fill="#333333"/>
<path d="M497.7 424.9V425.7" stroke="#333333" stroke-width="1.1"/><path d="M497.7 438.6V441.7" stroke="#333333" stroke-width="1.1"/><rect x="487.7" y="425.7" width="20" height="12.9" fill="#EC2027" stroke="#333333" stroke-width="1.1"/><path d="M487.7 435H507.7" stroke="#333333" stroke-width="2.1"/><circle cx="497.7" cy="407.1" r="2.6" fill="#333333"/>
<path d="M518.8 424.3V438.6" stroke="#333333" stroke-width="1.1"/><path d="M518.8 451.7V457.6" stroke="#333333" stroke-width="1.1"/><rect x="508.8" y="438.6" width="20" height="13.1" fill="#BFBFBF" stroke="#333333" stroke-width="1.1"/><path d="M508.8 441.2H528.8" stroke="#333333" stroke-width="2.1"/>
<path d="M539.9 443.3V444.5" stroke="#333333" stroke-width="1.1"/><path d="M539.9 447.7V448.7" stroke="#333333" stroke-width="1.1"/><rect x="529.9" y="444.5" width="20" height="3.2" fill="#B9A9AF" stroke="#333333" stroke-width="1.1"/><path d="M529.9 446.1H549.9" stroke="#333333" stroke-width="2.1"/>
<path d="M561 446.1V452.6" stroke="#333333" stroke-width="1.1"/><path d="M561 459.6V468.1" stroke="#333333" stroke-width="1.1"/><rect x="551" y="452.6" width="20" height="7" fill="#6ABD45" stroke="#333333" stroke-width="1.1"/><path d="M551 453.8H571" stroke="#333333" stroke-width="2.1"/><circle cx="561" cy="437.8" r="2.6" fill="#333333"/>
<path d="M582.1 465.5V466.3" stroke="#333333" stroke-width="1.1"/><rect x="572.1" y="461.2" width="20" height="4.3" fill="#3A53A4" stroke="#333333" stroke-width="1.1"/><path d="M572.1 462.8H592.1" stroke="#333333" stroke-width="2.1"/><circle cx="582.1" cy="453.6" r="2.6" fill="#333333"/><circle cx="582.1" cy="455.6" r="2.6" fill="#333333"/><circle cx="582.1" cy="472.9" r="2.6" fill="#333333"/>
<path d="M603.2 603V606.2" stroke="#333333" stroke-width="1.1"/><rect x="593.2" y="606.2" width="20" height="5" fill="#E9D9C7" stroke="#333333" stroke-width="1.1"/><path d="M593.2 610.2H613.2" stroke="#333333" stroke-width="2.1"/>
<path d="M436 359.3V348.2H455.4V359.3" fill="none" stroke="#000" stroke-width="2.5"/><text x="445.9" y="342.6" font-size="12" fill="#000" style="font-family:'Liberation Sans',sans-serif" text-anchor="middle" textLength="24.5" lengthAdjust="spacingAndGlyphs">0.16</text>
<text x="345.6" y="500" font-size="16.1" fill="#000" style="font-family:'Liberation Sans',sans-serif" text-anchor="middle" transform="rotate(-90 345.6 500)">SSIM</text>
<text x="521.8" y="644.2" font-size="16.6" fill="#4D4D4D" style="font-family:'Liberation Sans',sans-serif" text-anchor="middle" textLength="111.8" lengthAdjust="spacingAndGlyphs">Xenium-breast</text>
<rect x="40.3" y="650.3" width="284.7" height="267" fill="#EBEBEB"/><path d="M40.3 682.3H325" stroke="#fff" stroke-width="0.7"/><path d="M40.3 738.4H325" stroke="#fff" stroke-width="0.7"/><path d="M40.3 794.1H325" stroke="#fff" stroke-width="0.7"/><path d="M40.3 849.7H325" stroke="#fff" stroke-width="0.7"/><path d="M40.3 905.6H325" stroke="#fff" stroke-width="0.7"/><path d="M40.3 654.2H325" stroke="#fff" stroke-width="1.3"/><path d="M40.3 710.4H325" stroke="#fff" stroke-width="1.3"/><path d="M40.3 766.3H325" stroke="#fff" stroke-width="1.3"/><path d="M40.3 821.8H325" stroke="#fff" stroke-width="1.3"/><path d="M40.3 877.5H325" stroke="#fff" stroke-width="1.3"/><path d="M182.7 650.3V917.3" stroke="#fff" stroke-width="1.3"/><path d="M36.1 654.2H40.3" stroke="#333" stroke-width="1.2"/><text x="34.2" y="658.6" font-size="12.3" fill="#4D4D4D" style="font-family:'Liberation Sans',sans-serif" text-anchor="end" textLength="18.1" lengthAdjust="spacingAndGlyphs">1.3</text><path d="M36.1 710.4H40.3" stroke="#333" stroke-width="1.2"/><text x="34.2" y="714.8" font-size="12.3" fill="#4D4D4D" style="font-family:'Liberation Sans',sans-serif" text-anchor="end" textLength="18.1" lengthAdjust="spacingAndGlyphs">1.2</text><path d="M36.1 766.3H40.3" stroke="#333" stroke-width="1.2"/><text x="34.2" y="770.7" font-size="12.3" fill="#4D4D4D" style="font-family:'Liberation Sans',sans-serif" text-anchor="end" textLength="18.1" lengthAdjust="spacingAndGlyphs">1.1</text><path d="M36.1 821.8H40.3" stroke="#333" stroke-width="1.2"/><text x="34.2" y="826.2" font-size="12.3" fill="#4D4D4D" style="font-family:'Liberation Sans',sans-serif" text-anchor="end" textLength="18.1" lengthAdjust="spacingAndGlyphs">1.0</text><path d="M36.1 877.5H40.3" stroke="#333" stroke-width="1.2"/><text x="34.2" y="881.9" font-size="12.3" fill="#4D4D4D" style="font-family:'Liberation Sans',sans-serif" text-anchor="end" textLength="18.1" lengthAdjust="spacingAndGlyphs">0.9</text><path d="M182.7 917.3V921.1" stroke="#333" stroke-width="1.1"/>
<path d="M98.3 875.3V880.4" stroke="#333333" stroke-width="1.1"/><path d="M98.3 891.5V905.6" stroke="#333333" stroke-width="1.1"/><rect x="88.3" y="880.4" width="20" height="11.1" fill="#F6EB1C" stroke="#333333" stroke-width="1.1"/><path d="M88.3 882.4H108.3" stroke="#333333" stroke-width="2.1"/>
<path d="M119.4 817.8V826.6" stroke="#333333" stroke-width="1.1"/><path d="M119.4 839V855.1" stroke="#333333" stroke-width="1.1"/><rect x="109.4" y="826.6" width="20" height="12.4" fill="#BFBFBF" stroke="#333333" stroke-width="1.1"/><path d="M109.4 833.9H129.4" stroke="#333333" stroke-width="2.1"/>
<path d="M140.5 824.8V830.3" stroke="#333333" stroke-width="1.1"/><path d="M140.5 835.5V838" stroke="#333333" stroke-width="1.1"/><rect x="130.5" y="830.3" width="20" height="5.2" fill="#3A53A4" stroke="#333333" stroke-width="1.1"/><path d="M130.5 832.5H150.5" stroke="#333333" stroke-width="2.1"/><circle cx="140.5" cy="850.5" r="2.6" fill="#333333"/>
<path d="M161.6 820.2V828.7" stroke="#333333" stroke-width="1.1"/><path d="M161.6 838.2V850.1" stroke="#333333" stroke-width="1.1"/><rect x="151.6" y="828.7" width="20" height="9.5" fill="#8250A4" stroke="#333333" stroke-width="1.1"/><path d="M151.6 831.5H171.6" stroke="#333333" stroke-width="2.1"/>
<rect x="172.7" y="825" width="20" height="0.8" fill="#F9BFCB" stroke="#333333" stroke-width="1.1"/><path d="M172.7 825.4H192.7" stroke="#333333" stroke-width="2.1"/>
<path d="M203.8 816.2V821.4" stroke="#333333" stroke-width="1.1"/><path d="M203.8 832.1V846.6" stroke="#333333" stroke-width="1.1"/><rect x="193.8" y="821.4" width="20" height="10.7" fill="#EC2027" stroke="#333333" stroke-width="1.1"/><path d="M193.8 823.8H213.8" stroke="#333333" stroke-width="2.1"/>
<path d="M224.9 809.1V814.5" stroke="#333333" stroke-width="1.1"/><path d="M224.9 825.8V841.6" stroke="#333333" stroke-width="1.1"/><rect x="214.9" y="814.5" width="20" height="11.3" fill="#6ABD45" stroke="#333333" stroke-width="1.1"/><path d="M214.9 819.8H234.9" stroke="#333333" stroke-width="2.1"/>
<path d="M246 802V803.2" stroke="#333333" stroke-width="1.1"/><path d="M246 813.5V814.9" stroke="#333333" stroke-width="1.1"/><rect x="236" y="803.2" width="20" height="10.3" fill="#F9A51A" stroke="#333333" stroke-width="1.1"/><path d="M236 807.7H256" stroke="#333333" stroke-width="2.1"/><circle cx="246" cy="831.7" r="2.6" fill="#333333"/>
<path d="M267.1 663.3V667.2" stroke="#333333" stroke-width="1.1"/><rect x="257.1" y="667.2" width="20" height="1.2" fill="#E9D9C7" stroke="#333333" stroke-width="1.1"/><path d="M257.1 667.8H277.1" stroke="#333333" stroke-width="2.1"/><circle cx="267.1" cy="675.2" r="2.6" fill="#333333"/>
<path d="M99.5 806.7V795.6H140.7V806.7" fill="none" stroke="#000" stroke-width="2.5"/><text x="120.7" y="791.5" font-size="12" fill="#000" style="font-family:'Liberation Sans',sans-serif" text-anchor="middle" textLength="25.2" lengthAdjust="spacingAndGlyphs">2e-4</text>
<text x="12.6" y="768.7" font-size="16.1" fill="#000" style="font-family:'Liberation Sans',sans-serif" text-anchor="middle" transform="rotate(-90 12.6 768.7)">RMSE</text>
<text x="183" y="935.6" font-size="16.6" fill="#4D4D4D" style="font-family:'Liberation Sans',sans-serif" text-anchor="middle" textLength="111.8" lengthAdjust="spacingAndGlyphs">Xenium-breast</text>
<rect x="383.1" y="650.3" width="278" height="267" fill="#EBEBEB"/><path d="M383.1 686.1H661.1" stroke="#fff" stroke-width="0.7"/><path d="M383.1 740.4H661.1" stroke="#fff" stroke-width="0.7"/><path d="M383.1 795H661.1" stroke="#fff" stroke-width="0.7"/><path d="M383.1 849.5H661.1" stroke="#fff" stroke-width="0.7"/><path d="M383.1 903.6H661.1" stroke="#fff" stroke-width="0.7"/><path d="M383.1 659.3H661.1" stroke="#fff" stroke-width="1.3"/><path d="M383.1 713.2H661.1" stroke="#fff" stroke-width="1.3"/><path d="M383.1 767.9H661.1" stroke="#fff" stroke-width="1.3"/><path d="M383.1 822.2H661.1" stroke="#fff" stroke-width="1.3"/><path d="M383.1 876.5H661.1" stroke="#fff" stroke-width="1.3"/><path d="M522.2 650.3V917.3" stroke="#fff" stroke-width="1.3"/><path d="M378.9 659.3H383.1" stroke="#333" stroke-width="1.2"/><text x="377" y="663.7" font-size="12.3" fill="#4D4D4D" style="font-family:'Liberation Sans',sans-serif" text-anchor="end" textLength="25.4" lengthAdjust="spacingAndGlyphs">0.45</text><path d="M378.9 713.2H383.1" stroke="#333" stroke-width="1.2"/><text x="377" y="717.6" font-size="12.3" fill="#4D4D4D" style="font-family:'Liberation Sans',sans-serif" text-anchor="end" textLength="25.4" lengthAdjust="spacingAndGlyphs">0.40</text><path d="M378.9 767.9H383.1" stroke="#333" stroke-width="1.2"/><text x="377" y="772.3" font-size="12.3" fill="#4D4D4D" style="font-family:'Liberation Sans',sans-serif" text-anchor="end" textLength="25.4" lengthAdjust="spacingAndGlyphs">0.35</text><path d="M378.9 822.2H383.1" stroke="#333" stroke-width="1.2"/><text x="377" y="826.6" font-size="12.3" fill="#4D4D4D" style="font-family:'Liberation Sans',sans-serif" text-anchor="end" textLength="25.4" lengthAdjust="spacingAndGlyphs">0.30</text><path d="M378.9 876.5H383.1" stroke="#333" stroke-width="1.2"/><text x="377" y="880.9" font-size="12.3" fill="#4D4D4D" style="font-family:'Liberation Sans',sans-serif" text-anchor="end" textLength="25.4" lengthAdjust="spacingAndGlyphs">0.25</text><path d="M522.2 917.3V921.1" stroke="#333" stroke-width="1.1"/>
<path d="M440 865.2V874.9" stroke="#333333" stroke-width="1.1"/><rect x="430.3" y="874.9" width="19.5" height="8.5" fill="#F6EB1C" stroke="#333333" stroke-width="1.1"/><path d="M430.3 880H449.8" stroke="#333333" stroke-width="2.1"/><circle cx="440" cy="897.9" r="2.6" fill="#333333"/><circle cx="440" cy="905.4" r="2.6" fill="#333333"/>
<path d="M460.6 802.2V809.9" stroke="#333333" stroke-width="1.1"/><path d="M460.6 824.8V829.9" stroke="#333333" stroke-width="1.1"/><rect x="450.8" y="809.9" width="19.5" height="14.9" fill="#8250A4" stroke="#333333" stroke-width="1.1"/><path d="M450.8 819.4H470.3" stroke="#333333" stroke-width="2.1"/><circle cx="460.6" cy="852.1" r="2.6" fill="#333333"/>
<rect x="471.4" y="812.1" width="19.5" height="0.8" fill="#F9BFCB" stroke="#333333" stroke-width="1.1"/><path d="M471.4 812.5H490.9" stroke="#333333" stroke-width="2.1"/>
<path d="M501.7 769.7V779.6" stroke="#333333" stroke-width="1.1"/><path d="M501.7 794.5V809.7" stroke="#333333" stroke-width="1.1"/><rect x="491.9" y="779.6" width="19.5" height="14.9" fill="#BFBFBF" stroke="#333333" stroke-width="1.1"/><path d="M491.9 789.9H511.4" stroke="#333333" stroke-width="2.1"/><circle cx="501.7" cy="820.6" r="2.6" fill="#333333"/>
<path d="M522.2 770.9V777.6" stroke="#333333" stroke-width="1.1"/><path d="M522.2 793.3V805.2" stroke="#333333" stroke-width="1.1"/><rect x="512.5" y="777.6" width="19.5" height="15.7" fill="#EC2027" stroke="#333333" stroke-width="1.1"/><path d="M512.5 788.7H532" stroke="#333333" stroke-width="2.1"/><circle cx="522.2" cy="818.2" r="2.6" fill="#333333"/>
<path d="M542.8 756.8V766.9" stroke="#333333" stroke-width="1.1"/><path d="M542.8 783V796" stroke="#333333" stroke-width="1.1"/><rect x="533" y="766.9" width="19.5" height="16.1" fill="#6ABD45" stroke="#333333" stroke-width="1.1"/><path d="M533 779H552.5" stroke="#333333" stroke-width="2.1"/><circle cx="542.8" cy="807.9" r="2.6" fill="#333333"/>
<path d="M563.3 756.6V764.3" stroke="#333333" stroke-width="1.1"/><path d="M563.3 777.2V779.4" stroke="#333333" stroke-width="1.1"/><rect x="553.6" y="764.3" width="19.5" height="12.9" fill="#3A53A4" stroke="#333333" stroke-width="1.1"/><path d="M553.6 772.5H573.1" stroke="#333333" stroke-width="2.1"/><circle cx="563.3" cy="800.6" r="2.6" fill="#333333"/>
<path d="M583.9 753.2V759.4" stroke="#333333" stroke-width="1.1"/><path d="M583.9 774.2V779.8" stroke="#333333" stroke-width="1.1"/><rect x="574.1" y="759.4" width="19.5" height="14.8" fill="#F9A51A" stroke="#333333" stroke-width="1.1"/><path d="M574.1 769.5H593.6" stroke="#333333" stroke-width="2.1"/><circle cx="583.9" cy="801" r="2.6" fill="#333333"/>
<path d="M604.4 662.7V665.3" stroke="#333333" stroke-width="1.1"/><path d="M604.4 682.1V697.2" stroke="#333333" stroke-width="1.1"/><rect x="594.7" y="665.3" width="19.5" height="16.8" fill="#E9D9C7" stroke="#333333" stroke-width="1.1"/><path d="M594.7 676.4H614.2" stroke="#333333" stroke-width="2.1"/>
<path d="M441.2 785.1V773.8H460.4V785.1" fill="none" stroke="#000" stroke-width="2.5"/><text x="449.5" y="769.9" font-size="12" fill="#000" style="font-family:'Liberation Sans',sans-serif" text-anchor="middle" textLength="25.2" lengthAdjust="spacingAndGlyphs">2e-4</text>
<text x="345.6" y="768.3" font-size="16.1" fill="#000" style="font-family:'Liberation Sans',sans-serif" text-anchor="middle" transform="rotate(-90 345.6 768.3)">JS</text>
<text x="522.4" y="935.6" font-size="16.6" fill="#4D4D4D" style="font-family:'Liberation Sans',sans-serif" text-anchor="middle" textLength="111.8" lengthAdjust="spacingAndGlyphs">Xenium-breast</text>
<text x="675.2" y="505.7" font-size="21.8" fill="#000" style="font-family:'Liberation Sans',sans-serif" textLength="83.4" lengthAdjust="spacingAndGlyphs">Methods</text>
<rect x="673.9" y="520" width="37.3" height="329.7" fill="#F2F2F2"/>
<path d="M692.8 523.8V553.2" stroke="#333" stroke-width="1.1"/>
<rect x="678.9" y="529.3" width="27.8" height="18.4" fill="#F6EB1C" stroke="#333" stroke-width="1.1"/>
<path d="M678.9 538.5H706.7" stroke="#333" stroke-width="1.1"/>
<text x="723.3" y="545.7" font-size="18" fill="#000" style="font-family:'Liberation Sans',sans-serif" textLength="106.6" lengthAdjust="spacingAndGlyphs">VISTA_gene</text>
<path d="M692.8 560.4V589.8" stroke="#333" stroke-width="1.1"/>
<rect x="678.9" y="565.9" width="27.8" height="18.4" fill="#8250A4" stroke="#333" stroke-width="1.1"/>
<path d="M678.9 575.1H706.7" stroke="#333" stroke-width="1.1"/>
<text x="723.3" y="582.3" font-size="18" fill="#000" style="font-family:'Liberation Sans',sans-serif" textLength="44.4" lengthAdjust="spacingAndGlyphs">ENVI</text>
<path d="M692.8 597.1V626.5" stroke="#333" stroke-width="1.1"/>
<rect x="678.9" y="602.6" width="27.8" height="18.4" fill="#BFBFBF" stroke="#333" stroke-width="1.1"/>
<path d="M678.9 611.8H706.7" stroke="#333" stroke-width="1.1"/>
<text x="723.3" y="619" font-size="18" fill="#000" style="font-family:'Liberation Sans',sans-serif" textLength="92.8" lengthAdjust="spacingAndGlyphs">VISTA_cell</text>
<path d="M692.8 633.7V663.1" stroke="#333" stroke-width="1.1"/>
<rect x="678.9" y="639.2" width="27.8" height="18.4" fill="#EC2027" stroke="#333" stroke-width="1.1"/>
<path d="M678.9 648.4H706.7" stroke="#333" stroke-width="1.1"/>
<text x="723.3" y="655.6" font-size="18" fill="#000" style="font-family:'Liberation Sans',sans-serif" textLength="53.6" lengthAdjust="spacingAndGlyphs">VISTA</text>
<path d="M692.8 670.3V699.7" stroke="#333" stroke-width="1.1"/>
<rect x="678.9" y="675.8" width="27.8" height="18.4" fill="#6ABD45" stroke="#333" stroke-width="1.1"/>
<path d="M678.9 685H706.7" stroke="#333" stroke-width="1.1"/>
<text x="723.3" y="692.2" font-size="18" fill="#000" style="font-family:'Liberation Sans',sans-serif" textLength="48.7" lengthAdjust="spacingAndGlyphs">gimVI</text>
<path d="M692.8 706.9V736.4" stroke="#333" stroke-width="1.1"/>
<rect x="678.9" y="712.4" width="27.8" height="18.4" fill="#F9BFCB" stroke="#333" stroke-width="1.1"/>
<path d="M678.9 721.6H706.7" stroke="#333" stroke-width="1.1"/>
<text x="723.3" y="728.9" font-size="18" fill="#000" style="font-family:'Liberation Sans',sans-serif" textLength="61.4" lengthAdjust="spacingAndGlyphs">SpaGE</text>
<path d="M692.8 743.6V773" stroke="#333" stroke-width="1.1"/>
<rect x="678.9" y="749.1" width="27.8" height="18.4" fill="#3A53A4" stroke="#333" stroke-width="1.1"/>
<path d="M678.9 758.3H706.7" stroke="#333" stroke-width="1.1"/>
<text x="723.3" y="765.5" font-size="18" fill="#000" style="font-family:'Liberation Sans',sans-serif" textLength="79.7" lengthAdjust="spacingAndGlyphs">TransImp</text>
<path d="M692.8 780.2V809.6" stroke="#333" stroke-width="1.1"/>
<rect x="678.9" y="785.7" width="27.8" height="18.4" fill="#F9A51A" stroke="#333" stroke-width="1.1"/>
<path d="M678.9 794.9H706.7" stroke="#333" stroke-width="1.1"/>
<text x="723.3" y="802.1" font-size="18" fill="#000" style="font-family:'Liberation Sans',sans-serif" textLength="74.1" lengthAdjust="spacingAndGlyphs">Tangram</text>
<path d="M692.8 816.8V846.2" stroke="#333" stroke-width="1.1"/>
<rect x="678.9" y="822.3" width="27.8" height="18.4" fill="#E9D9C7" stroke="#333" stroke-width="1.1"/>
<path d="M678.9 831.5H706.7" stroke="#333" stroke-width="1.1"/>
<text x="723.3" y="838.7" font-size="18" fill="#000" style="font-family:'Liberation Sans',sans-serif" textLength="55" lengthAdjust="spacingAndGlyphs">SpaIM</text>
<rect x="1082.6" y="348.7" width="288" height="280" fill="#EBEBEB"/><path d="M1082.6 403.3H1370.6" stroke="#fff" stroke-width="0.7"/><path d="M1082.6 474.3H1370.6" stroke="#fff" stroke-width="0.7"/><path d="M1082.6 546H1370.6" stroke="#fff" stroke-width="0.7"/><path d="M1082.6 617.6H1370.6" stroke="#fff" stroke-width="0.7"/><path d="M1082.6 367.8H1370.6" stroke="#fff" stroke-width="1.3"/><path d="M1082.6 439.3H1370.6" stroke="#fff" stroke-width="1.3"/><path d="M1082.6 510.3H1370.6" stroke="#fff" stroke-width="1.3"/><path d="M1082.6 581.5H1370.6" stroke="#fff" stroke-width="1.3"/><path d="M1226.5 348.7V628.7" stroke="#fff" stroke-width="1.3"/><path d="M1078.4 367.8H1082.6" stroke="#333" stroke-width="1.2"/><text x="1075.3" y="373.2" font-size="12.3" fill="#4D4D4D" style="font-family:'Liberation Sans',sans-serif" text-anchor="end" textLength="25.4" lengthAdjust="spacingAndGlyphs">0.45</text><path d="M1078.4 439.3H1082.6" stroke="#333" stroke-width="1.2"/><text x="1075.3" y="444.7" font-size="12.3" fill="#4D4D4D" style="font-family:'Liberation Sans',sans-serif" text-anchor="end" textLength="25.4" lengthAdjust="spacingAndGlyphs">0.40</text><path d="M1078.4 510.3H1082.6" stroke="#333" stroke-width="1.2"/><text x="1075.3" y="515.7" font-size="12.3" fill="#4D4D4D" style="font-family:'Liberation Sans',sans-serif" text-anchor="end" textLength="25.4" lengthAdjust="spacingAndGlyphs">0.35</text><path d="M1078.4 581.5H1082.6" stroke="#333" stroke-width="1.2"/><text x="1075.3" y="586.9" font-size="12.3" fill="#4D4D4D" style="font-family:'Liberation Sans',sans-serif" text-anchor="end" textLength="25.4" lengthAdjust="spacingAndGlyphs">0.30</text><path d="M1226.5 628.7V632.5" stroke="#333" stroke-width="1.1"/>
<path d="M1141.3 410.4V416.6" stroke="#333333" stroke-width="1.1"/><path d="M1141.3 443V474.3" stroke="#333333" stroke-width="1.1"/><rect x="1131.1" y="416.6" width="20.3" height="26.4" fill="#BFBFBF" stroke="#333333" stroke-width="1.1"/><path d="M1131.1 425.8H1151.4" stroke="#333333" stroke-width="2.1"/>
<path d="M1162.6 390.1V411.5" stroke="#333333" stroke-width="1.1"/><path d="M1162.6 436.8V460" stroke="#333333" stroke-width="1.1"/><rect x="1152.4" y="411.5" width="20.3" height="25.3" fill="#F6EB1C" stroke="#333333" stroke-width="1.1"/><path d="M1152.4 428H1172.7" stroke="#333333" stroke-width="2.1"/><circle cx="1162.6" cy="361.4" r="3.0" fill="#333333"/>
<path d="M1183.9 432.4V440.4" stroke="#333333" stroke-width="1.1"/><path d="M1183.9 457.8V471.7" stroke="#333333" stroke-width="1.1"/><rect x="1173.8" y="440.4" width="20.3" height="17.4" fill="#EC2027" stroke="#333333" stroke-width="1.1"/><path d="M1173.8 451.2H1194" stroke="#333333" stroke-width="2.1"/>
<path d="M1205.2 456.2V461.5" stroke="#333333" stroke-width="1.1"/><path d="M1205.2 484.5V493.7" stroke="#333333" stroke-width="1.1"/><rect x="1195" y="461.5" width="20.3" height="23" fill="#6ABD45" stroke="#333333" stroke-width="1.1"/><path d="M1195 472.1H1215.3" stroke="#333333" stroke-width="2.1"/>
<path d="M1226.5 462.2V465.3" stroke="#333333" stroke-width="1.1"/><path d="M1226.5 489.5V502.5" stroke="#333333" stroke-width="1.1"/><rect x="1216.3" y="465.3" width="20.3" height="24.2" fill="#8250A4" stroke="#333333" stroke-width="1.1"/><path d="M1216.3 472.6H1236.6" stroke="#333333" stroke-width="2.1"/>
<path d="M1247.8 467.3V480.5" stroke="#333333" stroke-width="1.1"/><path d="M1247.8 497.2V504.1" stroke="#333333" stroke-width="1.1"/><rect x="1237.6" y="480.5" width="20.3" height="16.7" fill="#3A53A4" stroke="#333333" stroke-width="1.1"/><path d="M1237.6 488.2H1257.9" stroke="#333333" stroke-width="2.1"/><circle cx="1247.8" cy="523" r="3.0" fill="#333333"/>
<path d="M1269.1 529V537.6" stroke="#333333" stroke-width="1.1"/><path d="M1269.1 569.1V583.7" stroke="#333333" stroke-width="1.1"/><rect x="1258.9" y="537.6" width="20.3" height="31.5" fill="#F9BFCB" stroke="#333333" stroke-width="1.1"/><path d="M1258.9 544.9H1279.2" stroke="#333333" stroke-width="2.1"/>
<path d="M1290.4 564.3V569.6" stroke="#333333" stroke-width="1.1"/><path d="M1290.4 577.3V582.4" stroke="#333333" stroke-width="1.1"/><rect x="1280.2" y="569.6" width="20.3" height="7.7" fill="#E9D9C7" stroke="#333333" stroke-width="1.1"/><path d="M1280.2 572H1300.5" stroke="#333333" stroke-width="2.1"/><circle cx="1290.4" cy="552.6" r="3.0" fill="#333333"/><circle cx="1290.4" cy="594.3" r="3.0" fill="#333333"/>
<path d="M1311.7 574V583.5" stroke="#333333" stroke-width="1.1"/><path d="M1311.7 599.5V616.5" stroke="#333333" stroke-width="1.1"/><rect x="1301.5" y="583.5" width="20.3" height="16" fill="#F9A51A" stroke="#333333" stroke-width="1.1"/><path d="M1301.5 591.6H1321.8" stroke="#333333" stroke-width="2.1"/>
<path d="M1139.9 354.6V343.1H1163.7V354.6" fill="none" stroke="#000" stroke-width="2.5"/><text x="1153.8" y="336.7" font-size="12" fill="#000" style="font-family:'Liberation Sans',sans-serif" text-anchor="middle" textLength="25.2" lengthAdjust="spacingAndGlyphs">8e-3</text>
<text x="1044.5" y="499.7" font-size="15.8" fill="#000" style="font-family:'Liberation Sans',sans-serif" text-anchor="middle" transform="rotate(-90 1044.5 499.7)">SCC</text>
<text x="1220.7" y="645.7" font-size="16" fill="#4D4D4D" style="font-family:'Liberation Sans',sans-serif" text-anchor="middle" textLength="129.2" lengthAdjust="spacingAndGlyphs">seqFISH-embryo</text>
<rect x="1430.1" y="348.7" width="295" height="280" fill="#EBEBEB"/><path d="M1430.1 403.8H1725.1" stroke="#fff" stroke-width="0.7"/><path d="M1430.1 457.8H1725.1" stroke="#fff" stroke-width="0.7"/><path d="M1430.1 511.8H1725.1" stroke="#fff" stroke-width="0.7"/><path d="M1430.1 565.8H1725.1" stroke="#fff" stroke-width="0.7"/><path d="M1430.1 619.8H1725.1" stroke="#fff" stroke-width="0.7"/><path d="M1430.1 376.9H1725.1" stroke="#fff" stroke-width="1.3"/><path d="M1430.1 430.9H1725.1" stroke="#fff" stroke-width="1.3"/><path d="M1430.1 484.9H1725.1" stroke="#fff" stroke-width="1.3"/><path d="M1430.1 538.9H1725.1" stroke="#fff" stroke-width="1.3"/><path d="M1430.1 592.9H1725.1" stroke="#fff" stroke-width="1.3"/><path d="M1577.6 348.7V628.7" stroke="#fff" stroke-width="1.3"/><path d="M1425.9 376.9H1430.1" stroke="#333" stroke-width="1.2"/><text x="1422.5" y="382.3" font-size="12.3" fill="#4D4D4D" style="font-family:'Liberation Sans',sans-serif" text-anchor="end" textLength="18.1" lengthAdjust="spacingAndGlyphs">0.5</text><path d="M1425.9 430.9H1430.1" stroke="#333" stroke-width="1.2"/><text x="1422.5" y="436.3" font-size="12.3" fill="#4D4D4D" style="font-family:'Liberation Sans',sans-serif" text-anchor="end" textLength="18.1" lengthAdjust="spacingAndGlyphs">0.4</text><path d="M1425.9 484.9H1430.1" stroke="#333" stroke-width="1.2"/><text x="1422.5" y="490.3" font-size="12.3" fill="#4D4D4D" style="font-family:'Liberation Sans',sans-serif" text-anchor="end" textLength="18.1" lengthAdjust="spacingAndGlyphs">0.3</text><path d="M1425.9 538.9H1430.1" stroke="#333" stroke-width="1.2"/><text x="1422.5" y="544.3" font-size="12.3" fill="#4D4D4D" style="font-family:'Liberation Sans',sans-serif" text-anchor="end" textLength="18.1" lengthAdjust="spacingAndGlyphs">0.2</text><path d="M1425.9 592.9H1430.1" stroke="#333" stroke-width="1.2"/><text x="1422.5" y="598.3" font-size="12.3" fill="#4D4D4D" style="font-family:'Liberation Sans',sans-serif" text-anchor="end" textLength="18.1" lengthAdjust="spacingAndGlyphs">0.1</text><path d="M1577.6 628.7V632.5" stroke="#333" stroke-width="1.1"/>
<path d="M1490.2 361.4V374.7" stroke="#333333" stroke-width="1.1"/><path d="M1490.2 394.5V403.8" stroke="#333333" stroke-width="1.1"/><rect x="1479.8" y="374.7" width="20.8" height="19.8" fill="#F6EB1C" stroke="#333333" stroke-width="1.1"/><path d="M1479.8 386.8H1500.6" stroke="#333333" stroke-width="2.1"/>
<path d="M1512 375.1V384.4" stroke="#333333" stroke-width="1.1"/><path d="M1512 401.3V406.6" stroke="#333333" stroke-width="1.1"/><rect x="1501.6" y="384.4" width="20.8" height="16.9" fill="#BFBFBF" stroke="#333333" stroke-width="1.1"/><path d="M1501.6 388.8H1522.4" stroke="#333333" stroke-width="2.1"/>
<path d="M1533.9 389.9V393.4" stroke="#333333" stroke-width="1.1"/><path d="M1533.9 407.7V414.8" stroke="#333333" stroke-width="1.1"/><rect x="1523.5" y="393.4" width="20.8" height="14.3" fill="#EC2027" stroke="#333333" stroke-width="1.1"/><path d="M1523.5 398.7H1544.3" stroke="#333333" stroke-width="2.1"/>
<path d="M1555.8 384.2V391.4" stroke="#333333" stroke-width="1.1"/><path d="M1555.8 411.7V414.8" stroke="#333333" stroke-width="1.1"/><rect x="1545.3" y="391.4" width="20.8" height="20.3" fill="#8250A4" stroke="#333333" stroke-width="1.1"/><path d="M1545.3 402H1566.1" stroke="#333333" stroke-width="2.1"/>
<path d="M1577.6 402.2V407.5" stroke="#333333" stroke-width="1.1"/><path d="M1577.6 422.3V425.8" stroke="#333333" stroke-width="1.1"/><rect x="1567.2" y="407.5" width="20.8" height="14.8" fill="#6ABD45" stroke="#333333" stroke-width="1.1"/><path d="M1567.2 411.3H1588" stroke="#333333" stroke-width="2.1"/>
<path d="M1599.4 425.8V431.3" stroke="#333333" stroke-width="1.1"/><path d="M1599.4 446.8V458.4" stroke="#333333" stroke-width="1.1"/><rect x="1589" y="431.3" width="20.8" height="15.5" fill="#3A53A4" stroke="#333333" stroke-width="1.1"/><path d="M1589 438.4H1609.8" stroke="#333333" stroke-width="2.1"/>
<path d="M1621.3 458V465.5" stroke="#333333" stroke-width="1.1"/><path d="M1621.3 477V484.7" stroke="#333333" stroke-width="1.1"/><rect x="1610.9" y="465.5" width="20.8" height="11.5" fill="#F9A51A" stroke="#333333" stroke-width="1.1"/><path d="M1610.9 471.5H1631.7" stroke="#333333" stroke-width="2.1"/><circle cx="1621.3" cy="498.4" r="3.0" fill="#333333"/>
<path d="M1643.1 459.8V469.7" stroke="#333333" stroke-width="1.1"/><path d="M1643.1 481.4V487.1" stroke="#333333" stroke-width="1.1"/><rect x="1632.7" y="469.7" width="20.8" height="11.7" fill="#F9BFCB" stroke="#333333" stroke-width="1.1"/><path d="M1632.7 474.8H1653.5" stroke="#333333" stroke-width="2.1"/>
<rect x="1654.6" y="609.3" width="20.8" height="1.2" fill="#E9D9C7" stroke="#333333" stroke-width="1.1"/><path d="M1654.6 609.9H1675.4" stroke="#333333" stroke-width="2.1"/><circle cx="1665" cy="602.6" r="3.0" fill="#333333"/><circle cx="1665" cy="616.7" r="3.0" fill="#333333"/>
<path d="M1490.1 357V345.4H1555.5V357" fill="none" stroke="#000" stroke-width="2.5"/><text x="1522.7" y="342" font-size="12" fill="#000" style="font-family:'Liberation Sans',sans-serif" text-anchor="middle" textLength="25.2" lengthAdjust="spacingAndGlyphs">2e-2</text>
<text x="1394" y="499.7" font-size="16.1" fill="#000" style="font-family:'Liberation Sans',sans-serif" text-anchor="middle" transform="rotate(-90 1394 499.7)">SSIM</text>
<text x="1568.3" y="645.7" font-size="16" fill="#4D4D4D" style="font-family:'Liberation Sans',sans-serif" text-anchor="middle" textLength="129.2" lengthAdjust="spacingAndGlyphs">seqFISH-embryo</text>
<rect x="1080.4" y="651.9" width="295.6" height="280.4" fill="#EBEBEB"/><path d="M1080.4 703.9H1376" stroke="#fff" stroke-width="0.7"/><path d="M1080.4 799.3H1376" stroke="#fff" stroke-width="0.7"/><path d="M1080.4 895H1376" stroke="#fff" stroke-width="0.7"/><path d="M1080.4 656H1376" stroke="#fff" stroke-width="1.3"/><path d="M1080.4 751.4H1376" stroke="#fff" stroke-width="1.3"/><path d="M1080.4 847.2H1376" stroke="#fff" stroke-width="1.3"/><path d="M1228.2 651.9V932.3" stroke="#fff" stroke-width="1.3"/><path d="M1076.2 656H1080.4" stroke="#333" stroke-width="1.2"/><text x="1073.3" y="661.4" font-size="12.3" fill="#4D4D4D" style="font-family:'Liberation Sans',sans-serif" text-anchor="end" textLength="18.1" lengthAdjust="spacingAndGlyphs">1.2</text><path d="M1076.2 751.4H1080.4" stroke="#333" stroke-width="1.2"/><text x="1073.3" y="756.8" font-size="12.3" fill="#4D4D4D" style="font-family:'Liberation Sans',sans-serif" text-anchor="end" textLength="18.1" lengthAdjust="spacingAndGlyphs">1.1</text><path d="M1076.2 847.2H1080.4" stroke="#333" stroke-width="1.2"/><text x="1073.3" y="852.6" font-size="12.3" fill="#4D4D4D" style="font-family:'Liberation Sans',sans-serif" text-anchor="end" textLength="18.1" lengthAdjust="spacingAndGlyphs">1.0</text><path d="M1228.2 932.3V936.1" stroke="#333" stroke-width="1.1"/>
<path d="M1140.8 840.3V856.9" stroke="#333333" stroke-width="1.1"/><path d="M1140.8 884.4V919.8" stroke="#333333" stroke-width="1.1"/><rect x="1130.4" y="856.9" width="20.8" height="27.5" fill="#F6EB1C" stroke="#333333" stroke-width="1.1"/><path d="M1130.4 870.9H1151.2" stroke="#333333" stroke-width="2.1"/>
<path d="M1162.6 856.3V862.1" stroke="#333333" stroke-width="1.1"/><path d="M1162.6 883.4V900.7" stroke="#333333" stroke-width="1.1"/><rect x="1152.2" y="862.1" width="20.8" height="21.3" fill="#BFBFBF" stroke="#333333" stroke-width="1.1"/><path d="M1152.2 870.9H1173" stroke="#333333" stroke-width="2.1"/>
<path d="M1184.5 842.4V852.8" stroke="#333333" stroke-width="1.1"/><path d="M1184.5 862.1V872.6" stroke="#333333" stroke-width="1.1"/><rect x="1174.1" y="852.8" width="20.8" height="9.3" fill="#3A53A4" stroke="#333333" stroke-width="1.1"/><path d="M1174.1 857.4H1194.9" stroke="#333333" stroke-width="2.1"/><circle cx="1184.5" cy="839.2" r="3.0" fill="#333333"/>
<path d="M1206.3 838.2V846.5" stroke="#333333" stroke-width="1.1"/><path d="M1206.3 865.3V880.9" stroke="#333333" stroke-width="1.1"/><rect x="1195.9" y="846.5" width="20.8" height="18.8" fill="#8250A4" stroke="#333333" stroke-width="1.1"/><path d="M1195.9 853.4H1216.7" stroke="#333333" stroke-width="2.1"/>
<path d="M1228.2 838.2V842" stroke="#333333" stroke-width="1.1"/><path d="M1228.2 856.5V868.4" stroke="#333333" stroke-width="1.1"/><rect x="1217.8" y="842" width="20.8" height="14.5" fill="#EC2027" stroke="#333333" stroke-width="1.1"/><path d="M1217.8 849.7H1238.6" stroke="#333333" stroke-width="2.1"/>
<path d="M1250.1 815.9V823.6" stroke="#333333" stroke-width="1.1"/><path d="M1250.1 835.1V846.5" stroke="#333333" stroke-width="1.1"/><rect x="1239.7" y="823.6" width="20.8" height="11.5" fill="#6ABD45" stroke="#333333" stroke-width="1.1"/><path d="M1239.7 829.5H1260.5" stroke="#333333" stroke-width="2.1"/><circle cx="1250.1" cy="800.7" r="3.0" fill="#333333"/>
<path d="M1271.9 795.1V804.5" stroke="#333333" stroke-width="1.1"/><path d="M1271.9 822.2V836.5" stroke="#333333" stroke-width="1.1"/><rect x="1261.5" y="804.5" width="20.8" height="17.7" fill="#F9BFCB" stroke="#333333" stroke-width="1.1"/><path d="M1261.5 814.5H1282.3" stroke="#333333" stroke-width="2.1"/>
<path d="M1293.8 774.1V783.7" stroke="#333333" stroke-width="1.1"/><path d="M1293.8 794.1V800.3" stroke="#333333" stroke-width="1.1"/><rect x="1283.4" y="783.7" width="20.8" height="10.4" fill="#F9A51A" stroke="#333333" stroke-width="1.1"/><path d="M1283.4 789.3H1304.2" stroke="#333333" stroke-width="2.1"/><circle cx="1293.8" cy="764.3" r="3.0" fill="#333333"/>
<path d="M1315.6 665V671.2" stroke="#333333" stroke-width="1.1"/><path d="M1315.6 678.3V683.1" stroke="#333333" stroke-width="1.1"/><rect x="1305.2" y="671.2" width="20.8" height="7.1" fill="#E9D9C7" stroke="#333333" stroke-width="1.1"/><path d="M1305.2 674.8H1326" stroke="#333333" stroke-width="2.1"/><circle cx="1315.6" cy="688.3" r="3.0" fill="#333333"/>
<path d="M1141.8 831.5V819.9H1183.4V831.5" fill="none" stroke="#000" stroke-width="2.5"/><text x="1163" y="815.9" font-size="12" fill="#000" style="font-family:'Liberation Sans',sans-serif" text-anchor="middle" textLength="25.2" lengthAdjust="spacingAndGlyphs">9e-2</text>
<text x="1045" y="768.5" font-size="16.1" fill="#000" style="font-family:'Liberation Sans',sans-serif" text-anchor="middle" transform="rotate(-90 1045 768.5)">RMSE</text>
<text x="1220.7" y="947.5" font-size="16" fill="#4D4D4D" style="font-family:'Liberation Sans',sans-serif" text-anchor="middle" textLength="129.2" lengthAdjust="spacingAndGlyphs">seqFISH-embryo</text>
<rect x="1431.4" y="651.9" width="288.4" height="280.4" fill="#EBEBEB"/><path d="M1431.4 705.4H1719.8" stroke="#fff" stroke-width="0.7"/><path d="M1431.4 786.2H1719.8" stroke="#fff" stroke-width="0.7"/><path d="M1431.4 866.7H1719.8" stroke="#fff" stroke-width="0.7"/><path d="M1431.4 665.4H1719.8" stroke="#fff" stroke-width="1.3"/><path d="M1431.4 745.6H1719.8" stroke="#fff" stroke-width="1.3"/><path d="M1431.4 826.1H1719.8" stroke="#fff" stroke-width="1.3"/><path d="M1431.4 906.9H1719.8" stroke="#fff" stroke-width="1.3"/><path d="M1575.5 651.9V932.3" stroke="#fff" stroke-width="1.3"/><path d="M1427.2 665.4H1431.4" stroke="#333" stroke-width="1.2"/><text x="1423.8" y="670.8" font-size="12.3" fill="#4D4D4D" style="font-family:'Liberation Sans',sans-serif" text-anchor="end" textLength="25.4" lengthAdjust="spacingAndGlyphs">0.36</text><path d="M1427.2 745.6H1431.4" stroke="#333" stroke-width="1.2"/><text x="1423.8" y="751" font-size="12.3" fill="#4D4D4D" style="font-family:'Liberation Sans',sans-serif" text-anchor="end" textLength="25.4" lengthAdjust="spacingAndGlyphs">0.32</text><path d="M1427.2 826.1H1431.4" stroke="#333" stroke-width="1.2"/><text x="1423.8" y="831.5" font-size="12.3" fill="#4D4D4D" style="font-family:'Liberation Sans',sans-serif" text-anchor="end" textLength="25.4" lengthAdjust="spacingAndGlyphs">0.28</text><path d="M1427.2 906.9H1431.4" stroke="#333" stroke-width="1.2"/><text x="1423.8" y="912.3" font-size="12.3" fill="#4D4D4D" style="font-family:'Liberation Sans',sans-serif" text-anchor="end" textLength="25.4" lengthAdjust="spacingAndGlyphs">0.24</text><path d="M1575.5 932.3V936.1" stroke="#333" stroke-width="1.1"/>
<path d="M1490.2 825.7V840.7" stroke="#333333" stroke-width="1.1"/><path d="M1490.2 858.4V859.6" stroke="#333333" stroke-width="1.1"/><rect x="1480" y="840.7" width="20.4" height="17.7" fill="#F6EB1C" stroke="#333333" stroke-width="1.1"/><path d="M1480 849H1500.4" stroke="#333333" stroke-width="2.1"/><circle cx="1490.2" cy="811.1" r="3.0" fill="#333333"/><circle cx="1490.2" cy="893.4" r="3.0" fill="#333333"/><circle cx="1490.2" cy="919.8" r="3.0" fill="#333333"/>
<path d="M1511.5 809.1V837.8" stroke="#333333" stroke-width="1.1"/><path d="M1511.5 862.4V879.8" stroke="#333333" stroke-width="1.1"/><rect x="1501.3" y="837.8" width="20.4" height="24.6" fill="#BFBFBF" stroke="#333333" stroke-width="1.1"/><path d="M1501.3 846.5H1521.7" stroke="#333333" stroke-width="2.1"/>
<path d="M1532.8 811.1V820.5" stroke="#333333" stroke-width="1.1"/><path d="M1532.8 837.2V850.7" stroke="#333333" stroke-width="1.1"/><rect x="1522.6" y="820.5" width="20.4" height="16.7" fill="#8250A4" stroke="#333333" stroke-width="1.1"/><path d="M1522.6 827H1543" stroke="#333333" stroke-width="2.1"/><circle cx="1532.8" cy="790.7" r="3.0" fill="#333333"/>
<path d="M1554.2 792V815.3" stroke="#333333" stroke-width="1.1"/><path d="M1554.2 838.6V845.9" stroke="#333333" stroke-width="1.1"/><rect x="1544" y="815.3" width="20.4" height="23.3" fill="#EC2027" stroke="#333333" stroke-width="1.1"/><path d="M1544 819.9H1564.4" stroke="#333333" stroke-width="2.1"/>
<path d="M1575.5 776.8V792.8" stroke="#333333" stroke-width="1.1"/><path d="M1575.5 820.5V831.5" stroke="#333333" stroke-width="1.1"/><rect x="1565.3" y="792.8" width="20.4" height="27.7" fill="#6ABD45" stroke="#333333" stroke-width="1.1"/><path d="M1565.3 803.9H1585.7" stroke="#333333" stroke-width="2.1"/>
<path d="M1596.8 752.4V782.6" stroke="#333333" stroke-width="1.1"/><path d="M1596.8 804.9V822" stroke="#333333" stroke-width="1.1"/><rect x="1586.6" y="782.6" width="20.4" height="22.3" fill="#3A53A4" stroke="#333333" stroke-width="1.1"/><path d="M1586.6 792.8H1607" stroke="#333333" stroke-width="2.1"/>
<path d="M1618.2 740.8V767" stroke="#333333" stroke-width="1.1"/><path d="M1618.2 794.5V801.8" stroke="#333333" stroke-width="1.1"/><rect x="1608" y="767" width="20.4" height="27.5" fill="#F9BFCB" stroke="#333333" stroke-width="1.1"/><path d="M1608 782.6H1628.4" stroke="#333333" stroke-width="2.1"/>
<path d="M1639.5 707.7V731.4" stroke="#333333" stroke-width="1.1"/><path d="M1639.5 752.4V771" stroke="#333333" stroke-width="1.1"/><rect x="1629.3" y="731.4" width="20.4" height="21" fill="#F9A51A" stroke="#333333" stroke-width="1.1"/><path d="M1629.3 742.4H1649.7" stroke="#333333" stroke-width="2.1"/>
<path d="M1660.8 682.1V692.5" stroke="#333333" stroke-width="1.1"/><path d="M1660.8 705V705.4" stroke="#333333" stroke-width="1.1"/><rect x="1650.6" y="692.5" width="20.4" height="12.5" fill="#E9D9C7" stroke="#333333" stroke-width="1.1"/><path d="M1650.6 697.7H1671" stroke="#333333" stroke-width="2.1"/><circle cx="1660.8" cy="665" r="3.0" fill="#333333"/><circle cx="1660.8" cy="731.4" r="3.0" fill="#333333"/><circle cx="1660.8" cy="734.1" r="3.0" fill="#333333"/>
<path d="M1489.7 777.4V766H1531.8V777.4" fill="none" stroke="#000" stroke-width="2.5"/><text x="1511.2" y="764.3" font-size="12" fill="#000" style="font-family:'Liberation Sans',sans-serif" text-anchor="middle" textLength="25.2" lengthAdjust="spacingAndGlyphs">3e-2</text>
<text x="1394" y="768.5" font-size="16.1" fill="#000" style="font-family:'Liberation Sans',sans-serif" text-anchor="middle" transform="rotate(-90 1394 768.5)">JS</text>
<text x="1568.3" y="947.5" font-size="16" fill="#4D4D4D" style="font-family:'Liberation Sans',sans-serif" text-anchor="middle" textLength="129.2" lengthAdjust="spacingAndGlyphs">seqFISH-embryo</text>
<text x="1744.8" y="510.4" font-size="21.2" fill="#000" style="font-family:'Liberation Sans',sans-serif" textLength="83.2" lengthAdjust="spacingAndGlyphs">Methods</text>
<rect x="1743.1" y="525" width="36.1" height="319.1" fill="#F2F2F2"/>
<path d="M1761.3 528.6V557.2" stroke="#333" stroke-width="1.1"/>
<rect x="1747.7" y="533.8" width="27.2" height="18.2" fill="#BFBFBF" stroke="#333" stroke-width="1.1"/>
<path d="M1747.7 542.9H1774.9" stroke="#333" stroke-width="1.1"/>
<text x="1790" y="549.6" font-size="17.5" fill="#000" style="font-family:'Liberation Sans',sans-serif" textLength="92.9" lengthAdjust="spacingAndGlyphs">VISTA_cell</text>
<path d="M1761.3 564.1V592.6" stroke="#333" stroke-width="1.1"/>
<rect x="1747.7" y="569.2" width="27.2" height="18.2" fill="#F6EB1C" stroke="#333" stroke-width="1.1"/>
<path d="M1747.7 578.4H1774.9" stroke="#333" stroke-width="1.1"/>
<text x="1790" y="585.1" font-size="17.5" fill="#000" style="font-family:'Liberation Sans',sans-serif" textLength="106.8" lengthAdjust="spacingAndGlyphs">VISTA_gene</text>
<path d="M1761.3 599.5V628.1" stroke="#333" stroke-width="1.1"/>
<rect x="1747.7" y="604.7" width="27.2" height="18.2" fill="#EC2027" stroke="#333" stroke-width="1.1"/>
<path d="M1747.7 613.8H1774.9" stroke="#333" stroke-width="1.1"/>
<text x="1790" y="620.5" font-size="17.5" fill="#000" style="font-family:'Liberation Sans',sans-serif" textLength="53.7" lengthAdjust="spacingAndGlyphs">VISTA</text>
<path d="M1761.3 635V663.5" stroke="#333" stroke-width="1.1"/>
<rect x="1747.7" y="640.1" width="27.2" height="18.2" fill="#6ABD45" stroke="#333" stroke-width="1.1"/>
<path d="M1747.7 649.2H1774.9" stroke="#333" stroke-width="1.1"/>
<text x="1790" y="656" font-size="17.5" fill="#000" style="font-family:'Liberation Sans',sans-serif" textLength="48.8" lengthAdjust="spacingAndGlyphs">gimVI</text>
<path d="M1761.3 670.4V699" stroke="#333" stroke-width="1.1"/>
<rect x="1747.7" y="675.6" width="27.2" height="18.2" fill="#8250A4" stroke="#333" stroke-width="1.1"/>
<path d="M1747.7 684.7H1774.9" stroke="#333" stroke-width="1.1"/>
<text x="1790" y="691.4" font-size="17.5" fill="#000" style="font-family:'Liberation Sans',sans-serif" textLength="44.5" lengthAdjust="spacingAndGlyphs">ENVI</text>
<path d="M1761.3 705.9V734.4" stroke="#333" stroke-width="1.1"/>
<rect x="1747.7" y="711" width="27.2" height="18.2" fill="#3A53A4" stroke="#333" stroke-width="1.1"/>
<path d="M1747.7 720.1H1774.9" stroke="#333" stroke-width="1.1"/>
<text x="1790" y="726.9" font-size="17.5" fill="#000" style="font-family:'Liberation Sans',sans-serif" textLength="79.9" lengthAdjust="spacingAndGlyphs">TransImp</text>
<path d="M1761.3 741.3V769.9" stroke="#333" stroke-width="1.1"/>
<rect x="1747.7" y="746.5" width="27.2" height="18.2" fill="#F9BFCB" stroke="#333" stroke-width="1.1"/>
<path d="M1747.7 755.6H1774.9" stroke="#333" stroke-width="1.1"/>
<text x="1790" y="762.3" font-size="17.5" fill="#000" style="font-family:'Liberation Sans',sans-serif" textLength="61.5" lengthAdjust="spacingAndGlyphs">SpaGE</text>
<path d="M1761.3 776.8V805.3" stroke="#333" stroke-width="1.1"/>
<rect x="1747.7" y="781.9" width="27.2" height="18.2" fill="#E9D9C7" stroke="#333" stroke-width="1.1"/>
<path d="M1747.7 791H1774.9" stroke="#333" stroke-width="1.1"/>
<text x="1790" y="797.8" font-size="17.5" fill="#000" style="font-family:'Liberation Sans',sans-serif" textLength="55.1" lengthAdjust="spacingAndGlyphs">SpaIM</text>
<path d="M1761.3 812.2V840.8" stroke="#333" stroke-width="1.1"/>
<rect x="1747.7" y="817.4" width="27.2" height="18.2" fill="#F9A51A" stroke="#333" stroke-width="1.1"/>
<path d="M1747.7 826.5H1774.9" stroke="#333" stroke-width="1.1"/>
<text x="1790" y="833.2" font-size="17.5" fill="#000" style="font-family:'Liberation Sans',sans-serif" textLength="74.2" lengthAdjust="spacingAndGlyphs">Tangram</text>
<rect x="79.8" y="34.7" width="377.2" height="288.6" fill="none" stroke="#666" stroke-width="1.6"/>
<text x="268.3" y="28.6" font-size="12.4" fill="#222" style="font-family:'DejaVu Sans',sans-serif" text-anchor="middle">scClassify</text>
<text x="268.3" y="337.5" font-size="10.6" fill="#111" style="font-family:'DejaVu Sans',sans-serif" text-anchor="middle">spatial1</text>
<text x="74" y="179" font-size="10.6" fill="#111" style="font-family:'DejaVu Sans',sans-serif" text-anchor="middle" transform="rotate(-90 74 179)">spatial2</text>
<circle cx="476.5" cy="113.6" r="3.7" fill="#1f77b4"/>
<text x="495.7" y="116.7" font-size="10.5" fill="#111" style="font-family:'DejaVu Sans',sans-serif">ACTA2+ Myoepi</text>
<circle cx="476.5" cy="129.9" r="3.7" fill="#ff7f0e"/>
<text x="495.7" y="133" font-size="10.5" fill="#111" style="font-family:'DejaVu Sans',sans-serif">B Cells</text>
<circle cx="476.5" cy="146.1" r="3.7" fill="#279e68"/>
<text x="495.7" y="149.2" font-size="10.5" fill="#111" style="font-family:'DejaVu Sans',sans-serif">CD4 T</text>
<circle cx="476.5" cy="162.4" r="3.7" fill="#d62728"/>
<text x="495.7" y="165.5" font-size="10.5" fill="#111" style="font-family:'DejaVu Sans',sans-serif">CD8 T</text>
<circle cx="476.5" cy="178.6" r="3.7" fill="#8556a8"/>
<text x="495.7" y="181.7" font-size="10.5" fill="#111" style="font-family:'DejaVu Sans',sans-serif">CD163+ Macrophage</text>
<circle cx="476.5" cy="194.9" r="3.7" fill="#8c564b"/>
<text x="495.7" y="198" font-size="10.5" fill="#111" style="font-family:'DejaVu Sans',sans-serif">CRABP2+ Malignant</text>
<circle cx="476.5" cy="211.2" r="3.7" fill="#d975b8"/>
<text x="495.7" y="214.3" font-size="10.5" fill="#111" style="font-family:'DejaVu Sans',sans-serif">ECM1+ Malignant</text>
<circle cx="476.5" cy="227.4" r="3.7" fill="#b5bd61"/>
<text x="495.7" y="230.5" font-size="10.5" fill="#111" style="font-family:'DejaVu Sans',sans-serif">Firoblast</text>
<circle cx="476.5" cy="243.7" r="3.7" fill="#17becf"/>
<text x="495.7" y="246.8" font-size="10.5" fill="#111" style="font-family:'DejaVu Sans',sans-serif">IRF7+ DC</text>
<circle cx="639.7" cy="113.6" r="3.7" fill="#aec7e8"/>
<text x="659" y="116.7" font-size="10.5" fill="#111" style="font-family:'DejaVu Sans',sans-serif">KRT15+ Myoepi</text>
<circle cx="639.7" cy="129.9" r="3.7" fill="#ffbb78"/>
<text x="659" y="133" font-size="10.5" fill="#111" style="font-family:'DejaVu Sans',sans-serif">LAMP3+ DC</text>
<circle cx="639.7" cy="146.1" r="3.7" fill="#98df8a"/>
<text x="659" y="149.2" font-size="10.5" fill="#111" style="font-family:'DejaVu Sans',sans-serif">Macrophage</text>
<circle cx="639.7" cy="162.4" r="3.7" fill="#ff9896"/>
<text x="659" y="165.5" font-size="10.5" fill="#111" style="font-family:'DejaVu Sans',sans-serif">Mast cells</text>
<circle cx="639.7" cy="178.6" r="3.7" fill="#c5b0d5"/>
<text x="659" y="181.7" font-size="10.5" fill="#111" style="font-family:'DejaVu Sans',sans-serif">Plasma</text>
<circle cx="639.7" cy="194.9" r="3.7" fill="#c49c94"/>
<text x="659" y="198" font-size="10.5" fill="#111" style="font-family:'DejaVu Sans',sans-serif">SCGB2A2+ Malignant</text>
<circle cx="639.7" cy="211.2" r="3.7" fill="#f7b6d2"/>
<text x="659" y="214.3" font-size="10.5" fill="#111" style="font-family:'DejaVu Sans',sans-serif">STAB2+ Endothelial</text>
<circle cx="639.7" cy="227.4" r="3.7" fill="#dbdb8d"/>
<text x="659" y="230.5" font-size="10.5" fill="#111" style="font-family:'DejaVu Sans',sans-serif">VWF+ Endothelial</text>
<circle cx="639.7" cy="243.7" r="3.7" fill="#9edae5"/>
<text x="659" y="246.8" font-size="10.5" fill="#111" style="font-family:'DejaVu Sans',sans-serif">unassigned</text>
<rect x="987.1" y="34.7" width="226.5" height="277" fill="none" stroke="#333" stroke-width="1"/>
<text x="1100.3" y="28.4" font-size="12.4" fill="#222" style="font-family:'DejaVu Sans',sans-serif" text-anchor="middle">scClassify</text>
<text x="1100.3" y="324" font-size="10.2" fill="#111" style="font-family:'DejaVu Sans',sans-serif" text-anchor="middle">spatial1</text>
<text x="980.5" y="173" font-size="10.2" fill="#111" style="font-family:'DejaVu Sans',sans-serif" text-anchor="middle" transform="rotate(-90 980.5 173)">spatial2</text>
<circle cx="1232.9" cy="89.7" r="3.7" fill="#1f4ba5"/>
<text x="1252.1" y="92.7" font-size="10.4" fill="#2a2a2a" style="font-family:'DejaVu Sans',sans-serif">Allantois</text>
<circle cx="1232.9" cy="105" r="3.7" fill="#8a93c9"/>
<text x="1252.1" y="108" font-size="10.4" fill="#2a2a2a" style="font-family:'DejaVu Sans',sans-serif">Anterior somitic tissues</text>
<circle cx="1232.9" cy="120.2" r="3.7" fill="#c6c8dd"/>
<text x="1252.1" y="123.2" font-size="10.4" fill="#2a2a2a" style="font-family:'DejaVu Sans',sans-serif">Blood progenitors</text>
<circle cx="1232.9" cy="135.4" r="3.7" fill="#dcc3c8"/>
<text x="1252.1" y="138.4" font-size="10.4" fill="#2a2a2a" style="font-family:'DejaVu Sans',sans-serif">Cardiomyocytes</text>
<circle cx="1232.9" cy="150.7" r="3.7" fill="#c9828f"/>
<text x="1252.1" y="153.7" font-size="10.4" fill="#2a2a2a" style="font-family:'DejaVu Sans',sans-serif">Cranial mesoderm</text>
<circle cx="1232.9" cy="165.9" r="3.7" fill="#8e0c3c"/>
<text x="1252.1" y="168.9" font-size="10.4" fill="#2a2a2a" style="font-family:'DejaVu Sans',sans-serif">Definitive endoderm</text>
<circle cx="1232.9" cy="181.2" r="3.7" fill="#4f6cc0"/>
<text x="1252.1" y="184.2" font-size="10.4" fill="#2a2a2a" style="font-family:'DejaVu Sans',sans-serif">Dermomyotome</text>
<circle cx="1232.9" cy="196.4" r="3.7" fill="#8d9ad4"/>
<text x="1252.1" y="199.4" font-size="10.4" fill="#2a2a2a" style="font-family:'DejaVu Sans',sans-serif">Endothelium</text>
<circle cx="1232.9" cy="211.7" r="3.7" fill="#b9c0e6"/>
<text x="1252.1" y="214.7" font-size="10.4" fill="#2a2a2a" style="font-family:'DejaVu Sans',sans-serif">Erythroid</text>
<circle cx="1232.9" cy="226.9" r="3.7" fill="#eab3bb"/>
<text x="1252.1" y="229.9" font-size="10.4" fill="#2a2a2a" style="font-family:'DejaVu Sans',sans-serif">ExE endoderm</text>
<circle cx="1232.9" cy="242.2" r="3.7" fill="#e3788e"/>
<text x="1252.1" y="245.2" font-size="10.4" fill="#2a2a2a" style="font-family:'DejaVu Sans',sans-serif">Forebrain/Midbrain/Hindbrain</text>
<circle cx="1232.9" cy="257.4" r="3.7" fill="#d93f68"/>
<text x="1252.1" y="260.4" font-size="10.4" fill="#2a2a2a" style="font-family:'DejaVu Sans',sans-serif">Gut tube</text>
<circle cx="1434.6" cy="89.7" r="3.7" fill="#3fb54a"/>
<text x="1453.9" y="92.7" font-size="10.4" fill="#2a2a2a" style="font-family:'DejaVu Sans',sans-serif">Haematoendothelial progenitors</text>
<circle cx="1434.6" cy="105" r="3.7" fill="#8fd08e"/>
<text x="1453.9" y="108" font-size="10.4" fill="#2a2a2a" style="font-family:'DejaVu Sans',sans-serif">Intermediate mesoderm</text>
<circle cx="1434.6" cy="120.2" r="3.7" fill="#c5e0c6"/>
<text x="1453.9" y="123.2" font-size="10.4" fill="#2a2a2a" style="font-family:'DejaVu Sans',sans-serif">Lateral plate mesoderm</text>
<circle cx="1434.6" cy="135.4" r="3.7" fill="#ecd3c7"/>
<text x="1453.9" y="138.4" font-size="10.4" fill="#2a2a2a" style="font-family:'DejaVu Sans',sans-serif">Low quality</text>
<circle cx="1434.6" cy="150.7" r="3.7" fill="#f0b78c"/>
<text x="1453.9" y="153.7" font-size="10.4" fill="#2a2a2a" style="font-family:'DejaVu Sans',sans-serif">Mixed mesenchymal mesoderm</text>
<circle cx="1434.6" cy="165.9" r="3.7" fill="#f0921e"/>
<text x="1453.9" y="168.9" font-size="10.4" fill="#2a2a2a" style="font-family:'DejaVu Sans',sans-serif">NMP</text>
<circle cx="1434.6" cy="181.2" r="3.7" fill="#3fbdb3"/>
<text x="1453.9" y="184.2" font-size="10.4" fill="#2a2a2a" style="font-family:'DejaVu Sans',sans-serif">Neural crest</text>
<circle cx="1434.6" cy="196.4" r="3.7" fill="#97d9cf"/>
<text x="1453.9" y="199.4" font-size="10.4" fill="#2a2a2a" style="font-family:'DejaVu Sans',sans-serif">Presomitic mesoderm</text>
<circle cx="1434.6" cy="211.7" r="3.7" fill="#d2ece8"/>
<text x="1453.9" y="214.7" font-size="10.4" fill="#2a2a2a" style="font-family:'DejaVu Sans',sans-serif">Sclerotome</text>
<circle cx="1434.6" cy="226.9" r="3.7" fill="#f5dde8"/>
<text x="1453.9" y="229.9" font-size="10.4" fill="#2a2a2a" style="font-family:'DejaVu Sans',sans-serif">Spinal cord</text>
<circle cx="1434.6" cy="242.2" r="3.7" fill="#f5bcd9"/>
<text x="1453.9" y="245.2" font-size="10.4" fill="#2a2a2a" style="font-family:'DejaVu Sans',sans-serif">Splanchnic mesoderm</text>
<circle cx="1434.6" cy="257.4" r="3.7" fill="#ee9ac6"/>
<text x="1453.9" y="260.4" font-size="10.4" fill="#2a2a2a" style="font-family:'DejaVu Sans',sans-serif">Surface ectoderm</text>
<text x="173.6" y="1018" font-size="28.6" fill="#1a1a1a" style="font-family:'Liberation Sans',sans-serif" text-anchor="middle">KRT7</text>
<text x="468.4" y="1018" font-size="28.6" fill="#1a1a1a" style="font-family:'Liberation Sans',sans-serif" text-anchor="middle">TACSTD2</text>
<text x="755" y="1018" font-size="28.6" fill="#1a1a1a" style="font-family:'Liberation Sans',sans-serif" text-anchor="middle">SCD</text>
<text x="175.4" y="1311" font-size="28.6" fill="#1a1a1a" style="font-family:'Liberation Sans',sans-serif" text-anchor="middle">SCC=0.90</text>
<text x="468.4" y="1311" font-size="28.6" fill="#1a1a1a" style="font-family:'Liberation Sans',sans-serif" text-anchor="middle">SCC=0.84</text>
<text x="752.5" y="1311" font-size="28.6" fill="#1a1a1a" style="font-family:'Liberation Sans',sans-serif" text-anchor="middle">SCC=0.82</text>
<text x="905.8" y="1154.4" font-size="27.8" fill="#1a1a1a" style="font-family:'Liberation Sans',sans-serif">Raw</text>
<text x="907.6" y="1430.5" font-size="27.8" fill="#1a1a1a" style="font-family:'Liberation Sans',sans-serif" textLength="80.6" lengthAdjust="spacingAndGlyphs">VISTA</text>
<text x="1159.7" y="978.7" font-size="26.5" fill="#1a1a1a" style="font-family:'Liberation Sans',sans-serif" text-anchor="middle" textLength="64.9" lengthAdjust="spacingAndGlyphs">Sox4</text>
<text x="1433.1" y="978.7" font-size="26.5" fill="#1a1a1a" style="font-family:'Liberation Sans',sans-serif" text-anchor="middle" textLength="74.3" lengthAdjust="spacingAndGlyphs">Tcf7l1</text>
<text x="1748.5" y="978.7" font-size="26.5" fill="#1a1a1a" style="font-family:'Liberation Sans',sans-serif" text-anchor="middle" textLength="68" lengthAdjust="spacingAndGlyphs">Cdh2</text>
<text x="1171.2" y="1289.5" font-size="26.5" fill="#1a1a1a" style="font-family:'Liberation Sans',sans-serif" text-anchor="middle" textLength="132.1" lengthAdjust="spacingAndGlyphs">SCC=0.67</text>
<text x="1456.6" y="1289.5" font-size="26.5" fill="#1a1a1a" style="font-family:'Liberation Sans',sans-serif" text-anchor="middle" textLength="132.1" lengthAdjust="spacingAndGlyphs">SCC=0.61</text>
<text x="1741" y="1289.5" font-size="26.5" fill="#1a1a1a" style="font-family:'Liberation Sans',sans-serif" text-anchor="middle" textLength="132.1" lengthAdjust="spacingAndGlyphs">SCC=0.57</text>
<defs><linearGradient id="cb" x1="0" y1="1" x2="0" y2="0">
<stop offset="0%" stop-color="#053061"/>
<stop offset="10%" stop-color="#2166ac"/>
<stop offset="20%" stop-color="#4393c3"/>
<stop offset="30%" stop-color="#92c5de"/>
<stop offset="40%" stop-color="#d1e5f0"/>
<stop offset="50%" stop-color="#f7f7f7"/>
<stop offset="60%" stop-color="#fddbc7"/>
<stop offset="70%" stop-color="#f4a582"/>
<stop offset="80%" stop-color="#d6604d"/>
<stop offset="90%" stop-color="#b2182b"/>
<stop offset="100%" stop-color="#67001f"/>
</linearGradient></defs>
<rect x="1894.2" y="957.5" width="20.4" height="618.9" fill="url(#cb)" stroke="#000" stroke-width="1"/>
<path d="M1914.6 1576.2H1922.8" stroke="#000" stroke-width="1"/>
<path d="M1914.6 1444H1922.8" stroke="#000" stroke-width="1"/>
<path d="M1914.6 1311.7H1922.8" stroke="#000" stroke-width="1"/>
<path d="M1914.6 1179.4H1922.8" stroke="#000" stroke-width="1"/>
<path d="M1914.6 1047.2H1922.8" stroke="#000" stroke-width="1"/>
<text x="1940.2" y="966.6" font-size="26.5" fill="#1a1a1a" style="font-family:'Liberation Sans',sans-serif">High</text>
<text x="1940.2" y="1568.3" font-size="26.5" fill="#1a1a1a" style="font-family:'Liberation Sans',sans-serif">Low</text>
</svg></body></html>
